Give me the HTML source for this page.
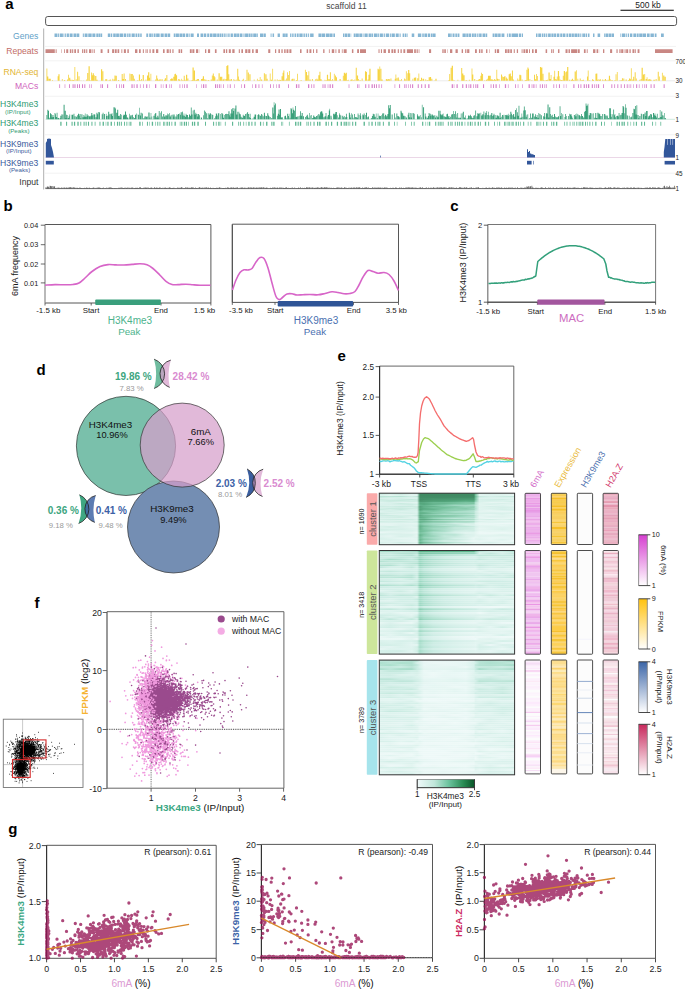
<!DOCTYPE html>
<html><head><meta charset="utf-8"><style>
html,body{margin:0;padding:0;background:#fff;}
svg{display:block;}
text{font-family:"Liberation Sans", sans-serif;}
</style></head><body>
<svg width="685" height="990" viewBox="0 0 685 990">
<rect width="685" height="990" fill="#fff"/>
<text x="5.3" y="8.6" font-size="15" fill="#000" font-weight="bold">a</text>
<text x="346.5" y="8.8" font-size="8.5" fill="#444" text-anchor="middle">scaffold 11</text>
<text x="648" y="8.2" font-size="8.5" fill="#222" text-anchor="middle">500 kb</text>
<line x1="620.5" y1="10.3" x2="673.8" y2="10.3" stroke="#000" stroke-width="1.1"/>
<rect x="45.6" y="16.5" width="631" height="9" rx="2.2" fill="none" stroke="#555" stroke-width="1"/>
<line x1="43.7" y1="28.5" x2="43.7" y2="189.5" stroke="#9a9a9a" stroke-width="0.8"/>
<line x1="45" y1="46.4" x2="676" y2="46.4" stroke="#ececec" stroke-width="0.7"/>
<line x1="45" y1="60.8" x2="676" y2="60.8" stroke="#ececec" stroke-width="0.7"/>
<line x1="45" y1="96.3" x2="676" y2="96.3" stroke="#ececec" stroke-width="0.7"/>
<line x1="45" y1="134.7" x2="676" y2="134.7" stroke="#ececec" stroke-width="0.7"/>
<line x1="45" y1="173.2" x2="676" y2="173.2" stroke="#ececec" stroke-width="0.7"/>
<text x="38.3" y="38.8" font-size="8.6" fill="#5f9fc8" text-anchor="end">Genes</text>
<text x="38.3" y="54" font-size="8.6" fill="#c26c66" text-anchor="end">Repeats</text>
<text x="38.3" y="74.6" font-size="8.6" fill="#e2b532" text-anchor="end">RNA-seq</text>
<text x="38.3" y="89.4" font-size="8.6" fill="#d063bd" text-anchor="end">MACs</text>
<text x="38.3" y="106.9" font-size="8.6" fill="#2f9a72" text-anchor="end">H3K4me3</text>
<text x="17.8" y="113.9" font-size="6.2" fill="#2f9a72" text-anchor="middle">(IP/Input)</text>
<text x="38.3" y="125.9" font-size="8.6" fill="#2f9a72" text-anchor="end">H3K4me3</text>
<text x="18.8" y="132.6" font-size="6.2" fill="#2f9a72" text-anchor="middle">(Peaks)</text>
<text x="38.3" y="146.6" font-size="8.6" fill="#3b5c9c" text-anchor="end">H3K9me3</text>
<text x="18.8" y="153.2" font-size="6.2" fill="#3b5c9c" text-anchor="middle">(IP/Input)</text>
<text x="38.3" y="165.7" font-size="8.6" fill="#3b5c9c" text-anchor="end">H3K9me3</text>
<text x="19.6" y="172.4" font-size="6.2" fill="#3b5c9c" text-anchor="middle">(Peaks)</text>
<text x="38.4" y="185.2" font-size="8.6" fill="#333" text-anchor="end">Input</text>
<text x="675.5" y="63.8" font-size="6.3" fill="#222">700</text>
<text x="675.5" y="83.2" font-size="6.3" fill="#222">30</text>
<text x="675.5" y="97.8" font-size="6.3" fill="#222">3</text>
<text x="675.5" y="121.8" font-size="6.3" fill="#222">1</text>
<text x="675.5" y="137.6" font-size="6.3" fill="#222">9</text>
<text x="675.5" y="160.2" font-size="6.3" fill="#222">1</text>
<text x="675.5" y="175.8" font-size="6.3" fill="#222">45</text>
<text x="675.5" y="190.8" font-size="6.3" fill="#222">1</text>
<path d="M54.5 33.5h2.53v3.5h-2.53zM57.52 33.5h1.4v3.5h-1.4zM59.7 33.5h3.21v3.5h-3.21zM63.5 33.5h0.88v3.5h-0.88zM65.03 33.5h0.87v3.5h-0.87zM66.66 33.5h2.27v3.5h-2.27zM69.64 33.5h2.99v3.5h-2.99zM73.49 33.5h2.68v3.5h-2.68zM76.59 33.5h2.71v3.5h-2.71zM82.8 33.5h1.06v3.5h-1.06zM84.58 33.5h2.98v3.5h-2.98zM88.24 33.5h3.43v3.5h-3.43zM92.35 33.5h3.04v3.5h-3.04zM96.29 33.5h2.36v3.5h-2.36zM98.99 33.5h1.42v3.5h-1.42zM100.76 33.5h1.43v3.5h-1.43zM107.8 33.5h2.52v3.5h-2.52zM110.88 33.5h1.37v3.5h-1.37zM113.2 33.5h2.55v3.5h-2.55zM116.17 33.5h2.77v3.5h-2.77zM119.5 33.5h3.47v3.5h-3.47zM123.66 33.5h2.65v3.5h-2.65zM127.15 33.5h1.42v3.5h-1.42zM129.09 33.5h1.52v3.5h-1.52zM131.58 33.5h3.17v3.5h-3.17zM135.5 33.5h1.87v3.5h-1.87zM137.99 33.5h1.52v3.5h-1.52zM140.2 33.5h1.51v3.5h-1.51zM146.3 33.5h1.88v3.5h-1.88zM149.18 33.5h2.18v3.5h-2.18zM151.69 33.5h1.1v3.5h-1.1zM153.64 33.5h1.94v3.5h-1.94zM156.14 33.5h3.49v3.5h-3.49zM160.61 33.5h3.12v3.5h-3.12zM164.54 33.5h2.64v3.5h-2.64zM167.67 33.5h2.53v3.5h-2.53zM173.74 33.5h1.51v3.5h-1.51zM175.68 33.5h3.26v3.5h-3.26zM179.45 33.5h2.53v3.5h-2.53zM182.38 33.5h2.86v3.5h-2.86zM186.09 33.5h2.23v3.5h-2.23zM188.85 33.5h0.85v3.5h-0.85zM190.61 33.5h3.05v3.5h-3.05zM197 33.5h2v3.5h-2zM200.5 33.5h2.87v3.5h-2.87zM204 33.5h2.28v3.5h-2.28zM207.2 33.5h1.94v3.5h-1.94zM209.82 33.5h2.77v3.5h-2.77zM213.1 33.5h3.49v3.5h-3.49zM217.2 33.5h2.2v3.5h-2.2zM219.85 33.5h1.71v3.5h-1.71zM222.03 33.5h1.39v3.5h-1.39zM224.16 33.5h1.42v3.5h-1.42zM226.48 33.5h0.99v3.5h-0.99zM228.24 33.5h1.38v3.5h-1.38zM230.58 33.5h2.34v3.5h-2.34zM233.77 33.5h2.98v3.5h-2.98zM237.12 33.5h1.96v3.5h-1.96zM239.71 33.5h2.77v3.5h-2.77zM243.46 33.5h1.07v3.5h-1.07zM245.07 33.5h3.13v3.5h-3.13zM248.63 33.5h2.01v3.5h-2.01zM251.13 33.5h1.47v3.5h-1.47zM253.22 33.5h3.13v3.5h-3.13zM256.68 33.5h1.12v3.5h-1.12zM260 33.5h3.3v3.5h-3.3zM263.72 33.5h2.11v3.5h-2.11zM270.6 33.5h0.96v3.5h-0.96zM272.55 33.5h1.52v3.5h-1.52zM277.62 33.5h2.3v3.5h-2.3zM282.64 33.5h2.26v3.5h-2.26zM285.24 33.5h2.38v3.5h-2.38zM290.1 33.5h1.3v3.5h-1.3zM292.17 33.5h1.44v3.5h-1.44zM294.53 33.5h1.46v3.5h-1.46zM296.73 33.5h1.93v3.5h-1.93zM299.33 33.5h3.32v3.5h-3.32zM303.45 33.5h1.44v3.5h-1.44zM305.66 33.5h1.61v3.5h-1.61zM308.1 33.5h1v3.5h-1zM310.1 33.5h3.49v3.5h-3.49zM318.43 33.5h3.17v3.5h-3.17zM322.02 33.5h3.05v3.5h-3.05zM325.8 33.5h3.47v3.5h-3.47zM329.57 33.5h3.01v3.5h-3.01zM333.34 33.5h1.66v3.5h-1.66zM343 33.5h1.09v3.5h-1.09zM344.58 33.5h2.43v3.5h-2.43zM347.46 33.5h2.51v3.5h-2.51zM350.61 33.5h0.59v3.5h-0.59zM353.7 33.5h1.94v3.5h-1.94zM355.95 33.5h2.88v3.5h-2.88zM359.31 33.5h2.8v3.5h-2.8zM362.71 33.5h0.83v3.5h-0.83zM364.46 33.5h3.24v3.5h-3.24zM368.58 33.5h2.37v3.5h-2.37zM371.34 33.5h1.63v3.5h-1.63zM373.83 33.5h3.12v3.5h-3.12zM377.4 33.5h1.47v3.5h-1.47zM379.72 33.5h3.19v3.5h-3.19zM383.65 33.5h1.22v3.5h-1.22zM385.77 33.5h3.44v3.5h-3.44zM390.12 33.5h0.87v3.5h-0.87zM391.52 33.5h3.31v3.5h-3.31zM395.74 33.5h2.99v3.5h-2.99zM399.58 33.5h1.09v3.5h-1.09zM402.6 33.5h1.4v3.5h-1.4zM404.62 33.5h1.62v3.5h-1.62zM406.71 33.5h0.86v3.5h-0.86zM411.73 33.5h2.53v3.5h-2.53zM417.88 33.5h3.42v3.5h-3.42zM422.27 33.5h1.52v3.5h-1.52zM424.39 33.5h2.77v3.5h-2.77zM427.88 33.5h2.18v3.5h-2.18zM430.77 33.5h1.49v3.5h-1.49zM432.56 33.5h3.04v3.5h-3.04zM448 33.5h2.8v3.5h-2.8zM451.36 33.5h0.99v3.5h-0.99zM452.88 33.5h1.65v3.5h-1.65zM455.33 33.5h1.61v3.5h-1.61zM457.53 33.5h1.89v3.5h-1.89zM462.51 33.5h3.24v3.5h-3.24zM466.26 33.5h2.28v3.5h-2.28zM469.04 33.5h1.96v3.5h-1.96zM471.76 33.5h2.06v3.5h-2.06zM474.26 33.5h2.08v3.5h-2.08zM477.2 33.5h1.26v3.5h-1.26zM479.12 33.5h2.51v3.5h-2.51zM482.5 33.5h2.83v3.5h-2.83zM485.78 33.5h1.34v3.5h-1.34zM487.59 33.5h0.11v3.5h-0.11zM492.6 33.5h1.92v3.5h-1.92zM494.96 33.5h2.68v3.5h-2.68zM498.11 33.5h2.57v3.5h-2.57zM501.5 33.5h2.88v3.5h-2.88zM506.92 33.5h0.94v3.5h-0.94zM508.75 33.5h2.03v3.5h-2.03zM511.55 33.5h3.45v3.5h-3.45zM515 33.5h3.21v3.5h-3.21zM519.01 33.5h2.16v3.5h-2.16zM521.86 33.5h1.14v3.5h-1.14zM536 33.5h1.5v3.5h-1.5zM538.25 33.5h2.87v3.5h-2.87zM541.85 33.5h1.54v3.5h-1.54zM543.89 33.5h1.53v3.5h-1.53zM546.11 33.5h1.17v3.5h-1.17zM548.07 33.5h2.71v3.5h-2.71zM551.36 33.5h2.27v3.5h-2.27zM554.07 33.5h1.93v3.5h-1.93zM556.71 33.5h2.68v3.5h-2.68zM560.22 33.5h1.83v3.5h-1.83zM562.6 33.5h2.83v3.5h-2.83zM566.4 33.5h1.93v3.5h-1.93zM569.01 33.5h2.43v3.5h-2.43zM571.9 33.5h1.98v3.5h-1.98zM574.41 33.5h2.63v3.5h-2.63zM577.46 33.5h2.06v3.5h-2.06zM580.25 33.5h0.87v3.5h-0.87zM581.82 33.5h0.87v3.5h-0.87zM583.09 33.5h2.05v3.5h-2.05zM585.7 33.5h1.37v3.5h-1.37zM587.91 33.5h1.59v3.5h-1.59zM593 33.5h1.48v3.5h-1.48zM597.6 33.5h2.56v3.5h-2.56zM604.18 33.5h0.86v3.5h-0.86zM605.43 33.5h2.61v3.5h-2.61zM608.49 33.5h2.69v3.5h-2.69zM611.59 33.5h2.41v3.5h-2.41zM620.39 33.5h0.87v3.5h-0.87zM622.03 33.5h3.39v3.5h-3.39zM626.22 33.5h1.01v3.5h-1.01zM627.96 33.5h1.08v3.5h-1.08zM629.93 33.5h2.42v3.5h-2.42zM633.34 33.5h2.91v3.5h-2.91zM636.86 33.5h1.8v3.5h-1.8zM639.2 33.5h3.09v3.5h-3.09zM642.66 33.5h3.39v3.5h-3.39zM646.94 33.5h2.71v3.5h-2.71zM650.46 33.5h3.41v3.5h-3.41zM654.73 33.5h1.77v3.5h-1.77zM661 33.5h2.77v3.5h-2.77z" stroke="none" fill="#86b6d4" stroke-width="1"/>
<path d="M45.5 49.3h2.11v3.6h-2.11zM49.62 49.3h1.11v3.6h-1.11zM52.31 49.3h1.34v3.6h-1.34zM55.62 49.3h1.01v3.6h-1.01zM61.51 49.3h0.49v3.6h-0.49zM64 49.3h0.85v3.6h-0.85zM66.23 49.3h1.99v3.6h-1.99zM69.85 49.3h1.53v3.6h-1.53zM72.13 49.3h1.08v3.6h-1.08zM74.3 49.3h1.69v3.6h-1.69zM77.44 49.3h1.42v3.6h-1.42zM79.99 49.3h0.01v3.6h-0.01zM82 49.3h0.91v3.6h-0.91zM83.7 49.3h1.61v3.6h-1.61zM86.2 49.3h1.07v3.6h-1.07zM89.03 49.3h2.36v3.6h-2.36zM92.44 49.3h0.87v3.6h-0.87zM94.28 49.3h0.72v3.6h-0.72zM100.65 49.3h1.89v3.6h-1.89zM107.58 49.3h1.5v3.6h-1.5zM112.12 49.3h2.1v3.6h-2.1zM114.94 49.3h1.77v3.6h-1.77zM117.55 49.3h1.66v3.6h-1.66zM121.4 49.3h0.9v3.6h-0.9zM123.87 49.3h2.04v3.6h-2.04zM127.35 49.3h1.47v3.6h-1.47zM135 49.3h2.38v3.6h-2.38zM138.98 49.3h1.74v3.6h-1.74zM142.83 49.3h1.05v3.6h-1.05zM145.54 49.3h0.97v3.6h-0.97zM147.23 49.3h0.7v3.6h-0.7zM149.48 49.3h1.2v3.6h-1.2zM152.41 49.3h1.9v3.6h-1.9zM156 49.3h2.27v3.6h-2.27zM162.98 49.3h1.63v3.6h-1.63zM166.66 49.3h2.11v3.6h-2.11zM169.63 49.3h1.22v3.6h-1.22zM172.36 49.3h1.19v3.6h-1.19zM178.54 49.3h1.54v3.6h-1.54zM180.75 49.3h1.43v3.6h-1.43zM189.85 49.3h1.84v3.6h-1.84zM192.36 49.3h1.99v3.6h-1.99zM195.99 49.3h2.26v3.6h-2.26zM199.78 49.3h0.22v3.6h-0.22zM205 49.3h1.29v3.6h-1.29zM207.96 49.3h2.16v3.6h-2.16zM214.92 49.3h1.64v3.6h-1.64zM223.39 49.3h1.62v3.6h-1.62zM225.91 49.3h1.32v3.6h-1.32zM228.82 49.3h1.99v3.6h-1.99zM232.29 49.3h2.28v3.6h-2.28zM238.77 49.3h1.11v3.6h-1.11zM241.36 49.3h1.64v3.6h-1.64zM245.18 49.3h2.25v3.6h-2.25zM248.22 49.3h2.11v3.6h-2.11zM252.08 49.3h1.57v3.6h-1.57zM255.59 49.3h2.37v3.6h-2.37zM268.24 49.3h2.04v3.6h-2.04zM274.99 49.3h1.21v3.6h-1.21zM278.4 49.3h1.53v3.6h-1.53zM281.39 49.3h1.29v3.6h-1.29zM284.15 49.3h1.47v3.6h-1.47zM286.52 49.3h1.89v3.6h-1.89zM289.38 49.3h2.02v3.6h-2.02zM300 49.3h1.54v3.6h-1.54zM306.65 49.3h1.45v3.6h-1.45zM309.43 49.3h1.93v3.6h-1.93zM313 49.3h0.96v3.6h-0.96zM316.12 49.3h1.28v3.6h-1.28zM323.15 49.3h1.35v3.6h-1.35zM328.9 49.3h0.82v3.6h-0.82zM331.79 49.3h2.4v3.6h-2.4zM335.48 49.3h0.87v3.6h-0.87zM338.34 49.3h1.45v3.6h-1.45zM341.84 49.3h0.78v3.6h-0.78zM343.69 49.3h1.31v3.6h-1.31zM345 49.3h1.66v3.6h-1.66zM351.9 49.3h1.48v3.6h-1.48zM357.15 49.3h1.85v3.6h-1.85zM360.31 49.3h1.29v3.6h-1.29zM363.22 49.3h1.42v3.6h-1.42zM378.5 49.3h1.04v3.6h-1.04zM380.91 49.3h1.1v3.6h-1.1zM383.53 49.3h2.39v3.6h-2.39zM388.09 49.3h1.82v3.6h-1.82zM391.41 49.3h1.87v3.6h-1.87zM393.96 49.3h1.73v3.6h-1.73zM397.73 49.3h1.19v3.6h-1.19zM400.49 49.3h1.3v3.6h-1.3zM403.38 49.3h1.85v3.6h-1.85zM406.89 49.3h2.13v3.6h-2.13zM411.06 49.3h1.8v3.6h-1.8zM414.17 49.3h1.69v3.6h-1.69zM416.59 49.3h1.2v3.6h-1.2zM418.68 49.3h0.72v3.6h-0.72zM429.04 49.3h2.07v3.6h-2.07zM442.33 49.3h1.32v3.6h-1.32zM444.27 49.3h1.61v3.6h-1.61zM447.56 49.3h0.44v3.6h-0.44zM450 49.3h2.3v3.6h-2.3zM455.51 49.3h2.26v3.6h-2.26zM461.65 49.3h1.39v3.6h-1.39zM465.16 49.3h1.22v3.6h-1.22zM467.14 49.3h2.21v3.6h-2.21zM475 49.3h1.84v3.6h-1.84zM478.95 49.3h1.41v3.6h-1.41zM481.21 49.3h1.41v3.6h-1.41zM486.05 49.3h1.33v3.6h-1.33zM489.5 49.3h0.5v3.6h-0.5zM494.8 49.3h1.38v3.6h-1.38zM496.97 49.3h2.14v3.6h-2.14zM505 49.3h1.79v3.6h-1.79zM507.43 49.3h2.04v3.6h-2.04zM510.26 49.3h1.66v3.6h-1.66zM513.75 49.3h1.05v3.6h-1.05zM516.79 49.3h1.26v3.6h-1.26zM521.63 49.3h0.92v3.6h-0.92zM523.43 49.3h1.82v3.6h-1.82zM525.88 49.3h2.04v3.6h-2.04zM529.04 49.3h0.96v3.6h-0.96zM532 49.3h1.59v3.6h-1.59zM534.96 49.3h2.02v3.6h-2.02zM545.62 49.3h1.51v3.6h-1.51zM551.08 49.3h0.84v3.6h-0.84zM552.63 49.3h1.17v3.6h-1.17zM557.97 49.3h1.47v3.6h-1.47zM565.53 49.3h2.01v3.6h-2.01zM568.49 49.3h1.47v3.6h-1.47zM571.1 49.3h1.47v3.6h-1.47zM573.32 49.3h1.43v3.6h-1.43zM577.61 49.3h2.11v3.6h-2.11zM583.92 49.3h1.7v3.6h-1.7zM586.75 49.3h0.91v3.6h-0.91zM593.05 49.3h2.35v3.6h-2.35zM596.56 49.3h1.68v3.6h-1.68zM599.89 49.3h0.11v3.6h-0.11zM603 49.3h1.32v3.6h-1.32zM610.07 49.3h2.09v3.6h-2.09zM616.47 49.3h1.15v3.6h-1.15zM619.35 49.3h1.23v3.6h-1.23zM621.18 49.3h2.18v3.6h-2.18zM624.6 49.3h0.94v3.6h-0.94zM626.19 49.3h1.97v3.6h-1.97zM629.43 49.3h1.28v3.6h-1.28zM632.46 49.3h2.02v3.6h-2.02zM635.22 49.3h0.79v3.6h-0.79zM637.6 49.3h1.85v3.6h-1.85zM655 49.3h1.53v3.6h-1.53zM657.56 49.3h1.98v3.6h-1.98zM660.83 49.3h1.18v3.6h-1.18zM663.39 49.3h1.83v3.6h-1.83zM666.46 49.3h1.72v3.6h-1.72zM669.26 49.3h1.06v3.6h-1.06zM671.33 49.3h1.26v3.6h-1.26zM45.8 49.3h9v3.6h-9zM360 49.3h6v3.6h-6zM408 49.3h5v3.6h-5zM572 49.3h5v3.6h-5zM655 49.3h17v3.6h-17z" stroke="none" fill="#c98783" stroke-width="1"/>
<line x1="45.5" y1="80.8" x2="675" y2="80.8" stroke="#dddddd" stroke-width="0.6"/>
<path d="M46.5 68.44h0.8v12.36h-0.8zM47.3 76.44h1v4.36h-1zM48.54 78.83h1.2v1.97h-1.2zM49.76 78.66h1v2.14h-1zM52.22 79.92h0.8v0.88h-0.8zM57.62 76.36h1.2v4.44h-1.2zM58.39 74.34h1.2v6.46h-1.2zM61.86 78.93h0.8v1.87h-0.8zM63.95 80.1h1.2v0.7h-1.2zM67.01 79.58h1.2v1.22h-1.2zM68.03 74.77h0.8v6.03h-0.8zM69.09 77.63h1.2v3.17h-1.2zM69.9 79.82h1v0.98h-1zM71.38 79.8h1.2v1h-1.2zM72.17 80.27h1v0.53h-1zM73.06 79.95h1v0.85h-1zM74.46 67.12h0.8v13.68h-0.8zM75.81 79.22h0.8v1.58h-0.8zM77.12 71.85h1v8.95h-1zM78.52 76.33h1v4.47h-1zM80.5 80.4h1v0.4h-1zM82.91 80.48h0.8v0.32h-0.8zM86.23 79.42h0.8v1.38h-0.8zM87.22 72.89h1v7.91h-1zM88.53 66.27h1.2v14.53h-1.2zM89.72 80.32h1v0.48h-1zM91.06 72.47h0.8v8.33h-0.8zM91.92 75.34h0.8v5.46h-0.8zM92.65 73.35h1.2v7.45h-1.2zM93.71 75.24h1v5.56h-1zM95.16 76.05h1.2v4.75h-1.2zM96.45 79.86h1.2v0.94h-1.2zM101 69.3h1.2v11.5h-1.2zM102.39 71.33h1v9.47h-1zM105.19 79.13h1.2v1.67h-1.2zM106.27 79.13h1v1.67h-1zM108.6 79.9h0.8v0.9h-0.8zM109.63 79.55h1.2v1.25h-1.2zM112.36 78.77h0.8v2.03h-0.8zM113.51 79.58h1v1.22h-1zM114.46 75.44h1v5.36h-1zM115.6 75.63h1.2v5.17h-1.2zM118 80.03h1.2v0.77h-1.2zM121.69 73.98h1v6.82h-1zM122.67 79.11h1v1.69h-1zM123.6 73.53h1v7.27h-1zM124.95 79.09h1v1.71h-1zM129.46 73.55h0.8v7.25h-0.8zM130.65 73.9h1.2v6.9h-1.2zM132.08 74.02h0.8v6.78h-0.8zM133.11 75.6h0.8v5.2h-0.8zM133.81 78.73h1v2.07h-1zM137.42 79.96h0.8v0.84h-0.8zM138.85 74.46h1.2v6.34h-1.2zM140.14 80.24h0.8v0.56h-0.8zM141.17 78.9h0.8v1.9h-0.8zM142.67 75.01h1.2v5.79h-1.2zM145.54 79.42h0.8v1.38h-0.8zM146.98 75.49h1.2v5.31h-1.2zM148.12 72.23h1.2v8.57h-1.2zM149.19 77.8h0.8v3h-0.8zM150.48 73.71h0.8v7.09h-0.8zM155.18 79.53h0.8v1.27h-0.8zM156.2 75.59h1v5.21h-1zM157.16 78.45h0.8v2.35h-0.8zM158.22 79.87h1.2v0.93h-1.2zM159.49 79.26h1.2v1.54h-1.2zM161.46 79.2h1.2v1.6h-1.2zM163.98 79.75h0.8v1.05h-0.8zM164.86 78.13h1.2v2.67h-1.2zM166.35 75.12h1v5.68h-1zM170.26 79h1.2v1.8h-1.2zM171.32 78.25h1.2v2.55h-1.2zM172.11 78.95h0.8v1.85h-0.8zM173.26 76.7h1.2v4.1h-1.2zM174.32 74.29h1v6.51h-1zM175.09 73.73h1v7.07h-1zM175.9 75.24h1.2v5.56h-1.2zM178.24 78.95h1.2v1.85h-1.2zM179.12 79.69h1.2v1.11h-1.2zM181.32 78.73h0.8v2.07h-0.8zM182.25 80.24h1.2v0.56h-1.2zM183.73 75.68h1v5.12h-1zM184.79 79.73h0.8v1.07h-0.8zM186.03 74.87h1.2v5.93h-1.2zM187.42 78.61h1v2.19h-1zM189.42 80.46h1v0.34h-1zM191.53 80.06h1v0.74h-1zM192.51 67.48h1.2v13.32h-1.2zM193.82 70.38h1.2v10.42h-1.2zM195.14 80.28h0.8v0.52h-0.8zM195.89 79.65h1.2v1.15h-1.2zM197.15 79.09h1v1.71h-1zM198.2 79.07h0.8v1.73h-0.8zM201.06 79.03h1v1.77h-1zM201.95 78.82h1.2v1.98h-1.2zM202.83 76.22h1.2v4.58h-1.2zM204.23 79.36h1v1.44h-1zM205.38 79.85h1.2v0.95h-1.2zM207.57 80.22h1v0.58h-1zM208.42 80.04h0.8v0.76h-0.8zM210.7 79.46h1v1.34h-1zM211.85 75.43h0.8v5.37h-0.8zM212.81 73.5h1v7.3h-1zM213.59 75.92h1v4.88h-1zM214.59 77.33h0.8v3.47h-0.8zM216.72 79.59h1v1.21h-1zM218.53 73.34h1.2v7.46h-1.2zM220.03 76.8h1.2v4h-1.2zM221.29 76.82h1v3.98h-1zM222.61 79.49h1v1.31h-1zM223.56 78.82h1v1.98h-1zM225.42 78.93h1v1.87h-1zM226.37 66.11h1.2v14.69h-1.2zM227.18 65.25h1.2v15.55h-1.2zM228.46 74.3h0.8v6.5h-0.8zM229.46 79.55h1.2v1.25h-1.2zM230.92 79.05h1v1.75h-1zM233.48 78.99h0.8v1.81h-0.8zM234.29 80.15h1.2v0.65h-1.2zM235.79 79.51h0.8v1.29h-0.8zM237.24 68.85h1v11.95h-1zM238.05 76.43h0.8v4.37h-0.8zM238.76 79.79h1.2v1.01h-1.2zM242.11 79.72h0.8v1.08h-0.8zM243.24 78.64h0.8v2.16h-0.8zM245.38 80.03h0.8v0.77h-0.8zM246.5 69.85h1v10.95h-1zM247.85 72.41h1v8.39h-1zM249.32 74.17h1.2v6.63h-1.2zM253.74 79.45h0.8v1.35h-0.8zM256.93 78.64h0.8v2.16h-0.8zM258.35 79.96h1.2v0.84h-1.2zM259.76 77.08h0.8v3.72h-0.8zM261.01 79.47h1.2v1.33h-1.2zM263.86 73.16h1v7.64h-1zM265.3 74.25h1.2v6.55h-1.2zM266.67 78.8h1v2h-1zM269.77 73.45h0.8v7.35h-0.8zM270.82 79.79h1.2v1.01h-1.2zM272.28 68.82h0.8v11.98h-0.8zM274.55 79.45h1v1.35h-1zM276.82 79.32h0.8v1.48h-0.8zM278.09 80.21h1.2v0.59h-1.2zM279.42 79.76h1v1.04h-1zM280.21 79.91h1v0.89h-1zM281.52 76.19h1v4.61h-1zM282.57 72.68h0.8v8.12h-0.8zM283.35 70.62h1v10.18h-1zM284.74 79.71h0.8v1.09h-0.8zM286.02 78.61h0.8v2.19h-0.8zM287.17 72.2h0.8v8.6h-0.8zM288.09 75.03h0.8v5.77h-0.8zM289.14 70.95h0.8v9.85h-0.8zM291.4 79.33h1v1.47h-1zM292.19 78.7h1v2.1h-1zM293.56 78.86h1v1.94h-1zM295.92 80.1h1v0.7h-1zM297.1 73.84h0.8v6.96h-0.8zM300.6 80.04h1v0.76h-1zM304.94 69.85h0.8v10.95h-0.8zM305.99 72h1v8.8h-1zM307.23 75.34h1v5.46h-1zM308.46 71.17h0.8v9.63h-0.8zM309.51 79.39h1.2v1.41h-1.2zM311.87 79h1v1.8h-1zM315.1 79.24h0.8v1.56h-0.8zM316.31 78.63h1.2v2.17h-1.2zM317.53 79.8h1v1h-1zM318.32 75.21h1.2v5.59h-1.2zM319.43 71.65h1v9.15h-1zM320.43 79.21h1.2v1.59h-1.2zM321.53 80.45h0.8v0.35h-0.8zM324.52 79.85h0.8v0.95h-0.8zM325.64 80.31h1.2v0.49h-1.2zM326.89 74.67h1.2v6.13h-1.2zM327.69 79.33h1.2v1.47h-1.2zM329.03 79.19h1.2v1.61h-1.2zM329.87 72.16h1v8.64h-1zM330.75 80.15h1.2v0.65h-1.2zM331.98 79.1h0.8v1.7h-0.8zM333.04 80.49h0.8v0.31h-0.8zM333.9 73.77h0.8v7.03h-0.8zM335.06 75.44h1v5.36h-1zM336.02 77.13h1v3.67h-1zM339.49 78.89h1.2v1.91h-1.2zM342.84 75.71h0.8v5.09h-0.8zM343.79 72.71h1.2v8.09h-1.2zM344.8 73.65h1v7.15h-1zM345.65 72.71h1.2v8.09h-1.2zM347.09 80.18h1v0.62h-1zM347.91 79.64h0.8v1.16h-0.8zM350.39 79.77h1.2v1.03h-1.2zM351.49 79.2h1v1.6h-1zM352.76 80.18h1.2v0.62h-1.2zM354.42 79.48h0.8v1.32h-0.8zM355.74 67.8h1v13h-1zM356.88 75.54h1.2v5.26h-1.2zM358.24 78.94h0.8v1.86h-0.8zM359.55 80.08h1v0.72h-1zM361.63 78.6h1v2.2h-1zM364.97 71.31h1.2v9.49h-1.2zM366.16 71.98h0.8v8.82h-0.8zM367.51 79.44h1.2v1.36h-1.2zM368.44 74.7h1.2v6.1h-1.2zM369.37 68.86h1.2v11.94h-1.2zM377.52 68.85h1v11.95h-1zM378.33 69.43h1v11.37h-1zM379.4 66.44h0.8v14.36h-0.8zM380.42 68.64h1v12.16h-1zM381.48 79.39h1.2v1.41h-1.2zM385.86 79.06h1v1.74h-1zM386.78 79.79h1.2v1.01h-1.2zM387.58 79.12h1.2v1.68h-1.2zM388.89 79.31h1v1.49h-1zM390.43 78.62h1v2.18h-1zM394.75 78.78h0.8v2.02h-0.8zM395.49 74.38h0.8v6.42h-0.8zM396.53 78.2h0.8v2.6h-0.8zM397.61 77.41h1.2v3.39h-1.2zM398.67 79.85h0.8v0.95h-0.8zM400.16 80.25h0.8v0.55h-0.8zM401.04 78.97h0.8v1.83h-0.8zM404.1 78.61h0.8v2.19h-0.8zM404.86 79.34h0.8v1.46h-0.8zM405.91 71.31h0.8v9.49h-0.8zM407.35 73.14h0.8v7.66h-0.8zM408.12 70.08h1.2v10.72h-1.2zM409.4 73.27h0.8v7.53h-0.8zM412.47 78.71h0.8v2.09h-0.8zM413.85 77.85h1.2v2.95h-1.2zM415.04 77.43h1.2v3.37h-1.2zM417.25 78.13h1v2.67h-1zM418.46 73.48h0.8v7.32h-0.8zM419.95 80.1h1.2v0.7h-1.2zM420.98 77.77h1v3.03h-1zM422.45 78.7h0.8v2.1h-0.8zM423.16 78.75h1v2.05h-1zM425.36 79.17h0.8v1.63h-0.8zM426.58 80.21h0.8v0.59h-0.8zM427.52 80.11h0.8v0.69h-0.8zM428.65 77.17h1.2v3.63h-1.2zM429.9 76.92h1.2v3.88h-1.2zM431.36 78.63h1v2.17h-1zM434.12 80.48h0.8v0.32h-0.8zM435.38 78.69h1.2v2.11h-1.2zM448.5 79.91h1v0.89h-1zM449.3 73.92h0.8v6.88h-0.8zM450.62 67.76h1v13.04h-1zM451.74 65.85h1.2v14.95h-1.2zM452.5 79.82h1v0.98h-1zM453.89 80.2h0.8v0.6h-0.8zM457.5 79.81h0.8v0.99h-0.8zM461.23 68.1h1v12.7h-1zM462.14 73.62h1.2v7.18h-1.2zM463.38 75.14h1.2v5.66h-1.2zM465.62 79.96h1v0.84h-1zM466.58 80.48h0.8v0.32h-0.8zM468.81 79.8h1v1h-1zM471.59 68.48h0.8v12.32h-0.8zM472.3 74.62h1v6.18h-1zM474.22 79.06h1v1.74h-1zM476.38 80.05h1v0.75h-1zM477.85 80.09h1v0.71h-1zM478.62 78.95h1.2v1.85h-1.2zM479.65 79.61h1.2v1.19h-1.2zM480.42 75.87h1v4.93h-1zM481.18 72.68h0.8v8.12h-0.8zM482.07 73.95h1v6.85h-1zM484.28 80.36h0.8v0.44h-0.8zM485.88 79.65h1v1.15h-1zM486.91 78.67h0.8v2.13h-0.8zM487.97 75.75h0.8v5.05h-0.8zM488.79 75.86h1.2v4.94h-1.2zM489.98 75.74h0.8v5.06h-0.8zM490.75 79.82h1.2v0.98h-1.2zM491.49 78.94h0.8v1.86h-0.8zM492.21 79.64h1.2v1.16h-1.2zM493.35 80.31h0.8v0.49h-0.8zM494.15 79.02h0.8v1.78h-0.8zM494.95 79.74h1.2v1.06h-1.2zM496.4 69.63h0.8v11.17h-0.8zM497.12 78.79h1v2.01h-1zM498.47 78.89h1v1.91h-1zM501.05 74.44h1v6.36h-1zM502.3 76.6h0.8v4.2h-0.8zM503.22 77.11h1.2v3.69h-1.2zM504.42 75.98h1v4.82h-1zM505.82 77.57h1v3.23h-1zM506.63 78.82h1.2v1.98h-1.2zM508.67 74.36h1.2v6.44h-1.2zM509.65 73.44h1.2v7.36h-1.2zM510.76 76.18h1v4.62h-1zM511.93 70.51h1v10.29h-1zM512.68 79.51h1.2v1.29h-1.2zM517.31 78.61h0.8v2.19h-0.8zM518.47 79.72h0.8v1.08h-0.8zM519.31 74.65h1.2v6.15h-1.2zM520.3 75.2h1v5.6h-1zM521.75 79.43h0.8v1.37h-0.8zM524.6 80.17h0.8v0.63h-0.8zM525.37 80.08h1.2v0.72h-1.2zM526.45 69.71h0.8v11.09h-0.8zM527.43 67.51h1v13.29h-1zM528.17 68.65h0.8v12.15h-0.8zM529.49 79.01h0.8v1.79h-0.8zM531.51 79.93h0.8v0.87h-0.8zM534.04 74.66h1v6.14h-1zM534.88 79.26h1.2v1.54h-1.2zM536.21 73.9h0.8v6.9h-0.8zM537.21 76.1h0.8v4.7h-0.8zM539.95 66.94h1.2v13.86h-1.2zM540.68 67.71h1.2v13.09h-1.2zM541.56 67.54h0.8v13.26h-0.8zM542.52 73.7h1v7.1h-1zM543.35 80.17h1.2v0.63h-1.2zM545.56 80.1h1.2v0.7h-1.2zM546.31 80.29h0.8v0.51h-0.8zM547.05 79.7h0.8v1.1h-0.8zM548.46 72.54h1.2v8.26h-1.2zM549.46 79.12h1.2v1.68h-1.2zM550.68 75.05h0.8v5.75h-0.8zM552.02 80.46h1v0.34h-1zM553.48 76.85h1v3.95h-1zM554.31 70.81h0.8v9.99h-0.8zM555.28 78.96h1.2v1.84h-1.2zM556.01 80.05h1v0.75h-1zM556.83 76.58h0.8v4.22h-0.8zM557.86 70.93h1.2v9.87h-1.2zM558.77 76.33h0.8v4.47h-0.8zM559.78 79.57h0.8v1.23h-0.8zM560.77 79.94h1.2v0.86h-1.2zM561.97 80.32h0.8v0.48h-0.8zM562.81 75.87h0.8v4.93h-0.8zM563.76 71.04h1.2v9.76h-1.2zM564.67 72.25h1v8.55h-1zM566.08 71.56h1v9.24h-1zM567.13 66.91h1.2v13.89h-1.2zM569.11 79.85h1.2v0.95h-1.2zM571.03 79.76h1.2v1.04h-1.2zM572.06 78.85h1v1.95h-1zM573.22 79.93h1v0.87h-1zM574.64 71.61h1.2v9.19h-1.2zM575.98 70.31h0.8v10.49h-0.8zM577.44 78.7h0.8v2.1h-0.8zM579.72 78.62h1v2.18h-1zM581.4 79.89h1.2v0.91h-1.2zM582.83 79.76h1v1.04h-1zM586.97 76.55h0.8v4.25h-0.8zM587.79 70.4h0.8v10.4h-0.8zM589.23 80.31h1v0.49h-1zM592.02 79.26h1.2v1.54h-1.2zM593.21 79.98h0.8v0.82h-0.8zM595.43 73.85h1.2v6.95h-1.2zM596.32 73.61h1v7.19h-1zM597.03 79.85h1v0.95h-1zM598.41 79.27h0.8v1.53h-0.8zM599.21 79.64h1v1.16h-1zM600.13 79.27h0.8v1.53h-0.8zM602.21 79.52h1v1.28h-1zM603.57 80.2h1v0.6h-1zM604.83 79.02h1.2v1.78h-1.2zM606.24 80.13h0.8v0.67h-0.8zM607.61 79.63h1v1.17h-1zM608.87 75.65h1.2v5.15h-1.2zM609.89 79.28h0.8v1.52h-0.8zM610.89 80.16h1v0.64h-1zM612.05 80.19h1v0.61h-1zM614.28 80.19h1.2v0.61h-1.2zM615.61 74.15h0.8v6.65h-0.8zM616.85 71.9h0.8v8.9h-0.8zM619.49 80.25h0.8v0.55h-0.8zM620.67 80.02h1v0.78h-1zM621.94 78.35h1v2.45h-1zM623.32 78.58h1v2.22h-1zM625.58 79.53h1.2v1.27h-1.2zM628.2 79.96h1.2v0.84h-1.2zM628.99 78.62h1.2v2.18h-1.2zM629.95 79.25h1.2v1.55h-1.2zM630.89 68.28h0.8v12.52h-0.8zM632.23 79.4h1.2v1.4h-1.2zM633.19 76.71h1v4.09h-1zM634.68 72.23h1v8.57h-1zM635.97 78.61h0.8v2.19h-0.8zM639.28 79.76h1v1.04h-1zM640.65 78.99h0.8v1.81h-0.8zM641.59 67.77h1.2v13.03h-1.2zM642.93 74.54h1.2v6.26h-1.2zM644.35 74.06h0.8v6.74h-0.8zM645.65 79h1v1.8h-1zM646.65 77.14h0.8v3.66h-0.8zM647.72 79.42h1.2v1.38h-1.2zM648.48 79.55h1.2v1.25h-1.2zM649.49 79.02h0.8v1.78h-0.8zM650.3 79.72h1.2v1.08h-1.2zM653.37 79.87h0.8v0.93h-0.8zM654.32 79.64h0.8v1.16h-0.8zM655.63 79.05h1v1.75h-1zM657.76 71.87h1v8.93h-1zM659.23 76.45h0.8v4.35h-0.8zM661.93 72.77h0.8v8.03h-0.8zM663.17 75.39h1.2v5.41h-1.2zM664.57 76.75h1.2v4.05h-1.2z" stroke="none" fill="#f6d443" stroke-width="1"/>
<path d="M59.26 84.2h0.82v3.8h-0.82zM64.66 84.2h0.64v3.8h-0.64zM69.06 84.2h0.93v3.8h-0.93zM72.58 84.2h1.03v3.8h-1.03zM74.44 84.2h1.05v3.8h-1.05zM76.98 84.2h0.94v3.8h-0.94zM78.99 84.2h1.01v3.8h-1.01zM82 84.2h1.03v3.8h-1.03zM84.32 84.2h0.98v3.8h-0.98zM89.19 84.2h0.59v3.8h-0.59zM90.94 84.2h0.66v3.8h-0.66zM100 84.2h0.53v3.8h-0.53zM101.71 84.2h1.25v3.8h-1.25zM107.1 84.2h1.04v3.8h-1.04zM116 84.2h0.7v3.8h-0.7zM119.28 84.2h0.74v3.8h-0.74zM121 84.2h0.64v3.8h-0.64zM122.96 84.2h1.14v3.8h-1.14zM131.46 84.2h1.18v3.8h-1.18zM133.75 84.2h0.79v3.8h-0.79zM136.45 84.2h1.2v3.8h-1.2zM139.92 84.2h0.65v3.8h-0.65zM143.1 84.2h0.72v3.8h-0.72zM146.15 84.2h1.14v3.8h-1.14zM149.52 84.2h0.48v3.8h-0.48zM155 84.2h1.25v3.8h-1.25zM160.8 84.2h0.65v3.8h-0.65zM162.89 84.2h0.52v3.8h-0.52zM165.72 84.2h1.28v3.8h-1.28zM169.45 84.2h0.59v3.8h-0.59zM170.93 84.2h0.71v3.8h-0.71zM179.54 84.2h0.77v3.8h-0.77zM182.38 84.2h0.58v3.8h-0.58zM184.2 84.2h0.78v3.8h-0.78zM186.47 84.2h1.17v3.8h-1.17zM196 84.2h0.54v3.8h-0.54zM201.17 84.2h0.56v3.8h-0.56zM202.96 84.2h1.28v3.8h-1.28zM205.44 84.2h1.01v3.8h-1.01zM215 84.2h1.19v3.8h-1.19zM217.2 84.2h0.9v3.8h-0.9zM219.08 84.2h0.83v3.8h-0.83zM220.71 84.2h0.57v3.8h-0.57zM223.2 84.2h0.74v3.8h-0.74zM227.61 84.2h0.54v3.8h-0.54zM229.77 84.2h0.95v3.8h-0.95zM234.4 84.2h0.6v3.8h-0.6zM241.29 84.2h0.63v3.8h-0.63zM244.01 84.2h1.08v3.8h-1.08zM252.1 84.2h0.59v3.8h-0.59zM255.16 84.2h1.17v3.8h-1.17zM258.51 84.2h0.86v3.8h-0.86zM261.9 84.2h0.61v3.8h-0.61zM270 84.2h0.89v3.8h-0.89zM273.34 84.2h0.64v3.8h-0.64zM276.1 84.2h0.6v3.8h-0.6zM278.58 84.2h1.21v3.8h-1.21zM288 84.2h0.86v3.8h-0.86zM295.95 84.2h1.25v3.8h-1.25zM298.36 84.2h1v3.8h-1zM308.01 84.2h1.27v3.8h-1.27zM311.32 84.2h0.76v3.8h-0.76zM313.52 84.2h0.88v3.8h-0.88zM322.53 84.2h0.92v3.8h-0.92zM324.51 84.2h1.04v3.8h-1.04zM327.7 84.2h0.63v3.8h-0.63zM329.58 84.2h1.17v3.8h-1.17zM332.08 84.2h1.1v3.8h-1.1zM348.64 84.2h0.73v3.8h-0.73zM357.07 84.2h0.75v3.8h-0.75zM358.64 84.2h0.7v3.8h-0.7zM365.18 84.2h1.06v3.8h-1.06zM368.41 84.2h0.94v3.8h-0.94zM371.54 84.2h1.27v3.8h-1.27zM373.93 84.2h1.05v3.8h-1.05zM376.09 84.2h0.91v3.8h-0.91zM378.57 84.2h0.95v3.8h-0.95zM381.37 84.2h0.7v3.8h-0.7zM394.6 84.2h0.62v3.8h-0.62zM399.05 84.2h1.03v3.8h-1.03zM404.07 84.2h0.68v3.8h-0.68zM405.67 84.2h0.9v3.8h-0.9zM408.34 84.2h0.57v3.8h-0.57zM410.1 84.2h0.77v3.8h-0.77zM412.06 84.2h1.1v3.8h-1.1zM417.73 84.2h1.04v3.8h-1.04zM421.19 84.2h0.99v3.8h-0.99zM424.71 84.2h1.05v3.8h-1.05zM428.2 84.2h1.26v3.8h-1.26zM451.69 84.2h1.27v3.8h-1.27zM453.77 84.2h0.55v3.8h-0.55zM456.52 84.2h1.19v3.8h-1.19zM462.18 84.2h1.12v3.8h-1.12zM465.8 84.2h1.1v3.8h-1.1zM468.52 84.2h0.77v3.8h-0.77zM470.18 84.2h1.14v3.8h-1.14zM473.15 84.2h0.68v3.8h-0.68zM475.33 84.2h1v3.8h-1zM477.17 84.2h1.04v3.8h-1.04zM483.01 84.2h1.06v3.8h-1.06zM490.63 84.2h0.82v3.8h-0.82zM493.09 84.2h0.93v3.8h-0.93zM495.53 84.2h1.14v3.8h-1.14zM499.19 84.2h0.62v3.8h-0.62zM504.86 84.2h1.26v3.8h-1.26zM507.92 84.2h0.6v3.8h-0.6zM515.19 84.2h0.83v3.8h-0.83zM517.74 84.2h0.63v3.8h-0.63zM522 84.2h0.66v3.8h-0.66zM528.55 84.2h1.3v3.8h-1.3zM531.64 84.2h0.73v3.8h-0.73zM533.35 84.2h1.08v3.8h-1.08zM535.83 84.2h0.6v3.8h-0.6zM539.78 84.2h0.86v3.8h-0.86zM541.99 84.2h0.97v3.8h-0.97zM544.41 84.2h0.75v3.8h-0.75zM545.97 84.2h0.7v3.8h-0.7zM553.41 84.2h0.79v3.8h-0.79zM555.99 84.2h0.64v3.8h-0.64zM558.95 84.2h1.05v3.8h-1.05zM563.65 84.2h0.56v3.8h-0.56zM565.92 84.2h0.52v3.8h-0.52zM573.33 84.2h1.12v3.8h-1.12zM578.09 84.2h0.87v3.8h-0.87zM580.47 84.2h0.9v3.8h-0.9zM583.7 84.2h1.15v3.8h-1.15zM585.95 84.2h0.91v3.8h-0.91zM587.98 84.2h1.26v3.8h-1.26zM591.78 84.2h1.09v3.8h-1.09zM594.32 84.2h0.68v3.8h-0.68zM595.9 84.2h0.8v3.8h-0.8zM597.87 84.2h1.23v3.8h-1.23zM603 84.2h0.86v3.8h-0.86zM611.36 84.2h0.94v3.8h-0.94zM614.28 84.2h0.79v3.8h-0.79zM617.37 84.2h0.91v3.8h-0.91zM620.72 84.2h0.91v3.8h-0.91zM623.99 84.2h0.89v3.8h-0.89zM626.77 84.2h0.9v3.8h-0.9zM628.77 84.2h0.56v3.8h-0.56zM630.51 84.2h0.65v3.8h-0.65zM633.25 84.2h0.59v3.8h-0.59zM636.11 84.2h1.08v3.8h-1.08zM638.85 84.2h0.67v3.8h-0.67zM642 84.2h0.52v3.8h-0.52zM644.35 84.2h0.63v3.8h-0.63zM645.85 84.2h0.96v3.8h-0.96zM650.6 84.2h0.95v3.8h-0.95zM653.64 84.2h1.03v3.8h-1.03zM663.63 84.2h1.03v3.8h-1.03z" stroke="none" fill="#d77fc9" stroke-width="1"/>
<line x1="45.5" y1="119.3" x2="675" y2="119.3" stroke="#9fd3bd" stroke-width="0.5"/>
<path d="M46.5 115.02h0.6v4.28h-0.6zM47.41 109.63h0.8v9.67h-0.8zM48.21 110.7h0.8v8.6h-0.8zM49.3 117.86h1v1.44h-1zM50.01 113.3h1v6h-1zM51 114.21h0.8v5.09h-0.8zM51.82 117.3h0.8v2h-0.8zM52.44 114.93h1v4.37h-1zM53.4 117.08h0.6v2.22h-0.6zM54.58 112.95h0.8v6.35h-0.8zM55.3 114.3h0.6v5h-0.6zM55.91 117.11h0.8v2.19h-0.8zM56.66 112.81h0.8v6.49h-0.8zM57.67 117.86h0.6v1.44h-0.6zM58.25 117.91h0.8v1.39h-0.8zM59.63 118.23h1v1.07h-1zM60.35 115.86h1v3.44h-1zM61.54 114.26h0.6v5.04h-0.6zM62.43 114.55h0.8v4.75h-0.8zM63.59 104.71h1v14.59h-1zM64.75 110.7h1v8.6h-1zM65.49 118.01h1v1.29h-1zM66.18 114.82h0.8v4.48h-0.8zM66.74 115.08h0.8v4.22h-0.8zM67.81 118.07h1v1.23h-1zM68.67 116.26h0.6v3.04h-0.6zM69.38 114.53h0.8v4.77h-0.8zM71.49 114.75h1v4.55h-1zM72.39 114.86h0.8v4.44h-0.8zM73.58 113.87h0.8v5.43h-0.8zM74.6 116.22h1v3.08h-1zM76.11 116.68h1v2.62h-1zM76.97 115.31h0.8v3.99h-0.8zM78 113.73h1v5.57h-1zM78.65 115.83h0.8v3.47h-0.8zM79.56 114.03h1v5.27h-1zM80.35 118.2h0.8v1.1h-0.8zM81.41 114.33h1v4.97h-1zM82.59 117.26h1v2.04h-1zM83.46 114.93h0.8v4.37h-0.8zM84.28 116.51h1v2.79h-1zM84.87 113.5h0.6v5.8h-0.6zM85.49 116.85h1v2.45h-1zM86.58 114.22h1v5.08h-1zM87.52 115.85h1v3.45h-1zM88.11 115.6h0.6v3.7h-0.6zM88.97 116.31h1v2.99h-1zM90.13 116.27h1v3.03h-1zM90.71 115.39h1v3.91h-1zM91.31 113.1h1v6.2h-1zM91.92 115.38h0.6v3.92h-0.6zM92.6 115.16h0.6v4.14h-0.6zM93.51 114.2h1v5.1h-1zM94.44 114.44h0.8v4.86h-0.8zM95.56 117.31h0.8v1.99h-0.8zM96.44 112.63h1v6.67h-1zM97.28 114.15h0.8v5.15h-0.8zM98.37 111.95h1v7.35h-1zM99.14 112.55h0.8v6.75h-0.8zM101.74 114.31h0.8v4.99h-0.8zM102.68 112.84h0.8v6.46h-0.8zM103.92 114.06h1v5.24h-1zM105.89 113.67h0.6v5.63h-0.6zM106.46 116.11h0.8v3.19h-0.8zM107.59 115.44h0.8v3.86h-0.8zM108.2 111.72h1v7.58h-1zM108.8 114.17h0.8v5.13h-0.8zM109.89 113.64h0.6v5.66h-0.6zM110.82 114.28h1v5.02h-1zM111.62 113.23h0.8v6.07h-0.8zM112.4 116.01h0.6v3.29h-0.6zM113.51 107.35h1v11.95h-1zM114.67 107.58h0.6v11.72h-0.6zM115.41 108.6h0.6v10.7h-0.6zM116.18 112.87h1v6.43h-1zM117.2 109.64h1v9.66h-1zM118.13 115.92h0.8v3.38h-0.8zM118.77 115.68h1v3.62h-1zM119.35 117.83h1v1.47h-1zM120.19 114.11h0.8v5.19h-0.8zM121.1 114.71h0.6v4.59h-0.6zM122.91 115.49h0.8v3.81h-0.8zM123.67 114.61h0.8v4.69h-0.8zM124.45 115.06h1v4.24h-1zM125.02 111.53h1v7.77h-1zM126.1 114.87h0.8v4.43h-0.8zM126.68 117.2h0.8v2.1h-0.8zM127.33 117.83h1v1.47h-1zM129.07 113.79h0.6v5.51h-0.6zM129.84 116.62h0.8v2.68h-0.8zM130.41 115.34h0.6v3.96h-0.6zM131.31 115.28h1v4.02h-1zM132.34 114.71h0.6v4.59h-0.6zM133.13 116.89h0.6v2.41h-0.6zM133.87 118.01h1v1.29h-1zM135.03 114.86h1v4.44h-1zM136.14 113.55h0.6v5.75h-0.6zM137.68 114.4h0.8v4.9h-0.8zM138.54 114.91h0.6v4.39h-0.6zM139.42 107.8h0.6v11.5h-0.6zM139.99 115.61h1v3.69h-1zM140.65 112.67h1v6.63h-1zM142.12 113.47h0.8v5.83h-0.8zM143.25 118.14h1v1.16h-1zM144.42 116.42h0.8v2.88h-0.8zM145.4 116.2h1v3.1h-1zM146.34 117.05h0.6v2.25h-0.6zM147.27 116.58h1v2.72h-1zM148.03 112.44h0.6v6.86h-0.6zM148.96 112.49h0.6v6.81h-0.6zM149.71 117.56h0.6v1.74h-0.6zM150.68 112.97h0.6v6.33h-0.6zM151.6 116.55h0.6v2.75h-0.6zM153.44 115.86h1v3.44h-1zM154.6 114.01h0.6v5.29h-0.6zM155.23 112.88h1v6.42h-1zM155.95 117.03h0.6v2.27h-0.6zM156.65 117.86h0.8v1.44h-0.8zM157.29 115.72h1v3.58h-1zM158.08 117.54h0.6v1.76h-0.6zM158.78 110.96h0.8v8.34h-0.8zM159.95 112.74h0.6v6.56h-0.6zM160.99 111.21h0.8v8.09h-0.8zM162.11 116.51h0.8v2.79h-0.8zM163.23 114.03h1v5.27h-1zM164.26 116.58h1v2.72h-1zM165.42 115.35h1v3.95h-1zM166.54 115.44h0.8v3.86h-0.8zM167.39 113.47h0.6v5.83h-0.6zM168.27 114.26h1v5.04h-1zM169.08 113.01h0.6v6.29h-0.6zM169.82 116.62h0.8v2.68h-0.8zM170.67 115.25h0.6v4.05h-0.6zM171.66 114.75h0.6v4.55h-0.6zM172.68 114.61h1v4.69h-1zM173.59 116.52h0.6v2.78h-0.6zM174.25 114.38h0.6v4.92h-0.6zM175.38 116.52h1v2.78h-1zM176.52 114.35h0.6v4.95h-0.6zM177.13 114.81h0.6v4.49h-0.6zM178.02 113.95h1v5.35h-1zM178.97 113.62h0.6v5.68h-0.6zM180.02 114.67h0.6v4.63h-0.6zM180.67 112.35h0.6v6.95h-0.6zM181.49 112.36h0.8v6.94h-0.8zM182.23 111.6h0.6v7.7h-0.6zM182.78 115.56h0.8v3.74h-0.8zM183.69 113.45h0.6v5.85h-0.6zM184.38 115.8h0.8v3.5h-0.8zM184.98 116.95h1v2.35h-1zM185.71 113.79h0.6v5.51h-0.6zM186.29 114.71h0.6v4.59h-0.6zM186.94 115.12h1v4.18h-1zM188.26 117.32h1v1.98h-1zM189 114.45h1v4.85h-1zM190.06 115.8h1v3.5h-1zM190.84 107.47h0.8v11.83h-0.8zM191.63 114.4h0.8v4.9h-0.8zM192.73 110.41h0.6v8.89h-0.6zM193.73 109.86h1v9.44h-1zM194.42 114.49h1v4.81h-1zM195.44 112.87h0.8v6.43h-0.8zM196.46 113.96h1v5.34h-1zM197.2 116.39h1v2.91h-1zM198.12 114h1v5.3h-1zM199.04 115.16h0.8v4.14h-0.8zM200.82 117.24h0.6v2.06h-0.6zM201.38 117.65h0.6v1.65h-0.6zM203.27 115.22h1v4.08h-1zM203.96 110.42h0.8v8.88h-0.8zM205.02 111.87h0.8v7.43h-0.8zM206.07 113.25h0.8v6.05h-0.8zM207.09 118.14h0.6v1.16h-0.6zM207.77 113.23h0.8v6.07h-0.8zM208.91 114.75h0.8v4.55h-0.8zM209.56 113.54h0.8v5.76h-0.8zM210.41 113.2h0.6v6.1h-0.6zM211.51 114.31h0.8v4.99h-0.8zM212.42 115.12h0.8v4.18h-0.8zM214.27 118.13h0.8v1.17h-0.8zM215.23 116.16h1v3.14h-1zM215.85 113.58h1v5.72h-1zM216.42 114.22h0.6v5.08h-0.6zM217.21 115.41h0.6v3.89h-0.6zM217.84 113.28h0.8v6.02h-0.8zM218.72 113.32h0.6v5.98h-0.6zM220.41 114.03h0.6v5.27h-0.6zM221.46 112.9h1v6.4h-1zM222.45 114.31h0.8v4.99h-0.8zM223.26 117.66h0.8v1.64h-0.8zM224.41 115.03h0.6v4.27h-0.6zM225.18 114.09h1v5.21h-1zM225.93 113.63h0.6v5.67h-0.6zM226.69 113.9h0.8v5.4h-0.8zM227.74 113.93h0.6v5.37h-0.6zM228.47 111.25h1v8.05h-1zM229.09 115.28h0.8v4.02h-0.8zM229.73 116.74h0.6v2.56h-0.6zM230.39 113.39h1v5.91h-1zM231.23 109.28h1v10.02h-1zM231.81 113.56h0.8v5.74h-0.8zM232.48 107.92h1v11.38h-1zM233.48 111.04h0.6v8.26h-0.6zM234.5 108.58h0.8v10.72h-0.8zM235.42 105.58h1v13.72h-1zM236.27 114.54h1v4.76h-1zM237.32 111.65h0.6v7.65h-0.6zM238.43 111.84h0.8v7.46h-0.8zM239.1 113.57h0.8v5.73h-0.8zM239.94 114.27h0.8v5.03h-0.8zM240.8 116.75h0.8v2.55h-0.8zM241.75 117.73h1v1.57h-1zM242.81 114.73h0.8v4.57h-0.8zM243.71 116.03h1v3.27h-1zM244.42 115.65h0.6v3.65h-0.6zM245.19 113.99h0.8v5.31h-0.8zM246.11 113.53h0.6v5.77h-0.6zM247.09 112.31h1v6.99h-1zM248.18 114.03h0.8v5.27h-0.8zM249.09 117.33h0.8v1.97h-0.8zM249.69 113.82h0.8v5.48h-0.8zM250.45 117.96h0.6v1.34h-0.6zM252.67 118.3h0.6v1h-0.6zM253.65 116.7h1v2.6h-1zM254.58 114.55h0.8v4.75h-0.8zM255.32 114.56h0.8v4.74h-0.8zM257.53 114.94h1v4.36h-1zM258.34 114.06h0.8v5.24h-0.8zM259.48 115.22h0.8v4.08h-0.8zM260.1 115.97h0.8v3.33h-0.8zM261.11 113.89h0.8v5.41h-0.8zM261.92 114.66h0.6v4.64h-0.6zM262.78 116.18h0.8v3.12h-0.8zM263.88 112.81h1v6.49h-1zM264.51 114.73h0.6v4.57h-0.6zM265.53 115.9h0.6v3.4h-0.6zM266.13 116.01h0.8v3.29h-0.8zM267.26 113.18h1v6.12h-1zM267.93 115.26h0.8v4.04h-0.8zM268.73 115.96h0.6v3.34h-0.6zM269.65 117h1v2.3h-1zM271.3 118.09h0.8v1.21h-0.8zM272.31 107.55h1v11.75h-1zM272.91 113.57h0.8v5.73h-0.8zM273.77 102.28h0.6v17.02h-0.6zM274.48 105.2h1v14.1h-1zM275.08 103.47h0.8v15.83h-0.8zM276.92 115.8h0.8v3.5h-0.8zM277.85 113.64h0.8v5.66h-0.8zM278.58 109.51h1v9.79h-1zM279.33 114.84h1v4.46h-1zM279.99 109.02h1v10.28h-1zM280.95 117.85h1v1.45h-1zM281.55 116.91h1v2.39h-1zM282.28 118.22h0.6v1.08h-0.6zM284.25 116.27h0.6v3.03h-0.6zM284.97 115.63h1v3.67h-1zM286.08 117.84h0.6v1.46h-0.6zM287.02 113.69h0.8v5.61h-0.8zM288.07 115.88h1v3.42h-1zM288.73 113.67h0.6v5.63h-0.6zM289.7 117.66h0.6v1.64h-0.6zM290.55 108.21h1v11.09h-1zM291.25 109.27h0.8v10.03h-0.8zM291.89 113.2h0.8v6.1h-0.8zM292.69 107.55h0.6v11.75h-0.6zM293.31 109.71h0.8v9.59h-0.8zM294.25 110.71h0.8v8.59h-0.8zM294.98 106.03h0.8v13.27h-0.8zM295.83 116.97h1v2.33h-1zM296.76 116.44h1v2.86h-1zM297.95 116.26h0.6v3.04h-0.6zM299.05 115.65h0.6v3.65h-0.6zM300.04 111.3h0.8v8h-0.8zM300.72 115.69h1v3.61h-1zM301.69 113.07h1v6.23h-1zM302.93 116.23h1v3.07h-1zM304.98 116.91h0.8v2.39h-0.8zM305.96 115.81h0.8v3.49h-0.8zM307.01 114.63h0.8v4.67h-0.8zM307.73 116.77h0.6v2.53h-0.6zM308.52 117.97h0.8v1.33h-0.8zM309.19 112.91h0.6v6.39h-0.6zM310.14 115.59h0.6v3.71h-0.6zM311.04 114.92h0.6v4.38h-0.6zM312.18 117.9h1v1.4h-1zM313.2 115.56h1v3.74h-1zM314.17 116.83h1v2.47h-1zM314.93 117.23h1v2.07h-1zM316.1 115.9h1v3.4h-1zM317.15 115.33h0.6v3.97h-0.6zM317.95 114.01h0.6v5.29h-0.6zM318.87 114.55h0.8v4.75h-0.8zM319.46 116.29h0.8v3.01h-0.8zM320.06 112.34h1v6.96h-1zM320.74 111.17h1v8.13h-1zM321.42 111.58h1v7.72h-1zM322.41 113.43h0.8v5.87h-0.8zM323.44 117.24h1v2.06h-1zM324.64 116.16h1v3.14h-1zM325.61 112.99h0.8v6.31h-0.8zM326.79 116.43h0.8v2.87h-0.8zM327.85 115.01h1v4.29h-1zM328.83 110.62h1v8.68h-1zM329.48 108.68h0.6v10.62h-0.6zM330.51 115.79h1v3.51h-1zM331.09 117.58h0.6v1.72h-0.6zM333.13 113.87h1v5.43h-1zM333.72 115.03h1v4.27h-1zM334.42 113.84h1v5.46h-1zM335.41 111.97h1v7.33h-1zM336.31 112.03h0.6v7.27h-0.6zM337.36 115.31h0.6v3.99h-0.6zM338.09 117.38h0.8v1.92h-0.8zM339 113.21h0.6v6.09h-0.6zM339.63 114.82h0.8v4.48h-0.8zM340.69 115.62h0.6v3.68h-0.6zM342.25 115.66h1v3.64h-1zM343.33 117.17h1v2.13h-1zM344.05 115.89h0.6v3.41h-0.6zM345 117.31h0.8v1.99h-0.8zM345.95 113.75h0.8v5.55h-0.8zM346.72 117h0.6v2.3h-0.6zM348.87 112.87h1v6.43h-1zM349.56 114.67h0.8v4.63h-0.8zM350.14 117.48h0.8v1.82h-0.8zM351.02 113.23h0.6v6.07h-0.6zM351.99 114.5h0.8v4.8h-0.8zM352.94 117.73h0.6v1.57h-0.6zM354.09 113.98h0.8v5.32h-0.8zM354.97 117.01h0.8v2.29h-0.8zM355.91 117.21h1v2.09h-1zM357.04 117.69h0.6v1.61h-0.6zM357.66 113.52h0.8v5.78h-0.8zM358.79 115.08h0.6v4.22h-0.6zM359.92 113.2h0.8v6.1h-0.8zM360.58 115.78h0.6v3.52h-0.6zM362.22 114.49h0.6v4.81h-0.6zM362.96 115.28h0.8v4.02h-0.8zM363.62 113.39h1v5.91h-1zM365.41 114.89h0.6v4.41h-0.6zM366.01 112.82h1v6.48h-1zM366.87 117.31h0.8v1.99h-0.8zM367.9 116.5h1v2.8h-1zM370.89 118.06h0.8v1.24h-0.8zM371.92 115.96h0.8v3.34h-0.8zM372.78 113.78h0.8v5.52h-0.8zM373.65 114.16h1v5.14h-1zM374.68 116.67h1v2.63h-1zM375.88 113.57h0.6v5.73h-0.6zM376.89 118.17h0.8v1.13h-0.8zM377.74 113.39h0.6v5.91h-0.6zM378.8 115.75h1v3.55h-1zM379.35 116.18h1v3.12h-1zM380.12 115.96h0.8v3.34h-0.8zM381.12 115.14h0.6v4.16h-0.6zM382.18 113.46h1v5.84h-1zM383.34 113.29h0.8v6.01h-0.8zM384.47 116.29h1v3.01h-1zM385.04 114.74h1v4.56h-1zM385.64 117.17h0.8v2.13h-0.8zM386.34 115.67h1v3.63h-1zM387.46 114.12h0.8v5.18h-0.8zM388.24 105.29h0.8v14.01h-0.8zM388.82 108.17h1v11.13h-1zM389.72 104.92h1v14.38h-1zM391.65 114.6h1v4.7h-1zM394.16 113.36h0.8v5.94h-0.8zM395.33 117.39h0.6v1.91h-0.6zM396.34 113.49h1v5.81h-1zM397.51 116.01h1v3.29h-1zM398.41 116.39h0.8v2.91h-0.8zM399.44 117.26h0.6v2.04h-0.6zM400.55 110.69h1v8.61h-1zM401.32 112.52h0.8v6.78h-0.8zM402.19 113.3h1v6h-1zM403.03 115.79h0.8v3.51h-0.8zM403.69 115.64h0.8v3.66h-0.8zM404.74 116.36h0.8v2.94h-0.8zM405.91 117.42h1v1.88h-1zM407.74 114.64h0.6v4.66h-0.6zM408.4 112.83h1v6.47h-1zM409.03 117.29h1v2.01h-1zM410.04 112.92h0.6v6.38h-0.6zM410.83 117.41h0.8v1.89h-0.8zM411.46 113.18h0.6v6.12h-0.6zM412.63 112.96h1v6.34h-1zM413.81 113.66h0.8v5.64h-0.8zM416.97 114.29h0.8v5.01h-0.8zM417.74 115.67h0.6v3.63h-0.6zM418.38 116.61h0.8v2.69h-0.8zM419.33 116.33h0.8v2.97h-0.8zM419.91 115.09h0.6v4.21h-0.6zM420.97 117.22h0.6v2.08h-0.6zM421.87 104.81h0.6v14.49h-0.6zM423.06 107.2h1v12.1h-1zM424.79 113.6h0.8v5.7h-0.8zM425.59 116.4h0.8v2.9h-0.8zM426.77 117.82h1v1.48h-1zM427.9 116.01h0.8v3.29h-0.8zM428.64 112.96h0.8v6.34h-0.8zM429.66 113.7h1v5.6h-1zM430.27 115.69h1v3.61h-1zM431.46 114.41h0.8v4.89h-0.8zM432.06 114.57h0.8v4.73h-0.8zM432.73 115.79h0.6v3.51h-0.6zM433.41 115.6h0.8v3.7h-0.8zM434.5 115.22h0.8v4.08h-0.8zM435.2 117.45h0.8v1.85h-0.8zM436.37 115.7h1v3.6h-1zM437.35 117.31h1v1.99h-1zM438.32 110.7h0.8v8.6h-0.8zM439.52 110.84h1v8.46h-1zM440.38 114.35h1v4.95h-1zM441.24 115.35h1v3.95h-1zM442.26 114.34h1v4.96h-1zM442.85 113.47h0.6v5.83h-0.6zM443.63 116.31h1v2.99h-1zM444.78 116.71h1v2.59h-1zM445.74 117.23h1v2.07h-1zM446.41 114.16h1v5.14h-1zM447.17 113.65h0.8v5.65h-0.8zM447.9 116.31h1v2.99h-1zM448.82 118.23h1v1.07h-1zM449.56 116.03h0.6v3.27h-0.6zM450.17 117.08h0.6v2.22h-0.6zM451.24 114.51h1v4.79h-1zM452.34 113.89h0.8v5.41h-0.8zM453.19 110.97h0.6v8.33h-0.6zM454.05 114.01h0.8v5.29h-0.8zM455.18 111.34h0.8v7.96h-0.8zM455.84 114.21h0.6v5.09h-0.6zM456.54 117.52h0.6v1.78h-0.6zM457.29 112.9h0.8v6.4h-0.8zM458.29 117.87h0.8v1.43h-0.8zM459.33 117.71h1v1.59h-1zM460.21 117.65h0.8v1.65h-0.8zM460.79 113.51h0.6v5.79h-0.6zM461.85 113.34h0.6v5.96h-0.6zM462.83 111.73h1v7.57h-1zM464 117.42h1v1.88h-1zM465.05 115.52h0.6v3.78h-0.6zM465.67 118.22h0.6v1.08h-0.6zM467.35 118.28h1v1.02h-1zM467.96 115.53h1v3.77h-1zM468.82 115.69h1v3.61h-1zM469.99 114.69h0.8v4.61h-0.8zM470.82 116.06h0.8v3.24h-0.8zM471.45 117.55h0.8v1.75h-0.8zM472.45 118.08h0.8v1.22h-0.8zM473.33 115.79h1v3.51h-1zM474.08 115.25h0.8v4.05h-0.8zM475.27 110.45h0.8v8.85h-0.8zM476.43 116.26h1v3.04h-1zM477.3 113.33h1v5.97h-1zM478.29 113.63h1v5.67h-1zM479.22 113.21h0.6v6.09h-0.6zM480.58 112.85h0.6v6.45h-0.6zM481.29 115.55h1v3.75h-1zM482.33 114.14h1v5.16h-1zM483.5 111.56h0.8v7.74h-0.8zM484.69 115.23h0.8v4.07h-0.8zM485.31 112.75h1v6.55h-1zM486.47 111.05h0.6v8.25h-0.6zM487.35 115h1v4.3h-1zM488.34 111.87h0.6v7.43h-0.6zM489.38 115.44h0.8v3.86h-0.8zM490.45 114.66h0.8v4.64h-0.8zM491.32 113h1v6.3h-1zM492.23 115.93h0.6v3.37h-0.6zM493.03 115.2h0.8v4.1h-0.8zM493.6 113.76h0.8v5.54h-0.8zM494.73 114.93h0.8v4.37h-0.8zM495.74 117.7h1v1.6h-1zM496.61 115.33h0.8v3.97h-0.8zM497.47 115.51h0.8v3.79h-0.8zM498.19 116.22h1v3.08h-1zM498.97 118.15h0.6v1.15h-0.6zM499.6 112.73h1v6.57h-1zM500.17 117.76h0.8v1.54h-0.8zM501.37 116.73h0.6v2.57h-0.6zM502.08 115.04h1v4.26h-1zM502.67 116.44h0.6v2.86h-0.6zM503.57 114.68h0.8v4.62h-0.8zM505.21 115.07h0.8v4.23h-0.8zM506.01 115.15h0.8v4.15h-0.8zM506.62 114.63h1v4.67h-1zM507.7 115.66h0.8v3.64h-0.8zM508.49 113.65h0.6v5.65h-0.6zM509.58 114.93h0.6v4.37h-0.6zM510.33 111.77h1v7.53h-1zM511.36 113.66h0.6v5.64h-0.6zM512.29 115.18h1v4.12h-1zM513.15 113.92h1v5.38h-1zM514.24 116.65h1v2.65h-1zM515.14 109.88h1v9.42h-1zM516.02 108.23h0.6v11.07h-0.6zM516.98 112.33h0.8v6.97h-0.8zM517.67 115.73h1v3.57h-1zM518.57 105.72h0.8v13.58h-0.8zM519.72 117.97h0.6v1.33h-0.6zM520.51 117.47h1v1.83h-1zM521.56 113.57h0.6v5.73h-0.6zM522.52 116.72h0.6v2.58h-0.6zM523.24 110.6h0.6v8.7h-0.6zM523.89 106.52h0.8v12.78h-0.8zM524.74 110.28h1v9.02h-1zM525.88 116.8h0.6v2.5h-0.6zM526.59 114.68h0.6v4.62h-0.6zM527.56 114.33h0.6v4.97h-0.6zM528.9 117.95h0.8v1.35h-0.8zM530.04 113.43h0.8v5.87h-0.8zM531.2 117.68h1v1.62h-1zM532.07 113.6h1v5.7h-1zM533.24 113.43h0.6v5.87h-0.6zM534.18 116.58h1v2.72h-1zM535.21 114.21h0.8v5.09h-0.8zM535.9 117.12h0.8v2.18h-0.8zM536.74 115.06h0.8v4.24h-0.8zM537.63 117.68h1v1.62h-1zM538.46 113h0.6v6.3h-0.6zM539.25 113.78h0.6v5.52h-0.6zM540.21 114.23h0.6v5.07h-0.6zM541.21 115.26h0.8v4.04h-0.8zM543.17 116.19h0.8v3.11h-0.8zM543.98 112.92h0.8v6.38h-0.8zM544.72 116.66h0.6v2.64h-0.6zM545.87 113.18h1v6.12h-1zM546.68 113.53h0.8v5.77h-0.8zM547.54 104.47h1v14.83h-1zM548.36 117.42h0.8v1.88h-0.8zM549.24 107.26h1v12.04h-1zM550.27 113.98h0.6v5.32h-0.6zM551.24 115.86h1v3.44h-1zM551.88 114.84h0.8v4.46h-0.8zM552.8 116.93h1v2.37h-1zM553.98 114.1h1v5.2h-1zM554.98 116.54h0.8v2.76h-0.8zM556.09 117.35h1v1.95h-1zM557.18 117.21h0.8v2.09h-0.8zM557.97 116.22h1v3.08h-1zM559.64 106.3h0.8v13h-0.8zM560.32 116.09h0.8v3.21h-0.8zM561.26 113.03h0.6v6.27h-0.6zM562.42 114.35h0.8v4.95h-0.8zM564.56 117.07h0.6v2.23h-0.6zM565.24 114h0.8v5.3h-0.8zM566.27 115.93h0.6v3.37h-0.6zM567.95 115.94h0.8v3.36h-0.8zM569.01 113.73h0.6v5.57h-0.6zM569.96 114.54h0.8v4.76h-0.8zM570.57 114.14h1v5.16h-1zM571.38 116.19h0.8v3.11h-0.8zM572.41 117.78h0.6v1.52h-0.6zM573.85 114.96h1v4.34h-1zM575.02 114.18h0.6v5.12h-0.6zM575.58 116.2h0.8v3.1h-0.8zM576.56 113.39h0.6v5.91h-0.6zM577.49 114.21h0.8v5.09h-0.8zM578.61 115.23h1v4.07h-1zM579.44 115.25h0.6v4.05h-0.6zM580.32 116.32h0.8v2.98h-0.8zM581.05 114.11h0.8v5.19h-0.8zM581.94 116.06h1v3.24h-1zM583.13 117.47h1v1.83h-1zM584.1 111.88h0.6v7.42h-0.6zM584.8 111.02h1v8.28h-1zM585.65 103.39h0.8v15.91h-0.8zM586.23 105.63h0.8v13.67h-0.8zM587.07 105.5h0.6v13.8h-0.6zM587.71 103.72h0.6v15.58h-0.6zM588.8 115.2h1v4.1h-1zM589.73 112.96h1v6.34h-1zM590.78 113.24h0.6v6.06h-0.6zM591.83 113.42h0.6v5.88h-0.6zM593.19 113.19h0.6v6.11h-0.6zM594.28 117.85h1v1.45h-1zM595.26 113.05h1v6.25h-1zM596.24 118.06h1v1.24h-1zM597.41 112.86h1v6.44h-1zM598.55 113.55h1v5.75h-1zM599.28 114.21h1v5.09h-1zM600.45 116.11h0.6v3.19h-0.6zM601.16 116.11h0.6v3.19h-0.6zM602.26 114.01h0.8v5.29h-0.8zM603.88 113.89h1v5.41h-1zM604.96 114.52h0.6v4.78h-0.6zM605.74 115.88h0.6v3.42h-0.6zM606.61 115.2h0.8v4.1h-0.8zM607.22 116.27h0.6v3.03h-0.6zM608.05 118.08h0.8v1.22h-0.8zM609.23 108.14h1v11.16h-1zM609.88 108.33h1v10.97h-1zM610.49 114.04h0.8v5.26h-0.8zM611.23 116.65h0.6v2.65h-0.6zM612.12 114.36h0.6v4.94h-0.6zM613.27 109.56h0.8v9.74h-0.8zM613.88 115.17h0.8v4.13h-0.8zM614.66 114.07h0.6v5.23h-0.6zM615.28 117.31h0.6v1.99h-0.6zM616.38 116.01h1v3.29h-1zM617.13 115.8h1v3.5h-1zM617.97 116.42h0.6v2.88h-0.6zM618.66 112.9h0.8v6.4h-0.8zM619.77 115.36h0.6v3.94h-0.6zM620.58 114.69h0.8v4.61h-0.8zM621.58 112.99h1v6.31h-1zM622.6 105.99h1v13.31h-1zM623.39 107.31h0.8v11.99h-0.8zM624.46 113.26h0.6v6.04h-0.6zM625.08 104.3h0.6v15h-0.6zM625.77 107.74h0.8v11.56h-0.8zM626.86 115.34h0.6v3.96h-0.6zM627.61 115.69h0.6v3.61h-0.6zM629.27 115.63h0.6v3.67h-0.6zM630.37 117.19h1v2.11h-1zM631.46 116.46h0.6v2.84h-0.6zM632.42 112.91h0.8v6.39h-0.8zM633.45 108.85h0.8v10.45h-0.8zM634.03 109.29h1v10.01h-1zM634.97 106.06h0.8v13.24h-0.8zM635.67 114.54h1v4.76h-1zM636.43 105.25h0.8v14.05h-0.8zM637.56 114.88h1v4.42h-1zM638.33 118.19h0.8v1.11h-0.8zM639.36 115.89h1v3.41h-1zM640.82 113.67h1v5.63h-1zM642.69 114.35h1v4.95h-1zM643.67 114.03h0.6v5.27h-0.6zM644.62 112.41h1v6.89h-1zM645.49 115.88h0.8v3.42h-0.8zM646.1 110.97h0.8v8.33h-0.8zM646.8 110.94h0.8v8.36h-0.8zM647.93 117.43h1v1.87h-1zM648.5 115.93h1v3.37h-1zM649.19 115.62h0.8v3.68h-0.8zM650.25 114.06h1v5.24h-1zM650.98 114.5h1v4.8h-1zM651.92 117.22h0.8v2.08h-0.8zM652.99 112.94h1v6.36h-1zM653.94 115.21h1v4.09h-1zM654.56 113.51h0.8v5.79h-0.8zM655.21 115.87h1v3.43h-1zM656.08 117.45h0.8v1.85h-0.8zM656.85 113.63h0.8v5.67h-0.8zM658.03 118.26h0.8v1.04h-0.8zM658.8 117.83h0.8v1.47h-0.8zM659.82 110.02h0.6v9.28h-0.6zM660.46 117.04h0.8v2.26h-0.8zM661.28 111.52h1v7.78h-1zM662.35 115.28h0.6v4.02h-0.6zM663.4 115.45h0.6v3.85h-0.6zM664.01 112.9h0.6v6.4h-0.6zM664.84 118.1h1v1.2h-1z" stroke="none" fill="#3aa07a" stroke-width="1"/>
<path d="M60.26 121.8h1.29v4h-1.29zM66.06 121.8h1.05v4h-1.05zM71.54 121.8h1.06v4h-1.06zM73.95 121.8h1.23v4h-1.23zM77.36 121.8h1.29v4h-1.29zM80.37 121.8h0.85v4h-0.85zM83.59 121.8h0.97v4h-0.97zM85.67 121.8h0.96v4h-0.96zM87.98 121.8h1.07v4h-1.07zM91.44 121.8h0.99v4h-0.99zM94.71 121.8h0.77v4h-0.77zM99.49 121.8h0.96v4h-0.96zM102.59 121.8h1.35v4h-1.35zM105.72 121.8h0.5v4h-0.5zM107.37 121.8h1.17v4h-1.17zM110.6 121.8h1.34v4h-1.34zM114.25 121.8h0.71v4h-0.71zM116.93 121.8h1.23v4h-1.23zM119.13 121.8h0.84v4h-0.84zM120.87 121.8h0.96v4h-0.96zM124.01 121.8h0.91v4h-0.91zM126.43 121.8h0.87v4h-0.87zM128.81 121.8h0.62v4h-0.62zM130.27 121.8h1.11v4h-1.11zM139.24 121.8h1.35v4h-1.35zM142.08 121.8h0.65v4h-0.65zM146.94 121.8h0.98v4h-0.98zM149.48 121.8h0.53v4h-0.53zM151.77 121.8h1.33v4h-1.33zM155.42 121.8h0.6v4h-0.6zM157.27 121.8h0.97v4h-0.97zM159.52 121.8h0.84v4h-0.84zM163.24 121.8h1.34v4h-1.34zM165.82 121.8h0.66v4h-0.66zM167.19 121.8h0.99v4h-0.99zM168.97 121.8h0.93v4h-0.93zM171.46 121.8h0.8v4h-0.8zM174.55 121.8h1.25v4h-1.25zM179.8 121.8h0.63v4h-0.63zM181.31 121.8h1.06v4h-1.06zM183.81 121.8h1.31v4h-1.31zM185.9 121.8h1.1v4h-1.1zM188.23 121.8h0.58v4h-0.58zM191.91 121.8h1.08v4h-1.08zM193.86 121.8h1.36v4h-1.36zM197.36 121.8h1.36v4h-1.36zM205 121.8h0.95v4h-0.95zM213.08 121.8h1.02v4h-1.02zM215.82 121.8h0.79v4h-0.79zM218.24 121.8h1.34v4h-1.34zM220.62 121.8h0.52v4h-0.52zM224.88 121.8h0.76v4h-0.76zM232.03 121.8h1.14v4h-1.14zM238.02 121.8h0.72v4h-0.72zM239.88 121.8h0.96v4h-0.96zM243.35 121.8h0.74v4h-0.74zM245.84 121.8h0.56v4h-0.56zM248.3 121.8h1.32v4h-1.32zM251.38 121.8h1.03v4h-1.03zM254.55 121.8h1.09v4h-1.09zM259.97 121.8h1.2v4h-1.2zM262.9 121.8h0.65v4h-0.65zM266.07 121.8h1.37v4h-1.37zM271.32 121.8h1.09v4h-1.09zM273.22 121.8h1.33v4h-1.33zM281.07 121.8h0.65v4h-0.65zM282.55 121.8h0.58v4h-0.58zM288.93 121.8h0.69v4h-0.69zM295.04 121.8h1.38v4h-1.38zM297.64 121.8h1.1v4h-1.1zM299.84 121.8h1.36v4h-1.36zM306.12 121.8h0.5v4h-0.5zM307.65 121.8h1v4h-1zM310.28 121.8h0.85v4h-0.85zM313.5 121.8h1.09v4h-1.09zM316.98 121.8h1.23v4h-1.23zM319.15 121.8h1.37v4h-1.37zM325.46 121.8h1.39v4h-1.39zM328.25 121.8h0.67v4h-0.67zM331.03 121.8h1.18v4h-1.18zM336.82 121.8h1.23v4h-1.23zM340.61 121.8h1.37v4h-1.37zM343.62 121.8h1.13v4h-1.13zM345.47 121.8h1.39v4h-1.39zM347.76 121.8h0.75v4h-0.75zM349.54 121.8h0.67v4h-0.67zM352.19 121.8h1.04v4h-1.04zM355.05 121.8h1.17v4h-1.17zM363.54 121.8h1.37v4h-1.37zM368.59 121.8h0.88v4h-0.88zM371.41 121.8h1.27v4h-1.27zM374.99 121.8h0.87v4h-0.87zM377.54 121.8h0.95v4h-0.95zM379.27 121.8h1.15v4h-1.15zM382.86 121.8h0.98v4h-0.98zM388.32 121.8h1.39v4h-1.39zM394.16 121.8h0.8v4h-0.8zM396.84 121.8h0.53v4h-0.53zM405 121.8h0.72v4h-0.72zM411.18 121.8h0.71v4h-0.71zM413.73 121.8h0.89v4h-0.89zM422.09 121.8h1.2v4h-1.2zM425.52 121.8h0.55v4h-0.55zM427.59 121.8h0.59v4h-0.59zM428.98 121.8h1.26v4h-1.26zM435.18 121.8h1.06v4h-1.06zM437.83 121.8h0.89v4h-0.89zM439.6 121.8h1.09v4h-1.09zM441.44 121.8h0.97v4h-0.97zM443.31 121.8h0.51v4h-0.51zM447.84 121.8h0.96v4h-0.96zM450.41 121.8h1.06v4h-1.06zM452.44 121.8h0.54v4h-0.54zM454.79 121.8h0.96v4h-0.96zM457.13 121.8h1.03v4h-1.03zM459.13 121.8h0.92v4h-0.92zM461.3 121.8h1.37v4h-1.37zM464.63 121.8h0.63v4h-0.63zM467.51 121.8h1v4h-1zM469.87 121.8h1.38v4h-1.38zM472.33 121.8h0.56v4h-0.56zM474.5 121.8h1.12v4h-1.12zM477.64 121.8h1.27v4h-1.27zM480.24 121.8h0.77v4h-0.77zM484.84 121.8h1.33v4h-1.33zM488.19 121.8h0.92v4h-0.92zM494.14 121.8h0.84v4h-0.84zM497.25 121.8h0.51v4h-0.51zM499.14 121.8h1v4h-1zM504.13 121.8h1.38v4h-1.38zM506.74 121.8h0.7v4h-0.7zM508.47 121.8h1.26v4h-1.26zM510.81 121.8h0.66v4h-0.66zM512.36 121.8h1.25v4h-1.25zM515.55 121.8h1.3v4h-1.3zM517.95 121.8h0.91v4h-0.91zM520.26 121.8h0.65v4h-0.65zM523.14 121.8h1.06v4h-1.06zM527.8 121.8h0.67v4h-0.67zM530.49 121.8h0.79v4h-0.79zM536.33 121.8h1.27v4h-1.27zM538.58 121.8h0.72v4h-0.72zM540.54 121.8h0.61v4h-0.61zM542.96 121.8h0.94v4h-0.94zM546.09 121.8h1.21v4h-1.21zM551.3 121.8h0.84v4h-0.84zM553.18 121.8h1.14v4h-1.14zM555.94 121.8h1.36v4h-1.36zM564.35 121.8h0.71v4h-0.71zM566.57 121.8h0.84v4h-0.84zM569.71 121.8h0.73v4h-0.73zM572.57 121.8h0.77v4h-0.77zM574.47 121.8h0.54v4h-0.54zM576.35 121.8h0.91v4h-0.91zM578.65 121.8h0.95v4h-0.95zM580.35 121.8h0.9v4h-0.9zM582.09 121.8h1.31v4h-1.31zM585.05 121.8h0.99v4h-0.99zM587.27 121.8h0.7v4h-0.7zM589.36 121.8h0.99v4h-0.99zM592.34 121.8h0.73v4h-0.73zM595.22 121.8h1.26v4h-1.26zM601.01 121.8h0.99v4h-0.99zM604.17 121.8h0.75v4h-0.75zM611 121.8h0.51v4h-0.51zM616.58 121.8h1.15v4h-1.15zM618.88 121.8h1.03v4h-1.03zM621.5 121.8h1.23v4h-1.23zM623.59 121.8h1.26v4h-1.26zM627.34 121.8h0.88v4h-0.88zM630.54 121.8h0.53v4h-0.53zM633.43 121.8h0.78v4h-0.78zM635.85 121.8h1.09v4h-1.09zM641.11 121.8h1.12v4h-1.12zM644.04 121.8h1.01v4h-1.01zM652.19 121.8h0.85v4h-0.85zM655.54 121.8h0.56v4h-0.56zM660.41 121.8h0.77v4h-0.77z" stroke="none" fill="#5db692" stroke-width="1"/>
<line x1="45.5" y1="157.5" x2="675" y2="157.5" stroke="#e2c6dc" stroke-width="0.7"/>
<path d="M45.8 157.5V143L47 141V139L49 138.6L51 139V145L52 148L53 152L54 157.5Z" stroke="none" fill="#32569a" stroke-width="1"/>
<path d="M527 157.5V149.3H528V152H529V151H530V153.5H531.3V154.2H533.5V155H535V157.5Z" stroke="none" fill="#32569a" stroke-width="1"/>
<rect x="380.1" y="155.6" width="0.7" height="1.9" fill="#32569a"/>
<path d="M663.8 157.5V152L664.5 147L665.3 138.9H675V157.5Z" stroke="none" fill="#32569a" stroke-width="1"/>
<rect x="667.4" y="138.9" width="0.45" height="6" fill="#fff"/>
<rect x="670.2" y="138.9" width="0.45" height="6" fill="#fff"/>
<rect x="672.6" y="138.9" width="0.45" height="6" fill="#fff"/>
<rect x="45.8" y="160.8" width="8" height="3.7" fill="#32569a"/>
<rect x="527" y="160.8" width="4.6" height="3.7" fill="#32569a"/>
<rect x="533.3" y="160.8" width="0.6" height="3.7" fill="#32569a"/>
<rect x="664.6" y="160.9" width="10.4" height="3.6" fill="#32569a"/>
<path d="M45.5 187.13h0.8v1.67h-0.8zM46.74 186.77h0.8v2.03h-0.8zM47.54 186.33h0.8v2.47h-0.8zM48.4 187h0.8v1.8h-0.8zM49.64 185.82h0.8v2.98h-0.8zM50.33 186.09h0.8v2.71h-0.8zM51.2 186.25h0.8v2.55h-0.8zM52.41 186.11h0.8v2.69h-0.8zM53.47 186.55h0.8v2.25h-0.8zM54.29 186.34h0.8v2.46h-0.8zM55.21 188h0.8v0.8h-0.8zM56.51 187.75h0.8v1.05h-0.8zM57.68 187.6h0.8v1.2h-0.8zM58.46 187.87h0.8v0.93h-0.8zM59.45 187.71h0.8v1.09h-0.8zM60.38 188.16h0.8v0.64h-0.8zM61.04 187.55h0.8v1.25h-0.8zM62.29 187.85h0.8v0.95h-0.8zM63.48 187.41h0.8v1.39h-0.8zM64.35 187.38h0.8v1.42h-0.8zM65.54 187.78h0.8v1.02h-0.8zM66.27 187.58h0.8v1.22h-0.8zM67.17 187.82h0.8v0.98h-0.8zM68.23 187.5h0.8v1.3h-0.8zM68.9 187.5h0.8v1.3h-0.8zM69.53 187.31h0.8v1.49h-0.8zM70.24 187.32h0.8v1.48h-0.8zM71.22 187.53h0.8v1.27h-0.8zM71.86 187.47h0.8v1.33h-0.8zM73.1 187.29h0.8v1.51h-0.8zM73.98 187.44h0.8v1.36h-0.8zM74.67 187.83h0.8v0.97h-0.8zM75.8 187.7h0.8v1.1h-0.8zM76.94 187.79h0.8v1.01h-0.8zM77.66 187.99h0.8v0.81h-0.8zM78.29 188.17h0.8v0.63h-0.8zM79.34 187.52h0.8v1.28h-0.8zM80.26 187.86h0.8v0.94h-0.8zM81.14 188.01h0.8v0.79h-0.8zM81.77 187.95h0.8v0.85h-0.8zM82.86 188.06h0.8v0.74h-0.8zM83.93 187.74h0.8v1.06h-0.8zM84.86 188.12h0.8v0.68h-0.8zM85.92 187.49h0.8v1.31h-0.8zM86.82 187.73h0.8v1.07h-0.8zM87.62 188.04h0.8v0.76h-0.8zM88.8 187.59h0.8v1.21h-0.8zM89.53 188.08h0.8v0.72h-0.8zM90.65 188.03h0.8v0.77h-0.8zM91.72 188.19h0.8v0.61h-0.8zM92.51 187.76h0.8v1.04h-0.8zM93.23 187.49h0.8v1.31h-0.8zM94.46 187.67h0.8v1.13h-0.8zM95.37 188.15h0.8v0.65h-0.8zM96.41 187.68h0.8v1.12h-0.8zM97.48 187.54h0.8v1.26h-0.8zM98.15 187.51h0.8v1.29h-0.8zM99.06 187.6h0.8v1.2h-0.8zM99.69 187.82h0.8v0.98h-0.8zM100.43 187.95h0.8v0.85h-0.8zM101.67 188h0.8v0.8h-0.8zM102.28 188.17h0.8v0.63h-0.8zM102.89 187.38h0.8v1.42h-0.8zM103.97 188.14h0.8v0.66h-0.8zM105.24 188.1h0.8v0.7h-0.8zM106.42 187.54h0.8v1.26h-0.8zM107.53 188.16h0.8v0.64h-0.8zM108.49 187.38h0.8v1.42h-0.8zM109.31 187.57h0.8v1.23h-0.8zM110.35 187.27h0.8v1.53h-0.8zM111.23 187.77h0.8v1.03h-0.8zM111.99 188.09h0.8v0.71h-0.8zM112.82 188.19h0.8v0.61h-0.8zM113.87 188.19h0.8v0.61h-0.8zM114.62 187.98h0.8v0.82h-0.8zM115.68 187.92h0.8v0.88h-0.8zM116.72 188.16h0.8v0.64h-0.8zM117.94 187.79h0.8v1.01h-0.8zM119.08 187.7h0.8v1.1h-0.8zM120.37 187.49h0.8v1.31h-0.8zM121.53 187.28h0.8v1.52h-0.8zM122.52 187.95h0.8v0.85h-0.8zM123.19 187.88h0.8v0.92h-0.8zM124.23 187.81h0.8v0.99h-0.8zM125.48 187.43h0.8v1.37h-0.8zM126.17 188.02h0.8v0.78h-0.8zM127.31 187.51h0.8v1.29h-0.8zM128.59 187.53h0.8v1.27h-0.8zM129.24 188.18h0.8v0.62h-0.8zM130.48 187.75h0.8v1.05h-0.8zM131.43 187.46h0.8v1.34h-0.8zM132.39 187.5h0.8v1.3h-0.8zM132.99 188.18h0.8v0.62h-0.8zM134.13 188.08h0.8v0.72h-0.8zM134.89 187.77h0.8v1.03h-0.8zM135.66 188.12h0.8v0.68h-0.8zM136.36 187.7h0.8v1.1h-0.8zM137.1 187.82h0.8v0.98h-0.8zM138.15 187.96h0.8v0.84h-0.8zM139.26 187.21h0.8v1.59h-0.8zM140.17 187.32h0.8v1.48h-0.8zM140.86 187.88h0.8v0.92h-0.8zM142.01 188.16h0.8v0.64h-0.8zM143.17 187.79h0.8v1.01h-0.8zM144.34 187.45h0.8v1.35h-0.8zM145.1 187.47h0.8v1.33h-0.8zM145.94 187.99h0.8v0.81h-0.8zM146.57 187.28h0.8v1.52h-0.8zM147.87 187.4h0.8v1.4h-0.8zM148.95 187.98h0.8v0.82h-0.8zM150.16 187.68h0.8v1.12h-0.8zM150.89 187.57h0.8v1.23h-0.8zM151.54 187.71h0.8v1.09h-0.8zM152.81 188.15h0.8v0.65h-0.8zM154.1 187.26h0.8v1.54h-0.8zM154.79 188.03h0.8v0.77h-0.8zM155.77 187.4h0.8v1.4h-0.8zM156.51 187.69h0.8v1.11h-0.8zM157.41 187.73h0.8v1.07h-0.8zM158.13 188h0.8v0.8h-0.8zM159.02 187.59h0.8v1.21h-0.8zM159.84 187.62h0.8v1.18h-0.8zM161.11 188h0.8v0.8h-0.8zM162.32 187.72h0.8v1.08h-0.8zM163.58 187.84h0.8v0.96h-0.8zM164.45 187.73h0.8v1.07h-0.8zM165.34 187.59h0.8v1.21h-0.8zM166.25 188.04h0.8v0.76h-0.8zM167.51 187.72h0.8v1.08h-0.8zM168.65 187.77h0.8v1.03h-0.8zM169.31 187.29h0.8v1.51h-0.8zM170.12 187.66h0.8v1.14h-0.8zM171.1 188.02h0.8v0.78h-0.8zM171.97 187.89h0.8v0.91h-0.8zM172.77 187.64h0.8v1.16h-0.8zM173.7 187.87h0.8v0.93h-0.8zM174.81 188h0.8v0.8h-0.8zM176.05 188.2h0.8v0.6h-0.8zM177.25 187.47h0.8v1.33h-0.8zM178.11 187.8h0.8v1h-0.8zM179 187.81h0.8v0.99h-0.8zM180.12 187.82h0.8v0.98h-0.8zM180.94 187.21h0.8v1.59h-0.8zM181.59 187.32h0.8v1.48h-0.8zM182.88 188.08h0.8v0.72h-0.8zM184.13 188.04h0.8v0.76h-0.8zM185.27 187.24h0.8v1.56h-0.8zM186.41 187.45h0.8v1.35h-0.8zM187.25 187.49h0.8v1.31h-0.8zM188.3 187.83h0.8v0.97h-0.8zM188.94 187.81h0.8v0.99h-0.8zM189.83 187.95h0.8v0.85h-0.8zM190.77 187.28h0.8v1.52h-0.8zM191.62 187.49h0.8v1.31h-0.8zM192.24 187.53h0.8v1.27h-0.8zM192.95 187.59h0.8v1.21h-0.8zM194.21 188.05h0.8v0.75h-0.8zM194.98 187.62h0.8v1.18h-0.8zM196.04 188.04h0.8v0.76h-0.8zM196.72 188.11h0.8v0.69h-0.8zM197.82 187.82h0.8v0.98h-0.8zM198.92 187.23h0.8v1.57h-0.8zM199.57 187.29h0.8v1.51h-0.8zM200.79 188.03h0.8v0.77h-0.8zM201.69 187.51h0.8v1.29h-0.8zM202.64 187.67h0.8v1.13h-0.8zM203.86 187.61h0.8v1.19h-0.8zM204.97 187.45h0.8v1.35h-0.8zM206.22 187.33h0.8v1.47h-0.8zM206.89 187.63h0.8v1.17h-0.8zM208.05 187.39h0.8v1.41h-0.8zM208.84 187.99h0.8v0.81h-0.8zM209.96 187.5h0.8v1.3h-0.8zM210.57 188.03h0.8v0.77h-0.8zM211.51 188.1h0.8v0.7h-0.8zM212.65 187.78h0.8v1.02h-0.8zM213.55 187.91h0.8v0.89h-0.8zM214.45 188.02h0.8v0.78h-0.8zM215.18 188.07h0.8v0.73h-0.8zM216.12 187.7h0.8v1.1h-0.8zM216.8 187.63h0.8v1.17h-0.8zM217.55 188h0.8v0.8h-0.8zM218.67 187.39h0.8v1.41h-0.8zM219.4 187.22h0.8v1.58h-0.8zM220.61 187.76h0.8v1.04h-0.8zM221.85 188.09h0.8v0.71h-0.8zM222.9 188.12h0.8v0.68h-0.8zM223.56 188.08h0.8v0.72h-0.8zM224.2 188.17h0.8v0.63h-0.8zM224.97 187.71h0.8v1.09h-0.8zM226.1 188.19h0.8v0.61h-0.8zM226.89 187.24h0.8v1.56h-0.8zM227.95 187.41h0.8v1.39h-0.8zM228.58 187.99h0.8v0.81h-0.8zM229.74 187.82h0.8v0.98h-0.8zM230.7 187.24h0.8v1.56h-0.8zM231.49 187.71h0.8v1.09h-0.8zM232.62 187.6h0.8v1.2h-0.8zM233.45 187.52h0.8v1.28h-0.8zM234.29 187.88h0.8v0.92h-0.8zM235.06 187.84h0.8v0.96h-0.8zM235.94 187.59h0.8v1.21h-0.8zM237.22 187.33h0.8v1.47h-0.8zM238.39 188.2h0.8v0.6h-0.8zM239.6 187.8h0.8v1h-0.8zM240.78 187.27h0.8v1.53h-0.8zM241.4 188.08h0.8v0.72h-0.8zM242.37 187.25h0.8v1.55h-0.8zM243.5 187.95h0.8v0.85h-0.8zM244.41 187.51h0.8v1.29h-0.8zM245.62 187.69h0.8v1.11h-0.8zM246.68 188.2h0.8v0.6h-0.8zM247.73 187.26h0.8v1.54h-0.8zM248.55 187.57h0.8v1.23h-0.8zM249.77 187.23h0.8v1.57h-0.8zM250.88 187.52h0.8v1.28h-0.8zM251.64 187.72h0.8v1.08h-0.8zM252.76 187.41h0.8v1.39h-0.8zM253.61 187.26h0.8v1.54h-0.8zM254.87 187.72h0.8v1.08h-0.8zM255.93 187.5h0.8v1.3h-0.8zM256.6 187.82h0.8v0.98h-0.8zM257.62 187.49h0.8v1.31h-0.8zM258.83 187.32h0.8v1.48h-0.8zM259.98 187.48h0.8v1.32h-0.8zM260.6 187.7h0.8v1.1h-0.8zM261.26 187.37h0.8v1.43h-0.8zM262.56 187.21h0.8v1.59h-0.8zM263.49 187.3h0.8v1.5h-0.8zM264.76 187.72h0.8v1.08h-0.8zM265.73 187.96h0.8v0.84h-0.8zM266.45 187.26h0.8v1.54h-0.8zM267.54 188.09h0.8v0.71h-0.8zM268.84 188.17h0.8v0.63h-0.8zM270.09 187.87h0.8v0.93h-0.8zM270.96 187.92h0.8v0.88h-0.8zM272.06 187.53h0.8v1.27h-0.8zM273.33 187.53h0.8v1.27h-0.8zM274.39 187.28h0.8v1.52h-0.8zM275.44 187.71h0.8v1.09h-0.8zM276.59 187.87h0.8v0.93h-0.8zM277.35 187.62h0.8v1.18h-0.8zM278.6 188.14h0.8v0.66h-0.8zM279.44 187.29h0.8v1.51h-0.8zM280.56 187.47h0.8v1.33h-0.8zM281.61 187.41h0.8v1.39h-0.8zM282.89 187.76h0.8v1.04h-0.8zM283.65 187.94h0.8v0.86h-0.8zM284.46 188.09h0.8v0.71h-0.8zM285.3 187.61h0.8v1.19h-0.8zM286.03 187.26h0.8v1.54h-0.8zM287.03 188.07h0.8v0.73h-0.8zM287.85 187.82h0.8v0.98h-0.8zM288.96 187.89h0.8v0.91h-0.8zM289.98 188.01h0.8v0.79h-0.8zM290.85 187.78h0.8v1.02h-0.8zM291.99 187.4h0.8v1.4h-0.8zM293.24 188.07h0.8v0.73h-0.8zM294.31 187.61h0.8v1.19h-0.8zM294.98 188.19h0.8v0.61h-0.8zM296.18 187.88h0.8v0.92h-0.8zM297.35 187.9h0.8v0.9h-0.8zM298.1 187.52h0.8v1.28h-0.8zM298.81 187.92h0.8v0.88h-0.8zM299.93 187.35h0.8v1.45h-0.8zM301.11 188.17h0.8v0.63h-0.8zM301.93 187.7h0.8v1.1h-0.8zM303.01 187.93h0.8v0.87h-0.8zM304.21 187.63h0.8v1.17h-0.8zM305.25 187.98h0.8v0.82h-0.8zM306.05 187.23h0.8v1.57h-0.8zM306.69 187.39h0.8v1.41h-0.8zM307.4 187.48h0.8v1.32h-0.8zM308.6 187.27h0.8v1.53h-0.8zM309.35 187.46h0.8v1.34h-0.8zM310.6 187.42h0.8v1.38h-0.8zM311.8 187.47h0.8v1.33h-0.8zM312.61 187.38h0.8v1.42h-0.8zM313.85 188.04h0.8v0.76h-0.8zM314.46 187.81h0.8v0.99h-0.8zM315.36 187.73h0.8v1.07h-0.8zM316.2 187.81h0.8v0.99h-0.8zM316.85 187.47h0.8v1.33h-0.8zM317.65 187.28h0.8v1.52h-0.8zM318.74 187.65h0.8v1.15h-0.8zM319.41 187.88h0.8v0.92h-0.8zM320.56 187.33h0.8v1.47h-0.8zM321.2 187.27h0.8v1.53h-0.8zM322.01 187.55h0.8v1.25h-0.8zM323.02 187.76h0.8v1.04h-0.8zM323.95 187.3h0.8v1.5h-0.8zM324.7 187.4h0.8v1.4h-0.8zM325.44 187.55h0.8v1.25h-0.8zM326.29 187.34h0.8v1.46h-0.8zM326.96 187.41h0.8v1.39h-0.8zM328.16 187.82h0.8v0.98h-0.8zM329.45 187.52h0.8v1.28h-0.8zM330.17 188.14h0.8v0.66h-0.8zM331.02 187.73h0.8v1.07h-0.8zM332.28 188.08h0.8v0.72h-0.8zM333.24 187.86h0.8v0.94h-0.8zM334.14 188.05h0.8v0.75h-0.8zM335.25 187.95h0.8v0.85h-0.8zM335.93 187.8h0.8v1h-0.8zM336.75 187.6h0.8v1.2h-0.8zM337.47 187.45h0.8v1.35h-0.8zM338.61 187.21h0.8v1.59h-0.8zM339.68 188.11h0.8v0.69h-0.8zM340.6 187.38h0.8v1.42h-0.8zM341.47 187.57h0.8v1.23h-0.8zM342.38 188.19h0.8v0.61h-0.8zM343.06 188.08h0.8v0.72h-0.8zM344.11 187.29h0.8v1.51h-0.8zM344.87 187.61h0.8v1.19h-0.8zM346.16 187.72h0.8v1.08h-0.8zM347.25 188.11h0.8v0.69h-0.8zM348.26 187.82h0.8v0.98h-0.8zM349.56 187.5h0.8v1.3h-0.8zM350.37 188.07h0.8v0.73h-0.8zM351.2 187.49h0.8v1.31h-0.8zM352.4 187.66h0.8v1.14h-0.8zM353.29 187.5h0.8v1.3h-0.8zM354.16 187.38h0.8v1.42h-0.8zM355.31 187.67h0.8v1.13h-0.8zM355.96 187.36h0.8v1.44h-0.8zM356.93 187.38h0.8v1.42h-0.8zM357.99 187.45h0.8v1.35h-0.8zM358.73 187.54h0.8v1.26h-0.8zM359.42 187.34h0.8v1.46h-0.8zM360.5 188.19h0.8v0.61h-0.8zM361.42 187.89h0.8v0.91h-0.8zM362.04 187.62h0.8v1.18h-0.8zM363.1 188.11h0.8v0.69h-0.8zM363.88 187.45h0.8v1.35h-0.8zM364.54 188.08h0.8v0.72h-0.8zM365.35 187.23h0.8v1.57h-0.8zM366.07 187.22h0.8v1.58h-0.8zM367.13 187.95h0.8v0.85h-0.8zM367.76 187.25h0.8v1.55h-0.8zM368.99 187.91h0.8v0.89h-0.8zM369.97 188.06h0.8v0.74h-0.8zM370.91 187.89h0.8v0.91h-0.8zM372.15 187.2h0.8v1.6h-0.8zM373.17 187.69h0.8v1.11h-0.8zM374.25 187.54h0.8v1.26h-0.8zM374.89 188.16h0.8v0.64h-0.8zM375.59 187.34h0.8v1.46h-0.8zM376.34 188.07h0.8v0.73h-0.8zM377.32 187.61h0.8v1.19h-0.8zM378.12 187.47h0.8v1.33h-0.8zM379.01 187.65h0.8v1.15h-0.8zM379.79 187.55h0.8v1.25h-0.8zM380.51 187.74h0.8v1.06h-0.8zM381.77 187.52h0.8v1.28h-0.8zM383.03 188.06h0.8v0.74h-0.8zM383.77 187.57h0.8v1.23h-0.8zM384.56 187.57h0.8v1.23h-0.8zM385.61 187.49h0.8v1.31h-0.8zM386.61 187.55h0.8v1.25h-0.8zM387.56 188.04h0.8v0.76h-0.8zM388.74 187.88h0.8v0.92h-0.8zM389.89 187.82h0.8v0.98h-0.8zM391.17 187.95h0.8v0.85h-0.8zM391.95 187.67h0.8v1.13h-0.8zM393.03 187.79h0.8v1.01h-0.8zM393.86 188.11h0.8v0.69h-0.8zM395.1 187.42h0.8v1.38h-0.8zM395.8 187.4h0.8v1.4h-0.8zM396.59 188.1h0.8v0.7h-0.8zM397.88 187.98h0.8v0.82h-0.8zM399.15 187.42h0.8v1.38h-0.8zM399.83 187.67h0.8v1.13h-0.8zM401.05 187.61h0.8v1.19h-0.8zM402.21 188.1h0.8v0.7h-0.8zM403.05 187.63h0.8v1.17h-0.8zM403.85 187.93h0.8v0.87h-0.8zM404.52 188.15h0.8v0.65h-0.8zM405.34 187.45h0.8v1.35h-0.8zM406.07 187.39h0.8v1.41h-0.8zM407.14 187.41h0.8v1.39h-0.8zM408.13 187.32h0.8v1.48h-0.8zM409.01 187.61h0.8v1.19h-0.8zM409.79 187.51h0.8v1.29h-0.8zM410.89 187.54h0.8v1.26h-0.8zM411.59 187.63h0.8v1.17h-0.8zM412.38 187.28h0.8v1.52h-0.8zM413.43 187.83h0.8v0.97h-0.8zM414.57 187.52h0.8v1.28h-0.8zM415.46 187.74h0.8v1.06h-0.8zM416.37 187.85h0.8v0.95h-0.8zM417.3 187.91h0.8v0.89h-0.8zM418.57 187.68h0.8v1.12h-0.8zM419.67 187.28h0.8v1.52h-0.8zM420.43 187.56h0.8v1.24h-0.8zM421.09 187.89h0.8v0.91h-0.8zM422.23 187.35h0.8v1.45h-0.8zM423.27 188.12h0.8v0.68h-0.8zM424.04 188.11h0.8v0.69h-0.8zM425.05 188.12h0.8v0.68h-0.8zM425.85 187.27h0.8v1.53h-0.8zM427.01 188.19h0.8v0.61h-0.8zM428.28 187.52h0.8v1.28h-0.8zM429.53 188.06h0.8v0.74h-0.8zM430.48 187.51h0.8v1.29h-0.8zM431.55 187.67h0.8v1.13h-0.8zM432.24 188.19h0.8v0.61h-0.8zM432.97 187.37h0.8v1.43h-0.8zM433.58 187.78h0.8v1.02h-0.8zM434.55 187.85h0.8v0.95h-0.8zM435.85 187.54h0.8v1.26h-0.8zM437.09 187.2h0.8v1.6h-0.8zM438.35 187.52h0.8v1.28h-0.8zM438.98 187.75h0.8v1.05h-0.8zM439.7 187.27h0.8v1.53h-0.8zM440.83 187.3h0.8v1.5h-0.8zM441.56 187.83h0.8v0.97h-0.8zM442.25 187.85h0.8v0.95h-0.8zM442.88 187.7h0.8v1.1h-0.8zM443.6 187.23h0.8v1.57h-0.8zM444.44 187.52h0.8v1.28h-0.8zM445.62 187.35h0.8v1.45h-0.8zM446.82 187.91h0.8v0.89h-0.8zM447.76 187.94h0.8v0.86h-0.8zM448.36 187.57h0.8v1.23h-0.8zM449.24 187.28h0.8v1.52h-0.8zM450.49 187.24h0.8v1.56h-0.8zM451.45 187.31h0.8v1.49h-0.8zM452.7 187.31h0.8v1.49h-0.8zM453.9 188.14h0.8v0.66h-0.8zM454.5 187.74h0.8v1.06h-0.8zM455.31 188.09h0.8v0.71h-0.8zM456.16 187.48h0.8v1.32h-0.8zM457.04 188.19h0.8v0.61h-0.8zM457.94 188h0.8v0.8h-0.8zM458.91 187.3h0.8v1.5h-0.8zM459.8 187.29h0.8v1.51h-0.8zM460.4 187.43h0.8v1.37h-0.8zM461.18 187.73h0.8v1.07h-0.8zM462.04 187.84h0.8v0.96h-0.8zM463.26 187.66h0.8v1.14h-0.8zM464.05 187.21h0.8v1.59h-0.8zM465.11 187.76h0.8v1.04h-0.8zM465.81 187.45h0.8v1.35h-0.8zM466.41 187.32h0.8v1.48h-0.8zM467.51 188.09h0.8v0.71h-0.8zM468.31 188.07h0.8v0.73h-0.8zM469.2 187.87h0.8v0.93h-0.8zM469.83 187.53h0.8v1.27h-0.8zM471.09 187.24h0.8v1.56h-0.8zM472.38 188.08h0.8v0.72h-0.8zM473.32 187.7h0.8v1.1h-0.8zM474.4 188.07h0.8v0.73h-0.8zM475.52 187.42h0.8v1.38h-0.8zM476.4 187.47h0.8v1.33h-0.8zM477.52 187.37h0.8v1.43h-0.8zM478.22 187.24h0.8v1.56h-0.8zM479.37 188.07h0.8v0.73h-0.8zM480.21 188.19h0.8v0.61h-0.8zM481.29 188.15h0.8v0.65h-0.8zM482.47 187.77h0.8v1.03h-0.8zM483.49 188.19h0.8v0.61h-0.8zM484.42 187.92h0.8v0.88h-0.8zM485.08 187.77h0.8v1.03h-0.8zM486.12 187.47h0.8v1.33h-0.8zM486.85 187.92h0.8v0.88h-0.8zM487.53 187.94h0.8v0.86h-0.8zM488.62 187.53h0.8v1.27h-0.8zM489.52 187.73h0.8v1.07h-0.8zM490.67 188.1h0.8v0.7h-0.8zM491.78 187.59h0.8v1.21h-0.8zM492.51 187.35h0.8v1.45h-0.8zM493.55 188.05h0.8v0.75h-0.8zM494.23 187.8h0.8v1h-0.8zM495.03 188.01h0.8v0.79h-0.8zM495.73 188.18h0.8v0.62h-0.8zM496.47 187.34h0.8v1.46h-0.8zM497.33 187.68h0.8v1.12h-0.8zM498.42 187.22h0.8v1.58h-0.8zM499.18 187.77h0.8v1.03h-0.8zM499.82 187.77h0.8v1.03h-0.8zM500.46 188.09h0.8v0.71h-0.8zM501.31 187.26h0.8v1.54h-0.8zM502.41 187.95h0.8v0.85h-0.8zM503.64 188.02h0.8v0.78h-0.8zM504.24 187.54h0.8v1.26h-0.8zM505.06 187.91h0.8v0.89h-0.8zM505.86 187.59h0.8v1.21h-0.8zM506.76 187.95h0.8v0.85h-0.8zM507.7 187.87h0.8v0.93h-0.8zM508.38 187.53h0.8v1.27h-0.8zM509.46 187.43h0.8v1.37h-0.8zM510.15 187.84h0.8v0.96h-0.8zM511.32 187.46h0.8v1.34h-0.8zM512.33 187.6h0.8v1.2h-0.8zM513.1 187.92h0.8v0.88h-0.8zM514.11 188.11h0.8v0.69h-0.8zM514.78 187.57h0.8v1.23h-0.8zM515.8 188.16h0.8v0.64h-0.8zM517.08 187.32h0.8v1.48h-0.8zM518.25 188.01h0.8v0.79h-0.8zM519.16 188.1h0.8v0.7h-0.8zM520.42 187.58h0.8v1.22h-0.8zM521.23 187.73h0.8v1.07h-0.8zM522.37 187.67h0.8v1.13h-0.8zM523.07 188.07h0.8v0.73h-0.8zM523.97 187.49h0.8v1.31h-0.8zM525.19 187.44h0.8v1.36h-0.8zM526.38 186.44h0.8v2.36h-0.8zM527.24 186.84h0.8v1.96h-0.8zM528.15 186.17h0.8v2.63h-0.8zM529.41 186.58h0.8v2.22h-0.8zM530.2 186.15h0.8v2.65h-0.8zM531.47 185.69h0.8v3.11h-0.8zM532.21 187.39h0.8v1.41h-0.8zM533.15 187.67h0.8v1.13h-0.8zM534.11 188.13h0.8v0.67h-0.8zM535.02 187.69h0.8v1.11h-0.8zM536.01 187.81h0.8v0.99h-0.8zM537.04 187.99h0.8v0.81h-0.8zM537.64 187.63h0.8v1.17h-0.8zM538.65 188.19h0.8v0.61h-0.8zM539.9 187.69h0.8v1.11h-0.8zM540.86 187.48h0.8v1.32h-0.8zM541.64 187.35h0.8v1.45h-0.8zM542.45 187.93h0.8v0.87h-0.8zM543.13 187.98h0.8v0.82h-0.8zM544.1 187.91h0.8v0.89h-0.8zM545.15 187.26h0.8v1.54h-0.8zM545.94 188.07h0.8v0.73h-0.8zM547.16 188.15h0.8v0.65h-0.8zM548.44 187.21h0.8v1.59h-0.8zM549.19 188.08h0.8v0.72h-0.8zM550.24 187.57h0.8v1.23h-0.8zM551.52 187.88h0.8v0.92h-0.8zM552.79 187.32h0.8v1.48h-0.8zM553.57 188.07h0.8v0.73h-0.8zM554.8 187.91h0.8v0.89h-0.8zM556.09 187.57h0.8v1.23h-0.8zM556.7 187.84h0.8v0.96h-0.8zM557.81 187.92h0.8v0.88h-0.8zM558.59 188.18h0.8v0.62h-0.8zM559.65 187.33h0.8v1.47h-0.8zM560.91 187.62h0.8v1.18h-0.8zM562.01 187.51h0.8v1.29h-0.8zM563.27 187.94h0.8v0.86h-0.8zM564.31 187.6h0.8v1.2h-0.8zM565.06 187.76h0.8v1.04h-0.8zM565.88 188h0.8v0.8h-0.8zM566.92 187.34h0.8v1.46h-0.8zM567.8 187.75h0.8v1.05h-0.8zM568.91 187.77h0.8v1.03h-0.8zM569.61 187.72h0.8v1.08h-0.8zM570.56 187.74h0.8v1.06h-0.8zM571.73 188.02h0.8v0.78h-0.8zM572.73 187.26h0.8v1.54h-0.8zM573.46 187.92h0.8v0.88h-0.8zM574.28 187.31h0.8v1.49h-0.8zM575.45 187.51h0.8v1.29h-0.8zM576.18 188.06h0.8v0.74h-0.8zM577.08 187.74h0.8v1.06h-0.8zM578.13 187.8h0.8v1h-0.8zM579.24 188.06h0.8v0.74h-0.8zM580.36 188.19h0.8v0.61h-0.8zM581.03 187.82h0.8v0.98h-0.8zM581.71 188.19h0.8v0.61h-0.8zM582.89 187.27h0.8v1.53h-0.8zM583.58 187.43h0.8v1.37h-0.8zM584.37 187.26h0.8v1.54h-0.8zM585.39 187.41h0.8v1.39h-0.8zM586 187.41h0.8v1.39h-0.8zM586.98 187.38h0.8v1.42h-0.8zM588.17 188.12h0.8v0.68h-0.8zM588.87 187.44h0.8v1.36h-0.8zM590.09 187.38h0.8v1.42h-0.8zM590.91 187.72h0.8v1.08h-0.8zM591.68 187.66h0.8v1.14h-0.8zM592.47 187.66h0.8v1.14h-0.8zM593.08 188.16h0.8v0.64h-0.8zM594.06 188.1h0.8v0.7h-0.8zM595.28 187.78h0.8v1.02h-0.8zM595.88 187.98h0.8v0.82h-0.8zM596.64 187.81h0.8v0.99h-0.8zM597.49 187.91h0.8v0.89h-0.8zM598.74 187.52h0.8v1.28h-0.8zM599.82 187.49h0.8v1.31h-0.8zM601.05 187.71h0.8v1.09h-0.8zM602.34 187.98h0.8v0.82h-0.8zM603.61 187.92h0.8v0.88h-0.8zM604.26 187.87h0.8v0.93h-0.8zM605.12 187.28h0.8v1.52h-0.8zM605.78 188.16h0.8v0.64h-0.8zM606.48 187.77h0.8v1.03h-0.8zM607.32 188.02h0.8v0.78h-0.8zM608.21 187.31h0.8v1.49h-0.8zM609.29 187.58h0.8v1.22h-0.8zM610.1 187.32h0.8v1.48h-0.8zM610.89 187.7h0.8v1.1h-0.8zM611.74 187.93h0.8v0.87h-0.8zM612.98 187.4h0.8v1.4h-0.8zM614.13 187.34h0.8v1.46h-0.8zM615.42 187.42h0.8v1.38h-0.8zM616.12 188.05h0.8v0.75h-0.8zM617.03 187.4h0.8v1.4h-0.8zM618.31 187.39h0.8v1.41h-0.8zM618.99 187.77h0.8v1.03h-0.8zM620.1 188.06h0.8v0.74h-0.8zM620.93 188.07h0.8v0.73h-0.8zM622.07 187.85h0.8v0.95h-0.8zM623.01 187.72h0.8v1.08h-0.8zM624.29 187.6h0.8v1.2h-0.8zM625.34 188.06h0.8v0.74h-0.8zM626.6 187.28h0.8v1.52h-0.8zM627.47 187.65h0.8v1.15h-0.8zM628.44 187.71h0.8v1.09h-0.8zM629.42 187.97h0.8v0.83h-0.8zM630.08 187.49h0.8v1.31h-0.8zM631.05 187.42h0.8v1.38h-0.8zM632.22 187.98h0.8v0.82h-0.8zM632.88 187.84h0.8v0.96h-0.8zM633.62 187.35h0.8v1.45h-0.8zM634.47 187.73h0.8v1.07h-0.8zM635.17 188.09h0.8v0.71h-0.8zM636.4 187.84h0.8v0.96h-0.8zM637.6 187.42h0.8v1.38h-0.8zM638.3 187.74h0.8v1.06h-0.8zM639.48 187.65h0.8v1.15h-0.8zM640.73 187.78h0.8v1.02h-0.8zM641.48 187.98h0.8v0.82h-0.8zM642.6 188.08h0.8v0.72h-0.8zM643.69 188.06h0.8v0.74h-0.8zM644.8 187.5h0.8v1.3h-0.8zM645.7 188.15h0.8v0.65h-0.8zM646.37 187.62h0.8v1.18h-0.8zM647.31 187.61h0.8v1.19h-0.8zM648.02 188.05h0.8v0.75h-0.8zM648.72 187.95h0.8v0.85h-0.8zM649.33 187.37h0.8v1.43h-0.8zM650.22 187.43h0.8v1.37h-0.8zM651.15 188.06h0.8v0.74h-0.8zM652.12 187.25h0.8v1.55h-0.8zM653.05 187.48h0.8v1.32h-0.8zM653.96 187.56h0.8v1.24h-0.8zM654.57 188.09h0.8v0.71h-0.8zM655.21 187.56h0.8v1.24h-0.8zM656.23 188.03h0.8v0.77h-0.8zM656.94 187.8h0.8v1h-0.8zM657.84 187.25h0.8v1.55h-0.8zM658.76 187.49h0.8v1.31h-0.8zM659.54 187.63h0.8v1.17h-0.8zM660.35 187.97h0.8v0.83h-0.8zM661.6 187.93h0.8v0.87h-0.8zM662.27 187.82h0.8v0.98h-0.8zM663.53 186.28h0.8v2.52h-0.8zM664.17 185.7h0.8v3.1h-0.8zM665.46 187.13h0.8v1.67h-0.8zM666.54 185.99h0.8v2.81h-0.8zM667.42 187.4h0.8v1.4h-0.8zM668.28 186.88h0.8v1.92h-0.8zM668.96 185.82h0.8v2.98h-0.8zM669.79 187.3h0.8v1.5h-0.8zM670.47 187.66h0.8v1.14h-0.8zM671.7 187.27h0.8v1.53h-0.8zM672.95 187.47h0.8v1.33h-0.8zM673.95 185.68h0.8v3.12h-0.8zM674.89 187.65h0.8v1.15h-0.8z" stroke="none" fill="#6a6a6a" stroke-width="1"/>
<line x1="45.5" y1="188.6" x2="675" y2="188.6" stroke="#555" stroke-width="0.8"/>
<text x="3.4" y="210.9" font-size="15" fill="#000" font-weight="bold">b</text>
<line x1="45" y1="224.5" x2="210.9" y2="224.5" stroke="#444" stroke-width="0.9"/>
<line x1="210.9" y1="224.5" x2="210.9" y2="303" stroke="#444" stroke-width="0.9"/>
<line x1="45" y1="303" x2="210.9" y2="303" stroke="#444" stroke-width="0.9"/>
<line x1="45" y1="224.5" x2="45" y2="303" stroke="#8a8a8a" stroke-width="1.2"/>
<line x1="40.8" y1="225.2" x2="45" y2="225.2" stroke="#444" stroke-width="0.8"/>
<text x="38.2" y="227.8" font-size="7.3" fill="#1a1a1a" text-anchor="end">0.04</text>
<line x1="40.8" y1="244.7" x2="45" y2="244.7" stroke="#444" stroke-width="0.8"/>
<text x="38.2" y="247.3" font-size="7.3" fill="#1a1a1a" text-anchor="end">0.03</text>
<line x1="40.8" y1="264" x2="45" y2="264" stroke="#444" stroke-width="0.8"/>
<text x="38.2" y="266.6" font-size="7.3" fill="#1a1a1a" text-anchor="end">0.02</text>
<line x1="40.8" y1="282.9" x2="45" y2="282.9" stroke="#444" stroke-width="0.8"/>
<text x="38.2" y="285.5" font-size="7.3" fill="#1a1a1a" text-anchor="end">0.01</text>
<text x="17.7" y="265.9" font-size="9" fill="#1a1a1a" text-anchor="middle" transform="rotate(-90 17.7 265.9)">6mA frequency</text>
<line x1="45" y1="303" x2="45" y2="305.5" stroke="#444" stroke-width="0.8"/>
<text x="48.3" y="312.8" font-size="7.9" fill="#1a1a1a" text-anchor="middle">-1.5 kb</text>
<line x1="91.2" y1="303" x2="91.2" y2="305.5" stroke="#444" stroke-width="0.8"/>
<text x="91" y="312.8" font-size="7.9" fill="#1a1a1a" text-anchor="middle">Start</text>
<line x1="161" y1="303" x2="161" y2="305.5" stroke="#444" stroke-width="0.8"/>
<text x="160.9" y="312.8" font-size="7.9" fill="#1a1a1a" text-anchor="middle">End</text>
<line x1="210.9" y1="303" x2="210.9" y2="305.5" stroke="#444" stroke-width="0.8"/>
<text x="204.5" y="312.8" font-size="7.9" fill="#1a1a1a" text-anchor="middle">1.5 kb</text>
<rect x="95.2" y="299.4" width="65.7" height="5.5" rx="1" fill="#3a9f7c"/>
<text x="129.9" y="323.7" font-size="10" fill="#4db38d" text-anchor="middle">H3K4me3</text>
<text x="129.3" y="334.8" font-size="9.8" fill="#4db38d" text-anchor="middle">Peak</text>
<path d="M45 285.2C46.67 285.1 51.67 284.67 55 284.6C58.33 284.53 62 284.82 65 284.8C68 284.78 70.67 284.8 73 284.5C75.33 284.2 77 284.08 79 283C81 281.92 82.83 279.92 85 278C87.17 276.08 89.5 273.42 92 271.5C94.5 269.58 97.33 267.65 100 266.5C102.67 265.35 105.33 264.87 108 264.6C110.67 264.33 113.33 264.83 116 264.9C118.67 264.97 121.33 265.08 124 265C126.67 264.92 129.33 264.62 132 264.4C134.67 264.18 137.5 263.63 140 263.7C142.5 263.77 144.83 264 147 264.8C149.17 265.6 150.83 266.77 153 268.5C155.17 270.23 157.83 273.07 160 275.2C162.17 277.33 164 279.75 166 281.3C168 282.85 170 283.95 172 284.5C174 285.05 175.67 284.65 178 284.6C180.33 284.55 183.5 284.17 186 284.2C188.5 284.23 190.67 284.63 193 284.8C195.33 284.97 197.08 285.13 200 285.2C202.92 285.27 208.75 285.2 210.5 285.2" stroke="#d765c8" fill="none" stroke-width="1.6"/>
<line x1="232.3" y1="224.2" x2="398.5" y2="224.2" stroke="#444" stroke-width="0.9"/>
<line x1="398.5" y1="224.2" x2="398.5" y2="302.4" stroke="#444" stroke-width="0.9"/>
<line x1="232.3" y1="302.4" x2="398.5" y2="302.4" stroke="#444" stroke-width="0.9"/>
<line x1="232.3" y1="224.2" x2="232.3" y2="302.4" stroke="#444" stroke-width="1.2"/>
<line x1="232.3" y1="302.4" x2="232.3" y2="304.9" stroke="#444" stroke-width="0.8"/>
<text x="241" y="312.8" font-size="7.8" fill="#1a1a1a" text-anchor="middle">-3.5 kb</text>
<line x1="275" y1="302.4" x2="275" y2="304.9" stroke="#444" stroke-width="0.8"/>
<text x="275.3" y="312.8" font-size="7.8" fill="#1a1a1a" text-anchor="middle">Start</text>
<line x1="353.5" y1="302.4" x2="353.5" y2="304.9" stroke="#444" stroke-width="0.8"/>
<text x="353.7" y="313.2" font-size="7.8" fill="#1a1a1a" text-anchor="middle">End</text>
<line x1="398.5" y1="302.4" x2="398.5" y2="304.9" stroke="#444" stroke-width="0.8"/>
<text x="396.3" y="312.8" font-size="7.8" fill="#1a1a1a" text-anchor="middle">3.5 kb</text>
<rect x="277.7" y="300.9" width="75.5" height="5.5" rx="1" fill="#2f5597"/>
<text x="316" y="323.7" font-size="10" fill="#4a6fb0" text-anchor="middle">H3K9me3</text>
<text x="314.9" y="334.8" font-size="9.8" fill="#4a6fb0" text-anchor="middle">Peak</text>
<path d="M232.5 290C233.08 288.33 234.75 282.92 236 280C237.25 277.08 238.67 274.2 240 272.5C241.33 270.8 242.67 270.22 244 269.8C245.33 269.38 246.67 270.22 248 270C249.33 269.78 250.67 269.83 252 268.5C253.33 267.17 254.67 263.82 256 262C257.33 260.18 258.67 258.18 260 257.6C261.33 257.02 262.67 256.77 264 258.5C265.33 260.23 266.67 263.92 268 268C269.33 272.08 270.67 278.25 272 283C273.33 287.75 274.75 293.73 276 296.5C277.25 299.27 278.33 299.52 279.5 299.6C280.67 299.68 281.75 297.93 283 297C284.25 296.07 285.5 294.53 287 294C288.5 293.47 290.33 293.63 292 293.8C293.67 293.97 295.17 294.85 297 295C298.83 295.15 300.83 294.78 303 294.7C305.17 294.62 307.5 294.48 310 294.5C312.5 294.52 315.5 294.97 318 294.8C320.5 294.63 322.67 294 325 293.5C327.33 293 329.83 291.97 332 291.8C334.17 291.63 336 292.17 338 292.5C340 292.83 342 293.63 344 293.8C346 293.97 348.17 293.88 350 293.5C351.83 293.12 353.5 292.92 355 291.5C356.5 290.08 357.67 287.42 359 285C360.33 282.58 361.5 279.42 363 277C364.5 274.58 366.33 271.42 368 270.5C369.67 269.58 371.33 271.05 373 271.5C374.67 271.95 376.17 273.03 378 273.2C379.83 273.37 382.17 272.28 384 272.5C385.83 272.72 387.33 273.08 389 274.5C390.67 275.92 392.42 278.33 394 281C395.58 283.67 397.75 288.92 398.5 290.5" stroke="#d765c8" fill="none" stroke-width="1.6"/>
<text x="450.2" y="210.9" font-size="15" fill="#000" font-weight="bold">c</text>
<line x1="487.8" y1="224.5" x2="655.6" y2="224.5" stroke="#666" stroke-width="0.9"/>
<line x1="655.6" y1="224.5" x2="655.6" y2="302.2" stroke="#666" stroke-width="0.9"/>
<line x1="487.8" y1="302.2" x2="655.6" y2="302.2" stroke="#666" stroke-width="0.9"/>
<line x1="487.8" y1="224.5" x2="487.8" y2="302.2" stroke="#777" stroke-width="1.2"/>
<line x1="487.8" y1="302.2" x2="655.6" y2="302.2" stroke="#333" stroke-width="0.9"/>
<line x1="483.8" y1="225.2" x2="487.8" y2="225.2" stroke="#333" stroke-width="0.8"/>
<text x="482.3" y="227.9" font-size="7.6" fill="#1a1a1a" text-anchor="end">2</text>
<line x1="483.8" y1="302.2" x2="487.8" y2="302.2" stroke="#333" stroke-width="0.8"/>
<text x="482.3" y="304.9" font-size="7.6" fill="#1a1a1a" text-anchor="end">1</text>
<text x="466.3" y="262.6" font-size="9" fill="#1a1a1a" text-anchor="middle" transform="rotate(-90 466.3 262.6)">H3K4me3 (IP/Input)</text>
<line x1="487.8" y1="302.2" x2="487.8" y2="304.7" stroke="#333" stroke-width="0.8"/>
<text x="488.2" y="313.5" font-size="7.8" fill="#1a1a1a" text-anchor="middle">-1.5 kb</text>
<line x1="537.4" y1="302.2" x2="537.4" y2="304.7" stroke="#333" stroke-width="0.8"/>
<text x="535.8" y="313.5" font-size="7.8" fill="#1a1a1a" text-anchor="middle">Start</text>
<line x1="604.8" y1="302.2" x2="604.8" y2="304.7" stroke="#333" stroke-width="0.8"/>
<text x="605.2" y="313.5" font-size="7.8" fill="#1a1a1a" text-anchor="middle">End</text>
<line x1="655.6" y1="302.2" x2="655.6" y2="304.7" stroke="#333" stroke-width="0.8"/>
<text x="655.6" y="313.5" font-size="7.8" fill="#1a1a1a" text-anchor="middle">1.5 kb</text>
<rect x="537.4" y="299.4" width="67.1" height="5.4" rx="0.8" fill="#a3569e"/>
<text x="571.6" y="321.5" font-size="11.3" fill="#cd6cc0" text-anchor="middle">MAC</text>
<path d="M488.5 283.59 L489.42 283.45 L490.34 283.57 L491.26 283.29 L492.17 283.17 L493.09 283.2 L494.01 283.16 L494.93 283 L495.85 283.3 L496.77 283.06 L497.68 283.36 L498.6 283.09 L499.52 283.04 L500.44 283.15 L501.36 282.65 L502.28 283.05 L503.19 282.79 L504.11 282.96 L505.03 282.38 L505.95 282.38 L506.87 282.6 L507.79 282.15 L508.7 282.38 L509.62 282.47 L510.54 281.93 L511.46 281.81 L512.38 281.97 L513.3 281.52 L514.21 281.74 L515.13 281.77 L516.05 281.33 L516.97 281.48 L517.89 281.09 L518.81 280.88 L519.72 280.87 L520.64 280.5 L521.56 280.14 L522.48 280.05 L523.4 280.06 L524.32 280.05 L525.23 279.31 L526.15 279.51 L527.07 279.28 L527.99 278.79 L528.91 279.02 L529.83 278.56 L530.74 278.53 L531.66 278.05 L532.58 278.05 L533.5 277.26 L535.8 276 L536.6 270 L537.8 261.5 L538.92 260.49 L540.04 259.51 L541.16 258.57 L542.28 257.66 L543.4 256.79 L544.52 255.94 L545.64 255.13 L546.76 254.36 L547.88 253.62 L549 252.91 L550.12 252.23 L551.24 251.59 L552.36 250.98 L553.48 250.4 L554.6 249.86 L555.72 249.35 L556.84 248.87 L557.96 248.43 L559.08 248.02 L560.2 247.64 L561.32 247.3 L562.44 246.99 L563.56 246.71 L564.68 246.47 L565.8 246.26 L566.92 246.08 L568.04 245.94 L569.16 245.83 L570.28 245.75 L571.4 245.71 L572.52 245.7 L573.64 245.72 L574.76 245.78 L575.88 245.87 L577 245.99 L578.12 246.15 L579.24 246.34 L580.36 246.56 L581.48 246.82 L582.6 247.11 L583.72 247.43 L584.84 247.79 L585.96 248.18 L587.08 248.6 L588.2 249.06 L589.32 249.55 L590.44 250.07 L591.56 250.62 L592.68 251.21 L593.8 251.84 L594.92 252.49 L596.04 253.18 L597.16 253.9 L598.28 254.66 L599.4 255.45 L600.52 256.27 L601.64 257.13 L602.76 258.02 L603.88 258.94 L605.8 264 L607 271 L608.6 277.2 L609.55 277.17 L610.51 277.88 L611.46 277.86 L612.41 278.44 L613.37 278.64 L614.32 278.93 L615.27 278.92 L616.22 279.12 L617.18 279.17 L618.13 279.46 L619.08 279.53 L620.04 280.04 L620.99 280.1 L621.94 280.13 L622.9 280.7 L623.85 280.73 L624.8 281.22 L625.76 281.39 L626.71 281.42 L627.66 281.39 L628.61 281.83 L629.57 281.99 L630.52 282.15 L631.47 282 L632.43 282.06 L633.38 282.14 L634.33 282.34 L635.29 282.58 L636.24 282.73 L637.19 282.69 L638.14 282.83 L639.1 282.99 L640.05 282.9 L641 282.84 L641.96 283.05 L642.91 283.04 L643.86 283.26 L644.82 283.29 L645.77 282.68 L646.72 283.19 L647.68 282.58 L648.63 282.96 L649.58 282.83 L650.53 282.68 L651.49 282.36 L652.44 282.24 L653.39 282.32 L654.35 282.34 L655.3 282.41" stroke="#33a07b" fill="none" stroke-width="1.5" stroke-linejoin="round"/>
<text x="36.5" y="374.7" font-size="15" fill="#000" font-weight="bold">d</text>
<circle cx="126" cy="445.9" r="49.6" fill="#7ac0ab" stroke="#333" stroke-width="0.7"/>
<circle cx="173.5" cy="527" r="46" fill="#748eb3" stroke="#333" stroke-width="0.7"/>
<circle cx="182.2" cy="445.1" r="42" fill="#d59ecb" fill-opacity="0.72" stroke="#333" stroke-width="0.7"/>
<text x="110.5" y="427.9" font-size="9.8" fill="#111" text-anchor="middle">H3K4me3</text>
<text x="112" y="438.4" font-size="9.3" fill="#111" text-anchor="middle">10.96%</text>
<text x="200.8" y="434.9" font-size="9.8" fill="#111" text-anchor="middle">6mA</text>
<text x="200.8" y="445.2" font-size="9.3" fill="#111" text-anchor="middle">7.66%</text>
<text x="172" y="512.4" font-size="9.8" fill="#111" text-anchor="middle">H3K9me3</text>
<text x="173.4" y="523.4" font-size="9.3" fill="#111" text-anchor="middle">9.49%</text>
<path d="M154.1 359.2A15.47 15.47 0 0 1 154.1 388.5A54.66 54.66 0 0 0 154.1 359.2Z" fill="#6fbc9f"/>
<path d="M170.8 360.1A14.23 14.23 0 0 0 169.7 387.4A57.38 57.38 0 0 1 170.8 360.1Z" fill="#d59ecb" fill-opacity="0.72"/>
<path d="M154.1 359.2A15.47 15.47 0 0 1 154.1 388.5M170.8 360.1A14.23 14.23 0 0 0 169.7 387.4" fill="none" stroke="#222" stroke-width="0.8"/>
<text x="151.7" y="380" font-size="10" fill="#3da67f" text-anchor="end" font-weight="bold">19.86 %</text>
<text x="143.8" y="391" font-size="7.8" fill="#9a9a9a" text-anchor="end">7.83 %</text>
<text x="172.6" y="380" font-size="10" fill="#d98bd0" font-weight="bold">28.42 %</text>
<path d="M247 468.9A15.99 15.99 0 0 1 246.1 497.4A39.68 39.68 0 0 0 247 468.9Z" fill="#3a5e9f"/>
<path d="M263.2 469.2A14.26 14.26 0 0 0 262.5 496.5A42.56 42.56 0 0 1 263.2 469.2Z" fill="#d59ecb" fill-opacity="0.72"/>
<path d="M247 468.9A15.99 15.99 0 0 1 246.1 497.4M263.2 469.2A14.26 14.26 0 0 0 262.5 496.5" fill="none" stroke="#222" stroke-width="0.8"/>
<text x="246.8" y="486.7" font-size="10" fill="#3d62a6" text-anchor="end" font-weight="bold">2.03 %</text>
<text x="242.2" y="497.2" font-size="7.8" fill="#9a9a9a" text-anchor="end">8.01 %</text>
<text x="263.6" y="486.7" font-size="10" fill="#d98bd0" font-weight="bold">2.52 %</text>
<path d="M79.4 494.8A15.36 15.36 0 0 1 78.6 523.5A47.94 47.94 0 0 0 79.4 494.8Z" fill="#3fa782"/>
<path d="M95.7 495.5A13.92 13.92 0 0 0 94.8 522.4A52.62 52.62 0 0 1 95.7 495.5Z" fill="#3f64a5" fill-opacity="0.85"/>
<path d="M79.4 494.8A15.36 15.36 0 0 1 78.6 523.5M95.7 495.5A13.92 13.92 0 0 0 94.8 522.4" fill="none" stroke="#222" stroke-width="0.8"/>
<text x="78.9" y="513.9" font-size="10" fill="#3da67f" text-anchor="end" font-weight="bold">0.36 %</text>
<text x="73" y="527.7" font-size="7.8" fill="#9a9a9a" text-anchor="end">9.18 %</text>
<text x="95.8" y="513.9" font-size="10" fill="#3d62a6" font-weight="bold">0.41 %</text>
<text x="122.7" y="527.7" font-size="7.8" fill="#9a9a9a" text-anchor="end">9.48 %</text>
<text x="337.4" y="361" font-size="15" fill="#000" font-weight="bold">e</text>
<line x1="379.6" y1="366.1" x2="513.8" y2="366.1" stroke="#555" stroke-width="0.9"/>
<line x1="513.8" y1="366.1" x2="513.8" y2="474.2" stroke="#555" stroke-width="0.9"/>
<line x1="379.6" y1="474.2" x2="513.8" y2="474.2" stroke="#555" stroke-width="0.9"/>
<line x1="379.6" y1="366.1" x2="379.6" y2="474.2" stroke="#333" stroke-width="1.2"/>
<line x1="379.6" y1="474.2" x2="513.8" y2="474.2" stroke="#222" stroke-width="1"/>
<line x1="375.6" y1="366.6" x2="379.6" y2="366.6" stroke="#333" stroke-width="0.8"/>
<text x="374" y="369.5" font-size="8.2" fill="#1a1a1a" text-anchor="end">2.5</text>
<line x1="375.6" y1="397.1" x2="379.6" y2="397.1" stroke="#333" stroke-width="0.8"/>
<text x="374" y="400" font-size="8.2" fill="#1a1a1a" text-anchor="end">2.0</text>
<line x1="375.6" y1="435.4" x2="379.6" y2="435.4" stroke="#333" stroke-width="0.8"/>
<text x="374" y="438.3" font-size="8.2" fill="#1a1a1a" text-anchor="end">1.5</text>
<line x1="375.6" y1="474.4" x2="379.6" y2="474.4" stroke="#333" stroke-width="0.8"/>
<text x="374" y="477.3" font-size="8.2" fill="#1a1a1a" text-anchor="end">1</text>
<text x="343.1" y="418.5" font-size="8.45" fill="#1a1a1a" text-anchor="middle" transform="rotate(-90 343.1 418.5)">H3K4me3 (IP/Input)</text>
<line x1="379.6" y1="474.2" x2="379.6" y2="477.5" stroke="#333" stroke-width="0.9"/>
<text x="381.4" y="486.8" font-size="8.6" fill="#1a1a1a" text-anchor="middle">-3 kb</text>
<line x1="419.8" y1="474.2" x2="419.8" y2="477.5" stroke="#333" stroke-width="0.9"/>
<text x="419" y="486.8" font-size="8.4" fill="#1a1a1a" text-anchor="middle">TSS</text>
<line x1="473.3" y1="474.2" x2="473.3" y2="477.5" stroke="#333" stroke-width="0.9"/>
<text x="473.3" y="486.8" font-size="8.4" fill="#1a1a1a" text-anchor="middle">TTS</text>
<line x1="513.8" y1="474.2" x2="513.8" y2="477.5" stroke="#333" stroke-width="0.9"/>
<text x="511" y="486.8" font-size="8.6" fill="#1a1a1a" text-anchor="middle">3 kb</text>
<path d="M379.6 461.05 L380.68 461.54 L381.76 461.25 L382.84 460.86 L383.92 460.87 L385 460.83 L386 461.23 L387 460.73 L388 460.93 L389 461.01 L390 461.91 L391 461.23 L392 461.08 L393 460.87 L394 460.39 L395 460.46 L396.06 460.81 L397.12 460.58 L398.18 461.18 L399.24 460.73 L400.3 461.16 L401.53 461.51 L402.77 462.14 L404 461.68 L405.07 462.09 L406.15 462.76 L407.23 463.49 L408.3 463.65 L409.43 463.78 L410.55 465.23 L411.68 465.99 L412.8 466.93 L414 467.74 L415.2 469.24 L416.4 471 L417.5 471.85 L418.6 472.7 L419.63 472.7 L420.67 472.7 L421.7 472.7 L422.75 472.82 L423.8 472.93 L424.85 473.05 L425.9 473.17 L426.95 473.28 L428 473.4 L429 473.49 L430 473.57 L431 473.66 L432 473.74 L433 473.83 L434 473.91 L435 474 L436.01 474 L437.03 474 L438.04 474 L439.05 474 L440.06 474 L441.08 474 L442.09 474 L443.1 474 L444.12 474 L445.13 474 L446.14 474 L447.15 474 L448.17 474 L449.18 474 L450.19 474 L451.21 474 L452.22 474 L453.23 474 L454.25 474 L455.26 474 L456.27 474 L457.28 474 L458.3 474 L459.31 474 L460.32 474 L461.34 474 L462.35 474 L463.36 474 L464.37 474 L465.39 474 L466.4 474 L467.45 472.75 L468.5 471.5 L469.5 470.25 L470.5 469 L471.65 467.8 L472.8 466.6 L474 466.8 L475 467.1 L476 467.4 L477 466.92 L478 466.45 L479 465.98 L480 465.07 L481.04 465.2 L482.09 464.37 L483.13 463.69 L484.17 463.09 L485.21 462.53 L486.26 462.13 L487.3 461.42 L488.4 462.06 L489.5 461.61 L490.6 461.51 L491.7 461.26 L492.8 461.8 L493.9 461.09 L495 460.9 L496 461.68 L497 461.28 L498 461.78 L499 461.2 L500 461.13 L501 461.82 L502 461.42 L503 461.49 L504 461.74 L505 461.92 L506.1 461.38 L507.2 461.75 L508.3 461.38 L509.4 461.54 L510.5 461.24 L511.6 461.48 L512.7 460.79 L513.8 461" stroke="#53d2e2" fill="none" stroke-width="1.35" stroke-linejoin="round"/>
<path d="M379.6 459.2 L380.68 459.15 L381.76 458.84 L382.84 459.39 L383.92 459.61 L385 459.61 L386 459.65 L387 459.53 L388 458.84 L389 459.6 L390 459.59 L391.1 459.17 L392.2 458.98 L393.3 459.38 L394.4 459.24 L395.5 458.84 L396.6 459.23 L397.7 459.44 L398.76 459.36 L399.82 459.24 L400.88 459 L401.94 458.97 L403 458.87 L404.03 458.33 L405.07 458.92 L406.1 458.37 L407.13 458.78 L408.17 458.8 L409.2 458.59 L410.4 458.84 L411.6 459.44 L412.8 460.02 L414 461.36 L415.2 462.51 L416.4 463 L418.3 461.6 L419.5 450.5 L420.6 446.5 L421.7 442.5 L423.5 439 L425.2 437.6 L426.4 438.03 L427.6 438.47 L428.8 438.9 L429.83 439.8 L430.87 440.7 L431.9 441.6 L432.93 442.5 L433.97 443.4 L435 444.3 L436.05 445.25 L437.1 446.2 L438.15 447.15 L439.2 448.1 L440.25 449.05 L441.3 450 L442.46 450.92 L443.62 451.84 L444.78 452.76 L445.94 453.68 L447.1 454.6 L448.23 455.16 L449.36 455.71 L450.49 456.27 L451.61 456.83 L452.74 457.39 L453.87 457.94 L455 458.5 L456.02 458.77 L457.05 459.05 L458.07 459.32 L459.1 459.6 L460.12 459.88 L461.15 460.15 L462.18 460.43 L463.2 460.7 L464.6 460.5 L466 460.3 L467.2 459.67 L468.4 459.03 L469.6 458.4 L471.5 456 L473.1 453.8 L474.5 457 L476 461.5 L477 461.5 L478 461.5 L479 461.25 L480 461 L481 460.75 L482 460.38 L483.06 460.04 L484.12 459.65 L485.19 459.31 L486.25 459.44 L487.31 458.47 L488.38 458.47 L489.44 458.59 L490.5 457.72 L491.62 457.84 L492.75 458.45 L493.88 458.26 L495 458.93 L496 458.41 L497 459 L498 458.64 L499 458.63 L500 458.85 L501 458.64 L502 459.02 L503 459.03 L504 459.5 L505 459.66 L506 459.68 L507 459.8 L508 460.07 L509 460.11 L510 459.44 L511.27 459.56 L512.53 460.37 L513.8 460.2" stroke="#9ccf4f" fill="none" stroke-width="1.35" stroke-linejoin="round"/>
<path d="M379.6 458.23 L380.68 458.1 L381.76 458.87 L382.84 458.06 L383.92 458.58 L385 458.41 L386 458.38 L387 458.5 L388 458.42 L389 458.74 L390 458.65 L391.1 458.76 L392.2 458.13 L393.3 458.58 L394.4 458.32 L395.5 457.87 L396.6 458.48 L397.7 458.51 L398.76 457.83 L399.82 458.08 L400.88 457.65 L401.94 457.91 L403 457.53 L404.06 457.44 L405.12 456.87 L406.18 457.14 L407.24 456.77 L408.3 456.31 L409.53 456.19 L410.77 456.64 L412 456.43 L413.1 457.11 L414.2 457.27 L415.3 457.21 L416.4 457.2 L417.5 455.5 L418.1 452.3 L418.8 440 L419.5 423.8 L420.5 413 L421.7 406 L423 401.5 L424.4 398.5 L425.5 397.6 L426.6 396.7 L427.95 397.8 L429.3 398.9 L430.65 401.45 L432 404 L433 406.17 L434 408.33 L435 410.5 L436.25 412.75 L437.5 415 L438.95 417.2 L440.4 419.4 L441.57 421.5 L442.73 423.6 L443.9 425.7 L444.92 426.9 L445.95 428.1 L446.98 429.3 L448 430.5 L449.1 431.46 L450.2 432.42 L451.3 433.38 L452.4 434.34 L453.5 435.3 L454.58 435.92 L455.67 436.53 L456.75 437.15 L457.83 437.77 L458.92 438.38 L460 439 L461.07 439.4 L462.13 439.8 L463.2 440.2 L464.27 440.6 L465.33 441 L466.4 441.4 L467.7 440.95 L469 440.5 L470 439.75 L471 439 L472.6 437.7 L473.6 439.5 L474.5 445 L476 452 L477.6 455.5 L478.8 456.15 L480 456.35 L481 457.34 L482 456.73 L483 456.9 L484 457.76 L485 457.82 L486 457.55 L487 457.77 L488 457.4 L489 457.29 L490 457.66 L491 457.68 L492 457.93 L493 457.92 L494 458.26 L495 458.2 L496 457.8 L497 458.49 L498 457.94 L499 458.3 L500 457.7 L501 458.11 L502 457.91 L503 457.94 L504 457.89 L505 458.06 L506 458.53 L507 458.04 L508 458.08 L509 458.53 L510 458.4 L511.27 458.77 L512.53 458.94 L513.8 458.6" stroke="#f46d6d" fill="none" stroke-width="1.35" stroke-linejoin="round"/>
<linearGradient id="h1"><stop offset="0" stop-color="#c9ebe1"/><stop offset="0.08" stop-color="#cfeee6"/><stop offset="0.16" stop-color="#d1eee7"/><stop offset="0.24" stop-color="#d4efe9"/><stop offset="0.28" stop-color="#bfe7db"/><stop offset="0.3" stop-color="#126e3d"/><stop offset="0.33" stop-color="#126e3d"/><stop offset="0.4" stop-color="#126e3d"/><stop offset="0.48" stop-color="#126e3d"/><stop offset="0.56" stop-color="#126e3d"/><stop offset="0.64" stop-color="#126e3d"/><stop offset="0.7" stop-color="#126e3d"/><stop offset="0.71" stop-color="#46a878"/><stop offset="0.74" stop-color="#ccece4"/><stop offset="0.82" stop-color="#d7f1eb"/><stop offset="0.91" stop-color="#dbf2ed"/><stop offset="1" stop-color="#dcf2ed"/></linearGradient><rect x="379.3" y="493.3" width="135.3" height="1.06" fill="url(#h1)"/>
<linearGradient id="h2"><stop offset="0" stop-color="#bfe7da"/><stop offset="0.08" stop-color="#d4efe8"/><stop offset="0.16" stop-color="#bde6d9"/><stop offset="0.24" stop-color="#d7f0ea"/><stop offset="0.28" stop-color="#d6f0ea"/><stop offset="0.3" stop-color="#126e3d"/><stop offset="0.33" stop-color="#126e3d"/><stop offset="0.4" stop-color="#126e3d"/><stop offset="0.48" stop-color="#126e3d"/><stop offset="0.56" stop-color="#126e3d"/><stop offset="0.64" stop-color="#126e3d"/><stop offset="0.7" stop-color="#126e3d"/><stop offset="0.71" stop-color="#4bab7d"/><stop offset="0.74" stop-color="#def3ef"/><stop offset="0.82" stop-color="#d0eee6"/><stop offset="0.91" stop-color="#d5f0e9"/><stop offset="1" stop-color="#dff3ef"/></linearGradient><rect x="379.3" y="494.31" width="135.3" height="1.06" fill="url(#h2)"/>
<linearGradient id="h3"><stop offset="0" stop-color="#d2efe8"/><stop offset="0.08" stop-color="#def3ee"/><stop offset="0.16" stop-color="#d4efe8"/><stop offset="0.24" stop-color="#dcf2ed"/><stop offset="0.28" stop-color="#dff3ef"/><stop offset="0.3" stop-color="#126e3d"/><stop offset="0.33" stop-color="#126e3d"/><stop offset="0.4" stop-color="#126e3d"/><stop offset="0.48" stop-color="#126e3d"/><stop offset="0.56" stop-color="#126e3d"/><stop offset="0.64" stop-color="#126e3d"/><stop offset="0.7" stop-color="#126e3d"/><stop offset="0.71" stop-color="#55b387"/><stop offset="0.74" stop-color="#dcf2ee"/><stop offset="0.82" stop-color="#d9f1ec"/><stop offset="0.91" stop-color="#d7f0ea"/><stop offset="1" stop-color="#e4f5f2"/></linearGradient><rect x="379.3" y="495.31" width="135.3" height="1.06" fill="url(#h3)"/>
<linearGradient id="h4"><stop offset="0" stop-color="#a1dbc6"/><stop offset="0.08" stop-color="#a6dcc9"/><stop offset="0.16" stop-color="#9dd9c3"/><stop offset="0.24" stop-color="#c0e7db"/><stop offset="0.28" stop-color="#a9decb"/><stop offset="0.3" stop-color="#126e3d"/><stop offset="0.33" stop-color="#126e3d"/><stop offset="0.4" stop-color="#126e3e"/><stop offset="0.48" stop-color="#126e3e"/><stop offset="0.56" stop-color="#126e3e"/><stop offset="0.64" stop-color="#126e3e"/><stop offset="0.7" stop-color="#126e3e"/><stop offset="0.71" stop-color="#3fa272"/><stop offset="0.74" stop-color="#b3e2d2"/><stop offset="0.82" stop-color="#c9ebe1"/><stop offset="0.91" stop-color="#bde6d9"/><stop offset="1" stop-color="#b1e1d1"/></linearGradient><rect x="379.3" y="496.32" width="135.3" height="1.06" fill="url(#h4)"/>
<linearGradient id="h5"><stop offset="0" stop-color="#c1e8dc"/><stop offset="0.08" stop-color="#ceede5"/><stop offset="0.16" stop-color="#d3efe8"/><stop offset="0.24" stop-color="#d5efe9"/><stop offset="0.28" stop-color="#d5f0e9"/><stop offset="0.3" stop-color="#147140"/><stop offset="0.33" stop-color="#147241"/><stop offset="0.4" stop-color="#147240"/><stop offset="0.48" stop-color="#157241"/><stop offset="0.56" stop-color="#157342"/><stop offset="0.64" stop-color="#157442"/><stop offset="0.7" stop-color="#167443"/><stop offset="0.71" stop-color="#4faf81"/><stop offset="0.74" stop-color="#cfede6"/><stop offset="0.82" stop-color="#d4efe9"/><stop offset="0.91" stop-color="#d5efe9"/><stop offset="1" stop-color="#d9f1eb"/></linearGradient><rect x="379.3" y="497.32" width="135.3" height="1.06" fill="url(#h5)"/>
<linearGradient id="h6"><stop offset="0" stop-color="#cfede5"/><stop offset="0.08" stop-color="#d2eee7"/><stop offset="0.16" stop-color="#c5e9df"/><stop offset="0.24" stop-color="#d5f0e9"/><stop offset="0.28" stop-color="#d0eee6"/><stop offset="0.3" stop-color="#157342"/><stop offset="0.33" stop-color="#167443"/><stop offset="0.4" stop-color="#197947"/><stop offset="0.48" stop-color="#187846"/><stop offset="0.56" stop-color="#1b7c49"/><stop offset="0.64" stop-color="#1b7d4a"/><stop offset="0.7" stop-color="#1c7e4b"/><stop offset="0.71" stop-color="#53b285"/><stop offset="0.74" stop-color="#d7f0ea"/><stop offset="0.82" stop-color="#d4efe9"/><stop offset="0.91" stop-color="#d5f0e9"/><stop offset="1" stop-color="#d7f0eb"/></linearGradient><rect x="379.3" y="498.33" width="135.3" height="1.06" fill="url(#h6)"/>
<linearGradient id="h7"><stop offset="0" stop-color="#bae5d7"/><stop offset="0.08" stop-color="#c9ebe1"/><stop offset="0.16" stop-color="#c0e7dc"/><stop offset="0.24" stop-color="#afe0cf"/><stop offset="0.28" stop-color="#bfe7db"/><stop offset="0.3" stop-color="#13703f"/><stop offset="0.33" stop-color="#157342"/><stop offset="0.4" stop-color="#1b7c4a"/><stop offset="0.48" stop-color="#1d804d"/><stop offset="0.56" stop-color="#1c7d4b"/><stop offset="0.64" stop-color="#208451"/><stop offset="0.7" stop-color="#1e824f"/><stop offset="0.71" stop-color="#50af82"/><stop offset="0.74" stop-color="#cbece3"/><stop offset="0.82" stop-color="#c6eae0"/><stop offset="0.91" stop-color="#c0e7db"/><stop offset="1" stop-color="#d6f0ea"/></linearGradient><rect x="379.3" y="499.34" width="135.3" height="1.06" fill="url(#h7)"/>
<linearGradient id="h8"><stop offset="0" stop-color="#c9ebe1"/><stop offset="0.08" stop-color="#bae5d7"/><stop offset="0.16" stop-color="#b7e4d5"/><stop offset="0.24" stop-color="#caece3"/><stop offset="0.28" stop-color="#c0e7db"/><stop offset="0.3" stop-color="#187846"/><stop offset="0.33" stop-color="#1e804e"/><stop offset="0.4" stop-color="#208450"/><stop offset="0.48" stop-color="#218552"/><stop offset="0.56" stop-color="#258c57"/><stop offset="0.64" stop-color="#2b935f"/><stop offset="0.7" stop-color="#2a935e"/><stop offset="0.71" stop-color="#67bd96"/><stop offset="0.74" stop-color="#d1eee7"/><stop offset="0.82" stop-color="#cbece3"/><stop offset="0.91" stop-color="#d4efe9"/><stop offset="1" stop-color="#d6f0ea"/></linearGradient><rect x="379.3" y="500.34" width="135.3" height="1.06" fill="url(#h8)"/>
<linearGradient id="h9"><stop offset="0" stop-color="#ceede5"/><stop offset="0.08" stop-color="#c0e7db"/><stop offset="0.16" stop-color="#caebe2"/><stop offset="0.24" stop-color="#c0e7db"/><stop offset="0.28" stop-color="#c7eae0"/><stop offset="0.3" stop-color="#1b7d4a"/><stop offset="0.33" stop-color="#1d7f4d"/><stop offset="0.4" stop-color="#258c58"/><stop offset="0.48" stop-color="#258d58"/><stop offset="0.56" stop-color="#2e9662"/><stop offset="0.64" stop-color="#3ca06f"/><stop offset="0.7" stop-color="#329966"/><stop offset="0.71" stop-color="#75c5a2"/><stop offset="0.74" stop-color="#ceede5"/><stop offset="0.82" stop-color="#d3efe8"/><stop offset="0.91" stop-color="#d2efe7"/><stop offset="1" stop-color="#c4e9de"/></linearGradient><rect x="379.3" y="501.35" width="135.3" height="1.06" fill="url(#h9)"/>
<linearGradient id="h10"><stop offset="0" stop-color="#daf2ec"/><stop offset="0.08" stop-color="#d3efe8"/><stop offset="0.16" stop-color="#daf1ec"/><stop offset="0.24" stop-color="#ddf3ee"/><stop offset="0.28" stop-color="#dff3ef"/><stop offset="0.3" stop-color="#319764"/><stop offset="0.33" stop-color="#369b69"/><stop offset="0.4" stop-color="#4aab7d"/><stop offset="0.48" stop-color="#4faf81"/><stop offset="0.56" stop-color="#56b488"/><stop offset="0.64" stop-color="#61ba91"/><stop offset="0.7" stop-color="#66bc95"/><stop offset="0.71" stop-color="#a3dcc7"/><stop offset="0.74" stop-color="#d5f0e9"/><stop offset="0.82" stop-color="#e3f5f1"/><stop offset="0.91" stop-color="#e1f4f0"/><stop offset="1" stop-color="#ddf2ee"/></linearGradient><rect x="379.3" y="502.35" width="135.3" height="1.06" fill="url(#h10)"/>
<linearGradient id="h11"><stop offset="0" stop-color="#cfede6"/><stop offset="0.08" stop-color="#cfede6"/><stop offset="0.16" stop-color="#b6e3d4"/><stop offset="0.24" stop-color="#c6eae0"/><stop offset="0.28" stop-color="#d0eee6"/><stop offset="0.3" stop-color="#258c57"/><stop offset="0.33" stop-color="#268e59"/><stop offset="0.4" stop-color="#3b9f6e"/><stop offset="0.48" stop-color="#3ca06f"/><stop offset="0.56" stop-color="#4dad7f"/><stop offset="0.64" stop-color="#5eb88e"/><stop offset="0.7" stop-color="#55b387"/><stop offset="0.71" stop-color="#9cd9c2"/><stop offset="0.74" stop-color="#d8f1eb"/><stop offset="0.82" stop-color="#d0eee6"/><stop offset="0.91" stop-color="#caebe2"/><stop offset="1" stop-color="#d9f1eb"/></linearGradient><rect x="379.3" y="503.36" width="135.3" height="1.06" fill="url(#h11)"/>
<linearGradient id="h12"><stop offset="0" stop-color="#d1eee7"/><stop offset="0.08" stop-color="#ceede5"/><stop offset="0.16" stop-color="#caebe2"/><stop offset="0.24" stop-color="#bee7da"/><stop offset="0.28" stop-color="#c8ebe1"/><stop offset="0.3" stop-color="#339a67"/><stop offset="0.33" stop-color="#2b935f"/><stop offset="0.4" stop-color="#3fa272"/><stop offset="0.48" stop-color="#57b489"/><stop offset="0.56" stop-color="#72c3a0"/><stop offset="0.64" stop-color="#6dc09b"/><stop offset="0.7" stop-color="#86cdb0"/><stop offset="0.71" stop-color="#a2dbc6"/><stop offset="0.74" stop-color="#daf2ec"/><stop offset="0.82" stop-color="#d0eee6"/><stop offset="0.91" stop-color="#ddf3ee"/><stop offset="1" stop-color="#d8f1eb"/></linearGradient><rect x="379.3" y="504.36" width="135.3" height="1.06" fill="url(#h12)"/>
<linearGradient id="h13"><stop offset="0" stop-color="#cdede4"/><stop offset="0.08" stop-color="#d5f0e9"/><stop offset="0.16" stop-color="#d1eee7"/><stop offset="0.24" stop-color="#cdede4"/><stop offset="0.28" stop-color="#d8f1eb"/><stop offset="0.3" stop-color="#369c6a"/><stop offset="0.33" stop-color="#3ca06f"/><stop offset="0.4" stop-color="#59b68a"/><stop offset="0.48" stop-color="#6bbf9a"/><stop offset="0.56" stop-color="#88cfb3"/><stop offset="0.64" stop-color="#93d4bb"/><stop offset="0.7" stop-color="#96d6be"/><stop offset="0.71" stop-color="#b8e4d6"/><stop offset="0.74" stop-color="#d7f0ea"/><stop offset="0.82" stop-color="#e1f4f0"/><stop offset="0.91" stop-color="#d3efe8"/><stop offset="1" stop-color="#e2f5f1"/></linearGradient><rect x="379.3" y="505.37" width="135.3" height="1.06" fill="url(#h13)"/>
<linearGradient id="h14"><stop offset="0" stop-color="#bde6d9"/><stop offset="0.08" stop-color="#c0e7db"/><stop offset="0.16" stop-color="#b4e2d3"/><stop offset="0.24" stop-color="#b7e3d5"/><stop offset="0.28" stop-color="#bbe5d7"/><stop offset="0.3" stop-color="#1d7f4c"/><stop offset="0.33" stop-color="#339a67"/><stop offset="0.4" stop-color="#359b68"/><stop offset="0.48" stop-color="#58b58a"/><stop offset="0.56" stop-color="#55b387"/><stop offset="0.64" stop-color="#78c6a5"/><stop offset="0.7" stop-color="#70c29e"/><stop offset="0.71" stop-color="#9cd8c2"/><stop offset="0.74" stop-color="#d9f1eb"/><stop offset="0.82" stop-color="#c5e9df"/><stop offset="0.91" stop-color="#ceede5"/><stop offset="1" stop-color="#d5f0e9"/></linearGradient><rect x="379.3" y="506.38" width="135.3" height="1.06" fill="url(#h14)"/>
<linearGradient id="h15"><stop offset="0" stop-color="#d2eee7"/><stop offset="0.08" stop-color="#cdede4"/><stop offset="0.16" stop-color="#c8eae1"/><stop offset="0.24" stop-color="#d2efe7"/><stop offset="0.28" stop-color="#c1e8dc"/><stop offset="0.3" stop-color="#278f5a"/><stop offset="0.33" stop-color="#3a9e6d"/><stop offset="0.4" stop-color="#55b387"/><stop offset="0.48" stop-color="#4cad7f"/><stop offset="0.56" stop-color="#67bd96"/><stop offset="0.64" stop-color="#72c3a0"/><stop offset="0.7" stop-color="#76c5a3"/><stop offset="0.71" stop-color="#a4dcc8"/><stop offset="0.74" stop-color="#d5f0e9"/><stop offset="0.82" stop-color="#d8f1eb"/><stop offset="0.91" stop-color="#caebe2"/><stop offset="1" stop-color="#d0eee6"/></linearGradient><rect x="379.3" y="507.38" width="135.3" height="1.06" fill="url(#h15)"/>
<linearGradient id="h16"><stop offset="0" stop-color="#c6eae0"/><stop offset="0.08" stop-color="#b5e3d4"/><stop offset="0.16" stop-color="#b6e3d4"/><stop offset="0.24" stop-color="#bae5d7"/><stop offset="0.28" stop-color="#c5e9df"/><stop offset="0.3" stop-color="#258c58"/><stop offset="0.33" stop-color="#29925d"/><stop offset="0.4" stop-color="#3da170"/><stop offset="0.48" stop-color="#55b487"/><stop offset="0.56" stop-color="#6abf99"/><stop offset="0.64" stop-color="#60b990"/><stop offset="0.7" stop-color="#86cdb0"/><stop offset="0.71" stop-color="#96d6be"/><stop offset="0.74" stop-color="#daf1ec"/><stop offset="0.82" stop-color="#ceede5"/><stop offset="0.91" stop-color="#ceede5"/><stop offset="1" stop-color="#d5efe9"/></linearGradient><rect x="379.3" y="508.39" width="135.3" height="1.06" fill="url(#h16)"/>
<linearGradient id="h17"><stop offset="0" stop-color="#b4e2d3"/><stop offset="0.08" stop-color="#d0eee6"/><stop offset="0.16" stop-color="#b9e4d7"/><stop offset="0.24" stop-color="#d2efe8"/><stop offset="0.28" stop-color="#d1eee7"/><stop offset="0.3" stop-color="#1f8350"/><stop offset="0.33" stop-color="#359b68"/><stop offset="0.4" stop-color="#399e6d"/><stop offset="0.48" stop-color="#64bb94"/><stop offset="0.56" stop-color="#72c39f"/><stop offset="0.64" stop-color="#73c3a0"/><stop offset="0.7" stop-color="#7bc7a7"/><stop offset="0.71" stop-color="#a5dcc9"/><stop offset="0.74" stop-color="#d6f0ea"/><stop offset="0.82" stop-color="#d9f1ec"/><stop offset="0.91" stop-color="#c9ebe2"/><stop offset="1" stop-color="#ceede5"/></linearGradient><rect x="379.3" y="509.39" width="135.3" height="1.06" fill="url(#h17)"/>
<linearGradient id="h18"><stop offset="0" stop-color="#d6f0ea"/><stop offset="0.08" stop-color="#cdede4"/><stop offset="0.16" stop-color="#cfede6"/><stop offset="0.24" stop-color="#ceede5"/><stop offset="0.28" stop-color="#ceede5"/><stop offset="0.3" stop-color="#329966"/><stop offset="0.33" stop-color="#4fae81"/><stop offset="0.4" stop-color="#55b387"/><stop offset="0.48" stop-color="#6abf99"/><stop offset="0.56" stop-color="#6fc19d"/><stop offset="0.64" stop-color="#8acfb4"/><stop offset="0.7" stop-color="#a7ddca"/><stop offset="0.71" stop-color="#b3e2d2"/><stop offset="0.74" stop-color="#d9f1eb"/><stop offset="0.82" stop-color="#e1f4f0"/><stop offset="0.91" stop-color="#d9f1ec"/><stop offset="1" stop-color="#d1eee7"/></linearGradient><rect x="379.3" y="510.4" width="135.3" height="1.06" fill="url(#h18)"/>
<linearGradient id="h19"><stop offset="0" stop-color="#d6f0ea"/><stop offset="0.08" stop-color="#c8ebe1"/><stop offset="0.16" stop-color="#d6f0ea"/><stop offset="0.24" stop-color="#d2efe8"/><stop offset="0.28" stop-color="#d6f0ea"/><stop offset="0.3" stop-color="#44a677"/><stop offset="0.33" stop-color="#59b68a"/><stop offset="0.4" stop-color="#59b68b"/><stop offset="0.48" stop-color="#78c6a5"/><stop offset="0.56" stop-color="#95d6bd"/><stop offset="0.64" stop-color="#9fdac4"/><stop offset="0.7" stop-color="#9ed9c4"/><stop offset="0.71" stop-color="#c4e9de"/><stop offset="0.74" stop-color="#def3ee"/><stop offset="0.82" stop-color="#dcf2ed"/><stop offset="0.91" stop-color="#e2f5f1"/><stop offset="1" stop-color="#e3f5f1"/></linearGradient><rect x="379.3" y="511.41" width="135.3" height="1.06" fill="url(#h19)"/>
<linearGradient id="h20"><stop offset="0" stop-color="#cbece3"/><stop offset="0.08" stop-color="#d7f0ea"/><stop offset="0.16" stop-color="#c8ebe1"/><stop offset="0.24" stop-color="#ceede5"/><stop offset="0.28" stop-color="#d2eee7"/><stop offset="0.3" stop-color="#359b68"/><stop offset="0.33" stop-color="#389d6b"/><stop offset="0.4" stop-color="#6abf99"/><stop offset="0.48" stop-color="#6dc09c"/><stop offset="0.56" stop-color="#8ad0b4"/><stop offset="0.64" stop-color="#8dd1b7"/><stop offset="0.7" stop-color="#a3dbc7"/><stop offset="0.71" stop-color="#b7e3d5"/><stop offset="0.74" stop-color="#d6f0ea"/><stop offset="0.82" stop-color="#d1eee7"/><stop offset="0.91" stop-color="#d2efe8"/><stop offset="1" stop-color="#d0eee6"/></linearGradient><rect x="379.3" y="512.41" width="135.3" height="1.06" fill="url(#h20)"/>
<linearGradient id="h21"><stop offset="0" stop-color="#b9e4d6"/><stop offset="0.08" stop-color="#c5e9df"/><stop offset="0.16" stop-color="#d1eee7"/><stop offset="0.24" stop-color="#c7eae0"/><stop offset="0.28" stop-color="#ceede5"/><stop offset="0.3" stop-color="#319864"/><stop offset="0.33" stop-color="#399e6d"/><stop offset="0.4" stop-color="#4eae81"/><stop offset="0.48" stop-color="#76c5a3"/><stop offset="0.56" stop-color="#6ec19c"/><stop offset="0.64" stop-color="#80caac"/><stop offset="0.7" stop-color="#8ad0b4"/><stop offset="0.71" stop-color="#b7e4d5"/><stop offset="0.74" stop-color="#d0eee6"/><stop offset="0.82" stop-color="#cfede6"/><stop offset="0.91" stop-color="#cdede4"/><stop offset="1" stop-color="#d7f0ea"/></linearGradient><rect x="379.3" y="513.42" width="135.3" height="1.06" fill="url(#h21)"/>
<linearGradient id="h22"><stop offset="0" stop-color="#caece2"/><stop offset="0.08" stop-color="#dcf2ee"/><stop offset="0.16" stop-color="#d9f1eb"/><stop offset="0.24" stop-color="#e0f4f0"/><stop offset="0.28" stop-color="#d2efe8"/><stop offset="0.3" stop-color="#44a677"/><stop offset="0.33" stop-color="#63bb93"/><stop offset="0.4" stop-color="#7ec9aa"/><stop offset="0.48" stop-color="#94d5bc"/><stop offset="0.56" stop-color="#96d6be"/><stop offset="0.64" stop-color="#a6ddc9"/><stop offset="0.7" stop-color="#b8e4d6"/><stop offset="0.71" stop-color="#c6eadf"/><stop offset="0.74" stop-color="#ddf3ee"/><stop offset="0.82" stop-color="#e6f6f3"/><stop offset="0.91" stop-color="#d5f0e9"/><stop offset="1" stop-color="#e7f6f4"/></linearGradient><rect x="379.3" y="514.42" width="135.3" height="1.06" fill="url(#h22)"/>
<linearGradient id="h23"><stop offset="0" stop-color="#bce6d9"/><stop offset="0.08" stop-color="#b2e2d2"/><stop offset="0.16" stop-color="#c4e9de"/><stop offset="0.24" stop-color="#bee6da"/><stop offset="0.28" stop-color="#b5e3d3"/><stop offset="0.3" stop-color="#218652"/><stop offset="0.33" stop-color="#379c6a"/><stop offset="0.4" stop-color="#44a677"/><stop offset="0.48" stop-color="#4aab7d"/><stop offset="0.56" stop-color="#5cb78d"/><stop offset="0.64" stop-color="#72c3a0"/><stop offset="0.7" stop-color="#7fcaab"/><stop offset="0.71" stop-color="#a8ddcb"/><stop offset="0.74" stop-color="#d7f0ea"/><stop offset="0.82" stop-color="#d8f1eb"/><stop offset="0.91" stop-color="#d8f1eb"/><stop offset="1" stop-color="#d3efe8"/></linearGradient><rect x="379.3" y="515.43" width="135.3" height="1.06" fill="url(#h23)"/>
<linearGradient id="h24"><stop offset="0" stop-color="#d1eee7"/><stop offset="0.08" stop-color="#d2eee7"/><stop offset="0.16" stop-color="#c3e8dd"/><stop offset="0.24" stop-color="#d9f1eb"/><stop offset="0.28" stop-color="#d6f0ea"/><stop offset="0.3" stop-color="#3b9f6e"/><stop offset="0.33" stop-color="#44a676"/><stop offset="0.4" stop-color="#5bb78c"/><stop offset="0.48" stop-color="#68be97"/><stop offset="0.56" stop-color="#79c7a6"/><stop offset="0.64" stop-color="#94d5bd"/><stop offset="0.7" stop-color="#a6ddc9"/><stop offset="0.71" stop-color="#b9e4d6"/><stop offset="0.74" stop-color="#e1f4f0"/><stop offset="0.82" stop-color="#d2efe8"/><stop offset="0.91" stop-color="#d4efe8"/><stop offset="1" stop-color="#e1f4f0"/></linearGradient><rect x="379.3" y="516.44" width="135.3" height="1.06" fill="url(#h24)"/>
<linearGradient id="h25"><stop offset="0" stop-color="#c8ebe1"/><stop offset="0.08" stop-color="#c1e8dc"/><stop offset="0.16" stop-color="#c2e8dc"/><stop offset="0.24" stop-color="#d3efe8"/><stop offset="0.28" stop-color="#d8f1eb"/><stop offset="0.3" stop-color="#29925d"/><stop offset="0.33" stop-color="#389d6b"/><stop offset="0.4" stop-color="#68be97"/><stop offset="0.48" stop-color="#81cbad"/><stop offset="0.56" stop-color="#90d3b9"/><stop offset="0.64" stop-color="#97d6bf"/><stop offset="0.7" stop-color="#93d4bb"/><stop offset="0.71" stop-color="#b4e2d3"/><stop offset="0.74" stop-color="#e0f4ef"/><stop offset="0.82" stop-color="#dcf2ee"/><stop offset="0.91" stop-color="#d9f1eb"/><stop offset="1" stop-color="#e0f4f0"/></linearGradient><rect x="379.3" y="517.44" width="135.3" height="1.06" fill="url(#h25)"/>
<linearGradient id="h26"><stop offset="0" stop-color="#d9f1eb"/><stop offset="0.08" stop-color="#d9f1eb"/><stop offset="0.16" stop-color="#def3ee"/><stop offset="0.24" stop-color="#d6f0ea"/><stop offset="0.28" stop-color="#d9f1eb"/><stop offset="0.3" stop-color="#51b084"/><stop offset="0.33" stop-color="#4faf81"/><stop offset="0.4" stop-color="#82cbad"/><stop offset="0.48" stop-color="#9dd9c3"/><stop offset="0.56" stop-color="#b6e3d4"/><stop offset="0.64" stop-color="#acdfcd"/><stop offset="0.7" stop-color="#bde6d9"/><stop offset="0.71" stop-color="#d0eee6"/><stop offset="0.74" stop-color="#d9f1eb"/><stop offset="0.82" stop-color="#e8f7f5"/><stop offset="0.91" stop-color="#e1f4f0"/><stop offset="1" stop-color="#e4f5f2"/></linearGradient><rect x="379.3" y="518.45" width="135.3" height="1.06" fill="url(#h26)"/>
<linearGradient id="h27"><stop offset="0" stop-color="#c3e8dd"/><stop offset="0.08" stop-color="#bae5d7"/><stop offset="0.16" stop-color="#b1e1d1"/><stop offset="0.24" stop-color="#b7e3d5"/><stop offset="0.28" stop-color="#caebe2"/><stop offset="0.3" stop-color="#208450"/><stop offset="0.33" stop-color="#218653"/><stop offset="0.4" stop-color="#329966"/><stop offset="0.48" stop-color="#54b286"/><stop offset="0.56" stop-color="#5db88e"/><stop offset="0.64" stop-color="#7ac7a6"/><stop offset="0.7" stop-color="#83ccae"/><stop offset="0.71" stop-color="#a4dcc8"/><stop offset="0.74" stop-color="#ccece4"/><stop offset="0.82" stop-color="#b8e4d6"/><stop offset="0.91" stop-color="#d2efe7"/><stop offset="1" stop-color="#bce5d8"/></linearGradient><rect x="379.3" y="519.45" width="135.3" height="1.06" fill="url(#h27)"/>
<linearGradient id="h28"><stop offset="0" stop-color="#e0f4f0"/><stop offset="0.08" stop-color="#dcf2ed"/><stop offset="0.16" stop-color="#e4f5f2"/><stop offset="0.24" stop-color="#dcf2ed"/><stop offset="0.28" stop-color="#daf2ec"/><stop offset="0.3" stop-color="#61ba91"/><stop offset="0.33" stop-color="#69be98"/><stop offset="0.4" stop-color="#a4dcc8"/><stop offset="0.48" stop-color="#b2e1d1"/><stop offset="0.56" stop-color="#c3e8dd"/><stop offset="0.64" stop-color="#d5f0e9"/><stop offset="0.7" stop-color="#d4efe9"/><stop offset="0.71" stop-color="#e0f4f0"/><stop offset="0.74" stop-color="#e7f6f4"/><stop offset="0.82" stop-color="#e8f7f5"/><stop offset="0.91" stop-color="#e6f6f3"/><stop offset="1" stop-color="#eef9f8"/></linearGradient><rect x="379.3" y="520.46" width="135.3" height="1.06" fill="url(#h28)"/>
<linearGradient id="h29"><stop offset="0" stop-color="#b6e3d4"/><stop offset="0.08" stop-color="#c4e9de"/><stop offset="0.16" stop-color="#b3e2d2"/><stop offset="0.24" stop-color="#ccece3"/><stop offset="0.28" stop-color="#bbe5d8"/><stop offset="0.3" stop-color="#29925d"/><stop offset="0.33" stop-color="#2d9561"/><stop offset="0.4" stop-color="#41a474"/><stop offset="0.48" stop-color="#54b386"/><stop offset="0.56" stop-color="#70c29e"/><stop offset="0.64" stop-color="#73c3a1"/><stop offset="0.7" stop-color="#7dc9a9"/><stop offset="0.71" stop-color="#acdfcd"/><stop offset="0.74" stop-color="#c7eae0"/><stop offset="0.82" stop-color="#d3efe8"/><stop offset="0.91" stop-color="#cfede6"/><stop offset="1" stop-color="#d3efe8"/></linearGradient><rect x="379.3" y="521.46" width="135.3" height="1.06" fill="url(#h29)"/>
<linearGradient id="h30"><stop offset="0" stop-color="#daf1ec"/><stop offset="0.08" stop-color="#d2eee7"/><stop offset="0.16" stop-color="#daf1ec"/><stop offset="0.24" stop-color="#cfede6"/><stop offset="0.28" stop-color="#d3efe8"/><stop offset="0.3" stop-color="#43a576"/><stop offset="0.33" stop-color="#63bb93"/><stop offset="0.4" stop-color="#86ceb1"/><stop offset="0.48" stop-color="#8cd1b6"/><stop offset="0.56" stop-color="#b0e1d0"/><stop offset="0.64" stop-color="#aee0ce"/><stop offset="0.7" stop-color="#c5e9df"/><stop offset="0.71" stop-color="#dbf2ed"/><stop offset="0.74" stop-color="#e8f7f4"/><stop offset="0.82" stop-color="#dcf2ed"/><stop offset="0.91" stop-color="#e0f4f0"/><stop offset="1" stop-color="#e7f6f4"/></linearGradient><rect x="379.3" y="522.47" width="135.3" height="1.06" fill="url(#h30)"/>
<linearGradient id="h31"><stop offset="0" stop-color="#dff3ef"/><stop offset="0.08" stop-color="#e3f5f1"/><stop offset="0.16" stop-color="#d8f1eb"/><stop offset="0.24" stop-color="#e6f6f3"/><stop offset="0.28" stop-color="#e1f4f0"/><stop offset="0.3" stop-color="#68be97"/><stop offset="0.33" stop-color="#73c3a1"/><stop offset="0.4" stop-color="#96d6be"/><stop offset="0.48" stop-color="#b2e1d1"/><stop offset="0.56" stop-color="#cbece3"/><stop offset="0.64" stop-color="#d7f0ea"/><stop offset="0.7" stop-color="#cfede5"/><stop offset="0.71" stop-color="#e1f4f0"/><stop offset="0.74" stop-color="#e1f4f0"/><stop offset="0.82" stop-color="#e7f6f4"/><stop offset="0.91" stop-color="#ecf8f7"/><stop offset="1" stop-color="#e7f6f4"/></linearGradient><rect x="379.3" y="523.48" width="135.3" height="1.06" fill="url(#h31)"/>
<linearGradient id="h32"><stop offset="0" stop-color="#def3ee"/><stop offset="0.08" stop-color="#dbf2ed"/><stop offset="0.16" stop-color="#d4efe9"/><stop offset="0.24" stop-color="#d2efe8"/><stop offset="0.28" stop-color="#d5f0e9"/><stop offset="0.3" stop-color="#47a97a"/><stop offset="0.33" stop-color="#6fc19d"/><stop offset="0.4" stop-color="#85cdb0"/><stop offset="0.48" stop-color="#8bd0b5"/><stop offset="0.56" stop-color="#9ed9c4"/><stop offset="0.64" stop-color="#cdede4"/><stop offset="0.7" stop-color="#cfede5"/><stop offset="0.71" stop-color="#d5f0e9"/><stop offset="0.74" stop-color="#e6f6f3"/><stop offset="0.82" stop-color="#e2f5f1"/><stop offset="0.91" stop-color="#daf2ec"/><stop offset="1" stop-color="#dbf2ed"/></linearGradient><rect x="379.3" y="524.48" width="135.3" height="1.06" fill="url(#h32)"/>
<linearGradient id="h33"><stop offset="0" stop-color="#d4efe8"/><stop offset="0.08" stop-color="#ddf3ee"/><stop offset="0.16" stop-color="#d2eee7"/><stop offset="0.24" stop-color="#d7f0ea"/><stop offset="0.28" stop-color="#d1eee7"/><stop offset="0.3" stop-color="#3b9f6e"/><stop offset="0.33" stop-color="#50b083"/><stop offset="0.4" stop-color="#7cc8a8"/><stop offset="0.48" stop-color="#acdfcd"/><stop offset="0.56" stop-color="#a8ddcb"/><stop offset="0.64" stop-color="#bde6d9"/><stop offset="0.7" stop-color="#d1eee7"/><stop offset="0.71" stop-color="#d7f0eb"/><stop offset="0.74" stop-color="#d8f1eb"/><stop offset="0.82" stop-color="#daf2ec"/><stop offset="0.91" stop-color="#e5f6f3"/><stop offset="1" stop-color="#d7f0ea"/></linearGradient><rect x="379.3" y="525.49" width="135.3" height="1.06" fill="url(#h33)"/>
<linearGradient id="h34"><stop offset="0" stop-color="#cdede4"/><stop offset="0.08" stop-color="#bce6d8"/><stop offset="0.16" stop-color="#ceede5"/><stop offset="0.24" stop-color="#d8f1eb"/><stop offset="0.28" stop-color="#cfede5"/><stop offset="0.3" stop-color="#339a67"/><stop offset="0.33" stop-color="#4dad7f"/><stop offset="0.4" stop-color="#6dc09c"/><stop offset="0.48" stop-color="#6cc09b"/><stop offset="0.56" stop-color="#9ed9c3"/><stop offset="0.64" stop-color="#a0dac5"/><stop offset="0.7" stop-color="#aee0ce"/><stop offset="0.71" stop-color="#c3e8dd"/><stop offset="0.74" stop-color="#ddf3ee"/><stop offset="0.82" stop-color="#d6f0e9"/><stop offset="0.91" stop-color="#d6f0ea"/><stop offset="1" stop-color="#dbf2ed"/></linearGradient><rect x="379.3" y="526.49" width="135.3" height="1.06" fill="url(#h34)"/>
<linearGradient id="h35"><stop offset="0" stop-color="#d7f0ea"/><stop offset="0.08" stop-color="#d0eee6"/><stop offset="0.16" stop-color="#d1eee7"/><stop offset="0.24" stop-color="#d9f1eb"/><stop offset="0.28" stop-color="#e0f4f0"/><stop offset="0.3" stop-color="#3ca06f"/><stop offset="0.33" stop-color="#6abf99"/><stop offset="0.4" stop-color="#81cbac"/><stop offset="0.48" stop-color="#a1dac5"/><stop offset="0.56" stop-color="#bde6d9"/><stop offset="0.64" stop-color="#caebe2"/><stop offset="0.7" stop-color="#d1eee7"/><stop offset="0.71" stop-color="#d4efe9"/><stop offset="0.74" stop-color="#dcf2ed"/><stop offset="0.82" stop-color="#daf1ec"/><stop offset="0.91" stop-color="#d6f0ea"/><stop offset="1" stop-color="#d6f0ea"/></linearGradient><rect x="379.3" y="527.5" width="135.3" height="1.06" fill="url(#h35)"/>
<linearGradient id="h36"><stop offset="0" stop-color="#cbece3"/><stop offset="0.08" stop-color="#d2efe8"/><stop offset="0.16" stop-color="#cbece3"/><stop offset="0.24" stop-color="#d1eee6"/><stop offset="0.28" stop-color="#d0eee6"/><stop offset="0.3" stop-color="#399e6c"/><stop offset="0.33" stop-color="#51b184"/><stop offset="0.4" stop-color="#88cfb2"/><stop offset="0.48" stop-color="#8bd0b5"/><stop offset="0.56" stop-color="#addfce"/><stop offset="0.64" stop-color="#b0e1d0"/><stop offset="0.7" stop-color="#bae5d7"/><stop offset="0.71" stop-color="#d2efe7"/><stop offset="0.74" stop-color="#e3f5f1"/><stop offset="0.82" stop-color="#daf1ec"/><stop offset="0.91" stop-color="#d2eee7"/><stop offset="1" stop-color="#dcf2ee"/></linearGradient><rect x="379.3" y="528.51" width="135.3" height="1.06" fill="url(#h36)"/>
<linearGradient id="h37"><stop offset="0" stop-color="#c4e9de"/><stop offset="0.08" stop-color="#c6eadf"/><stop offset="0.16" stop-color="#cbece3"/><stop offset="0.24" stop-color="#d5f0e9"/><stop offset="0.28" stop-color="#d8f1eb"/><stop offset="0.3" stop-color="#3fa372"/><stop offset="0.33" stop-color="#5cb78d"/><stop offset="0.4" stop-color="#76c5a3"/><stop offset="0.48" stop-color="#9ed9c3"/><stop offset="0.56" stop-color="#afe0d0"/><stop offset="0.64" stop-color="#c6eadf"/><stop offset="0.7" stop-color="#ccece3"/><stop offset="0.71" stop-color="#d3efe8"/><stop offset="0.74" stop-color="#daf1ec"/><stop offset="0.82" stop-color="#d8f1eb"/><stop offset="0.91" stop-color="#d2efe7"/><stop offset="1" stop-color="#e0f4ef"/></linearGradient><rect x="379.3" y="529.51" width="135.3" height="1.06" fill="url(#h37)"/>
<linearGradient id="h38"><stop offset="0" stop-color="#ccece4"/><stop offset="0.08" stop-color="#d6f0ea"/><stop offset="0.16" stop-color="#d7f0eb"/><stop offset="0.24" stop-color="#cdede5"/><stop offset="0.28" stop-color="#d8f1eb"/><stop offset="0.3" stop-color="#4aab7d"/><stop offset="0.33" stop-color="#4cac7e"/><stop offset="0.4" stop-color="#6ec19c"/><stop offset="0.48" stop-color="#8dd1b6"/><stop offset="0.56" stop-color="#bde6d9"/><stop offset="0.64" stop-color="#c9ebe1"/><stop offset="0.7" stop-color="#bde6da"/><stop offset="0.71" stop-color="#cfede6"/><stop offset="0.74" stop-color="#e1f4f0"/><stop offset="0.82" stop-color="#e3f5f1"/><stop offset="0.91" stop-color="#ddf3ee"/><stop offset="1" stop-color="#d9f1eb"/></linearGradient><rect x="379.3" y="530.52" width="135.3" height="1.06" fill="url(#h38)"/>
<linearGradient id="h39"><stop offset="0" stop-color="#e0f4f0"/><stop offset="0.08" stop-color="#dff3ef"/><stop offset="0.16" stop-color="#d3efe8"/><stop offset="0.24" stop-color="#daf2ec"/><stop offset="0.28" stop-color="#e1f4f0"/><stop offset="0.3" stop-color="#41a474"/><stop offset="0.33" stop-color="#56b488"/><stop offset="0.4" stop-color="#97d7bf"/><stop offset="0.48" stop-color="#9dd9c3"/><stop offset="0.56" stop-color="#c8ebe1"/><stop offset="0.64" stop-color="#cfeee6"/><stop offset="0.7" stop-color="#d6f0ea"/><stop offset="0.71" stop-color="#dcf2ed"/><stop offset="0.74" stop-color="#e8f7f4"/><stop offset="0.82" stop-color="#dcf2ed"/><stop offset="0.91" stop-color="#e1f4f1"/><stop offset="1" stop-color="#def3ef"/></linearGradient><rect x="379.3" y="531.52" width="135.3" height="1.06" fill="url(#h39)"/>
<linearGradient id="h40"><stop offset="0" stop-color="#e7f6f4"/><stop offset="0.08" stop-color="#daf2ec"/><stop offset="0.16" stop-color="#dcf2ed"/><stop offset="0.24" stop-color="#dff3ef"/><stop offset="0.28" stop-color="#e6f6f3"/><stop offset="0.3" stop-color="#5cb78d"/><stop offset="0.33" stop-color="#70c29e"/><stop offset="0.4" stop-color="#97d7bf"/><stop offset="0.48" stop-color="#bfe7da"/><stop offset="0.56" stop-color="#cfeee6"/><stop offset="0.64" stop-color="#e0f4ef"/><stop offset="0.7" stop-color="#daf1ec"/><stop offset="0.71" stop-color="#dff3ef"/><stop offset="0.74" stop-color="#e8f7f5"/><stop offset="0.82" stop-color="#ecf8f7"/><stop offset="0.91" stop-color="#edf9f7"/><stop offset="1" stop-color="#e4f5f2"/></linearGradient><rect x="379.3" y="532.53" width="135.3" height="1.06" fill="url(#h40)"/>
<linearGradient id="h41"><stop offset="0" stop-color="#ceede5"/><stop offset="0.08" stop-color="#cfede6"/><stop offset="0.16" stop-color="#cfede5"/><stop offset="0.24" stop-color="#d7f0ea"/><stop offset="0.28" stop-color="#d5f0e9"/><stop offset="0.3" stop-color="#4dad80"/><stop offset="0.33" stop-color="#56b488"/><stop offset="0.4" stop-color="#88cfb2"/><stop offset="0.48" stop-color="#a1dbc6"/><stop offset="0.56" stop-color="#b2e2d2"/><stop offset="0.64" stop-color="#d3efe8"/><stop offset="0.7" stop-color="#d6f0ea"/><stop offset="0.71" stop-color="#dbf2ec"/><stop offset="0.74" stop-color="#e7f6f4"/><stop offset="0.82" stop-color="#e4f5f2"/><stop offset="0.91" stop-color="#def3ee"/><stop offset="1" stop-color="#e6f6f3"/></linearGradient><rect x="379.3" y="533.54" width="135.3" height="1.06" fill="url(#h41)"/>
<linearGradient id="h42"><stop offset="0" stop-color="#d0eee6"/><stop offset="0.08" stop-color="#d9f1ec"/><stop offset="0.16" stop-color="#d1eee7"/><stop offset="0.24" stop-color="#cbece3"/><stop offset="0.28" stop-color="#def3ef"/><stop offset="0.3" stop-color="#369c69"/><stop offset="0.33" stop-color="#5cb78d"/><stop offset="0.4" stop-color="#8fd2b8"/><stop offset="0.48" stop-color="#a6ddc9"/><stop offset="0.56" stop-color="#a2dbc7"/><stop offset="0.64" stop-color="#c9ebe1"/><stop offset="0.7" stop-color="#d4efe9"/><stop offset="0.71" stop-color="#d9f1ec"/><stop offset="0.74" stop-color="#dcf2ed"/><stop offset="0.82" stop-color="#dff3ef"/><stop offset="0.91" stop-color="#d4efe8"/><stop offset="1" stop-color="#daf1ec"/></linearGradient><rect x="379.3" y="534.54" width="135.3" height="1.06" fill="url(#h42)"/>
<linearGradient id="h43"><stop offset="0" stop-color="#d8f1eb"/><stop offset="0.08" stop-color="#ddf2ee"/><stop offset="0.16" stop-color="#d1eee7"/><stop offset="0.24" stop-color="#d3efe8"/><stop offset="0.28" stop-color="#e0f4ef"/><stop offset="0.3" stop-color="#399e6c"/><stop offset="0.33" stop-color="#60b991"/><stop offset="0.4" stop-color="#77c5a4"/><stop offset="0.48" stop-color="#b1e1d1"/><stop offset="0.56" stop-color="#b2e2d2"/><stop offset="0.64" stop-color="#d6f0ea"/><stop offset="0.7" stop-color="#d3efe8"/><stop offset="0.71" stop-color="#daf1ec"/><stop offset="0.74" stop-color="#daf2ec"/><stop offset="0.82" stop-color="#d6f0ea"/><stop offset="0.91" stop-color="#d7f0ea"/><stop offset="1" stop-color="#d7f0eb"/></linearGradient><rect x="379.3" y="535.55" width="135.3" height="1.06" fill="url(#h43)"/>
<linearGradient id="h44"><stop offset="0" stop-color="#d6f0ea"/><stop offset="0.08" stop-color="#ddf3ee"/><stop offset="0.16" stop-color="#ccece3"/><stop offset="0.24" stop-color="#d7f1eb"/><stop offset="0.28" stop-color="#dbf2ed"/><stop offset="0.3" stop-color="#4faf81"/><stop offset="0.33" stop-color="#6dc09c"/><stop offset="0.4" stop-color="#86ceb1"/><stop offset="0.48" stop-color="#afe0cf"/><stop offset="0.56" stop-color="#bae5d7"/><stop offset="0.64" stop-color="#ccece3"/><stop offset="0.7" stop-color="#daf2ec"/><stop offset="0.71" stop-color="#e1f4f0"/><stop offset="0.74" stop-color="#d9f1ec"/><stop offset="0.82" stop-color="#dff3ef"/><stop offset="0.91" stop-color="#e2f4f1"/><stop offset="1" stop-color="#dcf2ed"/></linearGradient><rect x="379.3" y="536.55" width="135.3" height="1.06" fill="url(#h44)"/>
<linearGradient id="h45"><stop offset="0" stop-color="#cfeee6"/><stop offset="0.08" stop-color="#d6f0ea"/><stop offset="0.16" stop-color="#e0f4f0"/><stop offset="0.24" stop-color="#ddf3ee"/><stop offset="0.28" stop-color="#d5efe9"/><stop offset="0.3" stop-color="#43a676"/><stop offset="0.33" stop-color="#7ec9aa"/><stop offset="0.4" stop-color="#9ad7c0"/><stop offset="0.48" stop-color="#a8ddca"/><stop offset="0.56" stop-color="#c3e9de"/><stop offset="0.64" stop-color="#cfeee6"/><stop offset="0.7" stop-color="#e4f5f2"/><stop offset="0.71" stop-color="#e0f4f0"/><stop offset="0.74" stop-color="#e0f4f0"/><stop offset="0.82" stop-color="#e5f6f3"/><stop offset="0.91" stop-color="#e1f4f0"/><stop offset="1" stop-color="#dcf2ed"/></linearGradient><rect x="379.3" y="537.56" width="135.3" height="1.06" fill="url(#h45)"/>
<linearGradient id="h46"><stop offset="0" stop-color="#ceede5"/><stop offset="0.08" stop-color="#d7f1eb"/><stop offset="0.16" stop-color="#def3ef"/><stop offset="0.24" stop-color="#e0f4f0"/><stop offset="0.28" stop-color="#e3f5f1"/><stop offset="0.3" stop-color="#53b285"/><stop offset="0.33" stop-color="#59b68a"/><stop offset="0.4" stop-color="#83ccae"/><stop offset="0.48" stop-color="#abdecc"/><stop offset="0.56" stop-color="#d0eee6"/><stop offset="0.64" stop-color="#d6f0ea"/><stop offset="0.7" stop-color="#e3f5f2"/><stop offset="0.71" stop-color="#d8f1eb"/><stop offset="0.74" stop-color="#d7f0ea"/><stop offset="0.82" stop-color="#e2f4f1"/><stop offset="0.91" stop-color="#ddf3ee"/><stop offset="1" stop-color="#e2f5f1"/></linearGradient><rect x="379.3" y="538.56" width="135.3" height="1.06" fill="url(#h46)"/>
<linearGradient id="h47"><stop offset="0" stop-color="#d3efe8"/><stop offset="0.08" stop-color="#ceede5"/><stop offset="0.16" stop-color="#d1eee7"/><stop offset="0.24" stop-color="#d9f1ec"/><stop offset="0.28" stop-color="#d7f0ea"/><stop offset="0.3" stop-color="#2d9561"/><stop offset="0.33" stop-color="#61ba91"/><stop offset="0.4" stop-color="#80caac"/><stop offset="0.48" stop-color="#aadecc"/><stop offset="0.56" stop-color="#a6dcc9"/><stop offset="0.64" stop-color="#c3e9de"/><stop offset="0.7" stop-color="#dbf2ed"/><stop offset="0.71" stop-color="#dcf2ed"/><stop offset="0.74" stop-color="#d6f0ea"/><stop offset="0.82" stop-color="#e1f4f0"/><stop offset="0.91" stop-color="#d1eee7"/><stop offset="1" stop-color="#e2f4f1"/></linearGradient><rect x="379.3" y="539.57" width="135.3" height="1.06" fill="url(#h47)"/>
<linearGradient id="h48"><stop offset="0" stop-color="#e6f6f3"/><stop offset="0.08" stop-color="#daf2ec"/><stop offset="0.16" stop-color="#e4f5f2"/><stop offset="0.24" stop-color="#e1f4f0"/><stop offset="0.28" stop-color="#e8f7f4"/><stop offset="0.3" stop-color="#5cb78d"/><stop offset="0.33" stop-color="#8cd1b6"/><stop offset="0.4" stop-color="#b5e3d4"/><stop offset="0.48" stop-color="#d8f1eb"/><stop offset="0.56" stop-color="#dff3ef"/><stop offset="0.64" stop-color="#ebf8f6"/><stop offset="0.7" stop-color="#eef9f8"/><stop offset="0.71" stop-color="#ecf8f7"/><stop offset="0.74" stop-color="#e8f7f5"/><stop offset="0.82" stop-color="#e6f6f3"/><stop offset="0.91" stop-color="#e3f5f1"/><stop offset="1" stop-color="#eef9f8"/></linearGradient><rect x="379.3" y="540.58" width="135.3" height="1.06" fill="url(#h48)"/>
<linearGradient id="h49"><stop offset="0" stop-color="#d0eee6"/><stop offset="0.08" stop-color="#daf1ec"/><stop offset="0.16" stop-color="#d3efe8"/><stop offset="0.24" stop-color="#dff4ef"/><stop offset="0.28" stop-color="#def3ee"/><stop offset="0.3" stop-color="#4aab7d"/><stop offset="0.33" stop-color="#60b991"/><stop offset="0.4" stop-color="#91d3ba"/><stop offset="0.48" stop-color="#b1e1d1"/><stop offset="0.56" stop-color="#b7e4d5"/><stop offset="0.64" stop-color="#d5f0e9"/><stop offset="0.7" stop-color="#ddf3ee"/><stop offset="0.71" stop-color="#ddf3ee"/><stop offset="0.74" stop-color="#e0f4f0"/><stop offset="0.82" stop-color="#d8f1eb"/><stop offset="0.91" stop-color="#e2f4f1"/><stop offset="1" stop-color="#dcf2ed"/></linearGradient><rect x="379.3" y="541.58" width="135.3" height="1.06" fill="url(#h49)"/>
<linearGradient id="h50"><stop offset="0" stop-color="#ceede5"/><stop offset="0.08" stop-color="#d0eee6"/><stop offset="0.16" stop-color="#b8e4d6"/><stop offset="0.24" stop-color="#c6eadf"/><stop offset="0.28" stop-color="#d2efe8"/><stop offset="0.3" stop-color="#238955"/><stop offset="0.33" stop-color="#48a97b"/><stop offset="0.4" stop-color="#65bc95"/><stop offset="0.48" stop-color="#7cc8a8"/><stop offset="0.56" stop-color="#a9decc"/><stop offset="0.64" stop-color="#a9decb"/><stop offset="0.7" stop-color="#ccece4"/><stop offset="0.71" stop-color="#d0eee6"/><stop offset="0.74" stop-color="#d4efe9"/><stop offset="0.82" stop-color="#c5e9df"/><stop offset="0.91" stop-color="#daf2ec"/><stop offset="1" stop-color="#ceede5"/></linearGradient><rect x="379.3" y="542.59" width="135.3" height="1.06" fill="url(#h50)"/>
<linearGradient id="h51"><stop offset="0" stop-color="#e1f4f0"/><stop offset="0.08" stop-color="#e9f7f5"/><stop offset="0.16" stop-color="#edf9f8"/><stop offset="0.24" stop-color="#e7f6f4"/><stop offset="0.28" stop-color="#eef9f8"/><stop offset="0.3" stop-color="#77c6a4"/><stop offset="0.33" stop-color="#9dd9c3"/><stop offset="0.4" stop-color="#bbe5d8"/><stop offset="0.48" stop-color="#d8f1eb"/><stop offset="0.56" stop-color="#eaf7f5"/><stop offset="0.64" stop-color="#eef9f8"/><stop offset="0.7" stop-color="#eef9f8"/><stop offset="0.71" stop-color="#eef9f8"/><stop offset="0.74" stop-color="#e6f6f3"/><stop offset="0.82" stop-color="#eef9f8"/><stop offset="0.91" stop-color="#eef9f8"/><stop offset="1" stop-color="#eef9f8"/></linearGradient><rect x="379.3" y="543.59" width="135.3" height="1.06" fill="url(#h51)"/>
<linearGradient id="h52"><stop offset="0" stop-color="#a3dbc7"/><stop offset="0.08" stop-color="#a0dac5"/><stop offset="0.16" stop-color="#aee0ce"/><stop offset="0.24" stop-color="#a2dbc6"/><stop offset="0.28" stop-color="#9ad8c1"/><stop offset="0.3" stop-color="#59b58a"/><stop offset="0.33" stop-color="#5ab68b"/><stop offset="0.4" stop-color="#5bb78c"/><stop offset="0.48" stop-color="#5cb78d"/><stop offset="0.56" stop-color="#5db88e"/><stop offset="0.64" stop-color="#5db88e"/><stop offset="0.7" stop-color="#5eb88e"/><stop offset="0.71" stop-color="#7fcaab"/><stop offset="0.74" stop-color="#b8e4d6"/><stop offset="0.82" stop-color="#cdece4"/><stop offset="0.91" stop-color="#c8ebe1"/><stop offset="1" stop-color="#b5e3d4"/></linearGradient><rect x="379.3" y="550.5" width="135.3" height="2.04" fill="url(#h52)"/>
<linearGradient id="h53"><stop offset="0" stop-color="#c3e9dd"/><stop offset="0.08" stop-color="#c7eae0"/><stop offset="0.16" stop-color="#b5e3d3"/><stop offset="0.24" stop-color="#b2e1d1"/><stop offset="0.28" stop-color="#bbe5d8"/><stop offset="0.3" stop-color="#75c4a2"/><stop offset="0.33" stop-color="#7dc9a9"/><stop offset="0.4" stop-color="#85cdb0"/><stop offset="0.48" stop-color="#8bd0b5"/><stop offset="0.56" stop-color="#90d3b9"/><stop offset="0.64" stop-color="#94d5bc"/><stop offset="0.7" stop-color="#96d6be"/><stop offset="0.71" stop-color="#a4dcc8"/><stop offset="0.74" stop-color="#d6f0ea"/><stop offset="0.82" stop-color="#bfe7db"/><stop offset="0.91" stop-color="#d6f0ea"/><stop offset="1" stop-color="#c0e7db"/></linearGradient><rect x="379.3" y="552.49" width="135.3" height="2.04" fill="url(#h53)"/>
<linearGradient id="h54"><stop offset="0" stop-color="#c3e8dd"/><stop offset="0.08" stop-color="#c6eadf"/><stop offset="0.16" stop-color="#bee7da"/><stop offset="0.24" stop-color="#b4e2d3"/><stop offset="0.28" stop-color="#c8ebe1"/><stop offset="0.3" stop-color="#8fd2b8"/><stop offset="0.33" stop-color="#9dd9c3"/><stop offset="0.4" stop-color="#abdfcd"/><stop offset="0.48" stop-color="#b5e3d4"/><stop offset="0.56" stop-color="#bde6d9"/><stop offset="0.64" stop-color="#c3e8dd"/><stop offset="0.7" stop-color="#c7eae0"/><stop offset="0.71" stop-color="#c8eae1"/><stop offset="0.74" stop-color="#bee7da"/><stop offset="0.82" stop-color="#c1e8dc"/><stop offset="0.91" stop-color="#c5e9df"/><stop offset="1" stop-color="#c5e9df"/></linearGradient><rect x="379.3" y="554.48" width="135.3" height="2.04" fill="url(#h54)"/>
<linearGradient id="h55"><stop offset="0" stop-color="#cbece3"/><stop offset="0.08" stop-color="#cbece3"/><stop offset="0.16" stop-color="#c1e8dc"/><stop offset="0.24" stop-color="#c6eae0"/><stop offset="0.28" stop-color="#b8e4d6"/><stop offset="0.3" stop-color="#a3dbc7"/><stop offset="0.33" stop-color="#b3e2d2"/><stop offset="0.4" stop-color="#c2e8dd"/><stop offset="0.48" stop-color="#cdede5"/><stop offset="0.56" stop-color="#d2efe8"/><stop offset="0.64" stop-color="#d6f0ea"/><stop offset="0.7" stop-color="#d9f1ec"/><stop offset="0.71" stop-color="#d9f1eb"/><stop offset="0.74" stop-color="#ceede5"/><stop offset="0.82" stop-color="#d3efe8"/><stop offset="0.91" stop-color="#cdede4"/><stop offset="1" stop-color="#d0eee6"/></linearGradient><rect x="379.3" y="556.47" width="135.3" height="2.04" fill="url(#h55)"/>
<linearGradient id="h56"><stop offset="0" stop-color="#c4e9de"/><stop offset="0.08" stop-color="#a9decb"/><stop offset="0.16" stop-color="#b6e3d4"/><stop offset="0.24" stop-color="#c4e9de"/><stop offset="0.28" stop-color="#b6e3d4"/><stop offset="0.3" stop-color="#91d4ba"/><stop offset="0.33" stop-color="#a1dbc6"/><stop offset="0.4" stop-color="#b1e1d1"/><stop offset="0.48" stop-color="#bce6d8"/><stop offset="0.56" stop-color="#c4e9de"/><stop offset="0.64" stop-color="#cbece3"/><stop offset="0.7" stop-color="#cfede6"/><stop offset="0.71" stop-color="#cfede5"/><stop offset="0.74" stop-color="#c4e9de"/><stop offset="0.82" stop-color="#d2eee7"/><stop offset="0.91" stop-color="#ccece4"/><stop offset="1" stop-color="#d3efe8"/></linearGradient><rect x="379.3" y="558.46" width="135.3" height="2.04" fill="url(#h56)"/>
<linearGradient id="h57"><stop offset="0" stop-color="#b3e2d2"/><stop offset="0.08" stop-color="#c1e8dc"/><stop offset="0.16" stop-color="#bde6d9"/><stop offset="0.24" stop-color="#c2e8dd"/><stop offset="0.28" stop-color="#c2e8dd"/><stop offset="0.3" stop-color="#9dd9c3"/><stop offset="0.33" stop-color="#acdfcd"/><stop offset="0.4" stop-color="#bce5d8"/><stop offset="0.48" stop-color="#c7eae0"/><stop offset="0.56" stop-color="#cfede5"/><stop offset="0.64" stop-color="#d3efe8"/><stop offset="0.7" stop-color="#d5f0e9"/><stop offset="0.71" stop-color="#d2efe8"/><stop offset="0.74" stop-color="#d8f1eb"/><stop offset="0.82" stop-color="#d2efe8"/><stop offset="0.91" stop-color="#d5f0e9"/><stop offset="1" stop-color="#c7eae0"/></linearGradient><rect x="379.3" y="560.45" width="135.3" height="2.04" fill="url(#h57)"/>
<linearGradient id="h58"><stop offset="0" stop-color="#c7eae0"/><stop offset="0.08" stop-color="#c2e8dc"/><stop offset="0.16" stop-color="#c8ebe1"/><stop offset="0.24" stop-color="#bbe5d8"/><stop offset="0.28" stop-color="#b4e2d3"/><stop offset="0.3" stop-color="#94d5bd"/><stop offset="0.33" stop-color="#a4dcc8"/><stop offset="0.4" stop-color="#b4e2d3"/><stop offset="0.48" stop-color="#bfe7da"/><stop offset="0.56" stop-color="#c7eae0"/><stop offset="0.64" stop-color="#ceede5"/><stop offset="0.7" stop-color="#d1eee7"/><stop offset="0.71" stop-color="#cfeee6"/><stop offset="0.74" stop-color="#cdece4"/><stop offset="0.82" stop-color="#cfeee6"/><stop offset="0.91" stop-color="#d1eee7"/><stop offset="1" stop-color="#d8f1eb"/></linearGradient><rect x="379.3" y="562.44" width="135.3" height="2.04" fill="url(#h58)"/>
<linearGradient id="h59"><stop offset="0" stop-color="#b1e1d1"/><stop offset="0.08" stop-color="#b1e1d1"/><stop offset="0.16" stop-color="#ccece4"/><stop offset="0.24" stop-color="#c2e8dc"/><stop offset="0.28" stop-color="#c7eae0"/><stop offset="0.3" stop-color="#96d6be"/><stop offset="0.33" stop-color="#a6dcc9"/><stop offset="0.4" stop-color="#b5e3d4"/><stop offset="0.48" stop-color="#c1e7dc"/><stop offset="0.56" stop-color="#c9ebe2"/><stop offset="0.64" stop-color="#cfede6"/><stop offset="0.7" stop-color="#d2eee7"/><stop offset="0.71" stop-color="#d2eee7"/><stop offset="0.74" stop-color="#c3e8dd"/><stop offset="0.82" stop-color="#cfede6"/><stop offset="0.91" stop-color="#d7f0ea"/><stop offset="1" stop-color="#ccece4"/></linearGradient><rect x="379.3" y="564.43" width="135.3" height="2.04" fill="url(#h59)"/>
<linearGradient id="h60"><stop offset="0" stop-color="#c0e7dc"/><stop offset="0.08" stop-color="#d4efe9"/><stop offset="0.16" stop-color="#d4efe8"/><stop offset="0.24" stop-color="#c0e7db"/><stop offset="0.28" stop-color="#d3efe8"/><stop offset="0.3" stop-color="#a4dcc8"/><stop offset="0.33" stop-color="#b4e2d3"/><stop offset="0.4" stop-color="#c3e9de"/><stop offset="0.48" stop-color="#ceede5"/><stop offset="0.56" stop-color="#d3efe8"/><stop offset="0.64" stop-color="#d7f0eb"/><stop offset="0.7" stop-color="#daf1ec"/><stop offset="0.71" stop-color="#dbf2ed"/><stop offset="0.74" stop-color="#cfede6"/><stop offset="0.82" stop-color="#d7f1eb"/><stop offset="0.91" stop-color="#d2eee7"/><stop offset="1" stop-color="#ddf3ee"/></linearGradient><rect x="379.3" y="566.42" width="135.3" height="2.04" fill="url(#h60)"/>
<linearGradient id="h61"><stop offset="0" stop-color="#ddf3ee"/><stop offset="0.08" stop-color="#daf2ec"/><stop offset="0.16" stop-color="#dcf2ed"/><stop offset="0.24" stop-color="#d3efe8"/><stop offset="0.28" stop-color="#d6f0ea"/><stop offset="0.3" stop-color="#b7e3d5"/><stop offset="0.33" stop-color="#c6eae0"/><stop offset="0.4" stop-color="#d3efe8"/><stop offset="0.48" stop-color="#d9f1ec"/><stop offset="0.56" stop-color="#def3ee"/><stop offset="0.64" stop-color="#e2f5f1"/><stop offset="0.7" stop-color="#e5f6f2"/><stop offset="0.71" stop-color="#e4f5f2"/><stop offset="0.74" stop-color="#d6f0ea"/><stop offset="0.82" stop-color="#e0f4f0"/><stop offset="0.91" stop-color="#e1f4f0"/><stop offset="1" stop-color="#e2f5f1"/></linearGradient><rect x="379.3" y="568.41" width="135.3" height="2.04" fill="url(#h61)"/>
<linearGradient id="h62"><stop offset="0" stop-color="#caebe2"/><stop offset="0.08" stop-color="#c3e8dd"/><stop offset="0.16" stop-color="#ccece4"/><stop offset="0.24" stop-color="#ceede5"/><stop offset="0.28" stop-color="#d2eee7"/><stop offset="0.3" stop-color="#a9decb"/><stop offset="0.33" stop-color="#b8e4d6"/><stop offset="0.4" stop-color="#c8eae1"/><stop offset="0.48" stop-color="#d1eee7"/><stop offset="0.56" stop-color="#d6f0ea"/><stop offset="0.64" stop-color="#daf1ec"/><stop offset="0.7" stop-color="#ddf2ee"/><stop offset="0.71" stop-color="#dcf2ed"/><stop offset="0.74" stop-color="#e2f5f1"/><stop offset="0.82" stop-color="#d7f0ea"/><stop offset="0.91" stop-color="#dbf2ed"/><stop offset="1" stop-color="#e1f4f0"/></linearGradient><rect x="379.3" y="570.4" width="135.3" height="2.04" fill="url(#h62)"/>
<linearGradient id="h63"><stop offset="0" stop-color="#d4efe9"/><stop offset="0.08" stop-color="#cfede6"/><stop offset="0.16" stop-color="#d3efe8"/><stop offset="0.24" stop-color="#cdede5"/><stop offset="0.28" stop-color="#d2eee7"/><stop offset="0.3" stop-color="#9fdac4"/><stop offset="0.33" stop-color="#aee0cf"/><stop offset="0.4" stop-color="#bee6da"/><stop offset="0.48" stop-color="#c9ebe2"/><stop offset="0.56" stop-color="#d0eee6"/><stop offset="0.64" stop-color="#d4efe9"/><stop offset="0.7" stop-color="#d7f0ea"/><stop offset="0.71" stop-color="#d7f1eb"/><stop offset="0.74" stop-color="#d5f0e9"/><stop offset="0.82" stop-color="#ddf2ee"/><stop offset="0.91" stop-color="#cfede6"/><stop offset="1" stop-color="#d8f1eb"/></linearGradient><rect x="379.3" y="572.39" width="135.3" height="2.04" fill="url(#h63)"/>
<linearGradient id="h64"><stop offset="0" stop-color="#b9e4d6"/><stop offset="0.08" stop-color="#bbe5d8"/><stop offset="0.16" stop-color="#c4e9de"/><stop offset="0.24" stop-color="#b6e3d5"/><stop offset="0.28" stop-color="#ccece4"/><stop offset="0.3" stop-color="#90d3b9"/><stop offset="0.33" stop-color="#a0dac5"/><stop offset="0.4" stop-color="#b0e1d0"/><stop offset="0.48" stop-color="#bbe5d8"/><stop offset="0.56" stop-color="#c4e9de"/><stop offset="0.64" stop-color="#cbece3"/><stop offset="0.7" stop-color="#cfede6"/><stop offset="0.71" stop-color="#d2efe8"/><stop offset="0.74" stop-color="#d1eee7"/><stop offset="0.82" stop-color="#c9ebe2"/><stop offset="0.91" stop-color="#d7f0ea"/><stop offset="1" stop-color="#c7eae0"/></linearGradient><rect x="379.3" y="574.38" width="135.3" height="2.04" fill="url(#h64)"/>
<linearGradient id="h65"><stop offset="0" stop-color="#bae5d7"/><stop offset="0.08" stop-color="#bde6d9"/><stop offset="0.16" stop-color="#b8e4d6"/><stop offset="0.24" stop-color="#b4e2d3"/><stop offset="0.28" stop-color="#d0eee6"/><stop offset="0.3" stop-color="#93d4bb"/><stop offset="0.33" stop-color="#a3dbc7"/><stop offset="0.4" stop-color="#b3e2d2"/><stop offset="0.48" stop-color="#bee7da"/><stop offset="0.56" stop-color="#c7eae0"/><stop offset="0.64" stop-color="#ceede5"/><stop offset="0.7" stop-color="#d1eee7"/><stop offset="0.71" stop-color="#d0eee6"/><stop offset="0.74" stop-color="#d6f0ea"/><stop offset="0.82" stop-color="#d1eee7"/><stop offset="0.91" stop-color="#cfede6"/><stop offset="1" stop-color="#c7eae0"/></linearGradient><rect x="379.3" y="576.38" width="135.3" height="2.04" fill="url(#h65)"/>
<linearGradient id="h66"><stop offset="0" stop-color="#d3efe8"/><stop offset="0.08" stop-color="#d3efe8"/><stop offset="0.16" stop-color="#dbf2ed"/><stop offset="0.24" stop-color="#c9ebe1"/><stop offset="0.28" stop-color="#d3efe8"/><stop offset="0.3" stop-color="#abdecc"/><stop offset="0.33" stop-color="#bae5d7"/><stop offset="0.4" stop-color="#caebe2"/><stop offset="0.48" stop-color="#d2efe8"/><stop offset="0.56" stop-color="#d7f0ea"/><stop offset="0.64" stop-color="#dbf2ed"/><stop offset="0.7" stop-color="#def3ef"/><stop offset="0.71" stop-color="#dff3ef"/><stop offset="0.74" stop-color="#dff3ef"/><stop offset="0.82" stop-color="#dcf2ee"/><stop offset="0.91" stop-color="#dcf2ed"/><stop offset="1" stop-color="#dff3ef"/></linearGradient><rect x="379.3" y="578.37" width="135.3" height="2.04" fill="url(#h66)"/>
<linearGradient id="h67"><stop offset="0" stop-color="#c3e9de"/><stop offset="0.08" stop-color="#caebe2"/><stop offset="0.16" stop-color="#ceede5"/><stop offset="0.24" stop-color="#d3efe8"/><stop offset="0.28" stop-color="#caebe2"/><stop offset="0.3" stop-color="#9bd8c2"/><stop offset="0.33" stop-color="#abdfcd"/><stop offset="0.4" stop-color="#bbe5d8"/><stop offset="0.48" stop-color="#c6eae0"/><stop offset="0.56" stop-color="#cfede5"/><stop offset="0.64" stop-color="#d3efe8"/><stop offset="0.7" stop-color="#d5f0e9"/><stop offset="0.71" stop-color="#d3efe8"/><stop offset="0.74" stop-color="#cdede4"/><stop offset="0.82" stop-color="#ccece3"/><stop offset="0.91" stop-color="#cfede6"/><stop offset="1" stop-color="#d4efe8"/></linearGradient><rect x="379.3" y="580.36" width="135.3" height="2.04" fill="url(#h67)"/>
<linearGradient id="h68"><stop offset="0" stop-color="#d8f1eb"/><stop offset="0.08" stop-color="#d2efe8"/><stop offset="0.16" stop-color="#d8f1eb"/><stop offset="0.24" stop-color="#ccece4"/><stop offset="0.28" stop-color="#c8ebe1"/><stop offset="0.3" stop-color="#a1dac5"/><stop offset="0.33" stop-color="#b0e1d0"/><stop offset="0.4" stop-color="#c0e7db"/><stop offset="0.48" stop-color="#ccece3"/><stop offset="0.56" stop-color="#d2eee7"/><stop offset="0.64" stop-color="#d6f0ea"/><stop offset="0.7" stop-color="#d9f1eb"/><stop offset="0.71" stop-color="#d9f1ec"/><stop offset="0.74" stop-color="#def3ee"/><stop offset="0.82" stop-color="#d3efe8"/><stop offset="0.91" stop-color="#d3efe8"/><stop offset="1" stop-color="#d3efe8"/></linearGradient><rect x="379.3" y="582.35" width="135.3" height="2.04" fill="url(#h68)"/>
<linearGradient id="h69"><stop offset="0" stop-color="#afe0d0"/><stop offset="0.08" stop-color="#b5e3d4"/><stop offset="0.16" stop-color="#bde6d9"/><stop offset="0.24" stop-color="#aee0cf"/><stop offset="0.28" stop-color="#bbe5d8"/><stop offset="0.3" stop-color="#85cdb0"/><stop offset="0.33" stop-color="#97d6bf"/><stop offset="0.4" stop-color="#a7ddca"/><stop offset="0.48" stop-color="#b2e2d2"/><stop offset="0.56" stop-color="#bbe5d8"/><stop offset="0.64" stop-color="#c2e8dd"/><stop offset="0.7" stop-color="#c7eae0"/><stop offset="0.71" stop-color="#ccece4"/><stop offset="0.74" stop-color="#c7eae0"/><stop offset="0.82" stop-color="#d4efe8"/><stop offset="0.91" stop-color="#cdede5"/><stop offset="1" stop-color="#d6f0ea"/></linearGradient><rect x="379.3" y="584.34" width="135.3" height="2.04" fill="url(#h69)"/>
<linearGradient id="h70"><stop offset="0" stop-color="#ccece4"/><stop offset="0.08" stop-color="#d1eee7"/><stop offset="0.16" stop-color="#cfede6"/><stop offset="0.24" stop-color="#d4efe9"/><stop offset="0.28" stop-color="#d1eee7"/><stop offset="0.3" stop-color="#94d5bc"/><stop offset="0.33" stop-color="#a4dcc8"/><stop offset="0.4" stop-color="#b4e2d3"/><stop offset="0.48" stop-color="#bfe7db"/><stop offset="0.56" stop-color="#c8ebe1"/><stop offset="0.64" stop-color="#cfede5"/><stop offset="0.7" stop-color="#d1eee7"/><stop offset="0.71" stop-color="#d4efe9"/><stop offset="0.74" stop-color="#cfede6"/><stop offset="0.82" stop-color="#d8f1eb"/><stop offset="0.91" stop-color="#d1eee7"/><stop offset="1" stop-color="#cfede5"/></linearGradient><rect x="379.3" y="586.33" width="135.3" height="2.04" fill="url(#h70)"/>
<linearGradient id="h71"><stop offset="0" stop-color="#d8f1eb"/><stop offset="0.08" stop-color="#d4efe9"/><stop offset="0.16" stop-color="#d5f0e9"/><stop offset="0.24" stop-color="#d7f0ea"/><stop offset="0.28" stop-color="#d5f0e9"/><stop offset="0.3" stop-color="#afe0cf"/><stop offset="0.33" stop-color="#bfe7da"/><stop offset="0.4" stop-color="#cfede5"/><stop offset="0.48" stop-color="#d5f0e9"/><stop offset="0.56" stop-color="#daf2ec"/><stop offset="0.64" stop-color="#def3ef"/><stop offset="0.7" stop-color="#e1f4f0"/><stop offset="0.71" stop-color="#e3f5f1"/><stop offset="0.74" stop-color="#e0f4f0"/><stop offset="0.82" stop-color="#e0f4f0"/><stop offset="0.91" stop-color="#dbf2ed"/><stop offset="1" stop-color="#ddf3ee"/></linearGradient><rect x="379.3" y="588.32" width="135.3" height="2.04" fill="url(#h71)"/>
<linearGradient id="h72"><stop offset="0" stop-color="#def3ef"/><stop offset="0.08" stop-color="#d6f0ea"/><stop offset="0.16" stop-color="#ccece3"/><stop offset="0.24" stop-color="#def3ee"/><stop offset="0.28" stop-color="#d1eee7"/><stop offset="0.3" stop-color="#ade0ce"/><stop offset="0.33" stop-color="#bde6d9"/><stop offset="0.4" stop-color="#cdede4"/><stop offset="0.48" stop-color="#d4efe9"/><stop offset="0.56" stop-color="#d9f1ec"/><stop offset="0.64" stop-color="#ddf3ee"/><stop offset="0.7" stop-color="#e0f4f0"/><stop offset="0.71" stop-color="#dff3ef"/><stop offset="0.74" stop-color="#dcf2ee"/><stop offset="0.82" stop-color="#dff3ef"/><stop offset="0.91" stop-color="#d9f1eb"/><stop offset="1" stop-color="#d9f1eb"/></linearGradient><rect x="379.3" y="590.31" width="135.3" height="2.04" fill="url(#h72)"/>
<linearGradient id="h73"><stop offset="0" stop-color="#c9ebe1"/><stop offset="0.08" stop-color="#d7f0ea"/><stop offset="0.16" stop-color="#d4efe8"/><stop offset="0.24" stop-color="#d7f0ea"/><stop offset="0.28" stop-color="#caebe2"/><stop offset="0.3" stop-color="#a9decb"/><stop offset="0.33" stop-color="#b8e4d6"/><stop offset="0.4" stop-color="#c8ebe1"/><stop offset="0.48" stop-color="#d1eee7"/><stop offset="0.56" stop-color="#d6f0ea"/><stop offset="0.64" stop-color="#dbf2ed"/><stop offset="0.7" stop-color="#ddf3ee"/><stop offset="0.71" stop-color="#daf2ec"/><stop offset="0.74" stop-color="#d3efe8"/><stop offset="0.82" stop-color="#dbf2ed"/><stop offset="0.91" stop-color="#dff3ef"/><stop offset="1" stop-color="#e1f4f1"/></linearGradient><rect x="379.3" y="592.3" width="135.3" height="2.04" fill="url(#h73)"/>
<linearGradient id="h74"><stop offset="0" stop-color="#bae5d7"/><stop offset="0.08" stop-color="#ceede5"/><stop offset="0.16" stop-color="#bee6da"/><stop offset="0.24" stop-color="#c3e8dd"/><stop offset="0.28" stop-color="#c2e8dc"/><stop offset="0.3" stop-color="#8cd1b6"/><stop offset="0.33" stop-color="#9dd9c3"/><stop offset="0.4" stop-color="#ade0ce"/><stop offset="0.48" stop-color="#b9e4d6"/><stop offset="0.56" stop-color="#c2e8dc"/><stop offset="0.64" stop-color="#c9ebe2"/><stop offset="0.7" stop-color="#ceede5"/><stop offset="0.71" stop-color="#ceede5"/><stop offset="0.74" stop-color="#d6f0e9"/><stop offset="0.82" stop-color="#c6eadf"/><stop offset="0.91" stop-color="#d8f1eb"/><stop offset="1" stop-color="#c7eae0"/></linearGradient><rect x="379.3" y="594.29" width="135.3" height="2.04" fill="url(#h74)"/>
<linearGradient id="h75"><stop offset="0" stop-color="#cdede5"/><stop offset="0.08" stop-color="#cfede6"/><stop offset="0.16" stop-color="#d1eee7"/><stop offset="0.24" stop-color="#d0eee6"/><stop offset="0.28" stop-color="#dcf2ed"/><stop offset="0.3" stop-color="#a5dcc9"/><stop offset="0.33" stop-color="#b5e3d4"/><stop offset="0.4" stop-color="#c5e9df"/><stop offset="0.48" stop-color="#d0eee6"/><stop offset="0.56" stop-color="#d5f0e9"/><stop offset="0.64" stop-color="#d9f1eb"/><stop offset="0.7" stop-color="#dcf2ed"/><stop offset="0.71" stop-color="#dcf2ed"/><stop offset="0.74" stop-color="#e3f5f2"/><stop offset="0.82" stop-color="#daf1ec"/><stop offset="0.91" stop-color="#ddf3ee"/><stop offset="1" stop-color="#e4f5f2"/></linearGradient><rect x="379.3" y="596.28" width="135.3" height="2.04" fill="url(#h75)"/>
<linearGradient id="h76"><stop offset="0" stop-color="#d2eee7"/><stop offset="0.08" stop-color="#daf2ec"/><stop offset="0.16" stop-color="#d1eee7"/><stop offset="0.24" stop-color="#d0eee6"/><stop offset="0.28" stop-color="#c9ebe2"/><stop offset="0.3" stop-color="#a4dcc8"/><stop offset="0.33" stop-color="#b4e2d3"/><stop offset="0.4" stop-color="#c4e9de"/><stop offset="0.48" stop-color="#cfede6"/><stop offset="0.56" stop-color="#d4efe9"/><stop offset="0.64" stop-color="#d8f1eb"/><stop offset="0.7" stop-color="#dbf2ed"/><stop offset="0.71" stop-color="#dcf2ed"/><stop offset="0.74" stop-color="#d7f0ea"/><stop offset="0.82" stop-color="#e0f4f0"/><stop offset="0.91" stop-color="#dbf2ed"/><stop offset="1" stop-color="#d7f0ea"/></linearGradient><rect x="379.3" y="598.27" width="135.3" height="2.04" fill="url(#h76)"/>
<linearGradient id="h77"><stop offset="0" stop-color="#dcf2ed"/><stop offset="0.08" stop-color="#ddf2ee"/><stop offset="0.16" stop-color="#d2efe7"/><stop offset="0.24" stop-color="#d4efe9"/><stop offset="0.28" stop-color="#d0eee6"/><stop offset="0.3" stop-color="#a2dbc7"/><stop offset="0.33" stop-color="#b2e2d2"/><stop offset="0.4" stop-color="#c3e8dd"/><stop offset="0.48" stop-color="#ceede5"/><stop offset="0.56" stop-color="#d3efe8"/><stop offset="0.64" stop-color="#d8f1eb"/><stop offset="0.7" stop-color="#daf2ec"/><stop offset="0.71" stop-color="#d9f1eb"/><stop offset="0.74" stop-color="#d3efe8"/><stop offset="0.82" stop-color="#dff4ef"/><stop offset="0.91" stop-color="#d6f0ea"/><stop offset="1" stop-color="#e3f5f1"/></linearGradient><rect x="379.3" y="600.26" width="135.3" height="2.04" fill="url(#h77)"/>
<linearGradient id="h78"><stop offset="0" stop-color="#cdede4"/><stop offset="0.08" stop-color="#cfede5"/><stop offset="0.16" stop-color="#d4efe9"/><stop offset="0.24" stop-color="#d2eee7"/><stop offset="0.28" stop-color="#d3efe8"/><stop offset="0.3" stop-color="#9ed9c4"/><stop offset="0.33" stop-color="#aee0cf"/><stop offset="0.4" stop-color="#bee7da"/><stop offset="0.48" stop-color="#caebe2"/><stop offset="0.56" stop-color="#d1eee7"/><stop offset="0.64" stop-color="#d5f0e9"/><stop offset="0.7" stop-color="#d8f1eb"/><stop offset="0.71" stop-color="#d6f0ea"/><stop offset="0.74" stop-color="#d5f0e9"/><stop offset="0.82" stop-color="#daf2ec"/><stop offset="0.91" stop-color="#d3efe8"/><stop offset="1" stop-color="#e1f4f0"/></linearGradient><rect x="379.3" y="602.25" width="135.3" height="2.04" fill="url(#h78)"/>
<linearGradient id="h79"><stop offset="0" stop-color="#cdece4"/><stop offset="0.08" stop-color="#daf2ec"/><stop offset="0.16" stop-color="#d3efe8"/><stop offset="0.24" stop-color="#c6eadf"/><stop offset="0.28" stop-color="#cfede6"/><stop offset="0.3" stop-color="#9bd8c2"/><stop offset="0.33" stop-color="#abdfcd"/><stop offset="0.4" stop-color="#bce6d8"/><stop offset="0.48" stop-color="#c8eae0"/><stop offset="0.56" stop-color="#cfeee6"/><stop offset="0.64" stop-color="#d4efe8"/><stop offset="0.7" stop-color="#d6f0ea"/><stop offset="0.71" stop-color="#d6f0ea"/><stop offset="0.74" stop-color="#dbf2ed"/><stop offset="0.82" stop-color="#d5f0e9"/><stop offset="0.91" stop-color="#dff3ef"/><stop offset="1" stop-color="#ddf3ee"/></linearGradient><rect x="379.3" y="604.24" width="135.3" height="2.04" fill="url(#h79)"/>
<linearGradient id="h80"><stop offset="0" stop-color="#e0f4f0"/><stop offset="0.08" stop-color="#e4f5f2"/><stop offset="0.16" stop-color="#e3f5f1"/><stop offset="0.24" stop-color="#dcf2ed"/><stop offset="0.28" stop-color="#e0f4f0"/><stop offset="0.3" stop-color="#bee6da"/><stop offset="0.33" stop-color="#ceede5"/><stop offset="0.4" stop-color="#d7f1eb"/><stop offset="0.48" stop-color="#def3ef"/><stop offset="0.56" stop-color="#e3f5f2"/><stop offset="0.64" stop-color="#e7f7f4"/><stop offset="0.7" stop-color="#eaf8f6"/><stop offset="0.71" stop-color="#ebf8f6"/><stop offset="0.74" stop-color="#eaf8f6"/><stop offset="0.82" stop-color="#eef9f8"/><stop offset="0.91" stop-color="#edf9f7"/><stop offset="1" stop-color="#e6f6f3"/></linearGradient><rect x="379.3" y="606.23" width="135.3" height="2.04" fill="url(#h80)"/>
<linearGradient id="h81"><stop offset="0" stop-color="#c6eae0"/><stop offset="0.08" stop-color="#c1e8dc"/><stop offset="0.16" stop-color="#cfede5"/><stop offset="0.24" stop-color="#c1e8dc"/><stop offset="0.28" stop-color="#c6eae0"/><stop offset="0.3" stop-color="#88ceb2"/><stop offset="0.33" stop-color="#9ad7c1"/><stop offset="0.4" stop-color="#aadecc"/><stop offset="0.48" stop-color="#b6e3d4"/><stop offset="0.56" stop-color="#bfe7da"/><stop offset="0.64" stop-color="#c6eae0"/><stop offset="0.7" stop-color="#cbece3"/><stop offset="0.71" stop-color="#cbece3"/><stop offset="0.74" stop-color="#d6f0ea"/><stop offset="0.82" stop-color="#d6f0ea"/><stop offset="0.91" stop-color="#c8eae1"/><stop offset="1" stop-color="#d0eee6"/></linearGradient><rect x="379.3" y="608.22" width="135.3" height="2.04" fill="url(#h81)"/>
<linearGradient id="h82"><stop offset="0" stop-color="#dcf2ed"/><stop offset="0.08" stop-color="#def3ef"/><stop offset="0.16" stop-color="#d7f1eb"/><stop offset="0.24" stop-color="#d5efe9"/><stop offset="0.28" stop-color="#ceede5"/><stop offset="0.3" stop-color="#a2dbc6"/><stop offset="0.33" stop-color="#b2e1d1"/><stop offset="0.4" stop-color="#c2e8dd"/><stop offset="0.48" stop-color="#ceede5"/><stop offset="0.56" stop-color="#d3efe8"/><stop offset="0.64" stop-color="#d7f1eb"/><stop offset="0.7" stop-color="#daf2ec"/><stop offset="0.71" stop-color="#dbf2ed"/><stop offset="0.74" stop-color="#ddf3ee"/><stop offset="0.82" stop-color="#d3efe8"/><stop offset="0.91" stop-color="#d8f1eb"/><stop offset="1" stop-color="#d4efe8"/></linearGradient><rect x="379.3" y="610.21" width="135.3" height="2.04" fill="url(#h82)"/>
<linearGradient id="h83"><stop offset="0" stop-color="#e0f4f0"/><stop offset="0.08" stop-color="#daf2ec"/><stop offset="0.16" stop-color="#e6f6f3"/><stop offset="0.24" stop-color="#e3f5f1"/><stop offset="0.28" stop-color="#e3f5f2"/><stop offset="0.3" stop-color="#b7e3d5"/><stop offset="0.33" stop-color="#c7eae0"/><stop offset="0.4" stop-color="#d3efe8"/><stop offset="0.48" stop-color="#daf2ec"/><stop offset="0.56" stop-color="#dff3ef"/><stop offset="0.64" stop-color="#e3f5f2"/><stop offset="0.7" stop-color="#e6f6f3"/><stop offset="0.71" stop-color="#e5f6f3"/><stop offset="0.74" stop-color="#edf9f7"/><stop offset="0.82" stop-color="#dff3ef"/><stop offset="0.91" stop-color="#ddf3ee"/><stop offset="1" stop-color="#def3ee"/></linearGradient><rect x="379.3" y="612.2" width="135.3" height="2.04" fill="url(#h83)"/>
<linearGradient id="h84"><stop offset="0" stop-color="#cfede6"/><stop offset="0.08" stop-color="#d2efe7"/><stop offset="0.16" stop-color="#d9f1ec"/><stop offset="0.24" stop-color="#e0f4ef"/><stop offset="0.28" stop-color="#d4efe9"/><stop offset="0.3" stop-color="#a5dcc9"/><stop offset="0.33" stop-color="#b5e3d4"/><stop offset="0.4" stop-color="#c6eadf"/><stop offset="0.48" stop-color="#d0eee6"/><stop offset="0.56" stop-color="#d5f0e9"/><stop offset="0.64" stop-color="#d9f1ec"/><stop offset="0.7" stop-color="#dcf2ed"/><stop offset="0.71" stop-color="#dbf2ed"/><stop offset="0.74" stop-color="#def3ee"/><stop offset="0.82" stop-color="#dcf2ed"/><stop offset="0.91" stop-color="#e2f4f1"/><stop offset="1" stop-color="#d7f0ea"/></linearGradient><rect x="379.3" y="614.19" width="135.3" height="2.04" fill="url(#h84)"/>
<linearGradient id="h85"><stop offset="0" stop-color="#caebe2"/><stop offset="0.08" stop-color="#d8f1eb"/><stop offset="0.16" stop-color="#ceede5"/><stop offset="0.24" stop-color="#d9f1eb"/><stop offset="0.28" stop-color="#c6eadf"/><stop offset="0.3" stop-color="#9ad8c1"/><stop offset="0.33" stop-color="#aadecc"/><stop offset="0.4" stop-color="#bae5d7"/><stop offset="0.48" stop-color="#c6eae0"/><stop offset="0.56" stop-color="#cfede5"/><stop offset="0.64" stop-color="#d3efe8"/><stop offset="0.7" stop-color="#d6f0ea"/><stop offset="0.71" stop-color="#d8f1eb"/><stop offset="0.74" stop-color="#def3ee"/><stop offset="0.82" stop-color="#ddf3ee"/><stop offset="0.91" stop-color="#d3efe8"/><stop offset="1" stop-color="#d9f1eb"/></linearGradient><rect x="379.3" y="616.18" width="135.3" height="2.04" fill="url(#h85)"/>
<linearGradient id="h86"><stop offset="0" stop-color="#d4efe8"/><stop offset="0.08" stop-color="#bee6da"/><stop offset="0.16" stop-color="#d5f0e9"/><stop offset="0.24" stop-color="#c1e8dc"/><stop offset="0.28" stop-color="#d4efe9"/><stop offset="0.3" stop-color="#88ceb2"/><stop offset="0.33" stop-color="#9ad8c1"/><stop offset="0.4" stop-color="#aadecc"/><stop offset="0.48" stop-color="#b6e3d4"/><stop offset="0.56" stop-color="#bfe7db"/><stop offset="0.64" stop-color="#c7eae0"/><stop offset="0.7" stop-color="#ccece3"/><stop offset="0.71" stop-color="#d2eee7"/><stop offset="0.74" stop-color="#d3efe8"/><stop offset="0.82" stop-color="#c7eae0"/><stop offset="0.91" stop-color="#cdede4"/><stop offset="1" stop-color="#d3efe8"/></linearGradient><rect x="379.3" y="618.17" width="135.3" height="2.04" fill="url(#h86)"/>
<linearGradient id="h87"><stop offset="0" stop-color="#daf2ec"/><stop offset="0.08" stop-color="#d8f1eb"/><stop offset="0.16" stop-color="#d4efe8"/><stop offset="0.24" stop-color="#e2f4f1"/><stop offset="0.28" stop-color="#dff3ef"/><stop offset="0.3" stop-color="#b3e2d3"/><stop offset="0.33" stop-color="#c4e9de"/><stop offset="0.4" stop-color="#d2eee7"/><stop offset="0.48" stop-color="#d8f1eb"/><stop offset="0.56" stop-color="#def3ee"/><stop offset="0.64" stop-color="#e2f4f1"/><stop offset="0.7" stop-color="#e5f6f2"/><stop offset="0.71" stop-color="#e4f5f2"/><stop offset="0.74" stop-color="#e6f6f3"/><stop offset="0.82" stop-color="#dff3ef"/><stop offset="0.91" stop-color="#e3f5f1"/><stop offset="1" stop-color="#e0f4f0"/></linearGradient><rect x="379.3" y="620.16" width="135.3" height="2.04" fill="url(#h87)"/>
<linearGradient id="h88"><stop offset="0" stop-color="#e6f6f3"/><stop offset="0.08" stop-color="#daf1ec"/><stop offset="0.16" stop-color="#e5f5f2"/><stop offset="0.24" stop-color="#e8f7f4"/><stop offset="0.28" stop-color="#d7f0ea"/><stop offset="0.3" stop-color="#b7e3d5"/><stop offset="0.33" stop-color="#c7eae0"/><stop offset="0.4" stop-color="#d3efe8"/><stop offset="0.48" stop-color="#daf2ec"/><stop offset="0.56" stop-color="#dff4ef"/><stop offset="0.64" stop-color="#e4f5f2"/><stop offset="0.7" stop-color="#e7f6f4"/><stop offset="0.71" stop-color="#e7f6f4"/><stop offset="0.74" stop-color="#e0f4f0"/><stop offset="0.82" stop-color="#def3ee"/><stop offset="0.91" stop-color="#eaf7f6"/><stop offset="1" stop-color="#ecf8f7"/></linearGradient><rect x="379.3" y="622.15" width="135.3" height="2.04" fill="url(#h88)"/>
<linearGradient id="h89"><stop offset="0" stop-color="#dcf2ed"/><stop offset="0.08" stop-color="#d3efe8"/><stop offset="0.16" stop-color="#d9f1eb"/><stop offset="0.24" stop-color="#d5f0e9"/><stop offset="0.28" stop-color="#d0eee6"/><stop offset="0.3" stop-color="#a7ddca"/><stop offset="0.33" stop-color="#b7e4d5"/><stop offset="0.4" stop-color="#c8ebe1"/><stop offset="0.48" stop-color="#d1eee7"/><stop offset="0.56" stop-color="#d7f0ea"/><stop offset="0.64" stop-color="#dbf2ed"/><stop offset="0.7" stop-color="#def3ee"/><stop offset="0.71" stop-color="#ddf3ee"/><stop offset="0.74" stop-color="#e1f4f0"/><stop offset="0.82" stop-color="#ddf3ee"/><stop offset="0.91" stop-color="#def3ef"/><stop offset="1" stop-color="#dcf2ed"/></linearGradient><rect x="379.3" y="624.14" width="135.3" height="2.04" fill="url(#h89)"/>
<linearGradient id="h90"><stop offset="0" stop-color="#d6f0ea"/><stop offset="0.08" stop-color="#d0eee6"/><stop offset="0.16" stop-color="#daf1ec"/><stop offset="0.24" stop-color="#d9f1ec"/><stop offset="0.28" stop-color="#cbece3"/><stop offset="0.3" stop-color="#9dd9c3"/><stop offset="0.33" stop-color="#ade0ce"/><stop offset="0.4" stop-color="#bee6da"/><stop offset="0.48" stop-color="#caebe2"/><stop offset="0.56" stop-color="#d1eee7"/><stop offset="0.64" stop-color="#d5f0e9"/><stop offset="0.7" stop-color="#d8f1eb"/><stop offset="0.71" stop-color="#d9f1eb"/><stop offset="0.74" stop-color="#d5f0e9"/><stop offset="0.82" stop-color="#e3f5f2"/><stop offset="0.91" stop-color="#d1eee7"/><stop offset="1" stop-color="#e2f5f1"/></linearGradient><rect x="379.3" y="626.13" width="135.3" height="2.04" fill="url(#h90)"/>
<linearGradient id="h91"><stop offset="0" stop-color="#e7f6f4"/><stop offset="0.08" stop-color="#e1f4f0"/><stop offset="0.16" stop-color="#e5f5f2"/><stop offset="0.24" stop-color="#daf2ec"/><stop offset="0.28" stop-color="#e6f6f3"/><stop offset="0.3" stop-color="#bae5d7"/><stop offset="0.33" stop-color="#caebe2"/><stop offset="0.4" stop-color="#d5f0e9"/><stop offset="0.48" stop-color="#dcf2ed"/><stop offset="0.56" stop-color="#e2f4f1"/><stop offset="0.64" stop-color="#e6f6f3"/><stop offset="0.7" stop-color="#e9f7f5"/><stop offset="0.71" stop-color="#e7f6f4"/><stop offset="0.74" stop-color="#e0f4f0"/><stop offset="0.82" stop-color="#e3f5f2"/><stop offset="0.91" stop-color="#e7f6f4"/><stop offset="1" stop-color="#eaf7f6"/></linearGradient><rect x="379.3" y="628.12" width="135.3" height="2.04" fill="url(#h91)"/>
<linearGradient id="h92"><stop offset="0" stop-color="#ddf3ee"/><stop offset="0.08" stop-color="#dcf2ed"/><stop offset="0.16" stop-color="#d1eee7"/><stop offset="0.24" stop-color="#ccece4"/><stop offset="0.28" stop-color="#d3efe8"/><stop offset="0.3" stop-color="#9ed9c4"/><stop offset="0.33" stop-color="#afe0cf"/><stop offset="0.4" stop-color="#c0e7db"/><stop offset="0.48" stop-color="#ccece3"/><stop offset="0.56" stop-color="#d2eee7"/><stop offset="0.64" stop-color="#d6f0ea"/><stop offset="0.7" stop-color="#d9f1ec"/><stop offset="0.71" stop-color="#d7f0ea"/><stop offset="0.74" stop-color="#d9f1eb"/><stop offset="0.82" stop-color="#e3f5f1"/><stop offset="0.91" stop-color="#e3f5f1"/><stop offset="1" stop-color="#ddf3ee"/></linearGradient><rect x="379.3" y="630.12" width="135.3" height="2.04" fill="url(#h92)"/>
<linearGradient id="h93"><stop offset="0" stop-color="#e4f5f2"/><stop offset="0.08" stop-color="#e0f4f0"/><stop offset="0.16" stop-color="#d8f1eb"/><stop offset="0.24" stop-color="#e8f7f4"/><stop offset="0.28" stop-color="#d7f0ea"/><stop offset="0.3" stop-color="#b8e4d6"/><stop offset="0.33" stop-color="#c9ebe1"/><stop offset="0.4" stop-color="#d5efe9"/><stop offset="0.48" stop-color="#dbf2ed"/><stop offset="0.56" stop-color="#e1f4f0"/><stop offset="0.64" stop-color="#e5f6f3"/><stop offset="0.7" stop-color="#e8f7f4"/><stop offset="0.71" stop-color="#e8f7f5"/><stop offset="0.74" stop-color="#e4f5f2"/><stop offset="0.82" stop-color="#e2f4f1"/><stop offset="0.91" stop-color="#e4f5f2"/><stop offset="1" stop-color="#dff3ef"/></linearGradient><rect x="379.3" y="632.11" width="135.3" height="2.04" fill="url(#h93)"/>
<linearGradient id="h94"><stop offset="0" stop-color="#d8f1eb"/><stop offset="0.08" stop-color="#e2f5f1"/><stop offset="0.16" stop-color="#d6f0ea"/><stop offset="0.24" stop-color="#d4efe9"/><stop offset="0.28" stop-color="#d8f1eb"/><stop offset="0.3" stop-color="#ade0ce"/><stop offset="0.33" stop-color="#bee6da"/><stop offset="0.4" stop-color="#ceede5"/><stop offset="0.48" stop-color="#d5f0e9"/><stop offset="0.56" stop-color="#dbf2ec"/><stop offset="0.64" stop-color="#dff3ef"/><stop offset="0.7" stop-color="#e2f4f1"/><stop offset="0.71" stop-color="#e4f5f2"/><stop offset="0.74" stop-color="#e3f5f2"/><stop offset="0.82" stop-color="#e6f6f3"/><stop offset="0.91" stop-color="#d7f1eb"/><stop offset="1" stop-color="#e5f6f3"/></linearGradient><rect x="379.3" y="634.1" width="135.3" height="2.04" fill="url(#h94)"/>
<linearGradient id="h95"><stop offset="0" stop-color="#ebf8f6"/><stop offset="0.08" stop-color="#e2f4f1"/><stop offset="0.16" stop-color="#e6f6f3"/><stop offset="0.24" stop-color="#dff3ef"/><stop offset="0.28" stop-color="#dff3ef"/><stop offset="0.3" stop-color="#c4e9de"/><stop offset="0.33" stop-color="#d2eee7"/><stop offset="0.4" stop-color="#dbf2ed"/><stop offset="0.48" stop-color="#e2f5f1"/><stop offset="0.56" stop-color="#e8f7f4"/><stop offset="0.64" stop-color="#ecf8f7"/><stop offset="0.7" stop-color="#eef9f8"/><stop offset="0.71" stop-color="#ebf8f6"/><stop offset="0.74" stop-color="#edf9f7"/><stop offset="0.82" stop-color="#e9f7f5"/><stop offset="0.91" stop-color="#eef9f8"/><stop offset="1" stop-color="#edf9f7"/></linearGradient><rect x="379.3" y="636.09" width="135.3" height="2.04" fill="url(#h95)"/>
<linearGradient id="h96"><stop offset="0" stop-color="#eaf8f6"/><stop offset="0.08" stop-color="#eaf8f6"/><stop offset="0.16" stop-color="#eaf8f6"/><stop offset="0.24" stop-color="#e1f4f0"/><stop offset="0.28" stop-color="#eaf7f5"/><stop offset="0.3" stop-color="#bee6da"/><stop offset="0.33" stop-color="#ceede5"/><stop offset="0.4" stop-color="#d8f1eb"/><stop offset="0.48" stop-color="#dff3ef"/><stop offset="0.56" stop-color="#e4f5f2"/><stop offset="0.64" stop-color="#e9f7f5"/><stop offset="0.7" stop-color="#ecf8f7"/><stop offset="0.71" stop-color="#edf9f8"/><stop offset="0.74" stop-color="#e4f5f2"/><stop offset="0.82" stop-color="#e1f4f0"/><stop offset="0.91" stop-color="#e8f7f4"/><stop offset="1" stop-color="#e0f4ef"/></linearGradient><rect x="379.3" y="638.08" width="135.3" height="2.04" fill="url(#h96)"/>
<linearGradient id="h97"><stop offset="0" stop-color="#daf2ec"/><stop offset="0.08" stop-color="#ddf3ee"/><stop offset="0.16" stop-color="#d6f0ea"/><stop offset="0.24" stop-color="#d8f1eb"/><stop offset="0.28" stop-color="#d2eee7"/><stop offset="0.3" stop-color="#a3dbc7"/><stop offset="0.33" stop-color="#b3e2d2"/><stop offset="0.4" stop-color="#c4e9de"/><stop offset="0.48" stop-color="#cfeee6"/><stop offset="0.56" stop-color="#d5efe9"/><stop offset="0.64" stop-color="#d9f1ec"/><stop offset="0.7" stop-color="#dcf2ed"/><stop offset="0.71" stop-color="#dff4ef"/><stop offset="0.74" stop-color="#e0f4ef"/><stop offset="0.82" stop-color="#e3f5f1"/><stop offset="0.91" stop-color="#d5f0e9"/><stop offset="1" stop-color="#dbf2ec"/></linearGradient><rect x="379.3" y="640.07" width="135.3" height="2.04" fill="url(#h97)"/>
<linearGradient id="h98"><stop offset="0" stop-color="#d6f0e9"/><stop offset="0.08" stop-color="#daf2ec"/><stop offset="0.16" stop-color="#d8f1eb"/><stop offset="0.24" stop-color="#e0f4f0"/><stop offset="0.28" stop-color="#d4efe9"/><stop offset="0.3" stop-color="#abdfcd"/><stop offset="0.33" stop-color="#bce6d8"/><stop offset="0.4" stop-color="#cdede4"/><stop offset="0.48" stop-color="#d4efe9"/><stop offset="0.56" stop-color="#daf1ec"/><stop offset="0.64" stop-color="#def3ef"/><stop offset="0.7" stop-color="#e1f4f0"/><stop offset="0.71" stop-color="#e3f5f2"/><stop offset="0.74" stop-color="#dff3ef"/><stop offset="0.82" stop-color="#d7f0ea"/><stop offset="0.91" stop-color="#e8f7f5"/><stop offset="1" stop-color="#e7f6f4"/></linearGradient><rect x="379.3" y="642.06" width="135.3" height="2.04" fill="url(#h98)"/>
<linearGradient id="h99"><stop offset="0" stop-color="#d5f0e9"/><stop offset="0.08" stop-color="#d4efe8"/><stop offset="0.16" stop-color="#d9f1eb"/><stop offset="0.24" stop-color="#e2f4f1"/><stop offset="0.28" stop-color="#e2f5f1"/><stop offset="0.3" stop-color="#aee0cf"/><stop offset="0.33" stop-color="#bfe7db"/><stop offset="0.4" stop-color="#cfede6"/><stop offset="0.48" stop-color="#d6f0ea"/><stop offset="0.56" stop-color="#dbf2ed"/><stop offset="0.64" stop-color="#e0f4f0"/><stop offset="0.7" stop-color="#e3f5f1"/><stop offset="0.71" stop-color="#e5f6f3"/><stop offset="0.74" stop-color="#d8f1eb"/><stop offset="0.82" stop-color="#eaf7f6"/><stop offset="0.91" stop-color="#daf1ec"/><stop offset="1" stop-color="#daf1ec"/></linearGradient><rect x="379.3" y="644.05" width="135.3" height="2.04" fill="url(#h99)"/>
<linearGradient id="h100"><stop offset="0" stop-color="#dff3ef"/><stop offset="0.08" stop-color="#e2f4f1"/><stop offset="0.16" stop-color="#daf2ec"/><stop offset="0.24" stop-color="#dff3ef"/><stop offset="0.28" stop-color="#d4efe8"/><stop offset="0.3" stop-color="#a7ddca"/><stop offset="0.33" stop-color="#b8e4d6"/><stop offset="0.4" stop-color="#c9ebe2"/><stop offset="0.48" stop-color="#d2efe7"/><stop offset="0.56" stop-color="#d7f1eb"/><stop offset="0.64" stop-color="#dcf2ed"/><stop offset="0.7" stop-color="#dff3ef"/><stop offset="0.71" stop-color="#e1f4f0"/><stop offset="0.74" stop-color="#d5f0e9"/><stop offset="0.82" stop-color="#d9f1ec"/><stop offset="0.91" stop-color="#e1f4f0"/><stop offset="1" stop-color="#d4efe9"/></linearGradient><rect x="379.3" y="646.04" width="135.3" height="2.04" fill="url(#h100)"/>
<linearGradient id="h101"><stop offset="0" stop-color="#e6f6f3"/><stop offset="0.08" stop-color="#def3ee"/><stop offset="0.16" stop-color="#def3ef"/><stop offset="0.24" stop-color="#def3ee"/><stop offset="0.28" stop-color="#d6f0e9"/><stop offset="0.3" stop-color="#b4e2d3"/><stop offset="0.33" stop-color="#c5e9df"/><stop offset="0.4" stop-color="#d3efe8"/><stop offset="0.48" stop-color="#daf1ec"/><stop offset="0.56" stop-color="#dff3ef"/><stop offset="0.64" stop-color="#e3f5f2"/><stop offset="0.7" stop-color="#e6f6f3"/><stop offset="0.71" stop-color="#e8f7f5"/><stop offset="0.74" stop-color="#daf2ec"/><stop offset="0.82" stop-color="#e0f4f0"/><stop offset="0.91" stop-color="#e8f7f4"/><stop offset="1" stop-color="#dff3ef"/></linearGradient><rect x="379.3" y="648.03" width="135.3" height="2.04" fill="url(#h101)"/>
<linearGradient id="h102"><stop offset="0" stop-color="#d6f0ea"/><stop offset="0.08" stop-color="#d3efe8"/><stop offset="0.16" stop-color="#d2eee7"/><stop offset="0.24" stop-color="#e2f5f1"/><stop offset="0.28" stop-color="#d0eee6"/><stop offset="0.3" stop-color="#a7ddca"/><stop offset="0.33" stop-color="#b8e4d6"/><stop offset="0.4" stop-color="#c9ebe2"/><stop offset="0.48" stop-color="#d2efe8"/><stop offset="0.56" stop-color="#d8f1eb"/><stop offset="0.64" stop-color="#dcf2ed"/><stop offset="0.7" stop-color="#dff3ef"/><stop offset="0.71" stop-color="#e1f4f0"/><stop offset="0.74" stop-color="#def3ef"/><stop offset="0.82" stop-color="#e6f6f4"/><stop offset="0.91" stop-color="#dcf2ed"/><stop offset="1" stop-color="#e3f5f2"/></linearGradient><rect x="379.3" y="650.02" width="135.3" height="2.04" fill="url(#h102)"/>
<linearGradient id="h103"><stop offset="0" stop-color="#d9f1eb"/><stop offset="0.08" stop-color="#d5f0e9"/><stop offset="0.16" stop-color="#ddf2ee"/><stop offset="0.24" stop-color="#e1f4f0"/><stop offset="0.28" stop-color="#dbf2ed"/><stop offset="0.3" stop-color="#ade0ce"/><stop offset="0.33" stop-color="#bee6da"/><stop offset="0.4" stop-color="#cfede5"/><stop offset="0.48" stop-color="#d6f0ea"/><stop offset="0.56" stop-color="#dbf2ed"/><stop offset="0.64" stop-color="#dff4ef"/><stop offset="0.7" stop-color="#e2f5f1"/><stop offset="0.71" stop-color="#e4f5f2"/><stop offset="0.74" stop-color="#e2f4f1"/><stop offset="0.82" stop-color="#e2f5f1"/><stop offset="0.91" stop-color="#d9f1ec"/><stop offset="1" stop-color="#def3ee"/></linearGradient><rect x="379.3" y="652.01" width="135.3" height="2.04" fill="url(#h103)"/>
<linearGradient id="h104"><stop offset="0" stop-color="#bce6d9"/><stop offset="0.08" stop-color="#bce6d9"/><stop offset="0.16" stop-color="#bce6d9"/><stop offset="0.24" stop-color="#b1e1d1"/><stop offset="0.28" stop-color="#c2e8dc"/><stop offset="0.3" stop-color="#dbf2ed"/><stop offset="0.33" stop-color="#eaf7f6"/><stop offset="0.4" stop-color="#e9f7f5"/><stop offset="0.48" stop-color="#e7f6f4"/><stop offset="0.56" stop-color="#e8f7f4"/><stop offset="0.64" stop-color="#ecf8f7"/><stop offset="0.7" stop-color="#dcf2ed"/><stop offset="0.71" stop-color="#caebe2"/><stop offset="0.74" stop-color="#b7e4d5"/><stop offset="0.82" stop-color="#b2e2d2"/><stop offset="0.91" stop-color="#bbe5d8"/><stop offset="1" stop-color="#a4dcc8"/></linearGradient><rect x="379.3" y="660" width="135.3" height="2.06" fill="url(#h104)"/>
<linearGradient id="h105"><stop offset="0" stop-color="#acdfce"/><stop offset="0.08" stop-color="#b8e4d6"/><stop offset="0.16" stop-color="#ade0ce"/><stop offset="0.24" stop-color="#afe0cf"/><stop offset="0.28" stop-color="#d3efe8"/><stop offset="0.3" stop-color="#daf1ec"/><stop offset="0.33" stop-color="#e7f6f4"/><stop offset="0.4" stop-color="#ebf8f6"/><stop offset="0.48" stop-color="#ebf8f6"/><stop offset="0.56" stop-color="#e9f7f5"/><stop offset="0.64" stop-color="#e6f6f3"/><stop offset="0.7" stop-color="#d8f1eb"/><stop offset="0.71" stop-color="#d1eee7"/><stop offset="0.74" stop-color="#b7e3d5"/><stop offset="0.82" stop-color="#aee0cf"/><stop offset="0.91" stop-color="#b5e3d3"/><stop offset="1" stop-color="#c0e7db"/></linearGradient><rect x="379.3" y="662.01" width="135.3" height="2.06" fill="url(#h105)"/>
<linearGradient id="h106"><stop offset="0" stop-color="#b3e2d2"/><stop offset="0.08" stop-color="#abdfcd"/><stop offset="0.16" stop-color="#bce6d8"/><stop offset="0.24" stop-color="#afe0cf"/><stop offset="0.28" stop-color="#c2e8dd"/><stop offset="0.3" stop-color="#d5f0e9"/><stop offset="0.33" stop-color="#e8f7f5"/><stop offset="0.4" stop-color="#e6f6f3"/><stop offset="0.48" stop-color="#e9f7f5"/><stop offset="0.56" stop-color="#e9f7f5"/><stop offset="0.64" stop-color="#e5f6f3"/><stop offset="0.7" stop-color="#d9f1ec"/><stop offset="0.71" stop-color="#c3e8dd"/><stop offset="0.74" stop-color="#b4e2d3"/><stop offset="0.82" stop-color="#b1e1d1"/><stop offset="0.91" stop-color="#b3e2d2"/><stop offset="1" stop-color="#a7ddca"/></linearGradient><rect x="379.3" y="664.03" width="135.3" height="2.06" fill="url(#h106)"/>
<linearGradient id="h107"><stop offset="0" stop-color="#c3e9de"/><stop offset="0.08" stop-color="#c2e8dd"/><stop offset="0.16" stop-color="#c8ebe1"/><stop offset="0.24" stop-color="#b9e4d6"/><stop offset="0.28" stop-color="#c9ebe2"/><stop offset="0.3" stop-color="#d8f1eb"/><stop offset="0.33" stop-color="#e6f6f3"/><stop offset="0.4" stop-color="#e7f6f4"/><stop offset="0.48" stop-color="#e6f6f3"/><stop offset="0.56" stop-color="#e4f5f2"/><stop offset="0.64" stop-color="#ebf8f6"/><stop offset="0.7" stop-color="#d9f1ec"/><stop offset="0.71" stop-color="#c9ebe2"/><stop offset="0.74" stop-color="#c6eadf"/><stop offset="0.82" stop-color="#c2e8dc"/><stop offset="0.91" stop-color="#cbece3"/><stop offset="1" stop-color="#c0e7db"/></linearGradient><rect x="379.3" y="666.04" width="135.3" height="2.06" fill="url(#h107)"/>
<linearGradient id="h108"><stop offset="0" stop-color="#aadecc"/><stop offset="0.08" stop-color="#bbe5d8"/><stop offset="0.16" stop-color="#aadecc"/><stop offset="0.24" stop-color="#a7ddca"/><stop offset="0.28" stop-color="#c8eae0"/><stop offset="0.3" stop-color="#cfeee6"/><stop offset="0.33" stop-color="#e3f5f1"/><stop offset="0.4" stop-color="#e4f5f2"/><stop offset="0.48" stop-color="#e3f5f1"/><stop offset="0.56" stop-color="#e1f4f0"/><stop offset="0.64" stop-color="#e1f4f0"/><stop offset="0.7" stop-color="#d4efe9"/><stop offset="0.71" stop-color="#c9ebe2"/><stop offset="0.74" stop-color="#a7ddca"/><stop offset="0.82" stop-color="#bbe5d8"/><stop offset="0.91" stop-color="#b7e4d5"/><stop offset="1" stop-color="#aadecc"/></linearGradient><rect x="379.3" y="668.06" width="135.3" height="2.06" fill="url(#h108)"/>
<linearGradient id="h109"><stop offset="0" stop-color="#d2eee7"/><stop offset="0.08" stop-color="#c2e8dc"/><stop offset="0.16" stop-color="#c4e9de"/><stop offset="0.24" stop-color="#d0eee6"/><stop offset="0.28" stop-color="#d1eee6"/><stop offset="0.3" stop-color="#ddf3ee"/><stop offset="0.33" stop-color="#ebf8f6"/><stop offset="0.4" stop-color="#e7f6f4"/><stop offset="0.48" stop-color="#eaf8f6"/><stop offset="0.56" stop-color="#e4f5f2"/><stop offset="0.64" stop-color="#e5f6f3"/><stop offset="0.7" stop-color="#e0f4f0"/><stop offset="0.71" stop-color="#d1eee7"/><stop offset="0.74" stop-color="#d1eee7"/><stop offset="0.82" stop-color="#ceede5"/><stop offset="0.91" stop-color="#ccece4"/><stop offset="1" stop-color="#c9ebe2"/></linearGradient><rect x="379.3" y="670.07" width="135.3" height="2.06" fill="url(#h109)"/>
<linearGradient id="h110"><stop offset="0" stop-color="#ceede5"/><stop offset="0.08" stop-color="#ceede5"/><stop offset="0.16" stop-color="#cdede5"/><stop offset="0.24" stop-color="#d9f1ec"/><stop offset="0.28" stop-color="#d7f0ea"/><stop offset="0.3" stop-color="#def3ee"/><stop offset="0.33" stop-color="#eaf8f6"/><stop offset="0.4" stop-color="#edf9f7"/><stop offset="0.48" stop-color="#e9f7f5"/><stop offset="0.56" stop-color="#e8f7f5"/><stop offset="0.64" stop-color="#ecf8f7"/><stop offset="0.7" stop-color="#dff3ef"/><stop offset="0.71" stop-color="#daf2ec"/><stop offset="0.74" stop-color="#d0eee6"/><stop offset="0.82" stop-color="#d4efe8"/><stop offset="0.91" stop-color="#d4efe9"/><stop offset="1" stop-color="#dbf2ed"/></linearGradient><rect x="379.3" y="672.08" width="135.3" height="2.06" fill="url(#h110)"/>
<linearGradient id="h111"><stop offset="0" stop-color="#d3efe8"/><stop offset="0.08" stop-color="#cfede5"/><stop offset="0.16" stop-color="#dbf2ec"/><stop offset="0.24" stop-color="#dbf2ed"/><stop offset="0.28" stop-color="#daf1ec"/><stop offset="0.3" stop-color="#e1f4f0"/><stop offset="0.33" stop-color="#e8f7f4"/><stop offset="0.4" stop-color="#edf8f7"/><stop offset="0.48" stop-color="#e7f7f4"/><stop offset="0.56" stop-color="#e9f7f5"/><stop offset="0.64" stop-color="#eaf8f6"/><stop offset="0.7" stop-color="#def3ee"/><stop offset="0.71" stop-color="#ddf3ee"/><stop offset="0.74" stop-color="#daf2ec"/><stop offset="0.82" stop-color="#dcf2ed"/><stop offset="0.91" stop-color="#cfede6"/><stop offset="1" stop-color="#d7f0ea"/></linearGradient><rect x="379.3" y="674.1" width="135.3" height="2.06" fill="url(#h111)"/>
<linearGradient id="h112"><stop offset="0" stop-color="#d3efe8"/><stop offset="0.08" stop-color="#d1eee7"/><stop offset="0.16" stop-color="#d3efe8"/><stop offset="0.24" stop-color="#d2eee7"/><stop offset="0.28" stop-color="#daf2ec"/><stop offset="0.3" stop-color="#ddf3ee"/><stop offset="0.33" stop-color="#eaf7f5"/><stop offset="0.4" stop-color="#ebf8f6"/><stop offset="0.48" stop-color="#e7f6f4"/><stop offset="0.56" stop-color="#e7f6f4"/><stop offset="0.64" stop-color="#eaf8f6"/><stop offset="0.7" stop-color="#ddf3ee"/><stop offset="0.71" stop-color="#d7f0ea"/><stop offset="0.74" stop-color="#d8f1eb"/><stop offset="0.82" stop-color="#ceede5"/><stop offset="0.91" stop-color="#d7f0ea"/><stop offset="1" stop-color="#d2eee7"/></linearGradient><rect x="379.3" y="676.11" width="135.3" height="2.06" fill="url(#h112)"/>
<linearGradient id="h113"><stop offset="0" stop-color="#bbe5d8"/><stop offset="0.08" stop-color="#bbe5d8"/><stop offset="0.16" stop-color="#caebe2"/><stop offset="0.24" stop-color="#cfede6"/><stop offset="0.28" stop-color="#d3efe8"/><stop offset="0.3" stop-color="#d9f1ec"/><stop offset="0.33" stop-color="#e6f6f3"/><stop offset="0.4" stop-color="#e5f6f3"/><stop offset="0.48" stop-color="#e6f6f3"/><stop offset="0.56" stop-color="#e1f4f0"/><stop offset="0.64" stop-color="#e7f6f4"/><stop offset="0.7" stop-color="#dbf2ed"/><stop offset="0.71" stop-color="#cfede6"/><stop offset="0.74" stop-color="#c5e9df"/><stop offset="0.82" stop-color="#c3e8dd"/><stop offset="0.91" stop-color="#ceede5"/><stop offset="1" stop-color="#cfede6"/></linearGradient><rect x="379.3" y="678.13" width="135.3" height="2.06" fill="url(#h113)"/>
<linearGradient id="h114"><stop offset="0" stop-color="#c7eae0"/><stop offset="0.08" stop-color="#c5e9df"/><stop offset="0.16" stop-color="#bee6da"/><stop offset="0.24" stop-color="#c1e7dc"/><stop offset="0.28" stop-color="#ceede5"/><stop offset="0.3" stop-color="#d5f0e9"/><stop offset="0.33" stop-color="#e2f4f1"/><stop offset="0.4" stop-color="#e4f5f2"/><stop offset="0.48" stop-color="#e3f5f1"/><stop offset="0.56" stop-color="#e0f4f0"/><stop offset="0.64" stop-color="#e2f5f1"/><stop offset="0.7" stop-color="#d6f0ea"/><stop offset="0.71" stop-color="#d3efe8"/><stop offset="0.74" stop-color="#b8e4d5"/><stop offset="0.82" stop-color="#bbe5d8"/><stop offset="0.91" stop-color="#bce5d8"/><stop offset="1" stop-color="#b8e4d5"/></linearGradient><rect x="379.3" y="680.14" width="135.3" height="2.06" fill="url(#h114)"/>
<linearGradient id="h115"><stop offset="0" stop-color="#caebe2"/><stop offset="0.08" stop-color="#d4efe9"/><stop offset="0.16" stop-color="#cfede6"/><stop offset="0.24" stop-color="#d2eee7"/><stop offset="0.28" stop-color="#dbf2ed"/><stop offset="0.3" stop-color="#dcf2ed"/><stop offset="0.33" stop-color="#e5f5f2"/><stop offset="0.4" stop-color="#e7f6f4"/><stop offset="0.48" stop-color="#e9f7f5"/><stop offset="0.56" stop-color="#e7f6f4"/><stop offset="0.64" stop-color="#eaf8f6"/><stop offset="0.7" stop-color="#dcf2ed"/><stop offset="0.71" stop-color="#d2eee7"/><stop offset="0.74" stop-color="#caebe2"/><stop offset="0.82" stop-color="#d4efe9"/><stop offset="0.91" stop-color="#caebe2"/><stop offset="1" stop-color="#d1eee7"/></linearGradient><rect x="379.3" y="682.15" width="135.3" height="2.06" fill="url(#h115)"/>
<linearGradient id="h116"><stop offset="0" stop-color="#d0eee6"/><stop offset="0.08" stop-color="#d4efe9"/><stop offset="0.16" stop-color="#d9f1ec"/><stop offset="0.24" stop-color="#d9f1eb"/><stop offset="0.28" stop-color="#d6f0ea"/><stop offset="0.3" stop-color="#dcf2ee"/><stop offset="0.33" stop-color="#e6f6f4"/><stop offset="0.4" stop-color="#e5f6f3"/><stop offset="0.48" stop-color="#e7f6f4"/><stop offset="0.56" stop-color="#e9f7f5"/><stop offset="0.64" stop-color="#e7f6f4"/><stop offset="0.7" stop-color="#e2f5f1"/><stop offset="0.71" stop-color="#dbf2ed"/><stop offset="0.74" stop-color="#daf1ec"/><stop offset="0.82" stop-color="#d0eee6"/><stop offset="0.91" stop-color="#d3efe8"/><stop offset="1" stop-color="#d2eee7"/></linearGradient><rect x="379.3" y="684.17" width="135.3" height="2.06" fill="url(#h116)"/>
<linearGradient id="h117"><stop offset="0" stop-color="#d6f0e9"/><stop offset="0.08" stop-color="#c9ebe1"/><stop offset="0.16" stop-color="#cdede4"/><stop offset="0.24" stop-color="#d2efe8"/><stop offset="0.28" stop-color="#d7f0ea"/><stop offset="0.3" stop-color="#def3ef"/><stop offset="0.33" stop-color="#e7f6f4"/><stop offset="0.4" stop-color="#e5f6f3"/><stop offset="0.48" stop-color="#e6f6f3"/><stop offset="0.56" stop-color="#ebf8f6"/><stop offset="0.64" stop-color="#eaf8f6"/><stop offset="0.7" stop-color="#dcf2ed"/><stop offset="0.71" stop-color="#d7f0ea"/><stop offset="0.74" stop-color="#d8f1eb"/><stop offset="0.82" stop-color="#d8f1eb"/><stop offset="0.91" stop-color="#caebe2"/><stop offset="1" stop-color="#d6f0ea"/></linearGradient><rect x="379.3" y="686.18" width="135.3" height="2.06" fill="url(#h117)"/>
<linearGradient id="h118"><stop offset="0" stop-color="#cdede4"/><stop offset="0.08" stop-color="#caebe2"/><stop offset="0.16" stop-color="#ccece4"/><stop offset="0.24" stop-color="#c7eae0"/><stop offset="0.28" stop-color="#d3efe8"/><stop offset="0.3" stop-color="#e1f4f0"/><stop offset="0.33" stop-color="#e4f5f2"/><stop offset="0.4" stop-color="#e6f6f3"/><stop offset="0.48" stop-color="#e6f6f3"/><stop offset="0.56" stop-color="#e3f5f1"/><stop offset="0.64" stop-color="#e9f7f5"/><stop offset="0.7" stop-color="#ddf3ee"/><stop offset="0.71" stop-color="#d1eee7"/><stop offset="0.74" stop-color="#c9ebe1"/><stop offset="0.82" stop-color="#d0eee6"/><stop offset="0.91" stop-color="#c5e9de"/><stop offset="1" stop-color="#d3efe8"/></linearGradient><rect x="379.3" y="688.2" width="135.3" height="2.06" fill="url(#h118)"/>
<linearGradient id="h119"><stop offset="0" stop-color="#d4efe8"/><stop offset="0.08" stop-color="#d4efe9"/><stop offset="0.16" stop-color="#d2efe8"/><stop offset="0.24" stop-color="#d8f1eb"/><stop offset="0.28" stop-color="#d8f1eb"/><stop offset="0.3" stop-color="#daf2ec"/><stop offset="0.33" stop-color="#e8f7f4"/><stop offset="0.4" stop-color="#e5f6f3"/><stop offset="0.48" stop-color="#e8f7f4"/><stop offset="0.56" stop-color="#e3f5f2"/><stop offset="0.64" stop-color="#e8f7f5"/><stop offset="0.7" stop-color="#dbf2ed"/><stop offset="0.71" stop-color="#daf1ec"/><stop offset="0.74" stop-color="#ceede5"/><stop offset="0.82" stop-color="#cfede6"/><stop offset="0.91" stop-color="#cdede4"/><stop offset="1" stop-color="#d6f0ea"/></linearGradient><rect x="379.3" y="690.21" width="135.3" height="2.06" fill="url(#h119)"/>
<linearGradient id="h120"><stop offset="0" stop-color="#cdede5"/><stop offset="0.08" stop-color="#c6eadf"/><stop offset="0.16" stop-color="#cbece3"/><stop offset="0.24" stop-color="#c9ebe1"/><stop offset="0.28" stop-color="#d2eee7"/><stop offset="0.3" stop-color="#d9f1ec"/><stop offset="0.33" stop-color="#e7f7f4"/><stop offset="0.4" stop-color="#e5f6f3"/><stop offset="0.48" stop-color="#e8f7f4"/><stop offset="0.56" stop-color="#e6f6f3"/><stop offset="0.64" stop-color="#e5f6f3"/><stop offset="0.7" stop-color="#d9f1ec"/><stop offset="0.71" stop-color="#cfede6"/><stop offset="0.74" stop-color="#d1eee7"/><stop offset="0.82" stop-color="#d1eee7"/><stop offset="0.91" stop-color="#c4e9de"/><stop offset="1" stop-color="#d4efe9"/></linearGradient><rect x="379.3" y="692.22" width="135.3" height="2.06" fill="url(#h120)"/>
<linearGradient id="h121"><stop offset="0" stop-color="#d9f1eb"/><stop offset="0.08" stop-color="#d7f0ea"/><stop offset="0.16" stop-color="#dff3ef"/><stop offset="0.24" stop-color="#d6f0e9"/><stop offset="0.28" stop-color="#e0f4ef"/><stop offset="0.3" stop-color="#e6f6f3"/><stop offset="0.33" stop-color="#ebf8f6"/><stop offset="0.4" stop-color="#ecf8f7"/><stop offset="0.48" stop-color="#edf9f8"/><stop offset="0.56" stop-color="#edf9f8"/><stop offset="0.64" stop-color="#eef9f8"/><stop offset="0.7" stop-color="#e8f7f4"/><stop offset="0.71" stop-color="#e2f4f1"/><stop offset="0.74" stop-color="#dbf2ec"/><stop offset="0.82" stop-color="#d9f1eb"/><stop offset="0.91" stop-color="#def3ee"/><stop offset="1" stop-color="#daf1ec"/></linearGradient><rect x="379.3" y="694.24" width="135.3" height="2.06" fill="url(#h121)"/>
<linearGradient id="h122"><stop offset="0" stop-color="#d6f0ea"/><stop offset="0.08" stop-color="#d0eee6"/><stop offset="0.16" stop-color="#d8f1eb"/><stop offset="0.24" stop-color="#d8f1eb"/><stop offset="0.28" stop-color="#d5f0e9"/><stop offset="0.3" stop-color="#daf2ec"/><stop offset="0.33" stop-color="#e5f6f3"/><stop offset="0.4" stop-color="#e4f5f2"/><stop offset="0.48" stop-color="#e9f7f5"/><stop offset="0.56" stop-color="#e8f7f4"/><stop offset="0.64" stop-color="#e7f7f4"/><stop offset="0.7" stop-color="#e2f4f1"/><stop offset="0.71" stop-color="#d9f1ec"/><stop offset="0.74" stop-color="#ccece4"/><stop offset="0.82" stop-color="#ceede5"/><stop offset="0.91" stop-color="#cbece3"/><stop offset="1" stop-color="#cdede4"/></linearGradient><rect x="379.3" y="696.25" width="135.3" height="2.06" fill="url(#h122)"/>
<linearGradient id="h123"><stop offset="0" stop-color="#e2f5f1"/><stop offset="0.08" stop-color="#e4f5f2"/><stop offset="0.16" stop-color="#dbf2ed"/><stop offset="0.24" stop-color="#e3f5f2"/><stop offset="0.28" stop-color="#e8f7f4"/><stop offset="0.3" stop-color="#e3f5f1"/><stop offset="0.33" stop-color="#eef9f8"/><stop offset="0.4" stop-color="#eef9f8"/><stop offset="0.48" stop-color="#ecf8f7"/><stop offset="0.56" stop-color="#eef9f8"/><stop offset="0.64" stop-color="#eaf8f6"/><stop offset="0.7" stop-color="#e8f7f5"/><stop offset="0.71" stop-color="#e0f4f0"/><stop offset="0.74" stop-color="#e5f6f3"/><stop offset="0.82" stop-color="#e3f5f1"/><stop offset="0.91" stop-color="#d9f1ec"/><stop offset="1" stop-color="#dbf2ec"/></linearGradient><rect x="379.3" y="698.27" width="135.3" height="2.06" fill="url(#h123)"/>
<linearGradient id="h124"><stop offset="0" stop-color="#dff3ef"/><stop offset="0.08" stop-color="#e0f4f0"/><stop offset="0.16" stop-color="#def3ef"/><stop offset="0.24" stop-color="#d8f1eb"/><stop offset="0.28" stop-color="#e7f6f4"/><stop offset="0.3" stop-color="#eaf8f6"/><stop offset="0.33" stop-color="#ecf8f7"/><stop offset="0.4" stop-color="#edf9f8"/><stop offset="0.48" stop-color="#ecf8f7"/><stop offset="0.56" stop-color="#eaf7f5"/><stop offset="0.64" stop-color="#edf9f8"/><stop offset="0.7" stop-color="#eaf7f5"/><stop offset="0.71" stop-color="#dff3ef"/><stop offset="0.74" stop-color="#e1f4f0"/><stop offset="0.82" stop-color="#dbf2ec"/><stop offset="0.91" stop-color="#e0f4f0"/><stop offset="1" stop-color="#e1f4f0"/></linearGradient><rect x="379.3" y="700.28" width="135.3" height="2.06" fill="url(#h124)"/>
<linearGradient id="h125"><stop offset="0" stop-color="#d3efe8"/><stop offset="0.08" stop-color="#daf1ec"/><stop offset="0.16" stop-color="#d1eee7"/><stop offset="0.24" stop-color="#d6f0ea"/><stop offset="0.28" stop-color="#d5f0e9"/><stop offset="0.3" stop-color="#ddf3ee"/><stop offset="0.33" stop-color="#e5f6f2"/><stop offset="0.4" stop-color="#e6f6f3"/><stop offset="0.48" stop-color="#eaf7f5"/><stop offset="0.56" stop-color="#e4f5f2"/><stop offset="0.64" stop-color="#e3f5f2"/><stop offset="0.7" stop-color="#ddf3ee"/><stop offset="0.71" stop-color="#d9f1ec"/><stop offset="0.74" stop-color="#daf1ec"/><stop offset="0.82" stop-color="#cfede6"/><stop offset="0.91" stop-color="#d8f1eb"/><stop offset="1" stop-color="#d6f0ea"/></linearGradient><rect x="379.3" y="702.29" width="135.3" height="2.06" fill="url(#h125)"/>
<linearGradient id="h126"><stop offset="0" stop-color="#d6f0ea"/><stop offset="0.08" stop-color="#d2efe7"/><stop offset="0.16" stop-color="#d4efe9"/><stop offset="0.24" stop-color="#ddf3ee"/><stop offset="0.28" stop-color="#e1f4f0"/><stop offset="0.3" stop-color="#dff4ef"/><stop offset="0.33" stop-color="#eaf7f5"/><stop offset="0.4" stop-color="#eaf7f5"/><stop offset="0.48" stop-color="#e9f7f5"/><stop offset="0.56" stop-color="#ecf8f7"/><stop offset="0.64" stop-color="#e6f6f3"/><stop offset="0.7" stop-color="#e8f7f4"/><stop offset="0.71" stop-color="#def3ef"/><stop offset="0.74" stop-color="#d7f0ea"/><stop offset="0.82" stop-color="#d3efe8"/><stop offset="0.91" stop-color="#d9f1ec"/><stop offset="1" stop-color="#d6f0ea"/></linearGradient><rect x="379.3" y="704.31" width="135.3" height="2.06" fill="url(#h126)"/>
<linearGradient id="h127"><stop offset="0" stop-color="#cdece4"/><stop offset="0.08" stop-color="#d7f0ea"/><stop offset="0.16" stop-color="#d7f1eb"/><stop offset="0.24" stop-color="#ceede5"/><stop offset="0.28" stop-color="#dff3ef"/><stop offset="0.3" stop-color="#def3ef"/><stop offset="0.33" stop-color="#e7f6f4"/><stop offset="0.4" stop-color="#e5f5f2"/><stop offset="0.48" stop-color="#e9f7f5"/><stop offset="0.56" stop-color="#e7f6f4"/><stop offset="0.64" stop-color="#e5f6f3"/><stop offset="0.7" stop-color="#e1f4f0"/><stop offset="0.71" stop-color="#d7f0ea"/><stop offset="0.74" stop-color="#d7f0ea"/><stop offset="0.82" stop-color="#d8f1eb"/><stop offset="0.91" stop-color="#cfeee6"/><stop offset="1" stop-color="#d4efe8"/></linearGradient><rect x="379.3" y="706.32" width="135.3" height="2.06" fill="url(#h127)"/>
<linearGradient id="h128"><stop offset="0" stop-color="#d8f1eb"/><stop offset="0.08" stop-color="#d3efe8"/><stop offset="0.16" stop-color="#d0eee6"/><stop offset="0.24" stop-color="#d5f0e9"/><stop offset="0.28" stop-color="#d7f0ea"/><stop offset="0.3" stop-color="#dcf2ed"/><stop offset="0.33" stop-color="#ebf8f6"/><stop offset="0.4" stop-color="#e6f6f3"/><stop offset="0.48" stop-color="#e7f6f4"/><stop offset="0.56" stop-color="#e6f6f3"/><stop offset="0.64" stop-color="#ebf8f6"/><stop offset="0.7" stop-color="#e5f6f3"/><stop offset="0.71" stop-color="#ddf2ee"/><stop offset="0.74" stop-color="#dbf2ed"/><stop offset="0.82" stop-color="#dbf2ed"/><stop offset="0.91" stop-color="#d0eee6"/><stop offset="1" stop-color="#d3efe8"/></linearGradient><rect x="379.3" y="708.34" width="135.3" height="2.06" fill="url(#h128)"/>
<linearGradient id="h129"><stop offset="0" stop-color="#d6f0ea"/><stop offset="0.08" stop-color="#c6eae0"/><stop offset="0.16" stop-color="#cbece3"/><stop offset="0.24" stop-color="#d2efe7"/><stop offset="0.28" stop-color="#dbf2ec"/><stop offset="0.3" stop-color="#ddf3ee"/><stop offset="0.33" stop-color="#e3f5f1"/><stop offset="0.4" stop-color="#e3f5f1"/><stop offset="0.48" stop-color="#e2f4f1"/><stop offset="0.56" stop-color="#e5f6f3"/><stop offset="0.64" stop-color="#e4f5f2"/><stop offset="0.7" stop-color="#d9f1eb"/><stop offset="0.71" stop-color="#daf1ec"/><stop offset="0.74" stop-color="#d2efe8"/><stop offset="0.82" stop-color="#d4efe9"/><stop offset="0.91" stop-color="#d1eee7"/><stop offset="1" stop-color="#d3efe8"/></linearGradient><rect x="379.3" y="710.35" width="135.3" height="2.06" fill="url(#h129)"/>
<linearGradient id="h130"><stop offset="0" stop-color="#e0f4f0"/><stop offset="0.08" stop-color="#ddf3ee"/><stop offset="0.16" stop-color="#def3ef"/><stop offset="0.24" stop-color="#dcf2ed"/><stop offset="0.28" stop-color="#dcf2ee"/><stop offset="0.3" stop-color="#e7f6f4"/><stop offset="0.33" stop-color="#e9f7f5"/><stop offset="0.4" stop-color="#ecf8f7"/><stop offset="0.48" stop-color="#ebf8f6"/><stop offset="0.56" stop-color="#e6f6f3"/><stop offset="0.64" stop-color="#ecf8f7"/><stop offset="0.7" stop-color="#e2f5f1"/><stop offset="0.71" stop-color="#dcf2ed"/><stop offset="0.74" stop-color="#e0f4ef"/><stop offset="0.82" stop-color="#e1f4f0"/><stop offset="0.91" stop-color="#d3efe8"/><stop offset="1" stop-color="#e1f4f0"/></linearGradient><rect x="379.3" y="712.36" width="135.3" height="2.06" fill="url(#h130)"/>
<linearGradient id="h131"><stop offset="0" stop-color="#d7f0ea"/><stop offset="0.08" stop-color="#dbf2ec"/><stop offset="0.16" stop-color="#ddf3ee"/><stop offset="0.24" stop-color="#e2f4f1"/><stop offset="0.28" stop-color="#e4f5f2"/><stop offset="0.3" stop-color="#e3f5f1"/><stop offset="0.33" stop-color="#eaf7f5"/><stop offset="0.4" stop-color="#e9f7f5"/><stop offset="0.48" stop-color="#e6f6f3"/><stop offset="0.56" stop-color="#edf8f7"/><stop offset="0.64" stop-color="#e8f7f5"/><stop offset="0.7" stop-color="#e8f7f4"/><stop offset="0.71" stop-color="#e1f4f0"/><stop offset="0.74" stop-color="#e0f4f0"/><stop offset="0.82" stop-color="#dcf2ee"/><stop offset="0.91" stop-color="#d7f0ea"/><stop offset="1" stop-color="#d8f1eb"/></linearGradient><rect x="379.3" y="714.38" width="135.3" height="2.06" fill="url(#h131)"/>
<linearGradient id="h132"><stop offset="0" stop-color="#d6f0ea"/><stop offset="0.08" stop-color="#d2eee7"/><stop offset="0.16" stop-color="#d7f0ea"/><stop offset="0.24" stop-color="#d5f0e9"/><stop offset="0.28" stop-color="#d6f0ea"/><stop offset="0.3" stop-color="#ddf2ee"/><stop offset="0.33" stop-color="#e5f6f3"/><stop offset="0.4" stop-color="#eaf7f5"/><stop offset="0.48" stop-color="#e4f5f2"/><stop offset="0.56" stop-color="#e4f5f2"/><stop offset="0.64" stop-color="#eaf7f6"/><stop offset="0.7" stop-color="#dff3ef"/><stop offset="0.71" stop-color="#daf2ec"/><stop offset="0.74" stop-color="#dbf2ed"/><stop offset="0.82" stop-color="#dcf2ed"/><stop offset="0.91" stop-color="#dbf2ed"/><stop offset="1" stop-color="#dbf2ed"/></linearGradient><rect x="379.3" y="716.39" width="135.3" height="2.06" fill="url(#h132)"/>
<linearGradient id="h133"><stop offset="0" stop-color="#def3ef"/><stop offset="0.08" stop-color="#dcf2ed"/><stop offset="0.16" stop-color="#d9f1ec"/><stop offset="0.24" stop-color="#daf1ec"/><stop offset="0.28" stop-color="#dcf2ed"/><stop offset="0.3" stop-color="#e4f5f2"/><stop offset="0.33" stop-color="#eef9f8"/><stop offset="0.4" stop-color="#ecf8f7"/><stop offset="0.48" stop-color="#edf9f7"/><stop offset="0.56" stop-color="#e7f6f4"/><stop offset="0.64" stop-color="#ebf8f6"/><stop offset="0.7" stop-color="#e3f5f1"/><stop offset="0.71" stop-color="#e7f6f4"/><stop offset="0.74" stop-color="#e4f5f2"/><stop offset="0.82" stop-color="#d7f0ea"/><stop offset="0.91" stop-color="#def3ef"/><stop offset="1" stop-color="#d9f1eb"/></linearGradient><rect x="379.3" y="718.41" width="135.3" height="2.06" fill="url(#h133)"/>
<linearGradient id="h134"><stop offset="0" stop-color="#dbf2ed"/><stop offset="0.08" stop-color="#daf2ec"/><stop offset="0.16" stop-color="#dcf2ee"/><stop offset="0.24" stop-color="#d9f1eb"/><stop offset="0.28" stop-color="#e6f6f4"/><stop offset="0.3" stop-color="#e4f5f2"/><stop offset="0.33" stop-color="#e7f7f4"/><stop offset="0.4" stop-color="#eaf7f6"/><stop offset="0.48" stop-color="#e9f7f5"/><stop offset="0.56" stop-color="#eaf8f6"/><stop offset="0.64" stop-color="#e8f7f5"/><stop offset="0.7" stop-color="#e4f5f2"/><stop offset="0.71" stop-color="#e4f5f2"/><stop offset="0.74" stop-color="#e3f5f1"/><stop offset="0.82" stop-color="#daf1ec"/><stop offset="0.91" stop-color="#e1f4f0"/><stop offset="1" stop-color="#dcf2ed"/></linearGradient><rect x="379.3" y="720.42" width="135.3" height="2.06" fill="url(#h134)"/>
<linearGradient id="h135"><stop offset="0" stop-color="#dff3ef"/><stop offset="0.08" stop-color="#dff3ef"/><stop offset="0.16" stop-color="#e2f4f1"/><stop offset="0.24" stop-color="#dff4ef"/><stop offset="0.28" stop-color="#e4f5f2"/><stop offset="0.3" stop-color="#e6f6f3"/><stop offset="0.33" stop-color="#e9f7f5"/><stop offset="0.4" stop-color="#ecf8f7"/><stop offset="0.48" stop-color="#eaf7f5"/><stop offset="0.56" stop-color="#eef9f8"/><stop offset="0.64" stop-color="#e9f7f5"/><stop offset="0.7" stop-color="#e9f7f5"/><stop offset="0.71" stop-color="#e8f7f4"/><stop offset="0.74" stop-color="#daf1ec"/><stop offset="0.82" stop-color="#dcf2ed"/><stop offset="0.91" stop-color="#def3ef"/><stop offset="1" stop-color="#e4f5f2"/></linearGradient><rect x="379.3" y="722.44" width="135.3" height="2.06" fill="url(#h135)"/>
<linearGradient id="h136"><stop offset="0" stop-color="#dcf2ed"/><stop offset="0.08" stop-color="#e0f4ef"/><stop offset="0.16" stop-color="#e0f4f0"/><stop offset="0.24" stop-color="#d2efe8"/><stop offset="0.28" stop-color="#dff3ef"/><stop offset="0.3" stop-color="#e3f5f2"/><stop offset="0.33" stop-color="#e7f7f4"/><stop offset="0.4" stop-color="#e5f6f3"/><stop offset="0.48" stop-color="#e6f6f3"/><stop offset="0.56" stop-color="#e8f7f5"/><stop offset="0.64" stop-color="#e8f7f4"/><stop offset="0.7" stop-color="#def3ef"/><stop offset="0.71" stop-color="#ddf3ee"/><stop offset="0.74" stop-color="#d6f0ea"/><stop offset="0.82" stop-color="#e0f4ef"/><stop offset="0.91" stop-color="#ddf3ee"/><stop offset="1" stop-color="#daf1ec"/></linearGradient><rect x="379.3" y="724.45" width="135.3" height="2.06" fill="url(#h136)"/>
<linearGradient id="h137"><stop offset="0" stop-color="#ddf3ee"/><stop offset="0.08" stop-color="#d8f1eb"/><stop offset="0.16" stop-color="#dbf2ed"/><stop offset="0.24" stop-color="#daf1ec"/><stop offset="0.28" stop-color="#ddf3ee"/><stop offset="0.3" stop-color="#e8f7f4"/><stop offset="0.33" stop-color="#e9f7f5"/><stop offset="0.4" stop-color="#e6f6f3"/><stop offset="0.48" stop-color="#ebf8f6"/><stop offset="0.56" stop-color="#eaf7f6"/><stop offset="0.64" stop-color="#e6f6f3"/><stop offset="0.7" stop-color="#e1f4f1"/><stop offset="0.71" stop-color="#daf1ec"/><stop offset="0.74" stop-color="#ddf3ee"/><stop offset="0.82" stop-color="#dff4ef"/><stop offset="0.91" stop-color="#dcf2ee"/><stop offset="1" stop-color="#dff3ef"/></linearGradient><rect x="379.3" y="726.46" width="135.3" height="2.06" fill="url(#h137)"/>
<linearGradient id="h138"><stop offset="0" stop-color="#d3efe8"/><stop offset="0.08" stop-color="#dbf2ed"/><stop offset="0.16" stop-color="#def3ef"/><stop offset="0.24" stop-color="#d8f1eb"/><stop offset="0.28" stop-color="#dcf2ed"/><stop offset="0.3" stop-color="#e4f5f2"/><stop offset="0.33" stop-color="#e5f5f2"/><stop offset="0.4" stop-color="#e6f6f3"/><stop offset="0.48" stop-color="#e6f6f3"/><stop offset="0.56" stop-color="#e5f6f2"/><stop offset="0.64" stop-color="#e9f7f5"/><stop offset="0.7" stop-color="#def3ee"/><stop offset="0.71" stop-color="#dcf2ed"/><stop offset="0.74" stop-color="#d3efe8"/><stop offset="0.82" stop-color="#dbf2ec"/><stop offset="0.91" stop-color="#e0f4f0"/><stop offset="1" stop-color="#d5efe9"/></linearGradient><rect x="379.3" y="728.48" width="135.3" height="2.06" fill="url(#h138)"/>
<linearGradient id="h139"><stop offset="0" stop-color="#e8f7f4"/><stop offset="0.08" stop-color="#dff4ef"/><stop offset="0.16" stop-color="#e7f6f4"/><stop offset="0.24" stop-color="#eaf8f6"/><stop offset="0.28" stop-color="#e4f5f2"/><stop offset="0.3" stop-color="#eef9f8"/><stop offset="0.33" stop-color="#ebf8f6"/><stop offset="0.4" stop-color="#eef9f8"/><stop offset="0.48" stop-color="#ebf8f6"/><stop offset="0.56" stop-color="#eef9f8"/><stop offset="0.64" stop-color="#eef9f8"/><stop offset="0.7" stop-color="#ecf8f7"/><stop offset="0.71" stop-color="#e2f5f1"/><stop offset="0.74" stop-color="#eaf7f5"/><stop offset="0.82" stop-color="#e3f5f1"/><stop offset="0.91" stop-color="#e8f7f5"/><stop offset="1" stop-color="#e0f4f0"/></linearGradient><rect x="379.3" y="730.49" width="135.3" height="2.06" fill="url(#h139)"/>
<linearGradient id="h140"><stop offset="0" stop-color="#d0eee6"/><stop offset="0.08" stop-color="#d4efe8"/><stop offset="0.16" stop-color="#d4efe9"/><stop offset="0.24" stop-color="#daf1ec"/><stop offset="0.28" stop-color="#def3ee"/><stop offset="0.3" stop-color="#dcf2ee"/><stop offset="0.33" stop-color="#e8f7f4"/><stop offset="0.4" stop-color="#e4f5f2"/><stop offset="0.48" stop-color="#e7f6f4"/><stop offset="0.56" stop-color="#e3f5f2"/><stop offset="0.64" stop-color="#e8f7f5"/><stop offset="0.7" stop-color="#e4f5f2"/><stop offset="0.71" stop-color="#d7f0ea"/><stop offset="0.74" stop-color="#dbf2ed"/><stop offset="0.82" stop-color="#d6f0ea"/><stop offset="0.91" stop-color="#ddf3ee"/><stop offset="1" stop-color="#d7f0ea"/></linearGradient><rect x="379.3" y="732.51" width="135.3" height="2.06" fill="url(#h140)"/>
<linearGradient id="h141"><stop offset="0" stop-color="#def3ef"/><stop offset="0.08" stop-color="#e2f5f1"/><stop offset="0.16" stop-color="#daf1ec"/><stop offset="0.24" stop-color="#e3f5f1"/><stop offset="0.28" stop-color="#e1f4f0"/><stop offset="0.3" stop-color="#e5f6f3"/><stop offset="0.33" stop-color="#e7f6f4"/><stop offset="0.4" stop-color="#e9f7f5"/><stop offset="0.48" stop-color="#e7f6f4"/><stop offset="0.56" stop-color="#e8f7f4"/><stop offset="0.64" stop-color="#e9f7f5"/><stop offset="0.7" stop-color="#dff3ef"/><stop offset="0.71" stop-color="#ddf3ee"/><stop offset="0.74" stop-color="#d9f1ec"/><stop offset="0.82" stop-color="#e3f5f2"/><stop offset="0.91" stop-color="#e3f5f2"/><stop offset="1" stop-color="#e1f4f1"/></linearGradient><rect x="379.3" y="734.52" width="135.3" height="2.06" fill="url(#h141)"/>
<linearGradient id="h142"><stop offset="0" stop-color="#d8f1eb"/><stop offset="0.08" stop-color="#e1f4f0"/><stop offset="0.16" stop-color="#e2f4f1"/><stop offset="0.24" stop-color="#def3ee"/><stop offset="0.28" stop-color="#dcf2ed"/><stop offset="0.3" stop-color="#e9f7f5"/><stop offset="0.33" stop-color="#eaf7f6"/><stop offset="0.4" stop-color="#e6f6f3"/><stop offset="0.48" stop-color="#e9f7f5"/><stop offset="0.56" stop-color="#ebf8f6"/><stop offset="0.64" stop-color="#e8f7f4"/><stop offset="0.7" stop-color="#e6f6f3"/><stop offset="0.71" stop-color="#def3ee"/><stop offset="0.74" stop-color="#e4f5f2"/><stop offset="0.82" stop-color="#def3ee"/><stop offset="0.91" stop-color="#d8f1eb"/><stop offset="1" stop-color="#dcf2ed"/></linearGradient><rect x="379.3" y="736.53" width="135.3" height="2.06" fill="url(#h142)"/>
<linearGradient id="h143"><stop offset="0" stop-color="#def3ef"/><stop offset="0.08" stop-color="#e1f4f1"/><stop offset="0.16" stop-color="#e4f5f2"/><stop offset="0.24" stop-color="#e5f6f3"/><stop offset="0.28" stop-color="#e2f4f1"/><stop offset="0.3" stop-color="#eaf8f6"/><stop offset="0.33" stop-color="#e8f7f5"/><stop offset="0.4" stop-color="#e8f7f5"/><stop offset="0.48" stop-color="#ebf8f6"/><stop offset="0.56" stop-color="#edf9f7"/><stop offset="0.64" stop-color="#e7f6f4"/><stop offset="0.7" stop-color="#e4f5f2"/><stop offset="0.71" stop-color="#e8f7f5"/><stop offset="0.74" stop-color="#e6f6f3"/><stop offset="0.82" stop-color="#e5f6f3"/><stop offset="0.91" stop-color="#e0f4f0"/><stop offset="1" stop-color="#def3ee"/></linearGradient><rect x="379.3" y="738.55" width="135.3" height="2.06" fill="url(#h143)"/>
<linearGradient id="h144"><stop offset="0" stop-color="#d7f0ea"/><stop offset="0.08" stop-color="#d8f1eb"/><stop offset="0.16" stop-color="#e2f5f1"/><stop offset="0.24" stop-color="#dbf2ed"/><stop offset="0.28" stop-color="#e5f6f3"/><stop offset="0.3" stop-color="#e0f4f0"/><stop offset="0.33" stop-color="#e8f7f5"/><stop offset="0.4" stop-color="#e8f7f4"/><stop offset="0.48" stop-color="#e9f7f5"/><stop offset="0.56" stop-color="#e7f6f4"/><stop offset="0.64" stop-color="#e9f7f5"/><stop offset="0.7" stop-color="#dff3ef"/><stop offset="0.71" stop-color="#e3f5f1"/><stop offset="0.74" stop-color="#dcf2ed"/><stop offset="0.82" stop-color="#dff4ef"/><stop offset="0.91" stop-color="#d5f0e9"/><stop offset="1" stop-color="#daf1ec"/></linearGradient><rect x="379.3" y="740.56" width="135.3" height="2.06" fill="url(#h144)"/>
<linearGradient id="h145"><stop offset="0" stop-color="#eaf7f5"/><stop offset="0.08" stop-color="#e4f5f2"/><stop offset="0.16" stop-color="#edf9f7"/><stop offset="0.24" stop-color="#ecf8f7"/><stop offset="0.28" stop-color="#e8f7f4"/><stop offset="0.3" stop-color="#e8f7f4"/><stop offset="0.33" stop-color="#eef9f8"/><stop offset="0.4" stop-color="#eef9f8"/><stop offset="0.48" stop-color="#eef9f8"/><stop offset="0.56" stop-color="#edf9f7"/><stop offset="0.64" stop-color="#eef9f8"/><stop offset="0.7" stop-color="#eef9f8"/><stop offset="0.71" stop-color="#eef9f8"/><stop offset="0.74" stop-color="#eaf8f6"/><stop offset="0.82" stop-color="#e4f5f2"/><stop offset="0.91" stop-color="#e4f5f2"/><stop offset="1" stop-color="#e2f4f1"/></linearGradient><rect x="379.3" y="742.58" width="135.3" height="2.06" fill="url(#h145)"/>
<linearGradient id="h146"><stop offset="0" stop-color="#e3f5f2"/><stop offset="0.08" stop-color="#dcf2ed"/><stop offset="0.16" stop-color="#e2f4f1"/><stop offset="0.24" stop-color="#dff3ef"/><stop offset="0.28" stop-color="#dcf2ed"/><stop offset="0.3" stop-color="#e5f6f3"/><stop offset="0.33" stop-color="#e9f7f5"/><stop offset="0.4" stop-color="#e6f6f3"/><stop offset="0.48" stop-color="#e9f7f5"/><stop offset="0.56" stop-color="#eaf8f6"/><stop offset="0.64" stop-color="#e8f7f4"/><stop offset="0.7" stop-color="#e8f7f5"/><stop offset="0.71" stop-color="#e1f4f0"/><stop offset="0.74" stop-color="#e1f4f1"/><stop offset="0.82" stop-color="#dbf2ed"/><stop offset="0.91" stop-color="#ddf3ee"/><stop offset="1" stop-color="#d7f0eb"/></linearGradient><rect x="379.3" y="744.59" width="135.3" height="2.06" fill="url(#h146)"/>
<linearGradient id="h147"><stop offset="0" stop-color="#e2f5f1"/><stop offset="0.08" stop-color="#e1f4f0"/><stop offset="0.16" stop-color="#dbf2ed"/><stop offset="0.24" stop-color="#dcf2ed"/><stop offset="0.28" stop-color="#e5f6f3"/><stop offset="0.3" stop-color="#e8f7f5"/><stop offset="0.33" stop-color="#ebf8f6"/><stop offset="0.4" stop-color="#eaf8f6"/><stop offset="0.48" stop-color="#eaf7f6"/><stop offset="0.56" stop-color="#ebf8f6"/><stop offset="0.64" stop-color="#e7f6f4"/><stop offset="0.7" stop-color="#e2f4f1"/><stop offset="0.71" stop-color="#dff3ef"/><stop offset="0.74" stop-color="#e2f4f1"/><stop offset="0.82" stop-color="#e5f6f3"/><stop offset="0.91" stop-color="#e3f5f1"/><stop offset="1" stop-color="#dbf2ed"/></linearGradient><rect x="379.3" y="746.6" width="135.3" height="2.06" fill="url(#h147)"/>
<linearGradient id="h148"><stop offset="0" stop-color="#e6f6f3"/><stop offset="0.08" stop-color="#e2f4f1"/><stop offset="0.16" stop-color="#e9f7f5"/><stop offset="0.24" stop-color="#e2f4f1"/><stop offset="0.28" stop-color="#eef9f8"/><stop offset="0.3" stop-color="#eef9f8"/><stop offset="0.33" stop-color="#edf9f8"/><stop offset="0.4" stop-color="#eef9f8"/><stop offset="0.48" stop-color="#eaf8f6"/><stop offset="0.56" stop-color="#edf8f7"/><stop offset="0.64" stop-color="#ecf8f7"/><stop offset="0.7" stop-color="#eaf8f6"/><stop offset="0.71" stop-color="#e9f7f5"/><stop offset="0.74" stop-color="#e4f5f2"/><stop offset="0.82" stop-color="#edf9f7"/><stop offset="0.91" stop-color="#ebf8f6"/><stop offset="1" stop-color="#ecf8f7"/></linearGradient><rect x="379.3" y="748.62" width="135.3" height="2.06" fill="url(#h148)"/>
<linearGradient id="h149"><stop offset="0" stop-color="#e1f4f0"/><stop offset="0.08" stop-color="#dff3ef"/><stop offset="0.16" stop-color="#ddf3ee"/><stop offset="0.24" stop-color="#e0f4f0"/><stop offset="0.28" stop-color="#e2f4f1"/><stop offset="0.3" stop-color="#ebf8f6"/><stop offset="0.33" stop-color="#edf9f7"/><stop offset="0.4" stop-color="#edf9f8"/><stop offset="0.48" stop-color="#edf9f8"/><stop offset="0.56" stop-color="#e7f6f4"/><stop offset="0.64" stop-color="#e7f7f4"/><stop offset="0.7" stop-color="#e8f7f4"/><stop offset="0.71" stop-color="#e8f7f5"/><stop offset="0.74" stop-color="#daf2ec"/><stop offset="0.82" stop-color="#e3f5f1"/><stop offset="0.91" stop-color="#ddf3ee"/><stop offset="1" stop-color="#daf1ec"/></linearGradient><rect x="379.3" y="750.63" width="135.3" height="2.06" fill="url(#h149)"/>
<linearGradient id="h150"><stop offset="0" stop-color="#ebf8f6"/><stop offset="0.08" stop-color="#eef9f8"/><stop offset="0.16" stop-color="#e7f6f4"/><stop offset="0.24" stop-color="#ebf8f6"/><stop offset="0.28" stop-color="#e5f6f3"/><stop offset="0.3" stop-color="#ecf8f7"/><stop offset="0.33" stop-color="#eef9f8"/><stop offset="0.4" stop-color="#eef9f8"/><stop offset="0.48" stop-color="#eef9f8"/><stop offset="0.56" stop-color="#ecf8f7"/><stop offset="0.64" stop-color="#eef9f8"/><stop offset="0.7" stop-color="#e8f7f4"/><stop offset="0.71" stop-color="#eef9f8"/><stop offset="0.74" stop-color="#eef9f8"/><stop offset="0.82" stop-color="#e2f5f1"/><stop offset="0.91" stop-color="#eaf7f5"/><stop offset="1" stop-color="#e7f7f4"/></linearGradient><rect x="379.3" y="752.65" width="135.3" height="2.06" fill="url(#h150)"/>
<linearGradient id="h151"><stop offset="0" stop-color="#e9f7f5"/><stop offset="0.08" stop-color="#e1f4f0"/><stop offset="0.16" stop-color="#e9f7f5"/><stop offset="0.24" stop-color="#ebf8f6"/><stop offset="0.28" stop-color="#e2f5f1"/><stop offset="0.3" stop-color="#e6f6f3"/><stop offset="0.33" stop-color="#eef9f8"/><stop offset="0.4" stop-color="#eef9f8"/><stop offset="0.48" stop-color="#eaf7f5"/><stop offset="0.56" stop-color="#edf8f7"/><stop offset="0.64" stop-color="#edf8f7"/><stop offset="0.7" stop-color="#e7f6f4"/><stop offset="0.71" stop-color="#e7f6f4"/><stop offset="0.74" stop-color="#dff3ef"/><stop offset="0.82" stop-color="#e8f7f4"/><stop offset="0.91" stop-color="#e6f6f4"/><stop offset="1" stop-color="#e5f5f2"/></linearGradient><rect x="379.3" y="754.66" width="135.3" height="2.06" fill="url(#h151)"/>
<linearGradient id="h152"><stop offset="0" stop-color="#e7f6f4"/><stop offset="0.08" stop-color="#edf9f7"/><stop offset="0.16" stop-color="#e6f6f3"/><stop offset="0.24" stop-color="#e4f5f2"/><stop offset="0.28" stop-color="#eaf7f6"/><stop offset="0.3" stop-color="#ecf8f7"/><stop offset="0.33" stop-color="#eef9f8"/><stop offset="0.4" stop-color="#eef9f8"/><stop offset="0.48" stop-color="#eef9f8"/><stop offset="0.56" stop-color="#ecf8f7"/><stop offset="0.64" stop-color="#ebf8f6"/><stop offset="0.7" stop-color="#e6f6f3"/><stop offset="0.71" stop-color="#edf9f7"/><stop offset="0.74" stop-color="#e0f4f0"/><stop offset="0.82" stop-color="#dff4ef"/><stop offset="0.91" stop-color="#eaf8f6"/><stop offset="1" stop-color="#e4f5f2"/></linearGradient><rect x="379.3" y="756.67" width="135.3" height="2.06" fill="url(#h152)"/>
<linearGradient id="h153"><stop offset="0" stop-color="#dff3ef"/><stop offset="0.08" stop-color="#e5f6f3"/><stop offset="0.16" stop-color="#dcf2ed"/><stop offset="0.24" stop-color="#e3f5f2"/><stop offset="0.28" stop-color="#e4f5f2"/><stop offset="0.3" stop-color="#e7f6f4"/><stop offset="0.33" stop-color="#e8f7f4"/><stop offset="0.4" stop-color="#ecf8f7"/><stop offset="0.48" stop-color="#edf9f7"/><stop offset="0.56" stop-color="#ebf8f6"/><stop offset="0.64" stop-color="#e8f7f4"/><stop offset="0.7" stop-color="#e4f5f2"/><stop offset="0.71" stop-color="#ebf8f6"/><stop offset="0.74" stop-color="#e6f6f3"/><stop offset="0.82" stop-color="#e8f7f4"/><stop offset="0.91" stop-color="#e1f4f0"/><stop offset="1" stop-color="#e0f4f0"/></linearGradient><rect x="379.3" y="758.69" width="135.3" height="2.06" fill="url(#h153)"/>
<linearGradient id="h154"><stop offset="0" stop-color="#dcf2ee"/><stop offset="0.08" stop-color="#d2eee7"/><stop offset="0.16" stop-color="#dbf2ed"/><stop offset="0.24" stop-color="#dcf2ed"/><stop offset="0.28" stop-color="#d7f0ea"/><stop offset="0.3" stop-color="#dff3ef"/><stop offset="0.33" stop-color="#e5f6f3"/><stop offset="0.4" stop-color="#e7f6f4"/><stop offset="0.48" stop-color="#e9f7f5"/><stop offset="0.56" stop-color="#e3f5f2"/><stop offset="0.64" stop-color="#e3f5f1"/><stop offset="0.7" stop-color="#e6f6f3"/><stop offset="0.71" stop-color="#dcf2ed"/><stop offset="0.74" stop-color="#dcf2ed"/><stop offset="0.82" stop-color="#ddf3ee"/><stop offset="0.91" stop-color="#d9f1ec"/><stop offset="1" stop-color="#dbf2ec"/></linearGradient><rect x="379.3" y="760.7" width="135.3" height="2.06" fill="url(#h154)"/>
<linearGradient id="h155"><stop offset="0" stop-color="#e4f5f2"/><stop offset="0.08" stop-color="#e5f5f2"/><stop offset="0.16" stop-color="#e2f5f1"/><stop offset="0.24" stop-color="#dcf2ed"/><stop offset="0.28" stop-color="#e6f6f3"/><stop offset="0.3" stop-color="#e5f6f3"/><stop offset="0.33" stop-color="#edf9f8"/><stop offset="0.4" stop-color="#ecf8f7"/><stop offset="0.48" stop-color="#ecf8f7"/><stop offset="0.56" stop-color="#edf9f7"/><stop offset="0.64" stop-color="#ecf8f7"/><stop offset="0.7" stop-color="#ecf8f7"/><stop offset="0.71" stop-color="#e6f6f3"/><stop offset="0.74" stop-color="#e0f4f0"/><stop offset="0.82" stop-color="#def3ef"/><stop offset="0.91" stop-color="#ddf2ee"/><stop offset="1" stop-color="#ddf3ee"/></linearGradient><rect x="379.3" y="762.72" width="135.3" height="2.06" fill="url(#h155)"/>
<linearGradient id="h156"><stop offset="0" stop-color="#dff4ef"/><stop offset="0.08" stop-color="#ecf8f7"/><stop offset="0.16" stop-color="#eaf8f6"/><stop offset="0.24" stop-color="#e1f4f0"/><stop offset="0.28" stop-color="#eaf8f6"/><stop offset="0.3" stop-color="#ecf8f7"/><stop offset="0.33" stop-color="#eef9f8"/><stop offset="0.4" stop-color="#ebf8f6"/><stop offset="0.48" stop-color="#eef9f8"/><stop offset="0.56" stop-color="#eef9f8"/><stop offset="0.64" stop-color="#eef9f8"/><stop offset="0.7" stop-color="#e7f6f4"/><stop offset="0.71" stop-color="#e4f5f2"/><stop offset="0.74" stop-color="#e7f7f4"/><stop offset="0.82" stop-color="#dff3ef"/><stop offset="0.91" stop-color="#ebf8f6"/><stop offset="1" stop-color="#e4f5f2"/></linearGradient><rect x="379.3" y="764.73" width="135.3" height="2.06" fill="url(#h156)"/>
<linearGradient id="h157"><stop offset="0" stop-color="#d3efe8"/><stop offset="0.08" stop-color="#d8f1eb"/><stop offset="0.16" stop-color="#d3efe8"/><stop offset="0.24" stop-color="#d4efe8"/><stop offset="0.28" stop-color="#dff3ef"/><stop offset="0.3" stop-color="#e2f4f1"/><stop offset="0.33" stop-color="#e1f4f0"/><stop offset="0.4" stop-color="#e1f4f0"/><stop offset="0.48" stop-color="#e6f6f3"/><stop offset="0.56" stop-color="#e2f5f1"/><stop offset="0.64" stop-color="#e7f6f4"/><stop offset="0.7" stop-color="#dff3ef"/><stop offset="0.71" stop-color="#d7f0eb"/><stop offset="0.74" stop-color="#d9f1ec"/><stop offset="0.82" stop-color="#d2efe7"/><stop offset="0.91" stop-color="#d7f0ea"/><stop offset="1" stop-color="#d3efe8"/></linearGradient><rect x="379.3" y="766.74" width="135.3" height="2.06" fill="url(#h157)"/>
<linearGradient id="h158"><stop offset="0" stop-color="#e9f7f5"/><stop offset="0.08" stop-color="#e0f4f0"/><stop offset="0.16" stop-color="#e2f4f1"/><stop offset="0.24" stop-color="#e5f5f2"/><stop offset="0.28" stop-color="#e4f5f2"/><stop offset="0.3" stop-color="#e9f7f5"/><stop offset="0.33" stop-color="#eaf7f6"/><stop offset="0.4" stop-color="#ebf8f6"/><stop offset="0.48" stop-color="#e9f7f5"/><stop offset="0.56" stop-color="#ecf8f7"/><stop offset="0.64" stop-color="#ecf8f7"/><stop offset="0.7" stop-color="#edf9f7"/><stop offset="0.71" stop-color="#e1f4f0"/><stop offset="0.74" stop-color="#e8f7f4"/><stop offset="0.82" stop-color="#dff3ef"/><stop offset="0.91" stop-color="#e3f5f2"/><stop offset="1" stop-color="#e9f7f5"/></linearGradient><rect x="379.3" y="768.76" width="135.3" height="2.06" fill="url(#h158)"/>
<linearGradient id="h159"><stop offset="0" stop-color="#e1f4f0"/><stop offset="0.08" stop-color="#d7f0ea"/><stop offset="0.16" stop-color="#d8f1eb"/><stop offset="0.24" stop-color="#e0f4f0"/><stop offset="0.28" stop-color="#e1f4f0"/><stop offset="0.3" stop-color="#e0f4ef"/><stop offset="0.33" stop-color="#e9f7f5"/><stop offset="0.4" stop-color="#e8f7f4"/><stop offset="0.48" stop-color="#e6f6f3"/><stop offset="0.56" stop-color="#e9f7f5"/><stop offset="0.64" stop-color="#e9f7f5"/><stop offset="0.7" stop-color="#e5f5f2"/><stop offset="0.71" stop-color="#e3f5f1"/><stop offset="0.74" stop-color="#e3f5f2"/><stop offset="0.82" stop-color="#d6f0ea"/><stop offset="0.91" stop-color="#d9f1ec"/><stop offset="1" stop-color="#dff3ef"/></linearGradient><rect x="379.3" y="770.77" width="135.3" height="2.06" fill="url(#h159)"/>
<linearGradient id="h160"><stop offset="0" stop-color="#e1f4f0"/><stop offset="0.08" stop-color="#e3f5f1"/><stop offset="0.16" stop-color="#dcf2ee"/><stop offset="0.24" stop-color="#d6f0ea"/><stop offset="0.28" stop-color="#e5f6f3"/><stop offset="0.3" stop-color="#e1f4f0"/><stop offset="0.33" stop-color="#e8f7f4"/><stop offset="0.4" stop-color="#e6f6f3"/><stop offset="0.48" stop-color="#e5f5f2"/><stop offset="0.56" stop-color="#e8f7f4"/><stop offset="0.64" stop-color="#e4f5f2"/><stop offset="0.7" stop-color="#e1f4f0"/><stop offset="0.71" stop-color="#e2f4f1"/><stop offset="0.74" stop-color="#d8f1eb"/><stop offset="0.82" stop-color="#d6f0ea"/><stop offset="0.91" stop-color="#d9f1ec"/><stop offset="1" stop-color="#dbf2ed"/></linearGradient><rect x="379.3" y="772.79" width="135.3" height="2.06" fill="url(#h160)"/>
<rect x="379.3" y="493.2" width="135.3" height="51.5" fill="none" stroke="#333" stroke-width="1"/>
<rect x="366.8" y="493.2" width="10.6" height="51.5" rx="0.8" fill="#faaaaa"/>
<text x="375.7" y="518.95" font-size="9.4" fill="#555" text-anchor="middle" transform="rotate(-90 375.7 518.95)">cluster 1</text>
<text x="363.6" y="521.45" font-size="7.1" fill="#111" text-anchor="middle" transform="rotate(-90 363.6 521.45)">n= 1690</text>
<rect x="379.3" y="550.5" width="135.3" height="103.6" fill="none" stroke="#333" stroke-width="1"/>
<rect x="366.8" y="550.5" width="10.6" height="103.6" rx="0.8" fill="#cde69b"/>
<text x="375.7" y="602.3" font-size="9.4" fill="#555" text-anchor="middle" transform="rotate(-90 375.7 602.3)">cluster 2</text>
<text x="363.6" y="604.8" font-size="7.1" fill="#111" text-anchor="middle" transform="rotate(-90 363.6 604.8)">n= 3418</text>
<rect x="379.3" y="660.1" width="135.3" height="114.7" fill="none" stroke="#333" stroke-width="1"/>
<rect x="366.8" y="660.1" width="10.6" height="114.7" rx="0.8" fill="#a6e4ec"/>
<text x="375.7" y="717.45" font-size="9.4" fill="#555" text-anchor="middle" transform="rotate(-90 375.7 717.45)">cluster 3</text>
<text x="363.6" y="719.95" font-size="7.1" fill="#111" text-anchor="middle" transform="rotate(-90 363.6 719.95)">n= 3789</text>
<linearGradient id="gcb"><stop offset="0" stop-color="#f0f9fa"/><stop offset="0.3" stop-color="#c0e6da"/><stop offset="0.55" stop-color="#6cc39e"/><stop offset="0.8" stop-color="#2a8c55"/><stop offset="1" stop-color="#0a5528"/></linearGradient>
<rect x="417.2" y="779.3" width="57.3" height="8.4" fill="url(#gcb)" stroke="#666" stroke-width="0.6"/>
<line x1="417.2" y1="779.3" x2="417.2" y2="790.2" stroke="#333" stroke-width="0.9"/>
<line x1="474.5" y1="779.3" x2="474.5" y2="790.2" stroke="#333" stroke-width="0.9"/>
<line x1="417.2" y1="787.7" x2="474.5" y2="787.7" stroke="#333" stroke-width="0.9"/>
<text x="417.2" y="797.4" font-size="8.2" fill="#1a1a1a" text-anchor="middle">1</text>
<text x="474.5" y="797.4" font-size="8.2" fill="#1a1a1a" text-anchor="middle">2.5</text>
<text x="445.3" y="798.9" font-size="8.4" fill="#1a1a1a" text-anchor="middle">H3K4me3</text>
<text x="445.3" y="806.6" font-size="8.1" fill="#1a1a1a" text-anchor="middle">(IP/Input)</text>
<path d="M525.1 493.3h15.4v1.05h-15.4zM525.1 506.35h15.4v1.05h-15.4zM525.1 516.39h15.4v1.05h-15.4zM525.1 519.4h15.4v1.05h-15.4zM525.1 522.41h15.4v1.05h-15.4z" stroke="none" fill="#e48ade" stroke-width="1"/>
<path d="M525.1 494.3h15.4v1.05h-15.4zM525.1 512.37h15.4v1.05h-15.4zM525.1 528.44h15.4v1.05h-15.4z" stroke="none" fill="#eaa2ea" stroke-width="1"/>
<path d="M525.1 495.31h15.4v1.05h-15.4zM525.1 502.34h15.4v1.05h-15.4zM525.1 503.34h15.4v1.05h-15.4zM525.1 532.45h15.4v1.05h-15.4zM525.1 533.46h15.4v1.05h-15.4zM525.1 536.47h15.4v1.05h-15.4zM525.1 539.48h15.4v1.05h-15.4z" stroke="none" fill="#ea9ce4" stroke-width="1"/>
<path d="M525.1 496.31h15.4v1.05h-15.4zM525.1 499.32h15.4v1.05h-15.4zM525.1 504.34h15.4v1.05h-15.4zM525.1 509.36h15.4v1.05h-15.4zM525.1 514.38h15.4v1.05h-15.4zM525.1 535.46h15.4v1.05h-15.4zM525.1 542.49h15.4v1.05h-15.4z" stroke="none" fill="#eaa8ea" stroke-width="1"/>
<path d="M525.1 497.32h15.4v1.05h-15.4zM525.1 501.33h15.4v1.05h-15.4zM525.1 520.41h15.4v1.05h-15.4z" stroke="none" fill="#f0aeea" stroke-width="1"/>
<path d="M525.1 498.32h15.4v1.05h-15.4zM525.1 510.37h15.4v1.05h-15.4zM525.1 518.4h15.4v1.05h-15.4z" stroke="none" fill="#e484de" stroke-width="1"/>
<path d="M525.1 500.33h15.4v1.05h-15.4zM525.1 523.42h15.4v1.05h-15.4zM525.1 527.43h15.4v1.05h-15.4z" stroke="none" fill="#ea96e4" stroke-width="1"/>
<path d="M525.1 505.35h15.4v1.05h-15.4zM525.1 511.37h15.4v1.05h-15.4zM525.1 513.38h15.4v1.05h-15.4zM525.1 515.39h15.4v1.05h-15.4zM525.1 524.42h15.4v1.05h-15.4zM525.1 526.43h15.4v1.05h-15.4zM525.1 529.44h15.4v1.05h-15.4zM525.1 534.46h15.4v1.05h-15.4zM525.1 537.47h15.4v1.05h-15.4zM525.1 540.48h15.4v1.05h-15.4z" stroke="none" fill="#e490e4" stroke-width="1"/>
<path d="M525.1 507.35h15.4v1.05h-15.4zM525.1 525.43h15.4v1.05h-15.4zM525.1 538.48h15.4v1.05h-15.4z" stroke="none" fill="#f0baea" stroke-width="1"/>
<path d="M525.1 508.36h15.4v1.05h-15.4zM525.1 531.45h15.4v1.05h-15.4z" stroke="none" fill="#e48ae4" stroke-width="1"/>
<path d="M525.1 517.39h15.4v1.05h-15.4zM525.1 543.5h15.4v1.05h-15.4z" stroke="none" fill="#f0baf0" stroke-width="1"/>
<path d="M525.1 521.41h15.4v1.05h-15.4z" stroke="none" fill="#f0b4ea" stroke-width="1"/>
<path d="M525.1 530.45h15.4v1.05h-15.4z" stroke="none" fill="#eaa2e4" stroke-width="1"/>
<path d="M525.1 541.49h15.4v1.05h-15.4z" stroke="none" fill="#eaaeea" stroke-width="1"/>
<rect x="525.1" y="493.3" width="15.4" height="51.2" rx="0.8" fill="none" stroke="#3a3a3a" stroke-width="0.9"/>
<path d="M525.1 550.5h15.4v1.35h-15.4zM525.1 571.24h15.4v1.35h-15.4zM525.1 579.02h15.4v1.35h-15.4zM525.1 585.5h15.4v1.35h-15.4zM525.1 595.87h15.4v1.35h-15.4zM525.1 599.76h15.4v1.35h-15.4zM525.1 616.61h15.4v1.35h-15.4zM525.1 619.2h15.4v1.35h-15.4zM525.1 623.09h15.4v1.35h-15.4zM525.1 642.53h15.4v1.35h-15.4z" stroke="none" fill="#eaa8ea" stroke-width="1"/>
<path d="M525.1 551.8h15.4v1.35h-15.4zM525.1 602.35h15.4v1.35h-15.4zM525.1 604.94h15.4v1.35h-15.4zM525.1 607.54h15.4v1.35h-15.4zM525.1 611.42h15.4v1.35h-15.4zM525.1 628.28h15.4v1.35h-15.4zM525.1 636.05h15.4v1.35h-15.4z" stroke="none" fill="#f6ccf0" stroke-width="1"/>
<path d="M525.1 553.09h15.4v1.35h-15.4zM525.1 564.76h15.4v1.35h-15.4zM525.1 586.8h15.4v1.35h-15.4zM525.1 588.09h15.4v1.35h-15.4zM525.1 606.24h15.4v1.35h-15.4zM525.1 614.02h15.4v1.35h-15.4zM525.1 629.57h15.4v1.35h-15.4zM525.1 634.76h15.4v1.35h-15.4zM525.1 641.24h15.4v1.35h-15.4zM525.1 643.83h15.4v1.35h-15.4zM525.1 651.61h15.4v1.35h-15.4z" stroke="none" fill="#f0b4ea" stroke-width="1"/>
<path d="M525.1 554.39h15.4v1.35h-15.4zM525.1 558.28h15.4v1.35h-15.4zM525.1 559.57h15.4v1.35h-15.4zM525.1 560.87h15.4v1.35h-15.4zM525.1 568.65h15.4v1.35h-15.4zM525.1 569.94h15.4v1.35h-15.4zM525.1 584.2h15.4v1.35h-15.4zM525.1 630.87h15.4v1.35h-15.4z" stroke="none" fill="#f0baf0" stroke-width="1"/>
<path d="M525.1 555.68h15.4v1.35h-15.4zM525.1 601.05h15.4v1.35h-15.4zM525.1 633.46h15.4v1.35h-15.4z" stroke="none" fill="#f0aeea" stroke-width="1"/>
<path d="M525.1 556.98h15.4v1.35h-15.4z" stroke="none" fill="#ea9ce4" stroke-width="1"/>
<path d="M525.1 562.17h15.4v1.35h-15.4zM525.1 572.54h15.4v1.35h-15.4zM525.1 573.83h15.4v1.35h-15.4zM525.1 575.13h15.4v1.35h-15.4zM525.1 582.91h15.4v1.35h-15.4zM525.1 612.72h15.4v1.35h-15.4zM525.1 624.39h15.4v1.35h-15.4zM525.1 637.35h15.4v1.35h-15.4zM525.1 645.13h15.4v1.35h-15.4zM525.1 646.42h15.4v1.35h-15.4zM525.1 650.31h15.4v1.35h-15.4z" stroke="none" fill="#f0c6f0" stroke-width="1"/>
<path d="M525.1 563.46h15.4v1.35h-15.4zM525.1 580.31h15.4v1.35h-15.4zM525.1 598.46h15.4v1.35h-15.4zM525.1 625.68h15.4v1.35h-15.4z" stroke="none" fill="#f0baea" stroke-width="1"/>
<path d="M525.1 566.06h15.4v1.35h-15.4zM525.1 593.28h15.4v1.35h-15.4z" stroke="none" fill="#eaa2ea" stroke-width="1"/>
<path d="M525.1 567.35h15.4v1.35h-15.4zM525.1 608.83h15.4v1.35h-15.4zM525.1 615.31h15.4v1.35h-15.4zM525.1 638.64h15.4v1.35h-15.4z" stroke="none" fill="#eaa2e4" stroke-width="1"/>
<path d="M525.1 576.42h15.4v1.35h-15.4zM525.1 577.72h15.4v1.35h-15.4zM525.1 581.61h15.4v1.35h-15.4zM525.1 590.68h15.4v1.35h-15.4zM525.1 594.57h15.4v1.35h-15.4zM525.1 597.16h15.4v1.35h-15.4zM525.1 610.13h15.4v1.35h-15.4zM525.1 617.9h15.4v1.35h-15.4zM525.1 620.5h15.4v1.35h-15.4zM525.1 632.16h15.4v1.35h-15.4zM525.1 639.94h15.4v1.35h-15.4z" stroke="none" fill="#f0c0f0" stroke-width="1"/>
<path d="M525.1 589.39h15.4v1.35h-15.4z" stroke="none" fill="#e490e4" stroke-width="1"/>
<path d="M525.1 591.98h15.4v1.35h-15.4z" stroke="none" fill="#f6d8f6" stroke-width="1"/>
<path d="M525.1 603.65h15.4v1.35h-15.4zM525.1 626.98h15.4v1.35h-15.4z" stroke="none" fill="#ea96e4" stroke-width="1"/>
<path d="M525.1 621.79h15.4v1.35h-15.4zM525.1 647.72h15.4v1.35h-15.4zM525.1 652.9h15.4v1.35h-15.4z" stroke="none" fill="#eaaeea" stroke-width="1"/>
<path d="M525.1 649.02h15.4v1.35h-15.4z" stroke="none" fill="#f6def6" stroke-width="1"/>
<rect x="525.1" y="550.5" width="15.4" height="103.7" rx="0.8" fill="none" stroke="#3a3a3a" stroke-width="0.9"/>
<path d="M525.1 660h15.4v1.34h-15.4zM525.1 669.06h15.4v1.34h-15.4zM525.1 671.65h15.4v1.34h-15.4zM525.1 675.53h15.4v1.34h-15.4zM525.1 682h15.4v1.34h-15.4zM525.1 684.59h15.4v1.34h-15.4zM525.1 693.65h15.4v1.34h-15.4zM525.1 694.95h15.4v1.34h-15.4zM525.1 700.12h15.4v1.34h-15.4zM525.1 718.24h15.4v1.34h-15.4zM525.1 722.13h15.4v1.34h-15.4zM525.1 723.42h15.4v1.34h-15.4zM525.1 733.78h15.4v1.34h-15.4zM525.1 742.84h15.4v1.34h-15.4zM525.1 749.31h15.4v1.34h-15.4zM525.1 750.6h15.4v1.34h-15.4zM525.1 759.66h15.4v1.34h-15.4zM525.1 766.13h15.4v1.34h-15.4zM525.1 772.61h15.4v1.34h-15.4z" stroke="none" fill="#fcf6fc" stroke-width="1"/>
<path d="M525.1 661.29h15.4v1.34h-15.4zM525.1 665.18h15.4v1.34h-15.4zM525.1 667.77h15.4v1.34h-15.4zM525.1 674.24h15.4v1.34h-15.4zM525.1 687.18h15.4v1.34h-15.4zM525.1 701.42h15.4v1.34h-15.4zM525.1 702.71h15.4v1.34h-15.4zM525.1 719.54h15.4v1.34h-15.4zM525.1 727.3h15.4v1.34h-15.4zM525.1 728.6h15.4v1.34h-15.4zM525.1 735.07h15.4v1.34h-15.4zM525.1 740.25h15.4v1.34h-15.4zM525.1 744.13h15.4v1.34h-15.4zM525.1 757.07h15.4v1.34h-15.4zM525.1 763.55h15.4v1.34h-15.4z" stroke="none" fill="#fceafc" stroke-width="1"/>
<path d="M525.1 662.59h15.4v1.34h-15.4zM525.1 770.02h15.4v1.34h-15.4z" stroke="none" fill="#f6def6" stroke-width="1"/>
<path d="M525.1 663.88h15.4v1.34h-15.4zM525.1 764.84h15.4v1.34h-15.4z" stroke="none" fill="#f6e4f6" stroke-width="1"/>
<path d="M525.1 666.47h15.4v1.34h-15.4zM525.1 678.12h15.4v1.34h-15.4zM525.1 679.41h15.4v1.34h-15.4zM525.1 683.3h15.4v1.34h-15.4zM525.1 685.89h15.4v1.34h-15.4zM525.1 688.48h15.4v1.34h-15.4zM525.1 692.36h15.4v1.34h-15.4zM525.1 697.54h15.4v1.34h-15.4zM525.1 698.83h15.4v1.34h-15.4zM525.1 704.01h15.4v1.34h-15.4zM525.1 705.3h15.4v1.34h-15.4zM525.1 707.89h15.4v1.34h-15.4zM525.1 709.18h15.4v1.34h-15.4zM525.1 710.48h15.4v1.34h-15.4zM525.1 715.66h15.4v1.34h-15.4zM525.1 726.01h15.4v1.34h-15.4zM525.1 731.19h15.4v1.34h-15.4zM525.1 732.48h15.4v1.34h-15.4zM525.1 736.36h15.4v1.34h-15.4zM525.1 745.42h15.4v1.34h-15.4zM525.1 746.72h15.4v1.34h-15.4zM525.1 753.19h15.4v1.34h-15.4zM525.1 760.96h15.4v1.34h-15.4zM525.1 762.25h15.4v1.34h-15.4z" stroke="none" fill="#fcf0fc" stroke-width="1"/>
<path d="M525.1 670.35h15.4v1.34h-15.4zM525.1 711.77h15.4v1.34h-15.4zM525.1 724.72h15.4v1.34h-15.4zM525.1 754.49h15.4v1.34h-15.4z" stroke="none" fill="#f6ccf0" stroke-width="1"/>
<path d="M525.1 672.94h15.4v1.34h-15.4zM525.1 676.83h15.4v1.34h-15.4zM525.1 689.77h15.4v1.34h-15.4zM525.1 691.06h15.4v1.34h-15.4zM525.1 696.24h15.4v1.34h-15.4zM525.1 706.6h15.4v1.34h-15.4zM525.1 713.07h15.4v1.34h-15.4zM525.1 714.36h15.4v1.34h-15.4zM525.1 716.95h15.4v1.34h-15.4zM525.1 729.89h15.4v1.34h-15.4zM525.1 737.66h15.4v1.34h-15.4zM525.1 738.95h15.4v1.34h-15.4zM525.1 751.9h15.4v1.34h-15.4zM525.1 758.37h15.4v1.34h-15.4zM525.1 768.72h15.4v1.34h-15.4zM525.1 771.31h15.4v1.34h-15.4z" stroke="none" fill="#fcfcfc" stroke-width="1"/>
<path d="M525.1 680.71h15.4v1.34h-15.4z" stroke="none" fill="#fceaf6" stroke-width="1"/>
<path d="M525.1 720.83h15.4v1.34h-15.4z" stroke="none" fill="#f6d8f6" stroke-width="1"/>
<path d="M525.1 741.54h15.4v1.34h-15.4zM525.1 748.01h15.4v1.34h-15.4zM525.1 767.43h15.4v1.34h-15.4z" stroke="none" fill="#fce4f6" stroke-width="1"/>
<path d="M525.1 755.78h15.4v1.34h-15.4z" stroke="none" fill="#f6d2f6" stroke-width="1"/>
<rect x="525.1" y="660" width="15.4" height="113.9" rx="0.8" fill="none" stroke="#3a3a3a" stroke-width="0.9"/>
<path d="M551.3 493.3h15.4v1.05h-15.4zM551.3 504.34h15.4v1.05h-15.4zM551.3 514.38h15.4v1.05h-15.4zM551.3 521.41h15.4v1.05h-15.4zM551.3 522.41h15.4v1.05h-15.4zM551.3 533.46h15.4v1.05h-15.4zM551.3 538.48h15.4v1.05h-15.4zM551.3 541.49h15.4v1.05h-15.4zM551.3 542.49h15.4v1.05h-15.4z" stroke="none" fill="#f6c63c" stroke-width="1"/>
<path d="M551.3 494.3h15.4v1.05h-15.4zM551.3 510.37h15.4v1.05h-15.4zM551.3 515.39h15.4v1.05h-15.4zM551.3 524.42h15.4v1.05h-15.4zM551.3 529.44h15.4v1.05h-15.4zM551.3 535.46h15.4v1.05h-15.4zM551.3 536.47h15.4v1.05h-15.4zM551.3 540.48h15.4v1.05h-15.4z" stroke="none" fill="#f6c636" stroke-width="1"/>
<path d="M551.3 495.31h15.4v1.05h-15.4zM551.3 497.32h15.4v1.05h-15.4zM551.3 498.32h15.4v1.05h-15.4zM551.3 500.33h15.4v1.05h-15.4zM551.3 502.34h15.4v1.05h-15.4zM551.3 505.35h15.4v1.05h-15.4zM551.3 506.35h15.4v1.05h-15.4zM551.3 508.36h15.4v1.05h-15.4zM551.3 509.36h15.4v1.05h-15.4zM551.3 512.37h15.4v1.05h-15.4zM551.3 516.39h15.4v1.05h-15.4zM551.3 518.4h15.4v1.05h-15.4zM551.3 526.43h15.4v1.05h-15.4zM551.3 527.43h15.4v1.05h-15.4zM551.3 528.44h15.4v1.05h-15.4zM551.3 532.45h15.4v1.05h-15.4zM551.3 539.48h15.4v1.05h-15.4zM551.3 543.5h15.4v1.05h-15.4z" stroke="none" fill="#f6c02a" stroke-width="1"/>
<path d="M551.3 496.31h15.4v1.05h-15.4zM551.3 511.37h15.4v1.05h-15.4z" stroke="none" fill="#fccc54" stroke-width="1"/>
<path d="M551.3 499.32h15.4v1.05h-15.4zM551.3 513.38h15.4v1.05h-15.4zM551.3 517.39h15.4v1.05h-15.4zM551.3 530.45h15.4v1.05h-15.4zM551.3 534.46h15.4v1.05h-15.4z" stroke="none" fill="#f6c030" stroke-width="1"/>
<path d="M551.3 501.33h15.4v1.05h-15.4z" stroke="none" fill="#f6c630" stroke-width="1"/>
<path d="M551.3 503.34h15.4v1.05h-15.4zM551.3 520.41h15.4v1.05h-15.4zM551.3 525.43h15.4v1.05h-15.4zM551.3 537.47h15.4v1.05h-15.4z" stroke="none" fill="#f6c642" stroke-width="1"/>
<path d="M551.3 507.35h15.4v1.05h-15.4z" stroke="none" fill="#fccc4e" stroke-width="1"/>
<path d="M551.3 519.4h15.4v1.05h-15.4zM551.3 523.42h15.4v1.05h-15.4z" stroke="none" fill="#fccc48" stroke-width="1"/>
<path d="M551.3 531.45h15.4v1.05h-15.4z" stroke="none" fill="#f6c648" stroke-width="1"/>
<rect x="551.3" y="493.3" width="15.4" height="51.2" rx="0.8" fill="none" stroke="#3a3a3a" stroke-width="0.9"/>
<path d="M551.3 550.5h15.4v1.35h-15.4zM551.3 563.46h15.4v1.35h-15.4zM551.3 615.31h15.4v1.35h-15.4z" stroke="none" fill="#f6c648" stroke-width="1"/>
<path d="M551.3 551.8h15.4v1.35h-15.4zM551.3 559.57h15.4v1.35h-15.4zM551.3 567.35h15.4v1.35h-15.4zM551.3 575.13h15.4v1.35h-15.4zM551.3 576.42h15.4v1.35h-15.4zM551.3 604.94h15.4v1.35h-15.4zM551.3 607.54h15.4v1.35h-15.4zM551.3 638.64h15.4v1.35h-15.4zM551.3 639.94h15.4v1.35h-15.4zM551.3 645.13h15.4v1.35h-15.4z" stroke="none" fill="#f6c636" stroke-width="1"/>
<path d="M551.3 553.09h15.4v1.35h-15.4zM551.3 555.68h15.4v1.35h-15.4zM551.3 577.72h15.4v1.35h-15.4zM551.3 630.87h15.4v1.35h-15.4z" stroke="none" fill="#f6c030" stroke-width="1"/>
<path d="M551.3 554.39h15.4v1.35h-15.4zM551.3 562.17h15.4v1.35h-15.4zM551.3 590.68h15.4v1.35h-15.4zM551.3 620.5h15.4v1.35h-15.4zM551.3 626.98h15.4v1.35h-15.4zM551.3 628.28h15.4v1.35h-15.4zM551.3 629.57h15.4v1.35h-15.4zM551.3 649.02h15.4v1.35h-15.4zM551.3 652.9h15.4v1.35h-15.4z" stroke="none" fill="#fccc48" stroke-width="1"/>
<path d="M551.3 556.98h15.4v1.35h-15.4zM551.3 588.09h15.4v1.35h-15.4zM551.3 589.39h15.4v1.35h-15.4zM551.3 595.87h15.4v1.35h-15.4zM551.3 642.53h15.4v1.35h-15.4zM551.3 650.31h15.4v1.35h-15.4z" stroke="none" fill="#fcd260" stroke-width="1"/>
<path d="M551.3 558.28h15.4v1.35h-15.4z" stroke="none" fill="#fcd272" stroke-width="1"/>
<path d="M551.3 560.87h15.4v1.35h-15.4zM551.3 591.98h15.4v1.35h-15.4zM551.3 611.42h15.4v1.35h-15.4zM551.3 614.02h15.4v1.35h-15.4zM551.3 616.61h15.4v1.35h-15.4zM551.3 619.2h15.4v1.35h-15.4zM551.3 632.16h15.4v1.35h-15.4z" stroke="none" fill="#fccc54" stroke-width="1"/>
<path d="M551.3 564.76h15.4v1.35h-15.4zM551.3 579.02h15.4v1.35h-15.4zM551.3 584.2h15.4v1.35h-15.4zM551.3 597.16h15.4v1.35h-15.4zM551.3 603.65h15.4v1.35h-15.4zM551.3 621.79h15.4v1.35h-15.4zM551.3 623.09h15.4v1.35h-15.4zM551.3 625.68h15.4v1.35h-15.4zM551.3 636.05h15.4v1.35h-15.4z" stroke="none" fill="#fccc4e" stroke-width="1"/>
<path d="M551.3 566.06h15.4v1.35h-15.4zM551.3 568.65h15.4v1.35h-15.4zM551.3 573.83h15.4v1.35h-15.4zM551.3 581.61h15.4v1.35h-15.4zM551.3 608.83h15.4v1.35h-15.4zM551.3 610.13h15.4v1.35h-15.4zM551.3 637.35h15.4v1.35h-15.4zM551.3 646.42h15.4v1.35h-15.4z" stroke="none" fill="#fccc5a" stroke-width="1"/>
<path d="M551.3 569.94h15.4v1.35h-15.4zM551.3 580.31h15.4v1.35h-15.4zM551.3 601.05h15.4v1.35h-15.4zM551.3 602.35h15.4v1.35h-15.4zM551.3 606.24h15.4v1.35h-15.4zM551.3 612.72h15.4v1.35h-15.4zM551.3 617.9h15.4v1.35h-15.4zM551.3 624.39h15.4v1.35h-15.4zM551.3 633.46h15.4v1.35h-15.4zM551.3 641.24h15.4v1.35h-15.4z" stroke="none" fill="#f6c642" stroke-width="1"/>
<path d="M551.3 571.24h15.4v1.35h-15.4zM551.3 582.91h15.4v1.35h-15.4zM551.3 585.5h15.4v1.35h-15.4zM551.3 586.8h15.4v1.35h-15.4zM551.3 593.28h15.4v1.35h-15.4zM551.3 598.46h15.4v1.35h-15.4zM551.3 634.76h15.4v1.35h-15.4zM551.3 647.72h15.4v1.35h-15.4zM551.3 651.61h15.4v1.35h-15.4z" stroke="none" fill="#f6c63c" stroke-width="1"/>
<path d="M551.3 572.54h15.4v1.35h-15.4z" stroke="none" fill="#f6c630" stroke-width="1"/>
<path d="M551.3 594.57h15.4v1.35h-15.4zM551.3 599.76h15.4v1.35h-15.4z" stroke="none" fill="#fcd266" stroke-width="1"/>
<path d="M551.3 643.83h15.4v1.35h-15.4z" stroke="none" fill="#fcd25a" stroke-width="1"/>
<rect x="551.3" y="550.5" width="15.4" height="103.7" rx="0.8" fill="none" stroke="#3a3a3a" stroke-width="0.9"/>
<path d="M551.3 660h15.4v1.34h-15.4zM551.3 661.29h15.4v1.34h-15.4zM551.3 662.59h15.4v1.34h-15.4zM551.3 665.18h15.4v1.34h-15.4zM551.3 669.06h15.4v1.34h-15.4zM551.3 672.94h15.4v1.34h-15.4zM551.3 689.77h15.4v1.34h-15.4zM551.3 691.06h15.4v1.34h-15.4zM551.3 694.95h15.4v1.34h-15.4zM551.3 698.83h15.4v1.34h-15.4zM551.3 701.42h15.4v1.34h-15.4zM551.3 711.77h15.4v1.34h-15.4zM551.3 731.19h15.4v1.34h-15.4zM551.3 737.66h15.4v1.34h-15.4zM551.3 738.95h15.4v1.34h-15.4zM551.3 745.42h15.4v1.34h-15.4zM551.3 748.01h15.4v1.34h-15.4zM551.3 750.6h15.4v1.34h-15.4zM551.3 751.9h15.4v1.34h-15.4zM551.3 753.19h15.4v1.34h-15.4zM551.3 758.37h15.4v1.34h-15.4zM551.3 767.43h15.4v1.34h-15.4z" stroke="none" fill="#fcde90" stroke-width="1"/>
<path d="M551.3 663.88h15.4v1.34h-15.4zM551.3 766.13h15.4v1.34h-15.4z" stroke="none" fill="#fce4a2" stroke-width="1"/>
<path d="M551.3 666.47h15.4v1.34h-15.4z" stroke="none" fill="#fce4ae" stroke-width="1"/>
<path d="M551.3 667.77h15.4v1.34h-15.4zM551.3 687.18h15.4v1.34h-15.4zM551.3 722.13h15.4v1.34h-15.4zM551.3 728.6h15.4v1.34h-15.4z" stroke="none" fill="#fcd26c" stroke-width="1"/>
<path d="M551.3 670.35h15.4v1.34h-15.4z" stroke="none" fill="#fceaae" stroke-width="1"/>
<path d="M551.3 671.65h15.4v1.34h-15.4zM551.3 675.53h15.4v1.34h-15.4zM551.3 682h15.4v1.34h-15.4zM551.3 684.59h15.4v1.34h-15.4zM551.3 688.48h15.4v1.34h-15.4zM551.3 697.54h15.4v1.34h-15.4zM551.3 710.48h15.4v1.34h-15.4zM551.3 716.95h15.4v1.34h-15.4zM551.3 729.89h15.4v1.34h-15.4zM551.3 732.48h15.4v1.34h-15.4zM551.3 735.07h15.4v1.34h-15.4zM551.3 755.78h15.4v1.34h-15.4zM551.3 757.07h15.4v1.34h-15.4zM551.3 759.66h15.4v1.34h-15.4z" stroke="none" fill="#fcde8a" stroke-width="1"/>
<path d="M551.3 674.24h15.4v1.34h-15.4zM551.3 676.83h15.4v1.34h-15.4zM551.3 705.3h15.4v1.34h-15.4zM551.3 707.89h15.4v1.34h-15.4zM551.3 740.25h15.4v1.34h-15.4zM551.3 742.84h15.4v1.34h-15.4zM551.3 744.13h15.4v1.34h-15.4zM551.3 764.84h15.4v1.34h-15.4z" stroke="none" fill="#fcde96" stroke-width="1"/>
<path d="M551.3 678.12h15.4v1.34h-15.4zM551.3 715.66h15.4v1.34h-15.4zM551.3 733.78h15.4v1.34h-15.4zM551.3 760.96h15.4v1.34h-15.4z" stroke="none" fill="#fcd884" stroke-width="1"/>
<path d="M551.3 679.41h15.4v1.34h-15.4zM551.3 693.65h15.4v1.34h-15.4zM551.3 696.24h15.4v1.34h-15.4zM551.3 702.71h15.4v1.34h-15.4zM551.3 704.01h15.4v1.34h-15.4zM551.3 709.18h15.4v1.34h-15.4z" stroke="none" fill="#fcd872" stroke-width="1"/>
<path d="M551.3 680.71h15.4v1.34h-15.4zM551.3 685.89h15.4v1.34h-15.4zM551.3 713.07h15.4v1.34h-15.4zM551.3 720.83h15.4v1.34h-15.4zM551.3 741.54h15.4v1.34h-15.4zM551.3 762.25h15.4v1.34h-15.4z" stroke="none" fill="#fcd87e" stroke-width="1"/>
<path d="M551.3 683.3h15.4v1.34h-15.4zM551.3 700.12h15.4v1.34h-15.4zM551.3 746.72h15.4v1.34h-15.4z" stroke="none" fill="#fcd878" stroke-width="1"/>
<path d="M551.3 692.36h15.4v1.34h-15.4z" stroke="none" fill="#fcde84" stroke-width="1"/>
<path d="M551.3 706.6h15.4v1.34h-15.4zM551.3 719.54h15.4v1.34h-15.4zM551.3 724.72h15.4v1.34h-15.4zM551.3 749.31h15.4v1.34h-15.4zM551.3 754.49h15.4v1.34h-15.4z" stroke="none" fill="#fce49c" stroke-width="1"/>
<path d="M551.3 714.36h15.4v1.34h-15.4zM551.3 718.24h15.4v1.34h-15.4zM551.3 723.42h15.4v1.34h-15.4zM551.3 727.3h15.4v1.34h-15.4zM551.3 763.55h15.4v1.34h-15.4z" stroke="none" fill="#fce4a8" stroke-width="1"/>
<path d="M551.3 726.01h15.4v1.34h-15.4z" stroke="none" fill="#fceaba" stroke-width="1"/>
<path d="M551.3 736.36h15.4v1.34h-15.4z" stroke="none" fill="#fcd266" stroke-width="1"/>
<path d="M551.3 768.72h15.4v1.34h-15.4zM551.3 770.02h15.4v1.34h-15.4zM551.3 771.31h15.4v1.34h-15.4zM551.3 772.61h15.4v1.34h-15.4z" stroke="none" fill="#fcf6ea" stroke-width="1"/>
<rect x="551.3" y="660" width="15.4" height="113.9" rx="0.8" fill="none" stroke="#3a3a3a" stroke-width="0.9"/>
<path d="M577.3 493.3h15.3v1.05h-15.3zM577.3 494.3h15.3v1.05h-15.3zM577.3 495.31h15.3v1.05h-15.3zM577.3 496.31h15.3v1.05h-15.3zM577.3 497.32h15.3v1.05h-15.3zM577.3 498.32h15.3v1.05h-15.3zM577.3 499.32h15.3v1.05h-15.3zM577.3 500.33h15.3v1.05h-15.3zM577.3 501.33h15.3v1.05h-15.3zM577.3 502.34h15.3v1.05h-15.3zM577.3 503.34h15.3v1.05h-15.3zM577.3 504.34h15.3v1.05h-15.3zM577.3 505.35h15.3v1.05h-15.3zM577.3 506.35h15.3v1.05h-15.3zM577.3 507.35h15.3v1.05h-15.3zM577.3 508.36h15.3v1.05h-15.3zM577.3 509.36h15.3v1.05h-15.3zM577.3 510.37h15.3v1.05h-15.3zM577.3 511.37h15.3v1.05h-15.3zM577.3 512.37h15.3v1.05h-15.3zM577.3 513.38h15.3v1.05h-15.3zM577.3 514.38h15.3v1.05h-15.3zM577.3 515.39h15.3v1.05h-15.3zM577.3 516.39h15.3v1.05h-15.3zM577.3 517.39h15.3v1.05h-15.3zM577.3 518.4h15.3v1.05h-15.3zM577.3 519.4h15.3v1.05h-15.3zM577.3 520.41h15.3v1.05h-15.3zM577.3 521.41h15.3v1.05h-15.3zM577.3 522.41h15.3v1.05h-15.3zM577.3 523.42h15.3v1.05h-15.3zM577.3 524.42h15.3v1.05h-15.3zM577.3 525.43h15.3v1.05h-15.3zM577.3 526.43h15.3v1.05h-15.3zM577.3 527.43h15.3v1.05h-15.3zM577.3 528.44h15.3v1.05h-15.3zM577.3 529.44h15.3v1.05h-15.3zM577.3 530.45h15.3v1.05h-15.3zM577.3 531.45h15.3v1.05h-15.3zM577.3 532.45h15.3v1.05h-15.3zM577.3 533.46h15.3v1.05h-15.3zM577.3 534.46h15.3v1.05h-15.3zM577.3 535.46h15.3v1.05h-15.3zM577.3 536.47h15.3v1.05h-15.3zM577.3 537.47h15.3v1.05h-15.3zM577.3 538.48h15.3v1.05h-15.3zM577.3 539.48h15.3v1.05h-15.3zM577.3 540.48h15.3v1.05h-15.3zM577.3 541.49h15.3v1.05h-15.3zM577.3 542.49h15.3v1.05h-15.3zM577.3 543.5h15.3v1.05h-15.3z" stroke="none" fill="#fcfcfc" stroke-width="1"/>
<rect x="577.3" y="493.3" width="15.3" height="51.2" rx="0.8" fill="none" stroke="#3a3a3a" stroke-width="0.9"/>
<path d="M577.3 550.5h15.3v1.35h-15.3zM577.3 551.8h15.3v1.35h-15.3zM577.3 553.09h15.3v1.35h-15.3zM577.3 554.39h15.3v1.35h-15.3zM577.3 555.68h15.3v1.35h-15.3zM577.3 556.98h15.3v1.35h-15.3zM577.3 558.28h15.3v1.35h-15.3zM577.3 559.57h15.3v1.35h-15.3zM577.3 560.87h15.3v1.35h-15.3zM577.3 562.17h15.3v1.35h-15.3zM577.3 563.46h15.3v1.35h-15.3zM577.3 564.76h15.3v1.35h-15.3zM577.3 566.06h15.3v1.35h-15.3zM577.3 567.35h15.3v1.35h-15.3zM577.3 568.65h15.3v1.35h-15.3zM577.3 569.94h15.3v1.35h-15.3zM577.3 571.24h15.3v1.35h-15.3zM577.3 572.54h15.3v1.35h-15.3zM577.3 573.83h15.3v1.35h-15.3zM577.3 575.13h15.3v1.35h-15.3zM577.3 576.42h15.3v1.35h-15.3zM577.3 577.72h15.3v1.35h-15.3zM577.3 579.02h15.3v1.35h-15.3zM577.3 580.31h15.3v1.35h-15.3zM577.3 581.61h15.3v1.35h-15.3zM577.3 582.91h15.3v1.35h-15.3zM577.3 584.2h15.3v1.35h-15.3zM577.3 585.5h15.3v1.35h-15.3zM577.3 586.8h15.3v1.35h-15.3zM577.3 588.09h15.3v1.35h-15.3zM577.3 589.39h15.3v1.35h-15.3zM577.3 590.68h15.3v1.35h-15.3zM577.3 591.98h15.3v1.35h-15.3zM577.3 593.28h15.3v1.35h-15.3zM577.3 594.57h15.3v1.35h-15.3zM577.3 595.87h15.3v1.35h-15.3zM577.3 597.16h15.3v1.35h-15.3zM577.3 598.46h15.3v1.35h-15.3zM577.3 599.76h15.3v1.35h-15.3zM577.3 601.05h15.3v1.35h-15.3zM577.3 602.35h15.3v1.35h-15.3zM577.3 603.65h15.3v1.35h-15.3zM577.3 604.94h15.3v1.35h-15.3zM577.3 606.24h15.3v1.35h-15.3zM577.3 607.54h15.3v1.35h-15.3zM577.3 608.83h15.3v1.35h-15.3zM577.3 610.13h15.3v1.35h-15.3zM577.3 611.42h15.3v1.35h-15.3zM577.3 612.72h15.3v1.35h-15.3zM577.3 614.02h15.3v1.35h-15.3zM577.3 615.31h15.3v1.35h-15.3zM577.3 616.61h15.3v1.35h-15.3zM577.3 617.9h15.3v1.35h-15.3zM577.3 619.2h15.3v1.35h-15.3zM577.3 620.5h15.3v1.35h-15.3zM577.3 621.79h15.3v1.35h-15.3zM577.3 623.09h15.3v1.35h-15.3zM577.3 624.39h15.3v1.35h-15.3zM577.3 625.68h15.3v1.35h-15.3zM577.3 626.98h15.3v1.35h-15.3zM577.3 628.28h15.3v1.35h-15.3zM577.3 629.57h15.3v1.35h-15.3zM577.3 630.87h15.3v1.35h-15.3zM577.3 632.16h15.3v1.35h-15.3zM577.3 633.46h15.3v1.35h-15.3zM577.3 634.76h15.3v1.35h-15.3zM577.3 636.05h15.3v1.35h-15.3zM577.3 637.35h15.3v1.35h-15.3zM577.3 639.94h15.3v1.35h-15.3zM577.3 641.24h15.3v1.35h-15.3zM577.3 642.53h15.3v1.35h-15.3zM577.3 643.83h15.3v1.35h-15.3zM577.3 645.13h15.3v1.35h-15.3zM577.3 646.42h15.3v1.35h-15.3zM577.3 647.72h15.3v1.35h-15.3zM577.3 649.02h15.3v1.35h-15.3zM577.3 650.31h15.3v1.35h-15.3zM577.3 651.61h15.3v1.35h-15.3zM577.3 652.9h15.3v1.35h-15.3z" stroke="none" fill="#fcfcfc" stroke-width="1"/>
<path d="M577.3 638.64h15.3v1.35h-15.3z" stroke="none" fill="#f6f6fc" stroke-width="1"/>
<rect x="577.3" y="550.5" width="15.3" height="103.7" rx="0.8" fill="none" stroke="#3a3a3a" stroke-width="0.9"/>
<path d="M577.3 660h15.3v1.34h-15.3zM577.3 661.29h15.3v1.34h-15.3zM577.3 662.59h15.3v1.34h-15.3zM577.3 663.88h15.3v1.34h-15.3zM577.3 665.18h15.3v1.34h-15.3zM577.3 666.47h15.3v1.34h-15.3zM577.3 667.77h15.3v1.34h-15.3zM577.3 669.06h15.3v1.34h-15.3zM577.3 670.35h15.3v1.34h-15.3zM577.3 671.65h15.3v1.34h-15.3zM577.3 672.94h15.3v1.34h-15.3zM577.3 674.24h15.3v1.34h-15.3zM577.3 675.53h15.3v1.34h-15.3zM577.3 676.83h15.3v1.34h-15.3zM577.3 678.12h15.3v1.34h-15.3zM577.3 679.41h15.3v1.34h-15.3zM577.3 680.71h15.3v1.34h-15.3zM577.3 682h15.3v1.34h-15.3zM577.3 683.3h15.3v1.34h-15.3zM577.3 684.59h15.3v1.34h-15.3zM577.3 685.89h15.3v1.34h-15.3zM577.3 687.18h15.3v1.34h-15.3zM577.3 688.48h15.3v1.34h-15.3zM577.3 689.77h15.3v1.34h-15.3zM577.3 691.06h15.3v1.34h-15.3zM577.3 692.36h15.3v1.34h-15.3zM577.3 693.65h15.3v1.34h-15.3zM577.3 694.95h15.3v1.34h-15.3zM577.3 696.24h15.3v1.34h-15.3zM577.3 697.54h15.3v1.34h-15.3zM577.3 698.83h15.3v1.34h-15.3zM577.3 700.12h15.3v1.34h-15.3zM577.3 701.42h15.3v1.34h-15.3zM577.3 702.71h15.3v1.34h-15.3zM577.3 704.01h15.3v1.34h-15.3zM577.3 705.3h15.3v1.34h-15.3zM577.3 706.6h15.3v1.34h-15.3zM577.3 707.89h15.3v1.34h-15.3zM577.3 709.18h15.3v1.34h-15.3zM577.3 710.48h15.3v1.34h-15.3zM577.3 711.77h15.3v1.34h-15.3zM577.3 713.07h15.3v1.34h-15.3zM577.3 714.36h15.3v1.34h-15.3zM577.3 715.66h15.3v1.34h-15.3zM577.3 716.95h15.3v1.34h-15.3zM577.3 718.24h15.3v1.34h-15.3zM577.3 719.54h15.3v1.34h-15.3zM577.3 720.83h15.3v1.34h-15.3zM577.3 722.13h15.3v1.34h-15.3zM577.3 723.42h15.3v1.34h-15.3zM577.3 724.72h15.3v1.34h-15.3zM577.3 726.01h15.3v1.34h-15.3zM577.3 727.3h15.3v1.34h-15.3zM577.3 728.6h15.3v1.34h-15.3zM577.3 729.89h15.3v1.34h-15.3zM577.3 731.19h15.3v1.34h-15.3zM577.3 732.48h15.3v1.34h-15.3zM577.3 733.78h15.3v1.34h-15.3zM577.3 735.07h15.3v1.34h-15.3zM577.3 736.36h15.3v1.34h-15.3zM577.3 737.66h15.3v1.34h-15.3zM577.3 738.95h15.3v1.34h-15.3zM577.3 740.25h15.3v1.34h-15.3zM577.3 741.54h15.3v1.34h-15.3zM577.3 742.84h15.3v1.34h-15.3zM577.3 744.13h15.3v1.34h-15.3zM577.3 745.42h15.3v1.34h-15.3zM577.3 746.72h15.3v1.34h-15.3zM577.3 748.01h15.3v1.34h-15.3zM577.3 749.31h15.3v1.34h-15.3zM577.3 750.6h15.3v1.34h-15.3zM577.3 751.9h15.3v1.34h-15.3zM577.3 753.19h15.3v1.34h-15.3zM577.3 754.49h15.3v1.34h-15.3zM577.3 755.78h15.3v1.34h-15.3zM577.3 757.07h15.3v1.34h-15.3zM577.3 758.37h15.3v1.34h-15.3zM577.3 759.66h15.3v1.34h-15.3zM577.3 760.96h15.3v1.34h-15.3zM577.3 762.25h15.3v1.34h-15.3zM577.3 763.55h15.3v1.34h-15.3zM577.3 764.84h15.3v1.34h-15.3zM577.3 766.13h15.3v1.34h-15.3zM577.3 767.43h15.3v1.34h-15.3zM577.3 768.72h15.3v1.34h-15.3zM577.3 770.02h15.3v1.34h-15.3zM577.3 771.31h15.3v1.34h-15.3zM577.3 772.61h15.3v1.34h-15.3z" stroke="none" fill="#fcfcfc" stroke-width="1"/>
<rect x="577.3" y="660" width="15.3" height="113.9" rx="0.8" fill="none" stroke="#3a3a3a" stroke-width="0.9"/>
<path d="M603.1 493.3h15.3v1.05h-15.3zM603.1 513.38h15.3v1.05h-15.3zM603.1 532.45h15.3v1.05h-15.3zM603.1 539.48h15.3v1.05h-15.3zM603.1 541.49h15.3v1.05h-15.3z" stroke="none" fill="#e49cb4" stroke-width="1"/>
<path d="M603.1 494.3h15.3v1.05h-15.3zM603.1 504.34h15.3v1.05h-15.3zM603.1 505.35h15.3v1.05h-15.3zM603.1 506.35h15.3v1.05h-15.3zM603.1 511.37h15.3v1.05h-15.3zM603.1 517.39h15.3v1.05h-15.3zM603.1 521.41h15.3v1.05h-15.3zM603.1 534.46h15.3v1.05h-15.3z" stroke="none" fill="#e496ae" stroke-width="1"/>
<path d="M603.1 495.31h15.3v1.05h-15.3zM603.1 531.45h15.3v1.05h-15.3zM603.1 535.46h15.3v1.05h-15.3z" stroke="none" fill="#eaaec0" stroke-width="1"/>
<path d="M603.1 496.31h15.3v1.05h-15.3zM603.1 498.32h15.3v1.05h-15.3zM603.1 514.38h15.3v1.05h-15.3zM603.1 515.39h15.3v1.05h-15.3zM603.1 526.43h15.3v1.05h-15.3z" stroke="none" fill="#e4a2ba" stroke-width="1"/>
<path d="M603.1 497.32h15.3v1.05h-15.3z" stroke="none" fill="#e496b4" stroke-width="1"/>
<path d="M603.1 499.32h15.3v1.05h-15.3zM603.1 512.37h15.3v1.05h-15.3z" stroke="none" fill="#eaa8c0" stroke-width="1"/>
<path d="M603.1 500.33h15.3v1.05h-15.3zM603.1 509.36h15.3v1.05h-15.3zM603.1 510.37h15.3v1.05h-15.3zM603.1 527.43h15.3v1.05h-15.3zM603.1 538.48h15.3v1.05h-15.3zM603.1 543.5h15.3v1.05h-15.3z" stroke="none" fill="#eab4c6" stroke-width="1"/>
<path d="M603.1 501.33h15.3v1.05h-15.3zM603.1 516.39h15.3v1.05h-15.3zM603.1 523.42h15.3v1.05h-15.3zM603.1 542.49h15.3v1.05h-15.3z" stroke="none" fill="#e490a8" stroke-width="1"/>
<path d="M603.1 502.34h15.3v1.05h-15.3z" stroke="none" fill="#de8aa2" stroke-width="1"/>
<path d="M603.1 503.34h15.3v1.05h-15.3z" stroke="none" fill="#f0c6d8" stroke-width="1"/>
<path d="M603.1 507.35h15.3v1.05h-15.3zM603.1 508.36h15.3v1.05h-15.3zM603.1 519.4h15.3v1.05h-15.3zM603.1 522.41h15.3v1.05h-15.3zM603.1 524.42h15.3v1.05h-15.3z" stroke="none" fill="#eaa8ba" stroke-width="1"/>
<path d="M603.1 518.4h15.3v1.05h-15.3z" stroke="none" fill="#de84a2" stroke-width="1"/>
<path d="M603.1 520.41h15.3v1.05h-15.3zM603.1 536.47h15.3v1.05h-15.3z" stroke="none" fill="#e490ae" stroke-width="1"/>
<path d="M603.1 525.43h15.3v1.05h-15.3zM603.1 528.44h15.3v1.05h-15.3zM603.1 533.46h15.3v1.05h-15.3z" stroke="none" fill="#de8aa8" stroke-width="1"/>
<path d="M603.1 529.44h15.3v1.05h-15.3zM603.1 530.45h15.3v1.05h-15.3zM603.1 537.47h15.3v1.05h-15.3z" stroke="none" fill="#eaa2ba" stroke-width="1"/>
<path d="M603.1 540.48h15.3v1.05h-15.3z" stroke="none" fill="#e4a2b4" stroke-width="1"/>
<rect x="603.1" y="493.3" width="15.3" height="51.2" rx="0.8" fill="none" stroke="#3a3a3a" stroke-width="0.9"/>
<path d="M603.1 550.5h15.3v1.35h-15.3zM603.1 573.83h15.3v1.35h-15.3z" stroke="none" fill="#fceaf0" stroke-width="1"/>
<path d="M603.1 551.8h15.3v1.35h-15.3zM603.1 563.46h15.3v1.35h-15.3zM603.1 568.65h15.3v1.35h-15.3zM603.1 602.35h15.3v1.35h-15.3zM603.1 651.61h15.3v1.35h-15.3z" stroke="none" fill="#f6d8de" stroke-width="1"/>
<path d="M603.1 553.09h15.3v1.35h-15.3zM603.1 642.53h15.3v1.35h-15.3z" stroke="none" fill="#eaaec0" stroke-width="1"/>
<path d="M603.1 554.39h15.3v1.35h-15.3z" stroke="none" fill="#f6deea" stroke-width="1"/>
<path d="M603.1 555.68h15.3v1.35h-15.3zM603.1 564.76h15.3v1.35h-15.3zM603.1 575.13h15.3v1.35h-15.3zM603.1 601.05h15.3v1.35h-15.3zM603.1 610.13h15.3v1.35h-15.3zM603.1 625.68h15.3v1.35h-15.3z" stroke="none" fill="#f6d8e4" stroke-width="1"/>
<path d="M603.1 556.98h15.3v1.35h-15.3zM603.1 562.17h15.3v1.35h-15.3zM603.1 571.24h15.3v1.35h-15.3zM603.1 585.5h15.3v1.35h-15.3zM603.1 589.39h15.3v1.35h-15.3zM603.1 590.68h15.3v1.35h-15.3zM603.1 628.28h15.3v1.35h-15.3zM603.1 637.35h15.3v1.35h-15.3zM603.1 638.64h15.3v1.35h-15.3zM603.1 643.83h15.3v1.35h-15.3z" stroke="none" fill="#f0bacc" stroke-width="1"/>
<path d="M603.1 558.28h15.3v1.35h-15.3zM603.1 572.54h15.3v1.35h-15.3zM603.1 581.61h15.3v1.35h-15.3zM603.1 593.28h15.3v1.35h-15.3zM603.1 617.9h15.3v1.35h-15.3zM603.1 632.16h15.3v1.35h-15.3zM603.1 639.94h15.3v1.35h-15.3z" stroke="none" fill="#f6d2de" stroke-width="1"/>
<path d="M603.1 559.57h15.3v1.35h-15.3zM603.1 567.35h15.3v1.35h-15.3zM603.1 604.94h15.3v1.35h-15.3z" stroke="none" fill="#f6dee4" stroke-width="1"/>
<path d="M603.1 560.87h15.3v1.35h-15.3zM603.1 588.09h15.3v1.35h-15.3zM603.1 615.31h15.3v1.35h-15.3zM603.1 619.2h15.3v1.35h-15.3zM603.1 634.76h15.3v1.35h-15.3zM603.1 645.13h15.3v1.35h-15.3z" stroke="none" fill="#f0c6d2" stroke-width="1"/>
<path d="M603.1 566.06h15.3v1.35h-15.3zM603.1 576.42h15.3v1.35h-15.3zM603.1 584.2h15.3v1.35h-15.3zM603.1 586.8h15.3v1.35h-15.3zM603.1 595.87h15.3v1.35h-15.3zM603.1 598.46h15.3v1.35h-15.3zM603.1 599.76h15.3v1.35h-15.3zM603.1 608.83h15.3v1.35h-15.3zM603.1 614.02h15.3v1.35h-15.3zM603.1 629.57h15.3v1.35h-15.3zM603.1 641.24h15.3v1.35h-15.3zM603.1 649.02h15.3v1.35h-15.3z" stroke="none" fill="#f0ccd8" stroke-width="1"/>
<path d="M603.1 569.94h15.3v1.35h-15.3zM603.1 579.02h15.3v1.35h-15.3zM603.1 603.65h15.3v1.35h-15.3zM603.1 606.24h15.3v1.35h-15.3zM603.1 650.31h15.3v1.35h-15.3z" stroke="none" fill="#f0c0cc" stroke-width="1"/>
<path d="M603.1 577.72h15.3v1.35h-15.3zM603.1 594.57h15.3v1.35h-15.3zM603.1 597.16h15.3v1.35h-15.3zM603.1 607.54h15.3v1.35h-15.3zM603.1 612.72h15.3v1.35h-15.3zM603.1 620.5h15.3v1.35h-15.3zM603.1 624.39h15.3v1.35h-15.3zM603.1 646.42h15.3v1.35h-15.3zM603.1 647.72h15.3v1.35h-15.3z" stroke="none" fill="#eab4c6" stroke-width="1"/>
<path d="M603.1 580.31h15.3v1.35h-15.3z" stroke="none" fill="#eaa8c0" stroke-width="1"/>
<path d="M603.1 582.91h15.3v1.35h-15.3zM603.1 621.79h15.3v1.35h-15.3z" stroke="none" fill="#f0d2d8" stroke-width="1"/>
<path d="M603.1 591.98h15.3v1.35h-15.3zM603.1 616.61h15.3v1.35h-15.3z" stroke="none" fill="#f0c6d8" stroke-width="1"/>
<path d="M603.1 611.42h15.3v1.35h-15.3zM603.1 633.46h15.3v1.35h-15.3zM603.1 636.05h15.3v1.35h-15.3z" stroke="none" fill="#f0c0d2" stroke-width="1"/>
<path d="M603.1 623.09h15.3v1.35h-15.3zM603.1 626.98h15.3v1.35h-15.3zM603.1 652.9h15.3v1.35h-15.3z" stroke="none" fill="#f0d2de" stroke-width="1"/>
<path d="M603.1 630.87h15.3v1.35h-15.3z" stroke="none" fill="#f6eaf0" stroke-width="1"/>
<rect x="603.1" y="550.5" width="15.3" height="103.7" rx="0.8" fill="none" stroke="#3a3a3a" stroke-width="0.9"/>
<path d="M603.1 660h15.3v1.34h-15.3zM603.1 667.77h15.3v1.34h-15.3zM603.1 669.06h15.3v1.34h-15.3zM603.1 670.35h15.3v1.34h-15.3zM603.1 674.24h15.3v1.34h-15.3zM603.1 679.41h15.3v1.34h-15.3zM603.1 680.71h15.3v1.34h-15.3zM603.1 685.89h15.3v1.34h-15.3zM603.1 687.18h15.3v1.34h-15.3zM603.1 771.31h15.3v1.34h-15.3z" stroke="none" fill="#f6d8e4" stroke-width="1"/>
<path d="M603.1 661.29h15.3v1.34h-15.3zM603.1 684.59h15.3v1.34h-15.3zM603.1 696.24h15.3v1.34h-15.3zM603.1 702.71h15.3v1.34h-15.3zM603.1 724.72h15.3v1.34h-15.3zM603.1 733.78h15.3v1.34h-15.3zM603.1 744.13h15.3v1.34h-15.3zM603.1 757.07h15.3v1.34h-15.3z" stroke="none" fill="#f0ccd8" stroke-width="1"/>
<path d="M603.1 662.59h15.3v1.34h-15.3zM603.1 663.88h15.3v1.34h-15.3zM603.1 691.06h15.3v1.34h-15.3zM603.1 692.36h15.3v1.34h-15.3zM603.1 700.12h15.3v1.34h-15.3zM603.1 709.18h15.3v1.34h-15.3zM603.1 710.48h15.3v1.34h-15.3zM603.1 719.54h15.3v1.34h-15.3zM603.1 731.19h15.3v1.34h-15.3zM603.1 748.01h15.3v1.34h-15.3zM603.1 751.9h15.3v1.34h-15.3zM603.1 767.43h15.3v1.34h-15.3zM603.1 772.61h15.3v1.34h-15.3z" stroke="none" fill="#f6e4ea" stroke-width="1"/>
<path d="M603.1 665.18h15.3v1.34h-15.3zM603.1 671.65h15.3v1.34h-15.3zM603.1 675.53h15.3v1.34h-15.3zM603.1 688.48h15.3v1.34h-15.3zM603.1 694.95h15.3v1.34h-15.3zM603.1 697.54h15.3v1.34h-15.3zM603.1 704.01h15.3v1.34h-15.3zM603.1 705.3h15.3v1.34h-15.3zM603.1 718.24h15.3v1.34h-15.3zM603.1 720.83h15.3v1.34h-15.3zM603.1 723.42h15.3v1.34h-15.3zM603.1 729.89h15.3v1.34h-15.3zM603.1 737.66h15.3v1.34h-15.3zM603.1 742.84h15.3v1.34h-15.3zM603.1 746.72h15.3v1.34h-15.3zM603.1 749.31h15.3v1.34h-15.3zM603.1 758.37h15.3v1.34h-15.3zM603.1 762.25h15.3v1.34h-15.3z" stroke="none" fill="#f6dee4" stroke-width="1"/>
<path d="M603.1 666.47h15.3v1.34h-15.3zM603.1 706.6h15.3v1.34h-15.3zM603.1 736.36h15.3v1.34h-15.3zM603.1 740.25h15.3v1.34h-15.3zM603.1 750.6h15.3v1.34h-15.3zM603.1 755.78h15.3v1.34h-15.3zM603.1 759.66h15.3v1.34h-15.3z" stroke="none" fill="#fceaf0" stroke-width="1"/>
<path d="M603.1 672.94h15.3v1.34h-15.3zM603.1 698.83h15.3v1.34h-15.3zM603.1 715.66h15.3v1.34h-15.3zM603.1 716.95h15.3v1.34h-15.3z" stroke="none" fill="#fcfcfc" stroke-width="1"/>
<path d="M603.1 676.83h15.3v1.34h-15.3zM603.1 678.12h15.3v1.34h-15.3zM603.1 693.65h15.3v1.34h-15.3zM603.1 707.89h15.3v1.34h-15.3zM603.1 766.13h15.3v1.34h-15.3z" stroke="none" fill="#f6d2de" stroke-width="1"/>
<path d="M603.1 682h15.3v1.34h-15.3zM603.1 711.77h15.3v1.34h-15.3zM603.1 728.6h15.3v1.34h-15.3z" stroke="none" fill="#f6deea" stroke-width="1"/>
<path d="M603.1 683.3h15.3v1.34h-15.3zM603.1 732.48h15.3v1.34h-15.3zM603.1 753.19h15.3v1.34h-15.3z" stroke="none" fill="#fcf0f0" stroke-width="1"/>
<path d="M603.1 689.77h15.3v1.34h-15.3z" stroke="none" fill="#f0c6d8" stroke-width="1"/>
<path d="M603.1 701.42h15.3v1.34h-15.3zM603.1 713.07h15.3v1.34h-15.3zM603.1 738.95h15.3v1.34h-15.3zM603.1 754.49h15.3v1.34h-15.3zM603.1 760.96h15.3v1.34h-15.3zM603.1 763.55h15.3v1.34h-15.3z" stroke="none" fill="#f6d8de" stroke-width="1"/>
<path d="M603.1 714.36h15.3v1.34h-15.3z" stroke="none" fill="#f0d2d8" stroke-width="1"/>
<path d="M603.1 722.13h15.3v1.34h-15.3z" stroke="none" fill="#f0d2de" stroke-width="1"/>
<path d="M603.1 726.01h15.3v1.34h-15.3zM603.1 764.84h15.3v1.34h-15.3z" stroke="none" fill="#f0c6d2" stroke-width="1"/>
<path d="M603.1 727.3h15.3v1.34h-15.3zM603.1 735.07h15.3v1.34h-15.3z" stroke="none" fill="#fcf6f6" stroke-width="1"/>
<path d="M603.1 741.54h15.3v1.34h-15.3zM603.1 768.72h15.3v1.34h-15.3zM603.1 770.02h15.3v1.34h-15.3z" stroke="none" fill="#f6eaf0" stroke-width="1"/>
<path d="M603.1 745.42h15.3v1.34h-15.3z" stroke="none" fill="#fcf0f6" stroke-width="1"/>
<rect x="603.1" y="660" width="15.3" height="113.9" rx="0.8" fill="none" stroke="#3a3a3a" stroke-width="0.9"/>
<rect x="577.3" y="680.9" width="15.3" height="1" fill="#94abcf"/>
<rect x="577.3" y="697.7" width="15.3" height="1" fill="#ced9e9"/>
<rect x="577.3" y="712.1" width="15.3" height="1" fill="#6485b9"/>
<rect x="577.3" y="722.5" width="15.3" height="1" fill="#d8e1ee"/>
<rect x="577.3" y="733.1" width="15.3" height="1" fill="#9eb3d4"/>
<rect x="577.3" y="743.1" width="15.3" height="1" fill="#d8e1ee"/>
<rect x="577.3" y="752.3" width="15.3" height="1" fill="#e8edf5"/>
<rect x="577.3" y="689.5" width="15.3" height="1" fill="#ecf0f6"/>
<rect x="577.3" y="764.5" width="15.3" height="1" fill="#ecf0f6"/>
<text x="535" y="488.2" font-size="9" fill="#d46fca" transform="rotate(-60 535 488.2)">6mA</text>
<text x="559.2" y="488.2" font-size="9" fill="#e9b93a" transform="rotate(-60 559.2 488.2)">Expression</text>
<text x="585.7" y="488.2" font-size="9" fill="#4b6fae" transform="rotate(-60 585.7 488.2)">H3K9me3</text>
<text x="610.6" y="488.2" font-size="9" fill="#d23a6e" transform="rotate(-60 610.6 488.2)">H2A.Z</text>
<linearGradient id="cb0" x1="0" y1="0" x2="0" y2="1"><stop offset="0" stop-color="#d63fd0"/><stop offset="1" stop-color="#fff"/></linearGradient>
<rect x="638.6" y="534.8" width="8.7" height="50.8" fill="url(#cb0)"/>
<line x1="638.6" y1="534.8" x2="638.6" y2="585.6" stroke="#888" stroke-width="0.9"/>
<line x1="647.3" y1="534.8" x2="647.3" y2="585.6" stroke="#888" stroke-width="0.9"/>
<line x1="638.6" y1="534.8" x2="650.3" y2="534.8" stroke="#333" stroke-width="0.9"/>
<line x1="638.6" y1="585.6" x2="650.3" y2="585.6" stroke="#333" stroke-width="0.9"/>
<text x="651.8" y="537.3" font-size="7.2" fill="#1a1a1a">10</text>
<text x="651.8" y="588.1" font-size="7.2" fill="#1a1a1a">1</text>
<text x="660.6" y="560.1" font-size="7.9" fill="#1a1a1a" text-anchor="middle" transform="rotate(90 660.6 560.1)">6mA (%)</text>
<linearGradient id="cb1" x1="0" y1="0" x2="0" y2="1"><stop offset="0" stop-color="#ffc20e"/><stop offset="1" stop-color="#fff"/></linearGradient>
<rect x="638.6" y="598.8" width="8.7" height="50.2" fill="url(#cb1)"/>
<line x1="638.6" y1="598.8" x2="638.6" y2="649" stroke="#888" stroke-width="0.9"/>
<line x1="647.3" y1="598.8" x2="647.3" y2="649" stroke="#888" stroke-width="0.9"/>
<line x1="638.6" y1="598.8" x2="650.3" y2="598.8" stroke="#333" stroke-width="0.9"/>
<line x1="638.6" y1="649" x2="650.3" y2="649" stroke="#333" stroke-width="0.9"/>
<text x="651.8" y="601.3" font-size="7.2" fill="#1a1a1a">9</text>
<text x="651.8" y="651.5" font-size="7.2" fill="#1a1a1a">0</text>
<text x="658.4" y="621.5" font-size="7.6" fill="#1a1a1a" text-anchor="middle" transform="rotate(90 658.4 621.5)">FPKM</text>
<linearGradient id="cb2" x1="0" y1="0" x2="0" y2="1"><stop offset="0" stop-color="#3c66a8"/><stop offset="1" stop-color="#fff"/></linearGradient>
<rect x="638.6" y="661.8" width="8.7" height="50.7" fill="url(#cb2)"/>
<line x1="638.6" y1="661.8" x2="638.6" y2="712.5" stroke="#888" stroke-width="0.9"/>
<line x1="647.3" y1="661.8" x2="647.3" y2="712.5" stroke="#888" stroke-width="0.9"/>
<line x1="638.6" y1="661.8" x2="650.3" y2="661.8" stroke="#333" stroke-width="0.9"/>
<line x1="638.6" y1="712.5" x2="650.3" y2="712.5" stroke="#333" stroke-width="0.9"/>
<text x="651.8" y="664.3" font-size="7.2" fill="#1a1a1a">4</text>
<text x="651.8" y="715" font-size="7.2" fill="#1a1a1a">1</text>
<text x="666.6" y="686.8" font-size="8.1" fill="#1a1a1a" text-anchor="middle" transform="rotate(90 666.6 686.8)">H3K9me3</text>
<text x="656.5" y="686.8" font-size="7.9" fill="#1a1a1a" text-anchor="middle" transform="rotate(90 656.5 686.8)">(IP/Input)</text>
<linearGradient id="cb3" x1="0" y1="0" x2="0" y2="1"><stop offset="0" stop-color="#c8285c"/><stop offset="1" stop-color="#fff"/></linearGradient>
<rect x="638.6" y="724.3" width="8.7" height="50.4" fill="url(#cb3)"/>
<line x1="638.6" y1="724.3" x2="638.6" y2="774.7" stroke="#888" stroke-width="0.9"/>
<line x1="647.3" y1="724.3" x2="647.3" y2="774.7" stroke="#888" stroke-width="0.9"/>
<line x1="638.6" y1="724.3" x2="650.3" y2="724.3" stroke="#333" stroke-width="0.9"/>
<line x1="638.6" y1="774.7" x2="650.3" y2="774.7" stroke="#333" stroke-width="0.9"/>
<text x="651.8" y="726.8" font-size="7.2" fill="#1a1a1a">4</text>
<text x="651.8" y="777.2" font-size="7.2" fill="#1a1a1a">1</text>
<text x="666.6" y="747.5" font-size="8.1" fill="#1a1a1a" text-anchor="middle" transform="rotate(90 666.6 747.5)">H2A.Z</text>
<text x="656.5" y="747.5" font-size="7.9" fill="#1a1a1a" text-anchor="middle" transform="rotate(90 656.5 747.5)">(IP/Input)</text>
<text x="34.6" y="607.9" font-size="15" fill="#000" font-weight="bold">f</text>
<line x1="151.1" y1="611.7" x2="151.1" y2="788.2" stroke="#555" stroke-width="0.9" stroke-dasharray="0.9 0.9"/>
<line x1="107.0" y1="729.3" x2="283.9" y2="729.3" stroke="#333" stroke-width="1.0" stroke-dasharray="0.9 0.9"/>
<path d="M161.7 689.5h0M137.2 675.1h0M168.7 716.7h0M152.6 677.4h0M151 716.3h0M161.6 714.1h0M157.6 694.2h0M157.4 682h0M159.8 682.7h0M160.4 689.6h0M161.8 705.2h0M152.3 701.4h0M161.3 681.5h0M150.4 686.9h0M154.9 709.4h0M158 705.6h0M157.9 693.8h0M150.9 682.7h0M148.4 696h0M167 695.7h0M161.1 705.4h0M163.5 702.2h0M151.8 688.9h0M158.9 721.9h0M163.4 682.8h0M147.9 701.9h0M138.2 711.4h0M145 692.2h0M165.9 688.5h0M158.5 731.5h0M158.5 691.5h0M153.8 697.6h0M148.9 699.6h0M145.1 699.2h0M144.8 690h0M160.1 687.2h0M154.8 698.9h0M148.2 701.3h0M162.3 702.4h0M146.2 707.1h0M150.5 703.8h0M164.8 701.9h0M150.5 685.6h0M150.6 699.2h0M146.2 674.8h0M160 694.1h0M150.8 692.8h0M154.4 703.5h0M155.5 692h0M166.7 672.6h0M157 674.6h0M151.5 708h0M149.5 685.8h0M147.3 700.2h0M144.5 703.5h0M148.2 695.7h0M177.2 709.8h0M171.4 698.7h0M157.7 736.6h0M169 699.8h0M152.3 707.3h0M151 695.1h0M157.9 672.8h0M157.2 701.2h0M171.2 696h0M146.2 676.1h0M147.8 711.9h0M168.3 689.8h0M159 720.6h0M144.6 695.7h0M165.1 692.9h0M147.6 698.1h0M160.6 706.2h0M154.3 708.2h0M166.2 706.9h0M161.2 677.9h0M171.9 717.5h0M144.1 706.3h0M159.5 703.7h0M145.7 734.2h0M162.4 699h0M153.2 690.1h0M162.8 693.9h0M155.9 714.6h0M164.8 691.4h0M154.8 676.3h0M155.2 685.5h0M163.1 686.3h0M166.7 688.9h0M162.6 679h0M167.9 671.1h0M146.4 696.8h0M146.4 675.3h0M154.8 673.8h0M151.6 645.2h0M154.8 710.9h0M169.8 685.3h0M168.5 693.7h0M143.3 710.7h0M168 702.4h0M167.8 694.4h0M162.3 698.1h0M156.4 705.8h0M162.9 704.7h0M171.1 707h0M149.6 657.2h0M144.6 706.5h0M182.8 698h0M158.1 692.5h0M140.3 702h0M175.6 706.6h0M167.6 711.7h0M164.8 700.8h0M148.4 694.1h0M147.4 661.6h0M160.4 680.4h0M150.7 714.8h0M147.4 687.6h0M150.1 707.8h0M167.3 692.5h0M145.3 692.6h0M167.9 704h0M152.1 711.9h0M157.4 688.1h0M165.5 673.5h0M156.1 667.5h0M168.5 687.3h0M173.1 702.2h0M159.2 700h0M171.5 703.8h0M151.4 722.4h0M144.5 690.6h0M145.9 683.9h0M160.7 685.2h0M152.9 696.9h0M168.6 715.6h0M151.8 701h0M135.7 709.4h0M159.2 682.8h0M159.8 708.5h0M154.9 687.8h0M161.6 647.2h0M158.7 708.6h0M152 699.3h0M165.3 697h0M162.7 700.3h0M148.3 680.7h0M149 699.9h0M152.7 715.9h0M163.3 704.7h0M163.7 722h0M143.3 701.9h0M142.6 698.6h0M158.4 692.4h0M156.4 689.1h0M172.8 682.4h0M137.9 689.6h0M143.3 703.2h0M158.8 693.6h0M159.8 701.8h0M155.9 696.3h0M156 717.8h0M148.6 716.8h0M145.9 685h0M156.4 689.1h0M172.6 713.4h0M161.4 706h0M163.7 700.9h0M151.8 698.7h0M145.3 686h0M156.1 693.1h0M164.8 691.6h0M160.6 680.9h0M157.7 707.4h0M153.7 681.4h0M142.4 667.9h0M166.2 703.4h0M139.2 691.2h0M150.6 674.8h0M159.4 700.7h0M156.7 701.6h0M152.4 703.3h0M155.9 694.1h0M148.8 689.9h0M162.9 697.1h0M166.3 668.8h0M167.1 685.7h0M144.3 694.5h0M148.4 688.4h0M137.5 688.6h0M148.9 686h0M161.2 721.6h0M161.2 700.6h0M147.6 702h0M146.7 720h0M152.7 705.9h0M148.5 705.3h0M142.4 690.6h0M143.3 718.6h0M152.1 702h0M151.8 701.7h0M152.1 696h0M160 705h0M150.3 703.4h0M157.3 679.7h0M155.2 694.4h0M162 697.7h0M158.3 709.2h0M156.5 685.3h0M166.4 692.6h0M159.6 701h0M132.5 698.4h0M160.9 684.3h0M139.9 695.6h0M148.8 682.7h0M163 669h0M144.9 703.9h0M170.6 695.5h0M153.5 714.2h0M153.3 684.1h0M185.5 685h0M158 714.6h0M157.3 700.9h0M155.3 703h0M147.8 667.7h0M160.2 667.5h0M147.1 701.1h0M150.5 693.3h0M174.9 711.4h0M142.7 687h0M145.7 695h0M156.5 697.3h0M162.3 700.5h0M150 700.4h0M156 718.4h0M163.5 666.7h0M151.8 698.4h0M155.4 711.4h0M145.3 698.6h0M140.2 698.4h0M142.8 677.6h0M156.3 678.7h0M153.6 701.1h0M138.6 708.4h0M152 694.7h0M150.4 694.7h0M154.7 684.7h0M159.4 696.4h0M166.3 722.3h0M168.2 695h0M150.6 693.2h0M162.7 703.8h0M164.1 694.3h0M147.5 697.1h0M148.6 717.5h0M155.8 692.4h0M153.3 700h0M159.8 728h0M147.4 718h0M162.2 696.6h0M148.9 706.3h0M169.8 687.4h0M165 704.8h0M146.4 680h0M155.3 677.5h0M145.6 692.2h0M159.1 707.3h0M170.6 685.8h0M154.1 726.8h0M158.3 704.3h0M140.9 700.3h0M157.7 701h0M160.2 702.9h0M145.8 664.4h0M158.7 693.7h0M154.4 711h0M143.3 672.9h0M162.7 698.3h0M147 705.7h0M166.9 677.5h0M157.2 683.6h0M132.7 695.1h0M138.9 718.3h0M149.7 681.5h0M152.5 690.1h0M163.8 699.1h0M154.6 702.9h0M166.8 716.6h0M157.4 687.1h0M161.9 696h0M154.9 689.8h0M165.2 700.2h0M159 672.3h0M154 682.8h0M150.4 679.3h0M152.2 696.5h0M151.5 705.2h0M141.3 689.2h0M150.8 681.7h0M153.8 702.4h0M157 715.2h0M151 717.6h0M155.9 717.4h0M124.6 690.8h0M173.2 733.8h0M153.1 685.2h0M164 695h0M146.8 707.3h0M157.2 698.5h0M159.6 707.1h0M164.3 690.8h0M153.6 724.7h0M171.9 697.4h0M148.2 709.1h0M164.3 691.1h0M154.2 707.5h0M158.4 697.6h0M140.9 700.9h0M154.1 688.4h0M135.5 708.1h0M147.8 713.1h0M148.7 707.5h0M161.4 707h0M152.7 700.5h0M153.2 684.5h0M168.8 700.1h0M159 697.2h0M155.7 699.2h0M154.3 701.2h0M147.4 702.4h0M159.3 723.6h0M148.9 696.2h0M164.1 708.4h0M174.5 694h0M152 702h0M146.6 695h0M151.4 694h0M139.3 691.7h0M149.9 678.3h0M163.4 709h0M147.7 692.6h0M138.9 685.7h0M156.3 678.6h0M161.3 676h0M166.8 694h0M160.7 710.2h0M154.5 686.2h0M152.6 674.1h0M143.4 693.1h0M149.3 695.4h0M155.7 710.1h0M163.9 695.6h0M142.2 673.2h0M148.4 664h0M144.6 696.2h0M170.2 697.3h0M162.8 701.2h0M157 667.4h0M170.3 694.9h0M160.3 705.6h0M156.1 712.6h0M164.9 685.1h0M160.3 688.5h0M157.7 691.7h0M152.3 669.9h0M174.2 683.7h0M163.5 692.8h0M169.1 700.9h0M152.1 689.1h0M159.7 678.9h0M137.2 696.7h0M166.4 695.3h0M158.8 711.6h0M156.2 723.2h0M163.1 710.4h0M159.6 692.5h0M165 701.7h0M152.6 693.3h0M165.3 720.5h0M157.4 677.7h0M153.8 684.4h0M166.6 675.7h0M160.3 693.4h0M166.1 689.6h0M159.4 701.6h0M175.2 706.2h0M156.7 686.2h0M156.6 711.8h0M152.6 702.2h0M154.3 692.9h0M145.2 691.9h0M149.3 682.3h0M142.5 695.9h0M154.2 669.4h0M148.3 696.6h0M163.3 704.6h0M141.9 687.3h0M146 677h0M145.4 687.3h0M154.9 678.8h0M156.2 697.6h0M157.4 698.8h0M140.7 684.8h0M160 687h0M156.7 693.6h0M141.7 676.8h0M162.3 694.7h0M161.9 674.1h0M166 681.5h0M149.1 709h0M161.8 699.5h0M162.4 708.2h0M158.3 685.8h0M157.2 691h0M161.6 698.5h0M155.6 712h0M161.4 705.4h0M163 711.1h0M158.7 673.6h0M152.8 729.9h0M172.4 674.7h0M151.7 697.8h0M162.1 693.4h0M157.8 714.6h0M156.9 704.3h0M161 683h0M150.8 699.2h0M163.9 696.6h0M160.5 704.5h0M141 676.8h0M153.1 696.3h0M153.3 689.5h0M145.6 684.1h0M144.4 722.9h0M156.7 700h0M150.3 685.3h0M160.2 711.7h0M162.3 706.1h0M152.7 684.4h0M159.7 686.4h0M163.7 694.9h0M154 712.1h0M163.3 707.1h0M157 699.8h0M160.6 694.2h0M141.4 699.2h0M161.8 706.5h0M163.4 690.7h0M150.5 700.7h0M159.4 704.1h0M152.8 675.9h0M142.7 689.5h0M169.1 698.9h0M158.7 708.9h0M150.1 709.5h0M156.4 675.2h0M153.2 701.2h0M153.3 696.9h0M149.8 699.8h0M159.5 699.3h0M172.3 694.3h0M166.9 676.2h0M151.4 726.9h0M149.5 721.2h0M144.1 725.1h0M154.2 722.4h0M181.8 678.3h0M153.6 710.1h0M153.3 676.9h0M145.7 694h0M162.9 701.1h0M170.3 696.4h0M154.2 684.7h0M160.9 664.7h0M151.4 700.9h0M152.8 685.7h0M137.8 698.8h0M169.9 702.5h0M154.6 665.6h0M158.6 676h0M148.9 707.2h0M164.2 686.1h0M154.4 717.4h0M170 676.9h0M155.3 703.8h0M151.6 683.9h0M153.4 685.4h0M154.4 692.3h0M160.2 702.4h0M164.6 701.6h0M151.1 699.2h0M150 684.9h0M147.8 692.2h0M153.6 692.8h0M144.9 695.1h0M148.1 701.8h0M162.2 698h0M154.2 698.4h0M140.4 699.4h0M142.4 710.6h0M145.1 703.3h0M158.7 695h0M143.2 714.7h0M162.7 670.9h0M158 668.5h0M163.1 693.1h0M153.5 670.9h0M138.6 703.9h0M156.8 687.7h0M163 719.3h0M169.2 681.7h0M144.1 695.6h0M159.8 703.3h0M144.7 681.9h0M151.3 665.3h0M157.1 703.7h0M158.6 697.4h0M145.4 698.9h0M148.4 679.7h0M158.1 691.9h0M156.6 715.7h0M160 706.3h0M150.2 692.1h0M153.1 694.2h0M148.9 704h0M163.1 706.3h0M162.5 700.9h0M145.7 709.4h0M155.5 707.5h0M158.3 704.8h0M166.4 693.7h0M144.7 711.3h0M158.5 687.4h0M159.7 680.5h0M148.6 683.3h0M158.1 720.1h0M155.9 702.2h0M134.1 706.6h0M147.4 699.5h0M158.3 706.3h0M136.4 703.1h0M150.9 667h0M152.6 715.8h0M148.5 694.3h0M170.6 715.5h0M153 680.8h0M153 703.7h0M151.4 703.7h0M169.4 703.7h0M168 687.6h0M160 692.4h0M151.6 678.9h0M164 693.4h0M145.2 683.3h0M145.4 691.8h0M163.1 724.6h0M158.4 696.3h0M151.2 691.3h0M138.9 690h0M157.8 706.3h0M154.3 692.1h0M156.6 670h0M169.8 690.5h0M152.1 708.8h0M153.1 688.8h0M173.7 705.6h0M170.6 693.6h0M147.5 687.3h0M154.4 706h0M172.8 693.3h0M142.7 684.2h0M157.5 703.3h0M138.7 660.6h0M154.1 665.4h0M152.2 705.9h0M156.9 704.1h0M160.2 690.5h0M145.7 701.4h0M149.7 694.8h0M151.2 679.3h0M147.1 690.1h0M148.7 691.1h0M168.5 707.6h0M155.7 698.7h0M162 721.6h0M152.8 701.9h0M166.3 671.2h0M146.3 712.3h0M166.1 704.8h0M140.7 714.6h0M163.6 680.9h0M158.8 701.2h0M152.8 732.4h0M163.3 696.3h0M159.9 688.9h0M146.5 709.3h0M165.7 700h0M156 692.9h0M157.3 701.2h0M157.7 696h0M140.8 660.2h0M156.5 702.3h0M155.8 722.8h0M151.7 700h0M141.9 694.2h0M155.8 704.1h0M152.7 721.2h0M158.7 685.2h0M151.8 680.8h0M161.8 704.9h0M146.7 717.3h0M157.1 686h0M167.1 673.4h0M156.2 704.4h0M145.1 725.6h0M151.2 721.1h0M146.7 690.1h0M147.9 686h0M150.7 700.2h0M153.6 675.8h0M146.1 709.8h0M146.7 690h0M154 693.3h0M162.3 683.4h0M154.5 703.6h0M156.8 705.2h0M155.9 699.3h0M151.2 700.1h0M167.9 702.2h0M161.3 694h0M164.1 705.5h0M159.2 718.6h0M159.4 695.1h0M151.3 663.6h0M151.2 708.9h0M158.3 720.6h0M158.1 698.5h0M177 663.1h0M166.2 695.3h0M145.1 715.1h0M164.5 671.7h0M163.8 727.1h0M147.9 699.3h0M153.8 705.9h0M150.4 680.7h0M163.4 705.9h0M142.1 679.9h0M165 725.8h0M165.4 704h0M177.6 697.2h0M149.2 693.5h0M158.5 680h0M160.9 689.8h0M157.7 684.7h0M148.6 697.6h0M143.1 702h0M160.8 685.2h0M154.9 696h0M153.4 697.5h0M175.1 713.1h0M156.3 687.3h0M157.9 691.2h0M165.8 687.2h0M146.1 702h0M153 705.8h0M157.9 680.2h0M166.3 715.6h0M160.4 675.4h0M160.2 692.6h0M154.3 683.8h0M164.5 689.3h0M140.3 694h0M161.6 741.7h0M158.9 714.5h0M155.4 707.9h0M169 690.7h0M143.9 679.2h0M145.1 683.8h0M152.1 698.2h0M148.6 678h0M152 677.7h0M147.4 678.8h0M133.2 667.7h0M161.1 691.1h0M166.7 686.8h0M162.6 706.1h0M154 692.8h0M159.7 712.3h0M157.4 688.9h0M167.6 705.1h0M155.1 700.1h0M161.2 705.7h0M170.4 700.9h0M149.2 719.3h0M174.4 681.2h0M162.5 709.2h0M152.5 682.8h0M130 682.1h0M157.5 713.6h0M166.3 699.4h0M155.6 674.2h0M161.3 683.8h0M176.1 693.3h0M145.2 699.9h0M169.2 685.4h0M150.9 697.3h0M178 715.2h0M170.7 697.2h0M138.9 722.1h0M154 724.4h0M142.3 701.3h0M153.1 709.5h0M166.8 686.1h0M150.8 670.1h0M150.7 707.3h0M165.6 682.7h0M166.5 685.9h0M158.8 698.9h0M147.4 685.7h0M162.4 719.6h0M163.5 712h0M157 677.3h0M162 692.9h0M151.4 702.3h0M166.3 660.6h0M145 696h0M149.1 699.9h0M162.6 686h0M154.3 699.5h0M148.6 676.4h0M155.3 699.3h0M156.6 711.5h0M153.4 696.3h0M157 704.9h0M148.3 673.5h0M167.9 700.4h0M157.2 707.9h0M142.8 690.5h0M155.9 683.4h0M141.6 677.2h0M176.5 698.7h0M153.8 711.7h0M160.5 687.4h0M151.3 690.9h0M167.8 703.7h0M149.8 672.9h0M160.5 707.1h0M147.7 719.7h0M140.1 683.7h0M146.2 708.8h0M158.7 688.8h0M150.6 708h0M150.1 684.7h0M150.8 727.3h0M163.7 712.9h0M146.5 697.2h0M146.8 701.2h0M159.6 720.9h0M158 695.6h0M145.5 684.8h0M148.8 692.7h0M157.9 707.5h0M167.8 676.8h0M146.8 694.8h0M165 678.9h0M154.3 704.4h0M158.4 699h0M162.3 728.1h0M147.4 687.3h0M169.1 702.1h0M163.3 702.5h0M155 690.5h0M155 723.2h0M157.2 702.8h0M152.8 711.3h0M163.3 702.8h0M156 696h0M149.4 675.2h0M154.9 707h0M163.8 684.5h0M152.3 703.1h0M160.4 714.6h0M162 692.8h0M162.8 730h0M163 704.2h0M150 704.9h0M163 658.4h0M154.4 705.3h0M160 706.3h0M155.8 699h0M162.6 708.7h0M162 702h0M159.1 671.9h0M159.6 691.8h0M151.2 696.9h0M157.4 699.3h0M159.4 670.1h0M156.9 687.3h0M154.7 688.5h0M150.9 709.2h0M152 684.5h0M152.4 707.8h0M142.2 690.2h0M147.1 697.4h0M138 699h0M172.6 696.3h0M160.4 678.5h0M154.9 710.3h0M155.8 686.4h0M166 674.2h0M160.6 674.2h0M156.6 676.9h0M152.5 669.8h0M167.8 707.7h0M163 721.8h0M162.7 665.9h0M156.4 670.7h0M154.1 697.6h0M154.8 697.2h0M147.3 708.7h0M166.4 700.8h0M161.6 683.8h0M166.9 708h0M160.6 705.4h0M149.9 699h0M145 689.8h0M157.4 694.3h0M167.6 694.1h0M145.1 697.1h0M150.5 703.6h0M155.4 662.4h0M146.2 697.1h0M133.6 679.8h0M152.1 691.7h0M150 683.5h0M148.1 701.9h0M138.3 703h0M154.6 719.8h0M147.4 706.3h0M134.9 692.4h0M149.9 704.1h0M148 691.7h0M142 695.8h0M179.7 689h0M149.9 674.7h0M145.3 682.3h0M148.7 701.4h0M157.5 684.8h0M166.4 660.2h0M154.9 696h0M153.6 692.5h0M152.7 705.1h0M153 681.3h0M153.3 678.7h0M157.6 704.9h0M155 710.1h0M152 691.9h0M158.5 679.2h0M146.6 688h0M147.4 683.5h0M149.3 669.3h0M151.4 682.6h0M151.6 668.9h0M156.3 699.8h0M152 686.8h0M155.4 699.9h0M155.9 688.4h0M149.8 682h0M154.6 703.6h0M167.6 696.4h0M158.9 695.6h0M158.2 706.4h0M150.8 709.7h0M155.7 680.4h0M146.7 692.8h0M155.1 704h0M161.1 672.5h0M151.9 688.5h0M163.3 695.8h0M177 681.3h0M163.5 700.3h0M163.9 700.7h0M149.1 683.2h0M146.3 707.6h0M164.2 686.2h0M152.7 674.2h0M167.4 702.1h0M151.6 726.8h0M151 707.7h0M152.7 698.9h0M159.1 690.7h0M148.7 683.6h0M154.3 712.1h0M155.3 707h0M151.8 705.1h0M166.2 680.6h0M162.8 702.7h0M151.3 672h0M153.1 689.2h0M160.7 712.6h0M155.4 683h0M152.7 673.1h0M172.5 685.1h0M156.5 675.4h0M167.5 687.3h0M167 696.9h0M140.5 693.5h0M162.8 708h0M156.4 675.5h0M143.1 716.5h0M145.6 719.6h0M163.7 712.2h0M149.7 700.8h0M161.2 702.3h0M149 698.2h0M171.9 707.4h0M160.4 691.3h0M158.4 694.2h0M160.1 700.4h0M150.7 697.8h0M161.4 688.9h0M151.7 676.2h0M163 702h0M154.8 700.6h0M146.7 695h0M157.5 670.9h0M140.7 712.5h0M170.5 699.7h0M149 696.7h0M152.2 697.4h0M150.5 683.3h0M163.4 717.6h0M155.8 678.2h0M154.3 675h0M145.5 696.1h0M155 689.4h0M161 678.2h0M155 697.5h0M146.9 721.3h0M142.6 667.1h0M149 698.3h0M146.8 722.9h0M151 683.4h0M151.3 696.5h0M144.8 690.9h0M173.6 710.2h0M166.8 656.1h0M154.4 704.9h0M151.5 680.7h0M145.2 684.3h0M160 712.5h0M144.2 702.3h0M149.8 684.1h0M155.9 690.7h0M153 714.7h0M162.9 699.2h0M155.8 697.4h0M155.6 703.9h0M157.3 689h0M168 671.4h0M146.5 705.2h0M158.9 679.7h0M142.9 702.9h0M155.8 690.4h0M163 699.2h0M163.7 679.1h0M157.3 686.1h0M149 694.4h0M142.4 693.6h0M163.2 676.8h0M154.5 681.3h0M164.2 694.4h0M151.1 716.9h0M152.8 709.5h0M152.3 715.9h0M146.6 693.8h0M148.6 676.2h0M163.7 714.6h0M168.7 717.7h0M154.7 706.1h0M152.4 701.1h0M154.9 701.1h0M172.2 689.3h0M140.2 701.9h0M159 699.8h0M152 673.5h0M144.5 684h0M146 692.5h0M153.8 693.9h0M137.3 681.6h0M154.9 686.6h0M156.4 683.8h0M153.3 672.6h0M152.9 678h0M164 691.6h0M151.2 701.5h0M163.6 685.4h0M157.6 713.7h0M154.1 695.3h0M160.8 706.3h0M165.7 703.6h0M157 717.8h0M164.9 710.1h0M144.3 680.8h0M164.9 696.4h0M160.2 722.7h0M161.9 689h0M133.6 690.7h0M151.6 686.6h0M157.7 675.2h0M161 699.7h0M167.4 688.2h0M153.1 697.8h0M154.1 699.4h0M160.8 725.5h0M150.5 699.2h0M165 699.1h0M159.7 684.8h0M159.5 699.4h0M153.2 690.2h0M166.8 714.5h0M171.1 689.9h0M163.6 720.1h0M152.5 706.8h0M147.2 681.8h0M175.3 695.2h0M160.6 693.5h0M146.1 695.4h0M145.5 703.4h0M163.6 696.1h0M157.8 682.1h0M171.7 665.4h0M145.6 673.8h0M156.2 718h0M168.7 674.4h0M145.4 695.1h0M155.7 682.4h0M151.8 702.6h0M162.9 686.6h0M145.5 697.9h0M136.3 694.1h0M149.9 689.3h0M140 718.2h0M172.9 712h0M152.4 698.3h0M157.6 679h0M134.5 704.8h0M162.4 693.1h0M141.6 704.5h0M157.9 700.1h0M156.6 697.1h0M145.6 703.9h0M143.3 679.8h0M158.3 705.8h0M148.7 687.3h0M143.3 691h0M137.8 689.5h0M148.7 697.4h0M167.1 718.3h0M148.6 717.9h0M148.6 697.6h0M153.6 734.4h0M158.7 697.2h0M164.9 711.9h0M161.8 699.4h0M148.4 683.5h0M158.1 720.1h0M139.9 708.6h0M147.6 701.6h0M154.3 699.6h0M143.3 711.9h0M173.9 717.7h0M150.6 692.8h0M152.6 699.6h0M162.9 707.3h0M148 720.4h0M161.8 711.6h0M149.8 701.8h0M155.8 689.6h0M146.2 690.6h0M153.2 680.1h0M163.6 695.2h0M151.6 711.4h0M171.1 727.6h0M145.5 676.2h0M164.1 700.4h0M159.4 698.8h0M142.7 706.3h0M161.9 720.5h0M168.1 714.7h0M159.2 703.4h0M157 683.3h0M168.4 681.2h0M154.2 696.3h0M176.5 695.8h0M149.8 693.5h0M161.7 689h0M160.2 704.8h0M156.5 683.9h0M145.2 690.6h0M169.7 755.4h0M172.6 745.3h0M161.3 758.2h0M159 731.4h0M165.2 764h0M146.7 733.5h0M152.5 753.7h0M168.1 741.4h0M158.4 746.5h0M150.5 765.2h0M127.9 736.1h0M165.7 748.6h0M137.6 742.9h0M156.5 760.3h0M149.6 733h0M152.8 745.9h0M142.7 752.3h0M140 744.7h0M169 747.9h0M162.6 756.9h0M151.5 731.5h0M154.3 743.5h0M151.2 748.3h0M150 760.6h0M165.2 746.7h0M162 739h0M157.4 754.9h0M167.6 727.8h0M158.8 741.7h0M163.5 733.5h0M148.9 742.1h0M152.4 728.7h0M163.6 737.6h0M160 752.4h0M146.6 748.4h0M155.2 730.5h0M181.6 756.4h0M176 742h0M156 735.7h0M136 747.1h0M157.8 754.3h0M158.1 767.9h0M141.5 724.1h0M149.6 731h0M160.5 746.8h0M142 732h0M167.7 745h0M147 738h0M177.7 751.6h0M154.2 746.5h0M152 747.9h0M145.6 746.6h0M157.1 748.6h0M159 744.3h0M151.5 748.8h0M176.2 742h0M145.7 744.7h0M168.9 738.3h0M183 730.4h0M157.8 744.9h0M157.5 758.8h0M167.2 739.2h0M160.9 722.8h0M144.8 751.6h0M163.3 747.7h0M158.7 730.7h0M156.4 746.2h0M159.2 740.5h0M147.4 764.6h0M153.1 735.5h0M185.3 756.4h0M153.3 746.8h0M167.6 749h0M161.8 755.7h0M158.3 729.2h0M174.7 737.2h0M146.3 738.3h0M142.8 734.9h0M157.2 733h0M153.3 764.7h0M157 745.8h0M142.2 755.1h0M173.7 768.1h0M147.7 756.3h0M137.4 736.7h0M159.4 740.4h0M160.2 743.4h0M163 744.4h0M155.3 751.8h0M160.1 738.3h0M159.6 759.4h0M153.6 747.4h0M157.6 752.7h0M165 729.6h0M158.1 745.8h0M155.4 742.9h0M148.4 744.8h0M175.7 721.9h0M150.5 725.8h0M150.4 738.1h0M140.6 733.7h0M152.7 733.7h0M142 740h0M163.2 742.4h0M172.1 758.6h0M160.5 733.2h0M145.2 716.5h0M157.5 746.1h0M143.8 734.5h0M157.4 755.3h0M161.9 737.4h0M159.1 729h0M164.6 743h0M151.9 768.1h0M142 751.2h0M167.2 756.2h0M153.3 734.8h0M153.4 752.9h0M140.7 735.4h0M159.9 737.6h0M144.7 734.7h0M152.1 737.6h0M154.7 726.3h0M144.2 763.4h0M165.4 740.8h0M179.7 760.3h0M134.6 748.3h0M162.9 755.7h0M160.8 762.1h0M145 752.7h0M164 752.6h0M143.4 733.9h0M143.9 738h0M149.8 758.2h0M137.8 712h0M148.6 753h0M162.3 738.1h0M142.5 728.8h0M155.9 758.9h0M156.4 763.8h0M143.3 754.3h0M163 765.6h0M159.9 727h0M156.7 738.6h0M172.7 764.8h0M160.9 756.6h0M162.9 735.5h0M162.1 736.1h0M155.6 764.2h0M175.3 753.8h0M148.1 742.3h0M149 775h0M153.8 723.4h0M175.2 738.8h0M156 757.8h0M159.2 733.8h0M161.7 731.7h0M139.1 746.3h0M163.4 733.7h0M153.4 726.2h0M167.7 729.2h0M134.7 728.9h0M156.1 746.9h0M149 752.1h0M171.1 729.8h0M152.2 723.5h0M161.2 703.6h0M137.6 755.4h0M151.7 736.8h0M150.5 735.7h0M152.8 762.2h0M173.1 756.4h0M164.7 752.6h0M164.5 727.8h0M157.5 743.2h0M169.7 733h0M139.2 734.9h0M154.4 741.1h0M146.9 745.4h0M145 749.4h0M138 737.2h0M147.3 742h0M160.2 733.1h0M150 728.4h0M140.9 732.2h0M166.7 737.8h0M131.7 734.5h0M160.7 736.1h0M156.5 736.5h0M159.2 736.8h0M166.2 758h0M178.6 735.2h0M153 736.4h0M150.6 742.7h0M156.9 772.8h0M151.4 744.7h0M148.5 728h0M167 743.5h0M160.2 711h0M169.5 737.6h0M160.9 757.6h0M155.9 739.4h0M154.5 765.5h0M159.9 747h0M159.3 748.9h0M157 773.6h0M135.5 743.2h0M173.2 760.1h0M155.7 754.5h0M174.4 746.5h0M167.8 744.5h0M169.4 742.7h0M157.2 746.5h0M164.7 752.2h0M152.2 730.9h0M156.2 746.5h0M140.2 752.6h0M151.4 762.2h0M152 733.6h0M157.2 733.5h0M149.2 728.7h0M138.9 739.9h0M148.7 745.9h0M145.9 750.6h0M146.8 741.4h0M133.6 747h0M155.3 724.5h0M155.3 730h0M149 739.6h0M156.1 717.7h0M150.9 755.1h0M157.2 746.4h0M151.7 741.3h0M168.8 723.1h0M168 749.8h0M161.8 739.5h0M163.2 733.8h0M163.6 741.8h0M168.5 734.4h0M144 759h0M148.3 726.9h0M148.7 733.1h0M154.1 727.5h0M156.4 733.9h0M136.5 735.5h0M170 764.5h0M154.4 748.9h0M158.7 753.7h0M168.1 752.8h0M176.2 750.5h0M122.1 743.6h0M182.3 745.8h0M154.9 753.3h0M165.2 725.9h0M165.3 745.3h0M171.7 743.3h0M143 733.1h0M164.1 743.3h0M187 739.7h0M153 733.6h0M152.3 733.5h0M150.7 745.7h0M157.1 734.3h0M145.1 746.5h0M148.3 752h0M155.5 768.8h0M164.2 761.2h0M156.9 739.1h0M180.5 753.7h0M145.4 731.8h0M161.7 737h0M167.4 754.7h0M174.3 752.5h0M153 752.2h0M147.4 729h0M161.8 755.9h0M159.2 762.6h0M151.5 750.7h0M155.4 726.6h0M156.4 735h0M160.7 744.9h0M148.7 733.3h0M163.1 754.6h0M168.4 744.4h0M147.1 741.6h0M162.1 732h0M145.9 727.3h0M177.5 770.8h0M158.5 721.9h0M166.8 748.1h0M161.3 751.5h0M173.9 713.4h0M165.4 725.6h0M159.2 740.6h0M162.5 741.2h0M160.8 747.8h0M157.8 736.4h0M187.9 765.1h0M170.2 756.2h0M140.8 742.8h0M176.6 718.7h0M130.2 769h0M157.9 737.4h0M155.8 714.1h0M140.5 729.1h0M158.5 735.6h0M154.4 756.9h0M163.9 751.4h0M150 766.2h0M147.1 751.7h0M153.3 755.6h0M170.1 749.2h0M136.2 734.9h0M148.1 746.5h0M161.3 747.1h0M163.4 742.8h0M174.9 751.2h0M150.3 726.2h0M164.2 739.9h0M135.1 729.9h0M154.5 729.9h0M173.4 759.8h0M184.5 750h0M154.8 755.4h0M168.8 740h0M149.5 738.9h0M164.5 752.7h0M127.6 742.7h0M159.8 751.6h0M154.1 737.4h0M149.6 723.7h0M160.7 758.9h0M141.5 748.8h0M159.8 752.7h0M181.1 752.8h0M156.1 723.1h0M152.7 741.3h0M144.3 761.1h0M150.4 756.1h0M155.7 752.8h0M150.6 747.8h0M172.6 731.9h0M143.9 746.7h0M162.8 751.1h0M176.4 725.3h0M153 753.9h0M135.7 741.8h0M158.4 722.2h0M151.7 762.2h0M164.9 764.8h0M152.2 742.4h0M174.4 747.1h0M167.2 776.3h0M155.9 736.2h0M169.3 747.5h0M149.4 751.5h0M150.9 744.3h0M166.3 769.3h0M162.5 737.7h0M142.2 746.6h0M159.5 752h0M148.5 728.6h0M156.6 754.5h0M161.7 752.7h0M156.4 742.5h0M173.4 737.1h0M163.6 757h0M161.5 753.4h0M136.5 737.9h0M145.4 733.4h0M148.8 744.2h0M151.9 732.1h0M144.6 759.3h0M147.5 735.6h0M171.3 753.6h0M166.5 756.9h0M153.7 742.5h0M170.7 730.4h0M167.1 711.6h0M141.3 722.5h0M153.7 758.3h0M144.6 734.7h0M151.5 756.7h0M155.8 736.4h0M136.9 761.2h0M169.9 739.1h0M149.4 745.4h0M176.9 765.8h0M132.4 713.1h0M149.9 741.2h0M150.4 748.5h0M162.5 734.9h0M154.2 729.2h0M161.2 744.6h0M176.5 746.4h0M161.4 733.8h0M146 769.5h0M161.6 756.7h0M176 744.8h0M163.6 761.3h0M138.5 739.3h0M143.4 744.6h0M163 748.8h0M158.5 746h0M163.3 747.3h0M157.1 729.8h0M155.3 740.3h0M159.3 765.6h0M160.9 723.2h0M144.3 758.8h0M149 741.7h0M151.5 721.8h0M151 747.4h0M167 746.6h0M159.2 738.9h0M133.8 740.4h0M166.4 744.1h0M183.3 726h0M147.1 745.2h0M148.4 747.2h0M138.6 736.8h0M155.1 738.1h0M167.4 753.4h0M155.9 740.6h0M152.5 762.5h0M157.4 756.3h0M156.6 743.3h0M132.5 765.1h0M157.4 741.1h0M166.7 742.4h0M146.3 748.4h0M148.5 746h0M155.1 719.7h0M166.6 735.7h0M162.5 766.3h0M167.7 734h0M163.6 755.7h0M144.2 735.8h0M134.8 776h0M145.6 756.1h0M157.1 737.6h0M166.9 754.1h0M134.7 741h0M172.2 759h0M161 732.6h0M167.5 747.3h0M167.8 747.5h0M170.4 729.1h0M169.3 731.8h0M152.6 732.8h0M164.9 751.7h0M157.8 729h0M162.7 755.4h0M148.5 704.5h0M163.2 735.6h0M146.3 734.4h0M150.1 731.9h0M167.7 748.6h0M168 754.7h0M162.7 729.8h0M168.8 743.2h0M159.3 753.9h0M163.1 732.3h0M125.7 713.4h0M165 727.8h0M155.1 751.2h0M149.3 741.4h0M161.2 755.4h0M142.3 758.5h0M155.2 769.1h0M146.5 745.4h0M146.8 711.1h0M155.1 753.2h0M165.6 741.7h0M161.6 742.8h0M144.3 737.2h0M161.6 756.4h0M163.2 748.1h0M141.9 746.2h0M160.8 740.2h0M146.1 749.1h0M163.6 751.5h0M169.8 728.8h0M158.9 746.5h0M158.6 732.5h0M122 757.3h0M145.3 725.1h0M175.2 755h0M165.6 738.1h0M147.4 744.8h0M154.1 729.9h0M162.2 758.8h0M157.3 760h0M172.8 742.9h0M157 717.7h0M145.3 759.1h0M161.8 746.6h0M173.9 737.7h0M164.4 750h0M159.2 747.5h0M149.1 767.5h0M131.3 716.1h0M156.5 723.8h0M142.2 750.3h0M151.1 755.9h0M161.6 727.7h0M137.2 735.9h0M156.3 742h0M169 775.2h0M175.8 768.7h0M168.5 716.2h0M150.3 743.2h0M155.8 762.3h0M164.8 759.1h0M151.5 743.1h0M153.2 751.6h0M164.1 750.5h0M157 721.8h0M161.5 760.4h0M155.1 738h0M167.7 742.9h0M153.7 724.1h0M177.2 751.4h0M148 745.8h0M151.6 755.9h0M160.3 748.9h0M143.3 742.5h0M156 717h0M159.4 751.4h0M143 754.2h0M147 735.8h0M173 740.3h0M149.5 729.9h0M141.4 730.7h0M155.4 735.2h0M154.4 749.9h0M149.1 735h0M152 737.1h0M157.9 745.7h0M153 729.4h0M144.6 772.5h0M143.4 746.1h0M166.1 734.9h0M155.2 745.7h0M138.2 753.5h0M159.2 754.8h0M172.6 736.7h0M147.4 741.2h0M153.2 749.5h0M152.2 758.6h0M143.8 737.1h0M163.5 745h0M136.6 729h0M178 739.3h0M158.9 764.6h0M133.7 724.8h0M164.2 727.9h0M161.7 746.7h0M174.2 742.9h0M166.3 735.4h0M155.1 740.5h0M163.5 746.7h0M146.7 769h0M154.2 752.9h0M155.2 755.9h0M150 741.1h0M160.2 754.1h0M134 739.6h0M146.4 732.7h0M160.1 769.8h0M170.5 751.3h0M169 742.8h0M155.5 770.6h0M162.5 751.7h0M151.4 759.3h0M161.1 742h0M159.4 748.5h0M156.7 746h0M183.9 756.4h0M156.8 731.1h0M156.5 728.3h0M147.1 756.6h0M172.5 739.3h0M145.6 729h0M167.8 750.5h0M171 729.1h0M165.5 752.1h0M152.4 751.3h0M152.8 759.9h0M150.9 768.4h0M156.7 739.2h0M151 760.1h0M145.8 752.1h0M150.9 744.7h0M156.6 755.9h0M142.7 741.8h0M153.6 738.4h0M166 761h0M137.7 752.2h0M151.4 748.4h0M141 732h0M150.8 751.5h0M150.6 739.7h0M158.2 745.8h0M152.7 735.7h0M159.5 754.1h0M167.7 753.7h0M160.1 742.2h0M140.5 726.6h0M137.9 731.7h0M139.1 775.6h0M166.3 738.7h0M173.1 745.2h0M166.2 741.6h0M149.7 747.8h0M153.7 741.9h0M162.6 751.2h0M158.5 758.8h0M161.3 752.7h0M155.4 752.1h0M161.1 739h0M153.8 746.1h0M172.8 755.1h0M146.6 749.9h0M169.3 731.7h0M172.1 758.4h0M148 741h0M159.8 740.6h0M158.9 731.4h0M164 744.8h0M156.3 758.5h0M158.7 767.6h0M148.5 738.5h0M155.7 733.2h0M164.7 741.3h0M176 774.7h0M134.6 724.5h0M156.9 760.8h0M173.4 744.6h0M164.1 748.9h0M149.3 731.9h0M126.4 744.6h0M155.3 732.6h0M164.6 744.3h0M135.7 742.2h0M158.2 748.9h0M165.6 757h0M157.9 753.4h0M156.1 751.2h0M165 740h0M168.9 742.5h0M171.5 730.7h0M145.4 724.3h0M148.6 744.7h0M164.6 740.4h0M161.3 764h0M158.9 727.5h0M150.2 760.9h0M143.8 751.6h0M159.4 723.3h0M135.9 731.3h0M153.1 743h0M158.8 747.5h0M153.4 733.3h0M164.9 747.6h0M142.4 768.5h0M158 726.5h0M182.8 752.2h0M151.8 754h0M147.1 746.7h0M143.7 736.1h0M169.7 745.9h0M163.2 741.3h0M138.2 738.5h0M167.2 745.8h0M178 724.1h0M166.7 743.7h0M158.3 738.4h0M145.6 738.3h0M162.6 741.7h0M188.4 757.2h0M146.2 761.4h0M174.1 759.2h0M170 747.7h0M150.4 743h0M155.8 750h0M172.8 751.5h0M170.8 729.3h0M146.9 766.8h0M166.9 736.9h0M156.1 730.5h0M151.4 754.5h0M157.3 747.7h0M159.9 752.8h0M164.6 732.5h0M154.8 724.5h0M151.4 754.4h0M147.3 711.6h0M163.7 752.1h0M171.6 732.3h0M166 737.9h0M139.3 746.9h0M132.7 722.7h0M159.5 735.6h0M136.4 773.4h0M169.5 737.6h0M153 754.5h0M150.2 749.7h0M168.6 730.8h0M176.8 754.7h0M145 749.5h0M156.8 740.6h0M144.7 750.5h0M157.1 745.3h0M166 762.1h0M175.1 749.4h0M156.2 746.9h0M155.7 751.2h0M161.7 760.4h0M155.7 739.8h0M132.2 755.7h0M143 772.7h0M169 758.2h0M153.1 738.4h0M140.4 733.9h0M141.1 742.4h0M151.3 720.8h0M134.2 739.8h0M174.2 756.9h0M174.3 751.8h0M165.7 725.5h0M176.6 741.1h0M152.2 737.5h0M162.2 759.3h0M145.9 730.5h0M156.8 752.3h0M149.6 742.3h0M157.5 747.1h0M156.6 739.5h0M142.6 754.9h0M152.3 731.3h0M159.8 728.8h0M149.3 746.3h0M175.6 736h0M142.4 748.2h0M156.7 734h0M138.6 747.7h0M156.4 735.8h0M178 770.9h0M163.7 716.9h0M138.3 723.9h0M195.7 730.6h0M160.2 742.5h0M153.7 706.4h0M180 700.9h0M163.7 756h0M173.7 736.2h0M151.7 720.4h0M158.5 668.9h0M176.5 737.5h0M154.8 736.5h0M155 761.1h0M148.7 729.7h0M160.9 700.7h0M163.7 671.2h0M145.6 706.3h0M162.3 674.1h0M144.4 716.4h0M144.8 775.2h0M167.3 699.2h0M164.7 697.2h0M183.7 705.4h0M137.7 700.2h0M169.3 700h0M152.1 729.9h0M186.8 692h0M169.3 717.4h0M152.1 730.8h0M155.6 720.3h0M134.9 747.9h0M145.3 741.6h0M150.6 696h0M179.6 736.2h0M169.4 660h0M155.2 751.5h0M164.4 743.9h0M151.3 707.6h0M151.3 693.7h0M146.6 686.3h0M138.3 744.9h0M144.1 694.2h0M140.6 699.1h0M165.7 669.9h0M147.4 742.3h0M141.4 731.8h0M155 650.9h0M167.8 740.4h0M142.8 699.9h0M166.8 713.7h0M197 718.3h0M156.7 708.3h0M152 705.5h0M143.3 697.6h0M141.6 780.9h0M165.8 706.7h0M189.8 716.4h0M142.3 698.2h0M135.7 667.4h0M158.1 679.9h0M172.7 698h0M110.1 701.4h0M120.3 731.5h0M150.7 732.4h0M197.7 682.3h0M166 731.8h0M157.3 681.5h0M174.9 716.1h0M142.5 721.3h0M142.1 722.8h0M153.4 721.1h0M169.8 750.3h0M161.4 734.4h0M158.7 730.4h0M139.2 739.7h0M151 718.3h0M148.6 700.8h0M163.3 717.5h0M143 696.4h0M167.2 700.4h0M160.6 715.7h0M156.8 725.8h0M148.6 714.8h0M185.7 701.3h0M153.8 717.3h0M165.4 715.2h0M153.2 702.3h0M147.1 696.2h0M155.1 715.9h0M149 701.3h0M162 720.7h0M125.1 722.4h0M186.4 687.3h0M162.8 696.9h0M143.2 755.3h0M179.3 717.1h0M155.8 687.3h0M137.5 681.3h0M158.5 702.6h0M165.6 721.3h0M155.3 708.6h0M140.7 739.6h0M147.7 704.9h0M168 726.7h0M136.5 710.9h0M148.1 734.8h0M145.8 692.9h0M161.1 689.7h0M127.5 699.8h0M158.1 734.3h0M196.9 751.8h0M130.8 695h0M136 692.6h0M165.8 711.3h0M149 735h0M148 729.9h0M170.5 701.4h0M143.1 712.7h0M159.2 710.4h0M163.6 738.6h0M125.8 695.8h0M147.1 727.5h0M172.1 706.6h0M157.2 732.4h0M152.4 640.6h0M152.5 766.8h0M166.2 674.3h0M160.5 710.8h0M152.1 722.9h0M174.4 721.4h0M149.4 681.6h0M167.8 716.8h0M178.7 723.1h0M131.5 717.1h0M173.8 725.3h0M134.9 697h0M158.3 724.4h0M159.8 695.4h0M168.2 704.3h0M139.3 669.9h0M180.1 747.5h0M161.9 680.6h0M147.7 693.3h0M159.2 728.8h0M169.1 676.9h0M138.1 736.1h0M139.3 723.9h0M153.1 734.4h0M178 719.1h0M147.5 672.5h0M135.4 699.7h0" stroke="#f09ade" stroke-width="1.75" stroke-linecap="round" fill="none"/>
<ellipse cx="161.5" cy="700.5" rx="11" ry="10.5" fill="#9a4a8d"/>
<path d="M158.4 694.2h0M180.1 691.9h0M145.4 700.5h0M155.4 695.6h0M166 695h0M163.9 697.4h0M164 680.7h0M174.5 688h0M158.7 688.6h0M161.3 672.4h0M162.3 700.7h0M144.8 702.4h0M156.4 700.7h0M162.4 706.5h0M168.7 686.6h0M176.6 705h0M151.2 709.5h0M154.4 674.1h0M153 691.6h0M138.5 680.4h0M162.7 682.8h0M146.3 700h0M150.3 698.4h0M171.6 702.5h0M171.8 698.5h0M167.3 725.9h0M158.9 728.7h0M159 702.9h0M166.4 698.5h0M160.3 710.3h0M170 698.9h0M167.5 684.5h0M156.8 698.6h0M156.5 711.9h0M135.3 694.5h0M157.5 698h0M153.2 705.3h0M164.1 724.2h0M142.7 693.7h0M169.8 708.9h0M164.9 706.4h0M150.3 695.3h0M143.3 699.7h0M180.7 701.7h0M164.1 684.1h0M172.2 695.8h0M179.6 714.6h0M162.6 700.8h0M174.1 697.2h0M166.6 693.5h0M160 702.1h0M159.6 700h0M156.2 692.4h0M152.4 696.6h0M171.3 683.9h0M155.5 693.3h0M154.2 695.7h0M169 689.2h0M163.3 699h0M165.7 705.7h0M173.8 703.1h0M163.7 707.2h0M160.9 714.8h0M169.6 694.6h0M154.5 697.2h0M174.2 692.4h0M151.1 677.4h0M181.3 689.3h0M156.4 680h0M162.4 716.6h0M168.3 699.8h0M160.3 713h0M184.7 697h0M158.8 707.2h0M153.7 709.2h0M172.5 701.4h0M165 701.3h0M168.8 694.2h0M141.8 690.5h0M154.7 688.4h0M157.8 724.5h0M167.4 694.9h0M162.6 679.1h0M171 701.2h0M178.9 705.7h0M161.4 689.4h0M165.6 700.1h0M151.5 691.7h0M172.6 684.6h0M159.5 692.5h0M154 700.2h0M175.5 702.9h0M174.9 678h0M152.8 696.5h0M156 687.2h0M153.9 692.3h0M167.5 711.4h0M164.2 696.8h0M149.7 695.1h0M168 702.8h0M166.4 690.6h0M157.4 708.6h0M163.3 702h0M154.9 695.9h0M175.3 701.6h0M154.6 702.4h0M162.1 716.5h0M181.2 690.2h0M163.8 681.9h0M157.5 690.2h0M162.2 688.1h0M165.3 689.9h0M183 692.8h0M165.1 707.6h0M155.6 707.1h0M161.6 697.9h0M163.8 699.3h0M170.3 700.3h0M168.2 690.2h0M157 697.4h0M171.9 703.6h0M171.8 718.1h0M171.4 689.9h0M158.4 689.7h0M158.1 697.6h0M164.7 690.9h0M169.7 709h0M162.5 708.9h0M169.4 683.7h0M165.3 692.1h0M165.1 707h0M165.9 695.8h0M173.2 710.8h0M147.3 700.2h0M149 694h0M168.3 694.6h0M156 716.3h0M159.3 716.7h0M145.9 697.1h0M168.5 694.3h0M145.9 701.3h0M154.2 708.9h0M170.5 692.7h0M157.7 683.5h0M150.8 706.6h0M159.5 691.4h0M158.3 691.6h0M158.6 697.4h0M162.9 700.1h0M143.9 697h0M156.5 701.2h0M174.6 693.5h0M162 696.2h0M147 701.7h0M174.2 705.2h0M149.6 709.3h0M153.5 703.4h0M160.2 714.1h0M182.8 716.7h0M161.8 695.5h0M163.1 708.7h0M178.7 699.9h0M151.2 692.5h0M179.6 694h0M168.4 696.3h0M152.5 689.2h0M176.6 711.3h0M174.1 700.5h0M162.3 694.7h0M173.6 705h0M154.4 714.5h0M168 699.6h0M165.1 721.1h0M165.5 702.5h0M158.8 700.3h0M155.7 705.2h0M155.5 691.3h0M167.5 696.2h0M152.9 694.4h0M169.5 693.8h0M152.4 723.9h0M162.3 703.2h0M161.3 692.4h0M159 713.9h0M168.2 692.6h0M160 695.5h0M153 699.7h0M165.6 711.2h0M157.2 705.8h0M163.9 704.3h0M158.1 678.6h0M174.1 698.8h0M159.5 699.1h0M170.2 696.8h0M169.2 700.3h0M166.4 694.1h0M175.3 696.6h0M152.4 698.2h0M147.8 689h0M148.1 696.6h0M161.4 677.6h0M155.4 707.7h0M159.4 697.5h0M156.9 705.6h0M154.8 696.1h0M160.5 710.5h0M152.9 682h0M141.7 691h0M165 692.4h0M163.3 706h0M163.5 696.5h0M167 680.9h0M158.2 696.8h0M164.2 706.1h0M172.3 709.3h0M158.6 693h0M170.8 688h0M178.5 704.5h0M159.4 702.9h0M173 709.6h0M175.8 700.9h0M162.1 692.4h0M172.9 704.5h0M166 701.2h0M162.1 702.5h0M171.2 683.1h0M167.6 715.2h0M176.2 701.1h0M153.1 703.5h0M152.7 682.7h0M169.3 691.5h0M156.4 702.1h0M155.4 698.9h0M156.1 694.5h0M156.9 719h0M171.7 713.5h0M153.7 691.4h0M159.5 691.3h0M162.5 702.5h0M176.8 704.3h0M160.5 705.1h0M167.7 724.6h0M172.6 683.9h0M154.3 717h0M161.9 713.1h0M170.2 713.9h0M158.3 701.3h0M164.3 691.1h0M169.3 706.8h0M155.2 706.5h0M149.8 682.7h0M157.6 718.2h0M157.4 684.2h0M164 679.4h0M162.5 686.4h0M168.8 711.2h0M142.7 702.4h0M168.8 687.7h0M170.9 702h0M181.1 681.8h0M168.1 693.2h0M163 674.7h0M161.2 702.9h0M169.5 724.4h0M167.9 700.9h0M153.5 688.8h0M169.2 693.6h0M141.5 698.1h0M156.7 699.1h0M169.2 704.2h0M173.5 716.4h0M155.8 702.6h0M164.3 704.2h0M161.4 686.8h0M165 699.9h0M170.7 694.9h0M152.9 711.6h0M155.6 688.3h0M144.5 708.3h0M155.8 717.6h0M167.4 698.3h0M164.5 693.8h0M157.1 701.9h0M165.6 713.3h0M159.7 696.8h0M156.4 689.9h0M180 700.1h0M151 701.7h0M166.7 688.6h0M162.5 698.8h0M168.7 693h0M163.6 693.4h0M168 705.3h0M169.3 692.4h0M167.8 704.2h0M150.2 686.6h0M147.3 701.5h0M167.9 697.6h0M147.5 701.9h0M156.2 696.8h0M169.8 713.3h0M149.5 692.2h0M179.1 684.8h0M162.1 700.4h0M161.3 680.5h0M165.8 709.1h0M162.6 691.7h0M147.2 697.4h0M158.7 699.9h0M153.8 701.7h0M151.9 698.2h0M176.8 703.6h0M171.1 695.6h0M157.3 711.4h0M151.1 691.9h0M165.9 687.2h0M165.3 696.3h0M167.3 710.6h0M155.5 703.3h0M162.4 688.4h0M169 708h0M172.1 708.9h0M163.6 698h0M156.5 694.6h0M159.4 689.8h0M179.1 708.7h0M157.8 712.6h0M165.3 692.8h0M174.9 692.3h0M158.6 699.6h0M176.1 704.8h0M149.4 705.9h0M173.7 693.8h0M177.5 703.8h0M171.1 712.8h0M168.4 697.2h0M160.4 694.3h0M154.4 704.8h0M176.3 701.2h0M173.6 700.9h0M159.7 680.7h0M153.7 702.3h0M180.4 712.8h0M167.4 701.7h0M166.9 705.1h0M160.2 714.5h0M169.3 675.9h0M160.5 706.7h0M168 705.4h0M170.4 688.3h0M167.6 680.9h0M173.7 710h0M169.6 691h0M160.6 688.9h0M159.8 716.4h0M160.9 707.2h0M149.9 709h0M164.5 687.8h0M157.2 709.3h0M157.8 691.2h0M160.9 695.4h0M169.8 698.1h0M152.6 678.3h0M175.3 691.7h0M166.8 698.6h0M149.2 697.8h0M155.4 696.2h0M158.1 714.3h0M179 701.4h0M156.4 699.7h0M163.7 697.8h0M159.3 703.2h0M168.2 704.8h0M186.9 696.6h0M172.7 677.4h0M160.6 701.3h0M147.4 708h0M168.9 694.5h0M158.4 699.9h0M149.4 687h0M154.7 687.6h0M156.7 691.7h0M152.7 704.4h0M176.7 706.3h0M162.8 689.2h0M166 697.6h0M146.3 698h0M158.7 695h0M167.1 704h0M169.3 692.5h0M160.3 706.6h0M166.8 717.3h0M167 696.2h0M181.7 709.7h0M154.9 708.8h0M162.1 690.1h0M141.9 707h0M151 691.7h0M151.7 696.2h0M159.9 686h0M170.8 705h0M171 691.8h0M164.8 701.9h0M180.1 706.1h0M161.7 709h0M152.6 685.1h0M173.1 706.1h0M160.3 676.6h0M164.1 707.2h0M166.3 710.2h0M170.8 680.5h0M157.4 704h0M153.5 695h0M164.7 690.8h0M165.3 699.1h0M161.6 704.4h0M164.5 692.9h0M161.8 712.5h0M153.1 708h0M173.6 708.9h0M149.5 702.7h0M182 685.2h0M165.1 707h0M152.8 687.7h0M181.9 697.6h0M147.3 680.5h0M173.2 694.3h0M162.2 716h0M166.3 695.7h0M144.5 706.4h0M173.7 710.7h0M157.4 710.9h0M148.3 699.1h0M165.8 709h0M171.3 704h0M160.7 713.1h0M154.8 690.6h0M172.2 687.6h0M156.4 699.3h0M176.6 691.8h0M171 698.8h0M160.3 695.4h0M146.9 695.9h0M153.2 692.5h0M145.4 681.6h0M158.6 691.5h0M156.3 701.7h0M157.4 690.5h0M164.6 685.5h0M161.4 708.2h0M159.4 700.4h0M169.5 685.3h0M167.4 700.5h0M146.5 709.5h0M153.8 690.1h0M155.5 694.9h0M158.2 690.8h0M155.3 707.9h0M161.4 700.2h0M149.6 697.3h0M163.2 717.3h0M162.4 683.6h0M165.8 685.6h0M162.2 690.9h0M145 697.2h0M169.5 705.6h0M160.2 689.3h0M154.9 695.5h0M171.3 699.9h0M180.1 684.3h0M160.4 703.6h0M176.9 686.4h0M159.3 707.7h0M161.9 696.8h0M160.9 698.6h0M163.3 686.8h0M153.4 688.5h0M161.1 726.1h0M163.5 715.2h0M175.4 709.4h0M163.9 701.9h0M161.4 688.2h0M169.1 700.6h0M160.9 691h0M159.9 704h0M154.3 704.9h0M166.1 686.7h0M157.9 678.9h0M155.4 702.2h0M154 692.5h0M178.4 685.2h0M157.8 698.3h0M154.6 719.8h0M137.6 688.7h0M158.8 700.2h0M160.8 709.2h0M157.3 697.8h0M163.1 702.2h0M162 693.1h0M169.8 696.9h0M158 712.9h0M151.4 694.6h0M167 720.8h0M149.7 695.4h0M164.8 698.1h0M174.2 712.3h0M138.5 687.6h0M144.6 695.9h0M172 715.8h0M167.1 718.9h0M151.2 691.6h0M152.4 710.3h0M178.6 699.9h0M159.7 694.2h0M157.3 687.9h0M172.4 707h0M164.2 691.7h0M184.3 698.8h0M174.9 708.7h0M158.4 697.5h0M170.6 679h0M171.7 680h0M174.4 711.7h0M181.4 685.7h0M173.6 705.5h0M168 691.1h0M172.6 703h0M158.3 715.4h0M155.3 707.3h0M179.1 699.9h0M162.8 701.2h0M183.9 693.7h0M155.6 701.2h0M154.9 691h0M181.1 696.1h0M169.4 701.2h0M153.1 700.9h0M172 708.7h0M178.2 704.4h0M151.3 694.3h0M172.2 704h0M164.5 694.2h0M169.6 712.1h0M170.8 708.1h0M152.2 706.9h0M162.2 703.7h0M166.4 716.8h0M172.4 715.5h0M154.9 700.5h0M178.4 716.3h0M181.7 687.9h0M162.3 697h0M175.5 697.3h0M148.9 683.4h0M156.9 695h0M169.6 705.6h0M174.8 708.7h0M178 712.3h0M176.5 703.2h0M164.8 686.8h0M161.8 690.4h0M155.1 721h0M169.1 684.3h0M159.5 689.7h0M171.7 698.4h0M172.4 698.1h0M168.8 694.1h0M166.9 700.2h0M154.1 711h0M151 704.3h0M155.7 709.1h0M146.1 709.1h0M170.5 690.3h0M136.6 691.1h0M163.9 707.2h0M151.4 706.4h0M163.6 696.4h0M161.8 703.4h0M173 680.2h0M171.2 705.4h0M164.7 704.8h0M151.7 693.6h0M158.4 710.6h0M157.6 677h0M161.2 704.1h0M150.8 695.1h0M166.7 692.3h0M160.3 696.1h0M173.8 705.4h0M175.2 696.9h0M166.5 695.1h0M152.9 702.6h0M156.3 695.5h0M168 706h0M146.6 711h0M165.5 705.4h0M155.3 696.3h0M156.4 697.1h0M171.2 709.2h0M167.7 697.8h0M139.9 690.2h0M156.8 727.2h0M150.4 702.1h0M179.2 708.4h0M171.8 698.6h0M171.2 701.2h0M154.9 701.9h0M160.3 687.1h0M155.4 701.8h0M162.5 712.5h0M165.8 694.9h0M167.8 721.7h0M164.2 706.9h0M149.5 696.5h0M165.6 711.1h0M168.5 694.5h0M155.3 695.4h0M175.4 685.8h0M171.9 686.4h0M161 680.8h0M146.7 706.7h0M150.9 689.2h0M164.4 710h0M180.3 686.5h0M173.9 684.1h0M162.8 683.1h0M155.1 707.9h0M170.2 709.8h0M170.2 700.7h0M165.3 698.6h0M151.4 684h0M158.6 691.3h0M150.6 704.1h0M164.3 692.3h0M160.9 682.8h0M150.1 708.4h0M155.7 714.7h0M154.9 676h0M158.2 698.3h0M170.5 705.7h0M166.3 708.9h0M157.5 699.4h0M156.4 728.8h0M161.1 704.3h0M165.7 699.5h0M164.3 689.5h0M160.5 687.1h0M166.7 701.2h0M149.7 675.4h0M144.4 701.2h0M158.7 708h0M159.1 718.4h0M163.3 697.9h0M148.9 722.7h0M149.7 696.2h0M148.8 701.5h0M165.9 695.8h0M162.6 693.6h0M173.2 689.2h0M166.5 704.1h0M179.1 688.6h0M171.5 689.4h0M148.9 696.9h0M161.5 694.3h0M138.2 718.9h0M163.3 696.7h0M166.5 685.3h0M171.7 708.9h0M170.6 700h0M158.2 699.2h0M180.8 708.7h0M170.8 693.4h0M162.8 705.5h0M155.4 699.5h0M172 684.6h0M155.5 692.9h0M172.4 709h0M168.7 705.1h0M167.4 704.3h0M163.9 701.7h0M172.3 680.5h0M174.1 716h0M155.1 692h0M160.8 699.3h0M156.8 692.2h0M164.5 689.3h0M174.3 692.6h0M166.2 687.6h0M175.6 700.2h0M162.4 694.3h0M169.2 711.3h0M150.7 703.5h0M161.3 693.1h0M156.1 696.7h0M158.5 693.8h0M170.1 689.1h0M170.9 690h0M158.3 700.3h0M157.4 693.3h0M166.9 712.9h0M158.5 688.3h0M146.7 709.1h0M156.3 700h0M164.1 706.7h0M172.7 714.2h0M161.7 690.9h0M166.7 699h0M167.9 715.6h0M170.5 698.2h0M179.5 697.3h0M158.5 710.5h0M153.8 690.3h0M139.3 689.2h0M179.9 688.2h0M178.6 693.1h0M156 700.5h0M159.5 695.2h0M165.5 704h0M173.3 711.2h0M162.1 700.8h0M169.2 691.8h0M162.5 712.8h0M176 704.7h0M156.7 698.5h0M169.5 712.1h0M172.6 700.2h0M170.2 699.5h0M163.9 683.1h0M170.9 689.7h0M166.7 692h0M144.3 691.3h0M151.1 722h0M157.4 693.1h0M159.5 678.8h0M157.7 710.6h0M157.7 701h0M142.9 699.3h0M153.2 703.8h0M156.5 703.6h0M154.6 698.9h0M151.6 702.1h0M158 698.3h0M168.3 692.1h0M154.2 686.3h0M158 702.6h0M165.1 684.2h0M174 696.8h0M177 702.4h0M156.4 712.3h0M157.9 700.4h0M141.6 691.9h0M161.7 684h0M164.6 691h0M170.8 698.2h0M155.4 696.5h0M172.5 707h0M162.6 699.1h0M163.2 722.1h0M163.6 708.1h0M158.9 684.1h0M160.9 697h0M163 688.9h0M159.3 688.3h0M175.6 722.4h0M157.9 717.5h0M169.6 704h0M156.7 701.4h0M163.3 692.4h0M153.5 704.5h0M167.6 698.6h0M163.9 695.7h0M151.3 685.3h0M153.9 704.9h0M165.9 694.2h0M195 699.8h0M174 712h0M168 697h0M154 721.9h0M156 704.2h0M168 701.4h0M161.3 697.3h0M150 705.1h0M169.7 698.1h0M184.1 693.4h0M165.3 676.2h0M183.1 709.2h0M147.9 699.7h0M163.5 707h0M149.3 696h0M156.8 709.5h0M168.9 697h0M160.2 694.6h0M172.9 707.4h0M167.4 700.6h0M162.5 688h0M159 697h0M159.4 715.5h0M155 708.3h0M163.7 701.8h0M152.9 704.4h0M147.6 708h0M165.8 687.9h0M168.4 708.4h0M163.7 690h0M163.2 710.4h0M166.1 716.1h0M179.9 697.5h0M161.4 701.2h0M155.7 692.4h0M163.5 701.7h0M148.4 701.2h0M165.7 704.5h0M178.7 683.2h0M155.7 694.9h0M162.6 694.5h0M165.4 712.8h0M173.7 698.5h0M181.2 696.9h0M154.6 694.7h0M164.5 685.4h0M162.3 667.4h0M153.3 717.1h0M169.5 690.4h0M164.3 673.9h0M177 703.6h0M167.4 692.4h0M179.8 704.1h0M159.9 696h0M165.2 694.3h0M165.2 708.7h0M181 698.5h0M165.9 721.3h0M156 698h0M160.5 696.7h0M177.5 680h0M168.1 706.6h0M155.8 714.6h0M164 686.1h0M168.4 696h0M168.2 706.3h0M169.1 690.7h0M151.5 694.8h0M173.5 714.5h0M159.4 697.8h0M170.7 694h0M150.2 692.9h0M169.5 702.4h0M165.3 694.4h0M154.8 711.5h0M156.7 702.5h0M157.1 679.4h0M170.4 715.3h0M161.4 696.9h0M145 705h0M157.2 681.6h0M156.2 709.6h0M155.8 692.6h0M165.1 696.3h0M164.3 711.8h0M162.7 695.9h0M168.8 691.4h0M161.5 704.8h0M151.1 710.5h0M168.5 688h0M157.2 689.1h0M153.6 706.6h0M166.1 712h0M165.8 697.1h0M150.5 709h0M144 709.4h0M160.5 713.3h0M158.8 708.2h0M147.6 707.4h0M161 697.7h0M172.1 674.6h0M169.3 693.8h0M161.9 687.5h0M156.8 694.3h0M171.2 711.3h0M177 717.1h0M191 704.3h0M176.5 692.3h0M147.6 705.6h0M155.3 688.7h0M179.2 699h0M161.4 712.1h0M163.5 685.7h0M173.8 697.7h0M131.6 685.5h0M165.7 698.3h0M161.5 681.2h0M159.9 694.9h0M160.3 698.9h0M171.7 712.8h0M162.2 701.9h0M158.7 683.3h0M155.6 703.4h0M167.7 696.2h0M156.1 679.9h0M166.8 687.3h0M141.7 688.7h0M157.1 698.3h0M159.2 717.7h0M162.9 692.2h0M172.2 701.4h0M158.7 713.1h0M145.5 655.9h0M181.8 696.7h0M163.8 713h0M163.8 706.6h0M151.3 697.7h0M168.6 678.8h0M170 697.7h0M155 676.2h0M169.3 694.6h0M161.4 710.9h0M169.1 689.2h0M150.4 696.2h0M166.6 682h0M154.4 700.2h0M163.5 686.5h0M149.1 697h0M158.9 704.1h0M177.4 697.1h0M171.6 689.4h0M165 686.4h0M156.2 694.4h0M181.5 697.4h0M171.6 683.4h0M167.4 710h0M168.8 697.4h0M175.6 704.7h0M162.5 701.9h0M141.3 696.7h0M156.9 703.8h0M167.1 676.6h0M169.1 698.9h0M162.4 709.1h0M159.7 708.5h0M163.8 708.3h0M154.8 690.5h0M142.9 680.8h0M165.4 681.4h0M181.6 693.7h0M165 707.7h0M158.3 697.7h0M162.3 711.5h0M168.9 712.4h0M161.4 709.4h0M173.3 703.1h0M164.9 695.5h0M163.8 705.6h0M174 692.7h0M172.8 694.2h0M180.5 681.6h0M173.8 712.2h0M166.8 700.6h0M169.3 696.1h0M163.7 704.4h0M167.1 701.8h0M165.2 717.2h0M172.4 704.9h0M158.5 710.2h0M155 713.7h0M161.2 703.1h0M163.7 721.4h0M165.8 714.7h0M157 716.1h0M163.1 690.4h0M165.3 716.4h0M157.5 695.5h0M136.6 698.4h0M171.3 719.5h0M167.5 686.5h0M145.4 709.8h0M160.7 701.9h0M175.2 678.7h0M178.6 702.5h0M164.5 699.8h0M171 695.4h0M145.3 725.9h0M159.4 691.6h0M179.1 698.4h0M170.8 703.2h0M161 712h0M161.9 703.8h0M169.1 711.7h0M170.5 706.2h0M149.5 703.7h0M171.5 709.5h0M162.2 682.4h0M170.5 721.3h0M153.2 704.4h0M139 704.2h0M156 720.3h0M172 714.8h0M148.4 687.9h0M168.5 678.8h0M160.8 701.2h0M154.3 694.8h0M162.8 701h0M164.8 699.5h0M163.6 678.2h0M173.5 702.1h0M154.4 668.5h0M149.9 704.4h0M161.2 695.8h0M169 699.9h0M165.1 695.8h0M142.7 699.3h0M150 704.7h0M160.2 691.3h0M173.6 706.9h0M151.2 699h0M156.3 698.2h0M178.7 709.5h0M163 692.2h0M146.1 696.2h0M158.8 710.2h0M171.9 685.2h0M151.4 694.9h0M160.9 703.8h0M167.7 705.9h0M154.1 695.7h0M170.1 691.6h0M157.9 707.7h0M154 700.7h0M165.1 685.1h0M160.7 697h0M163 692.3h0M166.1 700.5h0M153.3 702.9h0M164.5 703.4h0M163.1 703h0M153.6 704.8h0M176.9 713.7h0M169.6 699h0M164.3 698.1h0M159 679.3h0M147 681.6h0M170.1 699.4h0M167.3 695.6h0M148.7 695.5h0M161.9 704.8h0M164 706h0M162 688h0M155.3 687h0M154.9 703.1h0M161 700h0M159.7 707.8h0M162.7 716.7h0M155.3 700h0M177.8 694.2h0M162.1 706.8h0M147.6 696h0M161 698.9h0M142.3 700.1h0M142.3 716.4h0M185.4 688.8h0M173.9 730.8h0M158 697.6h0M154.8 691.5h0M158.2 710.7h0M160.5 678.1h0M159.1 712h0M155.7 722.4h0M173.1 693.9h0M169.3 701.7h0M166.1 692.8h0M163 678.2h0M158.6 682.7h0M167.4 681h0M164.9 696.1h0M160.1 699.7h0M166.6 689.4h0M167.1 687.1h0M158.3 701.2h0M151.5 701.8h0M157.7 703.1h0M174.2 699.8h0M148.6 690h0M169.2 701h0M150.4 679.1h0M163.7 719.9h0M166.9 694.4h0M160.4 704.5h0M158.6 698.6h0M163.6 696.7h0M150.2 701.5h0M151.6 701.6h0M161.6 702.9h0M168.4 703.7h0M157.4 699.8h0M155.5 693.7h0M165.7 704.3h0M161.1 683.1h0M153.5 687.3h0M171.4 691.8h0M168 688.8h0M164.6 688.7h0M163.6 684.1h0M167.1 712.4h0M167.3 709.2h0M170.5 723.2h0M159.6 690.9h0M140.7 703.3h0M160.6 703.9h0M163.6 691.6h0M166.4 701.5h0M164.9 697.5h0M162.2 700h0M164.8 716.9h0M155.7 691h0M161 700.7h0M154.4 703.1h0M177.3 708.9h0M169.7 700h0M167.1 690.6h0M159.9 701.1h0M162.8 697.4h0M166.3 682h0M169.8 700.7h0M162.8 701h0M159.7 717.6h0M174.4 687h0M172.6 700.4h0M147 715.2h0M161 683.6h0M171.6 701.5h0M181 691.9h0M156.4 697.3h0M165.9 700.9h0M162 712.1h0M172.9 708.3h0M156.8 699.7h0M156.5 679.9h0M161.4 703.8h0M143.8 707.5h0M169.5 690.2h0M159.3 701h0M143.1 710.8h0M174.3 718h0M150.4 696.7h0M165.8 700h0M171.1 687.5h0M157.7 694.6h0M168.2 681.3h0M177.7 714h0M166 693.9h0M158.7 698.8h0M160.2 696.5h0M169.6 700.1h0M143.8 693.2h0M167.6 700.7h0M151.4 702.7h0M162.8 708.4h0M168.3 710.5h0M166.2 706.4h0M168.5 697.7h0M175.8 684.3h0M159.3 701h0M175.9 703.4h0M163.6 686.9h0M186 681.2h0M158.9 705.7h0M156.9 707h0M165.6 708.4h0M149.8 694.1h0M153.8 702.4h0M167 697.9h0M177.8 694.8h0M153.1 705.9h0M170.3 680.3h0M155.9 710.5h0M161.8 693.9h0M164.2 678.1h0M168.8 696.6h0M157.2 718.6h0M155.7 692.2h0M140.1 702.4h0M173.6 709.5h0M156.8 695.5h0M153.6 714.7h0M176.2 687.7h0M166.7 695.6h0M162.5 711.8h0M153.1 702.7h0M151 729.7h0M150.2 692.6h0M158.2 707.9h0M165 693.7h0M167.1 717.5h0M162.6 689.3h0M141 694.3h0M158.8 702.4h0M171.4 718.7h0M172.4 689.6h0M156.1 716.3h0M157.1 692.8h0M175.2 698.2h0M152.2 710.1h0M165.8 689.3h0M156 696.6h0M153.5 710.1h0M177.6 681.1h0M152.2 700h0M178.5 697.8h0M180.3 678.4h0M164.7 699h0M157 698.1h0M156.1 697.2h0M156.3 691.5h0M153.5 702.3h0M164.3 689.1h0M164 707.4h0M155.5 707.9h0M169.6 695.8h0M163.5 695h0M174.6 694h0M160.7 697.5h0M174 692.2h0M158.8 681.4h0M178 712.4h0M141.7 712.9h0M162.6 701.3h0M156.3 713h0M152.6 729.2h0M161.1 699.5h0M160.5 721.1h0M161.6 703.2h0M170.8 694.8h0M162.1 696.9h0M163 709.6h0M166.6 700.6h0M160.8 706.8h0M194.5 693.4h0M165.7 701.3h0M160.2 698.2h0M163.2 712.6h0M164.6 701.8h0M171.5 691.2h0M163.9 696.4h0M174.3 711.6h0M146.9 686.4h0M166.5 701.3h0M152.1 699.7h0M174.1 673.4h0M156.1 709.4h0M163.9 706.4h0M158.8 704.4h0M169.3 696.4h0M144.6 694.2h0M160.6 685.3h0M152.6 700.8h0M172.4 708.7h0M175.4 707.9h0M179.1 706.3h0M172.5 702.3h0M155.9 693.9h0M155.5 701.7h0M144.7 717.4h0M168.5 696.7h0M151.8 687.1h0M147.9 692.9h0M163.6 692.9h0M155 702.4h0M172.6 688.5h0M152.7 690.9h0M169.4 719.8h0M162.1 681.3h0M169 688.3h0M167.4 691.9h0M169.4 703.4h0M157.8 684.1h0M158 711h0M156.3 702.5h0M157.1 705.5h0M163.8 707.9h0M166.3 703h0M154.9 704.7h0M149.8 696.6h0M173.7 710.9h0M155.5 701.8h0M166.9 706.6h0M160.1 711.2h0M183.2 699.1h0M165.5 704.8h0M169.6 693.6h0M155 701.2h0M159.4 686.5h0M151.6 707.6h0M161.5 703.6h0M148.2 719.2h0M165.9 682.2h0M153.5 702.1h0M154.7 702.1h0M149 699.3h0M154.9 705.2h0M156.4 699.5h0M183.3 694.3h0M159.2 699.9h0M160 683.1h0M155.9 706.6h0M162 718.1h0M179.6 698h0M169.5 706.3h0M172.6 690.1h0M164.9 691.6h0M157.2 709h0M152.9 701.4h0M164.4 716.1h0M181.4 695.6h0M164.2 685.5h0M165.2 698.3h0M165.4 705.6h0M162.6 700.3h0M154.6 704.9h0M165.5 685.1h0M166.2 703h0M149.9 703.8h0M171.4 697.6h0M157.8 687.3h0M172.9 706.6h0M169.2 710.3h0M158.7 711h0M177.1 691.7h0M155 682.4h0M175.6 700.5h0M163.7 695.1h0M158.7 701.7h0M155.6 713.1h0M162.4 687.4h0M145.5 706.5h0M157.2 701.4h0M164.6 701.5h0M165.9 694.4h0M167.5 698.3h0M163.2 705h0M165.6 699.7h0M157.7 693.3h0M155.8 697.3h0M159.4 706.2h0M153.2 686.4h0M154.7 698h0M174.9 710.3h0M172.4 699h0M167 711.2h0M160 700.7h0M179.5 688.1h0M151.7 695h0M150.7 704.1h0M165.8 700.2h0M161.5 700.6h0M151.2 710.8h0M164.8 688.9h0M170.4 720h0M157.3 699.7h0M149.3 710.1h0M161.1 716.6h0M172.9 704.9h0M160 686.1h0M164.4 696.2h0M171.8 710.9h0M166.1 686.9h0M149.4 690.9h0M171 705.1h0M176.5 707.6h0M176.5 693.8h0M147.8 688.4h0M163.3 707.1h0M175.7 697.8h0M172.8 689.1h0M148.2 683.5h0M178.4 708.7h0M151.7 694.7h0M170.3 701.3h0M152.8 692.9h0M160 699.9h0M161.1 704.2h0M165.7 697h0M148.1 694.8h0M157.7 705.6h0M156.6 704.1h0M170.6 692.2h0M158.2 699.7h0M163.4 702.8h0M157.3 711.4h0M180.3 710.6h0M168.4 699.7h0M163.3 715.3h0M163.2 693.4h0M164.9 698h0M159.5 698.8h0M162.1 718.3h0M152.2 700.6h0M159.2 689.3h0M157.1 703.7h0M171.9 698.4h0M164.6 696h0M149.2 715.9h0M167 692h0M158.8 700.1h0M150.2 701.7h0M167 701.4h0M158.4 706.1h0M159.9 708.7h0M150.3 697.1h0M163 687.5h0M160.1 694h0M155 698h0M166.5 694.7h0M152.9 705.4h0M152.9 693.9h0M164 695.8h0M176.6 696.8h0M153.4 708.3h0M162.8 692.2h0M163.5 688.9h0M166.8 693.7h0M164.4 699.9h0M166.5 720.8h0M159.9 700.2h0M157.4 687.4h0M148.8 698.1h0M177 707.6h0M160.3 714.4h0M156.3 692.5h0M166.9 701.1h0M157.7 698.9h0M151.5 684h0M165.1 691.4h0M167.8 720.2h0M155.9 699.1h0M152.1 692.4h0M146.3 693.8h0M158.3 718.2h0M159.2 712.9h0M150.2 678.5h0M165.1 709.7h0M169.1 703.4h0M162.5 707.3h0M151.1 693.1h0M159.7 698h0M159.4 705.6h0M172.6 691.2h0M164.5 697h0M178.2 703.1h0M168.5 690.5h0M165.7 705.5h0M178.7 688.7h0M157.4 699.1h0M160.6 693.5h0M168.1 682.1h0M158.5 686.2h0M173.1 687.2h0M168.1 696.7h0M172.5 702.6h0M171.6 698h0M158.7 725.3h0M163.8 692.8h0M158.1 709.4h0M152.5 692.3h0M176.4 698.5h0M166.1 697.9h0M155.1 701.7h0M149.3 700.4h0M159.9 701.3h0M151.4 712.8h0M168.6 710.6h0M165.4 692.5h0M154.2 705.2h0M165.7 676.2h0M161.3 698.5h0M168.5 715.1h0M166.8 714.2h0M169.9 713.9h0M141.7 692.5h0M169.9 715.2h0M150.8 713.6h0M176.3 699.3h0M152.3 719.1h0M152.7 701h0M153.1 694.3h0M176 679.8h0M159.9 698.7h0M149.6 704.5h0M160 683h0M164.3 694.5h0M159.9 700.5h0M154 710.2h0M164.7 706.3h0M151.7 727.5h0M165.3 687.5h0M174 690.4h0M165.7 715h0M165.4 677.1h0M169.2 692.4h0M158.1 710.9h0M163.8 692.3h0M164.4 703.9h0M152.2 704.9h0M142.1 693.6h0M160.5 698h0M152.1 708.1h0M155 691.4h0M158.5 700.7h0M162.8 686.5h0M161.2 689.6h0M161.6 689.6h0M161.9 682.9h0M151.7 685.7h0M172.3 692.6h0M159.2 696.3h0M156.8 684.5h0M160.8 709.2h0M149 701.3h0M161.8 709.5h0M147.9 685.8h0M148 707.3h0M150.8 693.8h0M159.8 707.5h0M169.1 697.4h0M180.7 684.6h0M168.9 717.5h0M170.9 694.3h0M152.6 693h0M165.6 708.4h0M148.3 693.9h0M165.3 713.3h0M156 707.7h0M154.6 712h0M157.6 707.8h0M178.2 701.3h0M158.7 718.3h0M161.5 710h0M157.3 688.9h0M158.3 689.4h0M179.7 704.4h0M178.4 687.7h0M164.4 700h0M161.5 681.5h0M170.3 694.1h0M158.3 693.8h0M159.1 703.4h0M176.1 673.6h0M156.8 701.1h0M181.6 695.5h0M155.8 691.6h0M174.8 688.7h0M150.8 706.5h0M167.8 672.4h0M151.5 667.1h0M171.4 695.9h0M160 692h0M172 702.7h0M170.5 711.9h0M161.7 707.1h0M160.1 687.3h0M157.7 701.5h0M148.3 699.1h0M165.2 711.9h0M177.3 691.5h0M148 686.2h0M164.5 688.4h0M167.8 708.3h0M157.9 688.2h0M171.5 690.8h0M149.8 690.6h0M173.4 683.5h0M154.3 701.8h0M160.2 684.1h0M174.7 709.2h0M153.6 698h0M156.8 706.4h0M152.8 695.7h0M167.6 695.9h0M162.9 674.6h0M165.4 709.7h0M160.6 695.6h0M171.9 701.5h0M162.7 697.2h0M160.3 685.6h0M147.3 706.3h0M153.9 688.5h0M168.7 690.2h0M156.2 708.8h0M179 696.5h0M169.7 681.7h0M159.4 719.1h0M165.5 686.8h0M165 684.3h0M141.2 705.4h0M160.2 690h0M151.3 708.3h0M167.2 723.7h0M162.3 692.4h0M148.1 706.7h0M155.8 713.5h0M172.9 694.3h0M164.8 686.9h0M157.9 703.2h0M156.1 701.6h0M164.2 699.3h0M156.1 705.1h0M159.1 705.7h0M157.7 697.9h0M170.4 686.7h0M154.5 702.2h0M168.6 714.9h0M161.8 714.9h0M147.6 700.4h0M162.7 698.6h0M144.7 704.3h0M159.8 710.3h0M178.6 702.1h0M174.5 677.7h0M150.5 703.1h0M167.6 698.1h0M163 691.2h0M159.6 680.4h0M167.3 702.3h0M160.5 687.3h0M153.2 693.7h0M163.6 699.2h0M154.9 690.6h0M178.7 706h0M156.9 694.6h0M167.4 699.7h0M154.7 699.4h0M147.3 706.4h0M146.6 700.5h0M154.5 706.8h0M162.7 685.8h0M170.7 711.1h0M144.9 693.9h0M160.6 708.6h0M153.2 706.9h0M161.9 682.1h0M178.4 694.1h0M165.2 700.8h0M166.7 689.8h0M166.1 704h0M149.9 689.9h0M153.8 698.1h0M165.6 692.7h0M167.9 710.2h0M139.2 708.6h0M150.9 707h0M176 705.4h0M160.2 692.4h0M161.1 712.1h0M159.1 706.1h0M168.8 677h0M176.8 711.9h0M158.1 693.3h0M165.4 690.9h0M172.8 680.4h0M151.3 683.3h0M151.6 684.4h0M153.8 703.4h0M147.1 699.1h0M170.4 687.7h0M158.5 712.2h0M159.9 687h0M164.5 691.2h0M156.1 699.3h0M160.5 704.8h0M167 705h0M172.2 704.4h0M156.6 692.8h0M157.5 692.3h0M173.4 698.3h0M136.1 694.1h0M158.8 700h0M163 702.9h0M162.1 694.5h0M175.2 692.6h0M153.1 682.8h0M172.8 695h0M139.5 707.6h0M159.8 694.7h0M156.4 707.4h0M163.6 702.7h0M160.6 698.4h0M163.7 685.3h0M160.7 689.2h0M180.4 705.6h0M153.1 713.2h0M164.7 690.4h0M165.4 694.8h0M155 698.2h0M147.9 696.1h0M154.5 713.6h0M162.9 697.5h0M156.7 691.4h0M161.2 700.3h0M159.9 729.3h0M149.6 676.4h0M171.9 719.1h0M175.6 685.4h0M157.2 716.5h0M177.8 717.3h0M155.5 671.9h0M154.9 705.2h0M149.4 705.7h0M154.5 699.7h0M162.7 689.1h0M163.5 698.5h0M161.5 691h0M155.5 709.3h0M158.1 693h0M171.4 699.7h0M148.2 696h0M137.7 693.9h0M179.8 692.2h0M177.7 696.1h0M168.9 696.8h0M153.9 714h0M158.9 684.5h0M163.5 701.8h0M158.5 710.5h0M165.5 701.1h0M167.5 671.1h0M162.6 709.1h0M165.8 699.8h0M145.9 700.4h0M164.6 692.3h0M145.1 698.5h0M149.4 696.6h0M149.5 692.1h0M161.4 692.4h0M163.5 696.8h0M144.8 704.4h0M155.4 703.9h0M155.6 684.8h0M151.6 696.6h0M162.1 699h0M150.3 711.1h0M149.8 697.5h0M165.2 700h0M161.8 704.6h0M153.6 714.7h0M169.4 709.7h0M166.6 722h0M166.5 681.9h0M156.2 691.5h0M170.5 700.1h0M175.9 708.2h0M152.4 707.6h0M166.2 701.8h0M168.8 695.8h0M159.7 702.5h0M151.1 691.6h0M171.9 714.1h0M169.4 717.4h0M173.4 691h0M164.2 702.3h0M153 689.5h0M171.6 706.9h0M168.4 687.2h0M148 707.6h0M162.1 680.1h0M151.5 704.3h0M147.7 695.2h0M169.5 669.6h0M155.2 706.9h0M161.8 713.7h0M155 701.6h0M165.2 683.6h0M158.5 690.1h0M157 712.3h0M181 698.1h0M155 685.5h0M174.7 684h0M157.1 694h0M187 698.4h0M148.1 697.4h0M161.7 694.2h0M165.5 697.5h0M158.1 706h0M157.5 685.9h0M166.9 710.3h0M150.7 693h0M170.3 706.5h0M183 689.7h0M155.5 698.8h0M163.9 717.9h0M150.8 700.5h0M143.9 686.6h0M162.9 712.1h0M159.3 702.1h0M161.9 713.4h0M185 696h0M149.4 689.2h0M154.2 696.3h0M147.6 705.4h0M156.9 699.8h0M166.1 689.3h0M143.1 702.8h0M153.4 709.7h0M168.7 686.3h0M158 688.6h0M176.2 699.9h0M175.9 710.7h0M170.9 732h0M168.2 703.7h0M148.5 700.1h0M163.5 702.4h0M182.4 693.8h0M152.3 708.5h0M159.3 696.9h0M172.7 693.1h0M146.1 709.4h0M151.2 696.5h0M157.3 694.6h0M157.1 695.4h0M163.2 695.8h0M164.4 691.9h0M156.2 699.3h0M169.6 707.6h0M154.3 690.8h0M168.3 703.6h0M157.7 690.8h0M176.2 698.4h0M162.5 699.2h0M163.6 699h0M158.3 697.1h0M161.6 685.5h0M174.4 700h0M161.4 709.6h0M155.7 722h0M168.5 706.3h0M164.2 692.8h0M166.3 703.8h0M154 707.9h0M170.5 689.4h0M151.4 680.9h0M169.8 689h0M153.1 706.3h0M162.5 704.1h0M163.3 708.7h0M176.8 699.2h0M164.3 697.5h0M163.5 698.5h0M167.6 706.8h0M183.6 699.6h0M149.7 695.7h0M153.4 707.6h0M152.3 711.5h0M139.6 713.2h0M165.4 696h0M161.4 706.6h0M154 721.1h0M150.5 713.2h0M156.4 698.6h0M169.6 681.3h0M144.9 707.3h0M164.1 685.6h0M157.5 690.7h0M141.7 699.7h0M166.1 685.1h0M157.3 708.6h0M170.2 687.6h0M170.6 690.6h0M160.6 703.5h0M155.4 684.8h0M185.3 702.5h0M166.8 701.8h0M153.2 709.4h0M171.2 714.4h0M166.8 693.4h0M166.8 700.8h0M157.9 694h0M164.5 696.5h0M161.4 710.4h0M162.7 687.8h0M149.7 707.7h0M156.4 705.7h0M168.5 709h0M161.7 696.3h0M164.7 714.2h0M158 705.9h0M164.8 695.1h0M138.9 682.1h0M170 697.6h0M164.9 685.5h0M159.9 694.4h0M166.3 696.7h0M168.2 691.4h0M157.6 695.7h0M160.7 693.2h0M167.2 698.8h0M155.4 695.1h0M154.5 720.8h0M154.1 691h0M157.8 685.7h0M165.1 697.4h0M146.1 712.6h0M156.4 688h0M160 698.6h0M195.4 693h0M187.4 693.5h0M172.6 702.3h0M175.4 706.6h0M183.7 692.7h0M189.7 692.9h0M232 695.2h0M179.4 689.5h0M240.5 704.8h0M193.7 708.4h0M171.9 692.3h0M176.2 706.5h0M172.1 692.5h0M174.1 705.2h0M183.4 701h0M174.9 701.8h0M194.5 696.3h0M194 702.9h0M174.7 708.3h0M180.4 699.8h0M186.5 704.6h0M172.9 700.2h0M180 703.8h0M202.6 708.7h0M209.2 697.8h0M191.2 699.6h0M220.1 712.4h0M189.5 698.6h0M185.3 695.2h0M178.3 702.1h0M193.2 703.4h0M170.4 706.4h0M170 704.3h0M181 704.1h0M173.9 708.6h0M176.5 709.6h0M183.6 713.2h0M171.5 697.5h0M188.7 697.7h0M202.2 683.1h0M209.6 702h0M178 699.4h0M215.4 709.9h0M171.2 704.1h0M186.8 697.2h0M188.8 708.5h0M175 703h0M170.6 698.9h0M176.7 694.3h0M175.6 698.3h0M198.4 695.1h0M195.8 702.6h0M181.9 702.8h0M182.6 700.8h0M213.6 704h0M184.1 716.5h0M180.3 696.1h0M177.1 686.6h0M181.7 702h0M174.6 697.3h0M201.9 705.2h0M178.2 696.7h0M201.8 711.8h0M172.9 698h0M170.8 708h0M182.8 697.2h0M172.8 691.6h0M183.7 709.7h0M181.4 701.1h0M200.4 696.4h0M182.1 702.9h0M173 699.7h0M222.1 699.7h0M205.5 702.7h0M194.5 700.2h0M174.2 684.3h0M190.1 698.9h0M201.6 717.7h0M201.7 693.5h0M228.3 698.6h0M181.9 694.7h0M177.6 692.1h0M172.2 700.6h0M221.9 718.1h0M186.9 698.7h0M183.2 692.5h0M176.5 696.7h0M201.2 699h0M184.1 715.1h0M170.7 699.3h0M203.6 680.4h0M170.3 698.4h0M191.7 711.9h0M173.1 690.5h0M177 706h0M172.7 699.6h0M175.9 684.3h0M179.6 702.5h0M185.9 703h0M194.3 710.8h0M171.6 693.6h0M210.4 711.2h0M186.5 706h0M178.3 700h0M171.5 700.5h0M193.1 688.6h0M220.3 706.9h0M173.6 708.5h0M241.6 685.8h0M194.3 696.8h0M173.8 706.1h0M214.1 693.6h0M195.1 694.3h0M197.4 699h0M184.4 697.6h0M183.9 711.1h0M174.6 711.3h0M184.9 692.4h0M178 698h0M185.8 701.5h0M184.8 697.9h0M179.7 709h0M193.9 706.1h0M175.9 696.3h0M182.6 694.8h0M247.8 667.1h0M239.2 678.1h0M179.9 700.1h0M181.2 694.3h0M181.7 698.6h0M179.8 710.8h0M213 672.8h0M208.8 693.1h0M209 693.6h0M202.6 702.1h0M171 693.5h0M173 698.1h0M171.7 699.5h0M180.8 700.5h0M178.8 697.2h0M184.1 706.8h0M230.4 690.8h0M184.8 709h0M180.2 695h0M213.9 715.9h0M178.7 703.8h0M182.7 699.8h0M176.4 705.8h0M181.8 700.3h0M184.7 704.6h0M208.7 683h0M176.9 702.1h0M179.6 700.9h0M175.9 702.8h0M175.9 702.2h0M177.2 706.5h0M188.9 703.7h0M224 721.6h0M205.8 700.5h0M174.5 694.3h0M181.1 704.4h0M184.4 700.6h0M182.7 705.8h0M170.9 700.9h0M175.6 700.4h0M174.3 703.4h0M225.2 693.1h0M173.3 701.8h0M171.3 707.2h0M170.9 697.1h0M185.6 689.3h0M196.6 704h0M200 725.1h0M176.5 704.2h0M187.3 702.4h0M187.5 697.5h0M188.7 701.1h0M188.1 711.2h0M215.1 682h0M212 705.5h0M186.2 704.3h0M172.3 695.3h0M185 707.2h0M177.1 705.7h0M178.7 696.5h0M199.4 700.1h0M242.8 683.2h0M170.3 696.9h0M231.3 716.7h0M187 693.3h0M187.6 686.3h0M189.8 696h0M170 699.2h0M195.3 700h0M211.1 705.8h0M208.8 708.4h0M178.7 684.6h0M185.1 703.8h0M184.7 699.4h0M188.9 705.8h0M207.2 692h0M173.3 701h0M181.6 708.3h0M182.3 698.4h0M179 706.4h0M179.1 708.6h0M171.4 697.6h0M215.9 697.3h0M193.2 674.7h0M195.6 702.9h0M198.1 709.7h0M172.8 692.6h0M184.7 692.5h0M180.1 685.2h0M172.2 698.9h0M180.9 700.4h0M173.7 709.3h0M214.4 715.2h0M195.6 702.3h0M179.5 696.4h0M182.3 696.3h0M206.5 696.9h0M172.1 706.1h0M174.3 705.6h0M207.1 700.2h0M174.8 712.2h0M171.8 697.6h0M171.9 704.5h0M202 680.8h0M171.9 697.1h0M200.2 698.7h0M213.5 708.8h0M186.6 688.1h0M180.7 688.4h0M224.2 693.1h0M222.6 701.2h0M173.1 706h0M191.2 708h0M228.3 712h0M170.5 701.8h0M182.8 703.3h0M205.2 714.1h0M201.8 705h0M246.8 695.2h0M202.1 706.7h0M185.6 698.5h0M213.9 697.2h0M176.6 693.8h0M177.8 701.4h0M176 695.6h0M183.7 694.7h0M177.5 698h0M204.1 697.9h0M210 685h0M207 696.2h0M197.6 696.9h0M187.5 700.6h0M177.7 693.9h0M177.2 695.4h0M184.3 691.6h0M179.9 693.7h0M180.4 692.8h0M186 697.4h0M181.7 700.4h0M173.4 701.1h0M170.3 698h0M175.4 700.3h0M180.2 702.4h0M190 702.4h0M192 715.1h0M196.8 702.9h0M185.8 701.1h0M222.7 694.9h0M190.8 689.3h0M207.6 696.5h0M200.7 712.5h0M203.8 709.3h0M170.5 700.3h0M180.3 699.3h0M195.1 706.5h0M211.3 688.7h0M171 696.9h0M200.2 696.8h0M187.8 705.7h0M214.8 710.8h0M175.1 705.6h0M223.1 692h0M181.5 695.4h0M220.8 723.6h0M175.6 697.6h0M177.9 705.8h0M184.3 692.9h0M196.2 705.2h0M175.1 705.1h0M193.5 698.8h0M170.3 696.3h0M172.1 700.3h0M173.7 704h0M174.9 688.7h0M177.8 699h0M207.2 702.5h0M177.7 699.3h0M172.7 698.8h0M172 692.9h0M211.9 701.9h0M175 698.4h0M176.1 710.6h0M177.5 707.4h0M172.2 699.3h0M171.6 710h0M230.3 710.5h0M191.1 696.1h0M225 680.6h0M246.1 707.8h0M174.4 689.5h0M185.3 694.2h0M197.7 702.6h0M204.2 702.1h0M197.2 688.6h0M187.5 686.3h0M189.2 705.8h0M185.4 702.7h0M190.4 697h0M177.2 700.8h0M181.1 695h0M176.9 694.3h0M203.2 705.5h0M170.5 700.3h0M199.6 693.6h0M195.9 693.7h0M170.4 701.9h0M181.3 708.2h0M183.1 696.5h0M198.4 694.1h0M172.5 699.9h0M187.5 692h0M219.8 700.1h0M188.4 698.8h0M181.6 696.5h0M172.2 694.7h0M197.2 706.8h0M194.8 710.1h0M178.1 708.6h0M179.2 698.5h0M173.6 695.5h0M204.5 701.2h0M179.4 705.2h0M179.3 691.7h0M175.9 697.5h0M175.7 694.8h0M228.6 705.1h0M218.2 693.8h0M207.5 716.7h0M194.7 689.9h0M178.5 706.3h0M190 696.1h0M171.7 703.3h0M189.7 698.1h0M222.9 727.4h0M172.4 700.4h0M170.3 700.2h0M173.5 703.3h0M172 705.4h0M186.6 712.2h0M176.8 704.9h0M175.2 700.9h0M192 685.1h0M179.8 707.5h0M175.9 694.2h0M186.5 695.5h0M176.8 689.9h0M196.6 710.7h0M209.2 713.3h0M185.4 697.6h0M175.5 707.9h0M174.5 709.3h0M181.1 695.3h0M208.3 686.6h0M170.6 709.6h0M195.9 688.7h0M174.1 695.6h0M186.3 702.6h0M182.3 706h0M188.3 694.5h0M181.4 704.7h0M171.6 702.9h0M180 704.2h0M175.5 706.4h0M170.7 711.1h0M201.5 702.6h0M194 696.3h0M175 694.7h0M171.5 695.7h0M195.8 710.5h0M214.3 697.6h0M183.4 699.1h0M182.9 699.2h0M182 703.4h0M177.3 701.5h0M203.7 705.7h0M189.2 704.3h0M174.7 700.9h0M182.2 694h0M208.1 708.9h0M177.3 696.5h0M210.6 697.6h0M186 701.6h0M175.7 700.1h0M171.4 694.9h0M187.6 700h0M190.6 687.5h0M214.8 693.2h0M198.4 693.9h0M190.4 691.8h0M208.1 700.9h0M176.1 706.6h0M170.5 703.8h0M222.4 726h0M185.9 696.9h0M170 703.9h0M178.4 709.9h0M196.1 715.7h0M200.4 697.8h0M176.3 697.9h0M211.6 715.3h0M180.2 705h0M185.4 706.7h0M187 696.2h0M232.8 721h0M171.4 703.7h0M196.3 696.9h0M193.8 693.5h0M187.4 705.9h0M174.4 698.3h0M193.9 703.1h0M187.8 691.9h0M204.7 698.3h0M174.8 705.7h0M176.8 706.7h0M187.5 698.3h0M191 708.1h0M181.1 697.9h0M185 699.8h0M179.4 702.7h0M193.9 701.2h0M183.1 700.2h0M187.5 706.3h0M177.8 704.2h0M181.4 698.1h0M185.3 701.6h0M202.2 703.8h0M183.3 691.9h0M172 698h0M189.1 692.4h0M181 704.4h0M172.8 700.7h0M180.4 687.9h0M185.9 702.1h0M181.2 697h0M187.3 705.3h0M195.6 717.9h0M179.3 699.2h0M174.4 708.7h0M180.4 704h0M174.1 701.2h0M184 713.2h0M193.5 684.3h0M178.2 696.9h0M219.4 683.9h0M173 699.4h0M176.8 702.6h0M173.3 694.9h0M172.2 703.4h0M171.6 697.1h0M173.1 706.5h0M172 703.5h0M175.7 695.3h0M207.8 694.8h0M208.3 699.4h0M176.5 705h0M210.7 701.8h0M187.7 701.8h0M179.3 703.5h0M173 713.5h0M196.9 703.7h0M198.3 702.5h0M174.7 697.8h0M185.3 702.3h0M174.3 707h0M190.5 693.9h0M232.2 711.9h0M172.5 700.9h0M188.2 705.4h0M178.2 705.8h0M178.1 693h0M174.9 702.2h0M199.6 708.2h0M177.1 690.2h0M173.8 703.4h0M187.5 695.7h0M173.8 701.5h0M171.1 704.7h0M175.7 686.9h0M197.8 693.6h0M217.1 690.5h0M204.4 697.9h0M190.3 709.8h0M178.9 691.6h0M178.8 692h0M206 712.4h0M180.4 705.3h0M203.6 696.8h0M183.4 699h0M215.5 710.2h0M175.7 698.6h0M190.4 715.8h0M180.8 705.3h0M172.2 683.7h0M174.9 703h0M180.4 694.7h0M176.8 697.2h0M181.7 705.2h0M198.9 699.7h0M181.4 698h0M174.7 703.7h0M187.4 693.8h0M172.7 688.7h0M190.1 701h0M178.3 692.3h0M175.7 697.1h0M194.6 716.3h0M183.6 695.2h0M178.3 697.2h0M171.7 693.4h0M193.9 687.5h0M180.8 703h0M223.5 715.8h0M177.8 702.1h0M180.6 709.1h0M178 700h0M187.2 694.6h0M180.7 708.3h0M173.2 705.2h0M186.7 695.6h0M188.8 697.1h0M214 685h0M180.7 697.3h0M178.8 702.4h0M171.7 712.5h0M180 701.8h0M193.7 688.4h0M171.9 700.2h0M174.7 706.6h0M172.8 707.7h0M199.8 704.9h0M199.7 706.6h0M189 697.9h0M203.7 719.6h0M170.4 697.2h0M215.3 693.4h0M174.7 702.9h0M172.8 703.2h0M200.6 705.1h0M187.9 696.3h0M180.1 710.4h0M177.8 699.4h0M187.3 704h0M205.6 709.5h0M177 709.8h0M197.8 704.4h0M188.2 713h0M182.3 699.9h0M202.9 687.7h0M189.9 698.3h0M204.4 706.3h0M176.1 701.3h0M192 697.4h0M174 689.6h0M195.4 709.4h0M186.7 706.3h0M170.5 702.7h0M192.9 694.7h0M175 698.8h0M172.4 704.2h0M173.7 703.3h0M200.8 696h0M199.9 698.1h0M175.7 692.5h0M170.7 695.1h0M198.1 702.1h0M241.6 709.8h0M174.9 705.1h0M183.2 696.5h0M202.2 707.1h0M201.7 698.1h0M176.6 703.4h0M193.5 691h0M171.9 701.9h0M181.4 700.9h0M188.4 723h0M167.5 744.4h0M157.6 713.5h0M175.9 723.4h0M152.6 737.4h0M156.4 763h0M163 724.9h0M141.2 742.6h0M158.3 717.8h0M156.5 729.2h0M165.2 759.6h0M175.1 759.9h0M159.9 755h0M166.1 749.7h0M162 756.7h0M173.4 744.3h0M171.2 739.5h0M151.1 716.3h0M153.1 748.2h0M159.8 744.1h0M170 734.8h0M147.8 733.4h0M149.8 754.9h0M155 744.2h0M172 749.9h0M163.2 716.6h0M162.4 755.8h0M148.2 758.3h0M173.6 741.1h0M155.6 728.6h0M139.2 756.4h0M129.4 735.6h0M170.5 744.8h0M155.6 753.9h0M154.8 734.4h0M153.2 756.8h0M173 723.6h0M163.6 729.3h0M180 744.3h0M158.4 747.5h0M157 718.5h0M167.6 732h0M167.2 744.9h0M155 753.7h0M165.5 743.2h0M159.4 733.4h0M153.6 757.3h0M157.3 724.8h0M172 747.3h0M160 736.2h0M156.1 739.2h0M163.1 738.8h0M156 734.5h0M167.7 725h0M167.8 747.5h0M158.6 753.8h0M165.1 744.3h0M151.7 747.5h0M159.9 729h0M146.4 740.6h0M159.6 733.4h0M153.9 739.2h0M156.4 735.8h0M147.2 726.4h0M152.1 713.6h0M157.1 732.5h0M167.7 736.9h0M172.7 748.1h0M157.8 750.8h0M163.4 725.8h0M152.4 738.4h0M149.4 729.8h0M172.1 730.7h0M165.5 741.8h0M151.7 762.3h0M184.2 721.7h0M165.1 728.5h0M162.7 751.7h0M170.8 737.7h0M161.3 738.9h0M160.9 743.5h0M160.4 727.9h0M195.6 745.1h0M157.7 746.1h0M189 727.5h0M170 763.1h0M155.2 738.6h0M177.6 719.2h0M158.7 741h0M160.6 773h0M154.5 727.3h0M166.6 748.9h0M162.9 760h0M157 725.2h0M161.1 752.3h0M160.5 746.8h0M174.9 757.5h0M174 736.5h0M155.4 744.2h0M164.4 743.2h0M165.2 749.6h0M160.7 736.8h0M165.2 758.4h0M200.7 731.5h0M155.5 745.3h0M160 737.7h0M147.4 719.3h0M165.3 743.4h0M180.8 744.8h0M163 740.4h0M174.8 753.3h0" stroke="#9a4a8d" stroke-width="1.6" stroke-linecap="round" fill="none"/>
<path d="M135.4 699.2h0M148.6 705.2h0M140.2 714.4h0M151.1 697.3h0M144.5 711.9h0M137.9 697.9h0M145.9 698h0M138.7 716.5h0M143.5 721h0M146.9 700.4h0M144.8 704.8h0M144.6 724h0M149.2 710.3h0M147.2 720.6h0M137 703.2h0M146.8 693.8h0M151.6 706h0M139.8 724.1h0M139.2 702h0M150.1 692.8h0M147.7 701.3h0M138.7 696.5h0M144.1 692.6h0M139.8 710h0M143.6 689.1h0M150 678.7h0M145.1 684.9h0M135.8 699.4h0M142.1 685.3h0M142.2 700.5h0M143.2 709.9h0M139.4 712.9h0M142.3 724.6h0M140.9 707.9h0M140.9 694.4h0M143.2 698.2h0M148.5 695.8h0M149.3 693.1h0M149.2 702.3h0M144.1 703.4h0M142.1 703.3h0M144.9 678.1h0M150.7 699.8h0M144.4 696.1h0M154.1 683.4h0M144 693.3h0M146.9 701.5h0M140.6 695.8h0M146.6 694.6h0M146.1 699.9h0M145.5 698.1h0M146.5 681.4h0M150.3 690.7h0M147.8 695.9h0M154.2 712.7h0M146.5 694.3h0M141 709h0M151.8 698.1h0M143.2 694.6h0M142 701.5h0M150 714.4h0M137.4 711.4h0M152.3 708.1h0M139.9 699.3h0M142 708.3h0M147.6 706.1h0M150.2 703.9h0M141.4 697.5h0M145.7 710.6h0M147.6 703.5h0M154.1 695.1h0M142.6 696.6h0M149.2 711.3h0M140.1 709.7h0M145.5 683h0M145.1 711.8h0M145.3 700.3h0M146.2 710.6h0M144.9 694.6h0M139.8 695.2h0M150.2 686.9h0M153.1 708.6h0M141.8 683.5h0M143.1 695.2h0M144.5 698.5h0M154.7 710.5h0M148.7 712.2h0M153.5 699.4h0M143.7 709.9h0M149.3 717.2h0M143.2 704.2h0M144.1 713.5h0M147.6 709.2h0M143.8 715.2h0M149.7 683.1h0M139.8 697.4h0M147.1 716.1h0M138.4 677.4h0M153 710.8h0M138.2 708.5h0M144.6 703.8h0M147.6 716h0M146.6 712.6h0M143.4 704.3h0M146.3 715.1h0M148.4 709.4h0M147.1 703.4h0M149.3 705.3h0M151.1 706.4h0M145.8 705.2h0M145.3 698.9h0M138.7 693.3h0M146.9 707h0M148.8 699.4h0M138.4 701.8h0M143.4 702.4h0M140.8 702.4h0M144.8 666.8h0M149.9 705.3h0M142.7 722.6h0M145 691.9h0M151.7 706.7h0M152.3 712.4h0M147.2 694.4h0M141.4 706.7h0M137.5 700.7h0M149.3 694.5h0M146.3 703.1h0M145.7 702.1h0M138.8 712.7h0M143.6 695.5h0M138.7 706.6h0M146.1 690.7h0M146.6 720h0M143.6 697.6h0M148.5 694.4h0M139.5 703.2h0M143.3 717.2h0M146 683.7h0M142.2 695.5h0M140.9 718.2h0M147.2 707.5h0M139 707.6h0M147.8 698h0M141 691.3h0M140.2 692.8h0M146.6 710.1h0M139.3 705.3h0M148.2 712.7h0M150.6 710.4h0M147.9 715.4h0M152.5 691.7h0M149.4 700.1h0M138.6 697.8h0M147.3 698.4h0M145 711.5h0M139.9 704.1h0M146.2 710.6h0M143.7 712.1h0M138.2 703.5h0M152.5 687.4h0M142.3 715h0M140 708.5h0M146.1 689.3h0M147.3 687.9h0M138.7 697.5h0M147.1 721.1h0M143.6 694.7h0M144.2 689h0M145.3 707.1h0M140 700.7h0M146.4 726.3h0M144.1 708.3h0M143.8 718.9h0M149.4 701.6h0M144 695.2h0M147.7 699.6h0M140.7 707.8h0M149.5 705.1h0M141.9 706h0M143.9 707.3h0M147.3 698.1h0M155.6 706.7h0M153 703.2h0M156 695.7h0M148.4 712.8h0M143.1 691.9h0M145.9 690.1h0M144 697.5h0M143.6 699.5h0M153 700.5h0M149.2 709.9h0M147.6 696.3h0M142.2 717h0M143.5 714.3h0M144.1 684.2h0M151.9 706.9h0M143.1 692.6h0M137 704.8h0M137.5 715.3h0M140 714.4h0M154.8 701.9h0M138 692h0M141.1 706.6h0M151.7 702.3h0M147.4 706.6h0M146.6 685.3h0M148 702.3h0M145.3 707.4h0M147.4 712.6h0M141.9 719.7h0M144.3 713h0M139.7 700.2h0M141.5 695.8h0M149.3 683.2h0M141.4 706.6h0M146.7 686.1h0M144.1 705.3h0M145.3 704.9h0M151.1 709.1h0M156.3 667h0M147.4 687.4h0M146.1 676.5h0M147.5 669.7h0M140.6 672h0M137 674.7h0M146.7 686.4h0M158.2 667.5h0M152.9 671.3h0M154.4 673.1h0M154.7 682.3h0M162.8 682h0M150.9 676.7h0M155.3 686.3h0M150.9 676.5h0M150.5 677.5h0M151.3 681.7h0M145.2 673.1h0M167.1 682.5h0M161.2 677.5h0M138 680.5h0M173.1 678.3h0M165.2 673.8h0M145.9 681.6h0M149.3 683.1h0M148 671.4h0M146.9 675.9h0M149 676.2h0M152.9 672.1h0M161 672.8h0M148.4 665.8h0M158.2 680.3h0M158.7 672.4h0M157.3 667.4h0M146.5 678.4h0M155 675.7h0M158.7 683.3h0M140.7 680.4h0M149.1 682h0M135.5 677.4h0M150 679.3h0M148.6 679.5h0M156.1 682.4h0M145.5 681.7h0M145.8 674.5h0M151.4 683.8h0M148.6 668.6h0M146.5 675.6h0M146.3 674.9h0M150.1 679.4h0M154 673.1h0M157.6 674h0M151.8 677h0M158.1 668.8h0M150.6 674.9h0M162 670.5h0M153.1 675h0M153.8 682.9h0M154.6 680.1h0M156.3 680.5h0" stroke="#f09ade" stroke-width="1.75" stroke-linecap="round" fill="none"/>
<path d="M277.5 676.5h0M156 628h0M186 644h0M187 750h0M220 753h0M233 700h0M225 695h0" stroke="#9a4a8d" stroke-width="1.6" stroke-linecap="round" fill="none"/>
<line x1="107" y1="611.7" x2="283.9" y2="611.7" stroke="#555" stroke-width="0.9"/>
<line x1="283.9" y1="611.7" x2="283.9" y2="788.2" stroke="#555" stroke-width="0.9"/>
<line x1="107" y1="788.2" x2="283.9" y2="788.2" stroke="#555" stroke-width="0.9"/>
<line x1="107" y1="611.7" x2="107" y2="788.2" stroke="#555" stroke-width="1.2"/>
<line x1="102.7" y1="612.5" x2="107" y2="612.5" stroke="#555" stroke-width="0.9"/>
<text x="101.8" y="615.5" font-size="8.7" fill="#1a1a1a" text-anchor="end">20</text>
<line x1="102.7" y1="670.6" x2="107" y2="670.6" stroke="#555" stroke-width="0.9"/>
<text x="101.8" y="673.6" font-size="8.7" fill="#1a1a1a" text-anchor="end">10</text>
<line x1="102.7" y1="729.5" x2="107" y2="729.5" stroke="#555" stroke-width="0.9"/>
<text x="101.8" y="732.5" font-size="8.7" fill="#1a1a1a" text-anchor="end">0</text>
<line x1="102.7" y1="788.6" x2="107" y2="788.6" stroke="#555" stroke-width="0.9"/>
<text x="101.8" y="791.6" font-size="8.7" fill="#1a1a1a" text-anchor="end">-10</text>
<line x1="151.1" y1="788.2" x2="151.1" y2="791.7" stroke="#555" stroke-width="0.9"/>
<text x="151.1" y="801.3" font-size="8.7" fill="#1a1a1a" text-anchor="middle">1</text>
<line x1="195.5" y1="788.2" x2="195.5" y2="791.7" stroke="#555" stroke-width="0.9"/>
<text x="195.5" y="801.3" font-size="8.7" fill="#1a1a1a" text-anchor="middle">2</text>
<line x1="239.6" y1="788.2" x2="239.6" y2="791.7" stroke="#555" stroke-width="0.9"/>
<text x="239.6" y="801.3" font-size="8.7" fill="#1a1a1a" text-anchor="middle">3</text>
<line x1="283.6" y1="788.2" x2="283.6" y2="791.7" stroke="#555" stroke-width="0.9"/>
<text x="283.6" y="801.3" font-size="8.7" fill="#1a1a1a" text-anchor="middle">4</text>
<text x="200" y="810.7" font-size="9.9" text-anchor="middle" fill="#111"><tspan font-weight="bold" fill="#3aa783">H3K4me3</tspan> (IP/Input)</text>
<text x="87.8" y="686.7" font-size="9.9" text-anchor="middle" fill="#111" transform="rotate(-90 87.8 686.7)"><tspan font-weight="bold" fill="#f6b331">FPKM</tspan> (log2)</text>
<circle cx="221.2" cy="619" r="3.6" fill="#9a4a8d"/><circle cx="221.2" cy="631.2" r="3.6" fill="#f4ace4"/>
<text x="232" y="622" font-size="8.7" fill="#1a1a1a">with MAC</text>
<text x="232" y="634.2" font-size="8.7" fill="#1a1a1a">without MAC</text>
<rect x="3.3" y="719.2" width="79.7" height="68.3" fill="#fff"/>
<line x1="22.6" y1="719.2" x2="22.6" y2="787.5" stroke="#bbb" stroke-width="0.8"/>
<line x1="3.3" y1="764.6" x2="83" y2="764.6" stroke="#bbb" stroke-width="0.8"/>
<ellipse cx="28" cy="750" rx="7.5" ry="5.5" fill="#000"/><ellipse cx="20.5" cy="768" rx="3.8" ry="5.5" fill="#111"/>
<path d="M25.3 744h0M30.4 752.8h0M20.5 763.7h0M31.7 747.5h0M25.6 738.2h0M31.3 759.4h0M36.3 743.1h0M26.6 748.2h0M20.8 751.9h0M29.7 741.6h0M39.1 741.2h0M33.3 752.7h0M27.6 744.4h0M24.9 752.9h0M21.9 742.4h0M23.1 751.1h0M32.1 744.6h0M31.8 754.7h0M29.5 764.3h0M31 744.8h0M26.6 749.7h0M37.3 754.6h0M30.5 746h0M37 746h0M26.6 765.5h0M22.3 743.5h0M23.9 750.2h0M24.1 753h0M33.5 753.9h0M33.7 751.1h0M20.7 748.1h0M27.1 745.1h0M38.4 755.2h0M25 739h0M29.2 761.2h0M28.4 750.9h0M31.6 746.3h0M27.6 755h0M23.8 744.6h0M28.8 741.6h0M21.5 750.8h0M33.6 743.5h0M19 749.2h0M24.2 754.7h0M33.6 755.4h0M25.6 750.5h0M27.9 740.2h0M24.7 750.6h0M27.7 760.8h0M20.6 756.2h0M35.4 756.1h0M28.4 753.3h0M20.7 749.3h0M24.2 743.8h0M28.8 741.2h0M30.9 750.1h0M24.7 750.3h0M22.6 746.4h0M37.1 743.5h0M28.9 749.8h0M28.2 749.4h0M27.5 752.6h0M26 752.9h0M29.1 751.9h0M25.2 748.7h0M33.2 751.7h0M37.6 758.5h0M31.4 739.8h0M29.3 741.6h0M11.9 756.3h0M33 757.8h0M23.5 747.5h0M29.5 743.2h0M23.6 754.1h0M31.9 746.1h0M24.2 742.4h0M34.6 748.7h0M29 743.6h0M21.8 746h0M27.3 749h0M33 758.6h0M29.1 757.4h0M40.5 757.1h0M14.8 755.4h0M27.5 749.2h0M23.8 746.4h0M29.1 749h0M24.8 751.9h0M29.4 749.2h0M46.7 748.2h0M21.1 747.1h0M32.1 747.3h0M22 750.4h0M22.2 751.8h0M19.6 761.5h0M35.8 758.3h0M30.3 755.3h0M29.8 751.5h0M24.7 756.5h0M28.4 753.4h0M32.5 746.6h0M26.1 749.5h0M35.3 746.9h0M34.1 739.9h0M23.6 750.8h0M33.3 746.3h0M28 747.6h0M28.1 751.7h0M32.9 744.1h0M32.8 752.3h0M22.2 758.5h0M26.1 764.2h0M19.4 746.6h0M31.5 754.9h0M17.6 753.7h0M28.6 762.6h0M22.4 746.4h0M16.8 745.6h0M31.4 750.5h0M24.5 746.1h0M31.6 754.6h0M21.2 754.4h0M37 747.8h0M23.3 751.4h0M28.4 756h0M21.4 754.4h0M34.3 748.8h0M25.6 747.3h0M22.5 752.3h0M28.3 759.3h0M29.7 748.1h0M39.9 747.3h0M28.1 753.6h0M26.8 757.4h0M31.3 747.5h0M8.8 747.5h0M34.1 747.8h0M24.2 742.4h0M21.6 758h0M20.8 751.6h0M29.2 748.7h0M19.5 742.7h0M26.6 750.7h0M36.2 741.2h0M26.6 751.7h0M22.8 756.4h0M12.8 753.7h0M36.3 754.7h0M26.1 751.9h0M27.3 737.3h0M23.8 750.3h0M18.9 758.6h0M31.3 754.1h0M29.5 751.1h0M34.9 746.4h0M30.2 747.1h0M30 751.1h0M27.3 750.6h0M25.4 758.2h0M27.1 748.2h0M29 756.6h0M17.6 741.4h0M23.1 762.2h0M16.7 751.3h0M15.5 758.4h0M17.7 753.2h0M48.3 751.5h0M25.9 758.2h0M26.7 757.8h0M24.8 750h0M27.2 745.1h0M23 751.8h0M34.8 734.7h0M27.6 756h0M32.8 753.3h0M31.9 746.3h0M20.3 744.4h0M29.1 755.2h0M20.9 750.1h0M25 752.2h0M21.7 749.1h0M25.3 744.5h0M28.2 756.5h0M22.3 736.6h0M23.7 746.6h0M30.6 738.5h0M24.1 749.4h0M26.7 749.3h0M21.5 751.3h0M18.8 744.6h0M29.6 747.1h0M25.7 744.6h0M30.9 753.2h0M21.2 742.4h0M23.8 744.8h0M30.1 765.8h0M21.9 748.4h0M31.7 756.5h0M23.6 755.3h0M22.9 745.2h0M23.4 746.4h0M25.6 747.2h0M35.3 753.3h0M32.5 743.9h0M29.1 736.4h0M35.1 752.8h0M22.5 760.4h0M29.9 754.5h0M24.7 749.9h0M26.5 752.1h0M28.5 746.8h0M13.3 754.2h0M32.9 757.5h0M20.9 746.7h0M35.2 750.8h0M30.3 753.3h0M20.2 754.9h0M26.1 742.1h0M35.1 744.2h0M26.5 743.7h0M18 747.9h0M34.4 757.5h0M31.3 750.1h0M27.4 746.6h0M24.9 743.5h0M22.8 744.1h0M27 753.3h0M21.5 739h0M12.4 744.5h0M21.3 751.1h0M19.4 752.5h0M28.3 753.6h0M23.9 757.9h0M28.8 744h0M33.7 746.6h0M28.2 750h0M26.6 746.1h0M20.5 752.1h0M31.3 750.5h0M32.2 741.9h0M20.6 749.3h0M27.1 750.8h0M29.7 751.3h0M20.5 754.4h0M42.5 753.7h0M17.5 756.6h0M22.7 746.2h0M30.3 752h0M21.3 750.9h0M43.6 749.6h0M22.7 759.9h0M29.8 740.4h0M28.4 756.6h0M33.1 749.1h0M34.4 746.2h0M20.5 756.7h0M22.3 753.5h0M25.3 748.7h0M20 746.2h0M28.2 747.4h0M24.1 747.1h0M31.6 749.3h0M22.8 743.4h0M16.5 758h0M26.5 739h0M35.3 741.9h0M27.1 754.6h0M22.5 751.6h0M19.9 755h0M20.5 757.2h0M23.8 757.3h0M24.9 756.4h0M18.3 753.2h0M45.6 753.2h0M21.1 750.1h0M29.6 746.8h0M21.8 745.9h0M33.5 760.5h0M21.6 749.2h0M31.7 754.2h0M23.6 752.4h0M20.1 745.6h0M20.2 746.5h0M40.5 747.5h0M6.2 746h0M15.9 751.2h0M28.3 749.2h0M22.5 751.6h0M22.1 748.6h0M19.4 744.5h0M26.7 755.2h0M38.4 753.5h0M29.4 757.5h0M44.7 747.1h0M25.4 755.9h0M30.1 751.3h0M38.5 758.9h0M21.1 746.3h0M25.2 751.2h0M22.2 744.2h0M20.8 750.7h0M42.8 752.8h0M29.4 745.2h0M25.8 745h0M35.7 747.1h0M19.4 748.4h0M33.7 742.4h0M14.2 753.1h0M30.5 750.3h0M30.4 756.2h0M23.3 751.1h0M18.2 745.9h0M16.9 750h0M19 752.4h0M22.9 757.7h0M32.9 752.2h0M26.2 750.4h0M34 767.2h0M31.8 752.6h0M33.3 757.6h0M20.1 753.5h0M33.6 744.6h0M15.4 751.7h0M22.4 747.6h0M20.6 743.3h0M28.2 742.2h0M24.7 747.1h0M32.8 756.8h0M32.4 748.6h0M28.8 740.4h0M19.4 753.5h0M30.3 755.2h0M32.1 753.8h0M24.8 752.3h0M23 746.6h0M18.9 746h0M14 744.6h0M31.6 747.5h0M27.2 746h0M29.3 750h0M30.9 755.9h0M17.5 744.9h0M17.4 745.9h0M32.8 748.1h0M15.1 752.9h0M33.9 752.5h0M25.3 744.1h0M31.6 743.5h0M26.7 751.2h0M21.1 753.9h0M35.3 755.3h0M25.2 750.7h0M36.8 749h0M28.5 756.9h0M15.8 739h0M18.8 744.1h0M31 754.6h0M30.1 747.9h0M17.9 753h0M20.7 752.5h0M26.3 746.1h0M18.6 742.3h0M31.6 752.7h0M30.4 750.3h0M22.7 751.2h0M39.1 755.9h0M24.1 756.3h0M29.8 751.4h0M25.7 749.2h0M31.6 754.6h0M35 750.2h0M33.5 758h0M30.8 740.9h0M24.3 750.3h0M32.9 753.5h0M32.6 746.3h0M32.6 753h0M36.2 753.8h0M31.7 742.3h0M22.2 747.5h0M24.9 759.2h0M34.5 751.3h0M33.2 743h0M31.5 751.5h0M39.4 756.3h0M21.5 755h0M20.4 744.6h0M24.2 748.9h0M25.2 753.1h0M28.4 738.4h0M20 756.9h0M24.5 742.6h0M35.2 748.9h0M30 739.6h0M31.8 739.5h0M27.3 754.8h0M35 749.6h0M17.5 739.8h0M28.8 751.4h0M30.4 744.7h0M26 757.8h0M21.3 742.2h0M31.5 744.2h0M31 750.7h0M21.9 742.4h0M24.1 744.1h0M28.6 747.2h0M40.2 749.4h0M15.6 759.6h0M34.3 754.1h0M29.8 759.5h0M31.7 751.3h0M31.1 744.5h0M19.5 743h0M26.9 748.6h0M27.4 753h0M43 742.7h0M17.8 752.3h0M33 742.5h0M34.5 757.6h0M30.7 750.7h0M28.2 751.9h0M16.8 748.8h0M37.8 745.1h0M29.5 745.2h0M22.3 749.3h0M23.2 744.2h0M31.5 761.1h0M31.8 753.9h0M19.6 748h0M28.8 753.3h0M23.9 750.2h0M33.3 756.4h0M31 750.2h0M28.4 750.8h0M37.5 754.8h0M38.1 754.3h0M37.9 749.5h0M18.1 758.1h0M33 747.9h0M30.2 751.1h0M21.4 749.4h0M28.4 742h0M25.7 746.6h0M19.5 745h0M9.1 749.5h0M19.2 743.6h0M29.7 747.9h0M19 746.8h0M29.8 755h0M29.6 757.4h0M32.9 751.4h0M29.2 749.3h0M28.1 753.1h0M31.2 739.7h0M23.1 757.9h0M29.6 742.6h0M26.2 753h0M30.8 755.3h0M28.3 751.1h0M14.6 748.1h0M26.7 749.3h0M37.3 741.7h0M39.6 744.5h0M31.5 746.2h0M24 747.9h0M30.1 752.3h0M34.3 755.2h0M31.3 749h0M16.2 746.9h0M19 740.8h0M28 752.3h0M24 748.4h0M30.4 749.5h0M17 743h0M35.6 737.4h0M23.8 745.5h0M33.5 746.5h0M29.1 753.8h0M21.5 749.8h0M15.9 758.5h0M31 751.6h0M37.3 747.2h0M12.1 743h0M13.6 746.9h0M38.8 752.6h0M25.3 742.1h0M32.8 763.5h0M28.1 757.7h0M35.5 747.9h0M29.5 747.7h0M36.7 752.8h0M30.5 747.3h0M27.8 744.6h0M32.8 739.9h0M34.4 744.6h0M31.8 753h0M22.6 739.2h0M40.5 745h0M33 748.9h0M28.1 745h0M33.8 750.4h0M27.9 749.3h0M32.5 744.9h0M14.7 751.2h0M38.4 749.2h0M25.6 741.6h0M42.7 749.9h0M24.4 765.7h0M22.6 743.3h0M22.7 756.4h0M41.2 744.5h0M33.9 749.7h0M29.9 749.5h0M34.3 752.8h0M26.6 755.7h0M32.5 753.2h0M34.8 749.5h0M31.3 750.8h0M30.6 756.4h0M34.6 751.9h0M12.5 743.8h0M17.7 741.8h0M29.2 741.2h0M26.3 753.4h0M21.3 749.9h0M36.5 755.7h0M22.7 742.9h0M30.8 744.9h0M41.7 754.2h0M33.7 755.3h0M33.2 745.8h0M31.2 744.2h0M31.9 756.3h0M33.1 740.7h0M10 750.6h0M27.4 753.4h0M30.1 753.4h0M15.9 753.2h0M23.8 751.6h0M25.8 741.3h0M34.7 753h0M34.3 760h0M24.6 746.7h0M29.3 753.8h0M23 745.9h0M30.7 744.6h0M32 748h0M27.1 739.6h0M21.9 741.7h0M26.4 743.9h0M23.4 745.3h0M24.7 753.3h0M27.5 758.9h0M31.2 749.4h0M27.2 765h0M37.3 744.3h0M37.4 749.1h0M25 752.8h0M46.4 754.2h0M41.8 751.3h0M23.4 739.3h0M30.4 746.5h0M35.5 750h0M26 746.1h0M16.6 750.4h0M37.7 742.6h0M21.6 743.4h0M36.1 745h0M27.9 737.3h0M36.1 755.6h0M20.7 756h0M23.9 751.5h0M24.7 762.3h0M8.2 751.6h0M37 753h0M32.5 754.9h0M26.6 745.9h0M30 754.3h0M19.3 752.8h0M35.6 755.6h0M21.7 756.6h0M16.3 755.1h0M17.3 757.9h0M17.7 752.2h0M26.3 749h0M24.1 753.8h0M39 755h0M33.6 750.8h0M36.7 748.4h0M30.3 752.5h0M38.8 750h0M32.7 748.5h0M32.2 753.9h0M29.6 757.8h0M20.8 744.5h0M23.5 749.2h0M16.8 744.2h0M21.5 742.7h0M32.1 743.7h0M36.7 747.1h0M27.2 748.5h0M38.4 741.5h0M23.9 747.3h0M25.5 754.9h0M32.7 750.6h0M23.9 744.6h0M19.1 754.6h0M31.6 760.4h0M33.2 751.6h0M36.9 752.1h0M34.4 758.3h0M29.8 755.8h0M34.6 746h0M11 749.1h0M24.1 752.3h0M31 755.1h0M39.1 748.9h0M37.8 740.4h0M26.2 748.2h0M16.3 757.6h0M31.7 750.2h0M38.6 745.7h0M30.3 761.5h0M29.2 757.9h0M34.8 749.2h0M31.8 750.5h0M19.8 751.9h0M25 751.4h0M27.8 748.6h0M23.4 752.7h0M22.7 748.5h0M22.7 742.7h0M33.3 752.5h0M26.8 749.5h0M21.2 754.6h0M30.3 750.7h0M27.9 751.5h0M23 748.1h0M33.6 744.5h0M21.8 753.3h0M29.7 754.6h0M29.4 747h0M23.9 748.9h0M30.6 748.8h0M26.4 752.9h0M25.8 755.2h0M20.6 750.9h0M25.8 747h0M23.5 748.2h0M32.6 750h0M19.3 753.5h0M36.2 752.9h0M34.6 748.6h0M21.3 739.5h0M7.3 742.3h0M21.4 746.4h0M26 747.6h0M27.3 750h0M40.3 745.1h0M22.3 750.2h0M19.1 757.6h0M28.9 751.2h0M39.5 755.6h0M34.8 752.9h0M23.8 744.1h0M34.7 746.5h0M27.7 746.9h0M30.3 748h0M35.5 739.3h0M18.2 749.7h0M35.3 761h0M37.8 744.2h0M26.8 743.2h0M21.2 740.5h0M27.5 747.1h0M32.1 748.1h0M38.2 755.9h0M42 756.6h0M25.2 746.7h0M33.9 752.9h0M39.6 760.8h0M29.8 754.8h0M37.4 738.9h0M22.9 742.4h0M26.7 746.9h0M31.7 756.3h0M27.3 749.5h0M27.4 741h0M23 739h0M17.9 749.2h0M32.4 741.5h0M20.6 745.2h0M29.1 749.8h0M31.3 746.5h0M26.7 757.2h0M30 746.3h0M25.2 737.2h0M23 751h0M33.1 748.1h0M38.3 745h0M20.4 744.2h0M27.3 743.5h0M30.5 744.7h0M24.6 747.8h0M29.7 746.7h0M15.8 760.9h0M29.8 754.5h0M21.2 753.7h0M30.6 747.9h0M29 759.1h0M29.8 751.3h0M23.2 758.3h0M24.9 752.4h0M27 741.9h0M35.7 742.3h0M33.1 755h0M28 743.7h0M26 757.9h0M24.6 743.9h0M34.4 749.2h0M41.5 748.5h0M24 745h0M11.9 742.2h0M38 757.2h0M27.1 744.7h0M39.9 754.4h0M27.7 750.1h0M26.8 747.1h0M33.7 754.5h0M21.3 756h0M25.6 748.9h0M31.3 747.2h0M14.4 758h0M21.3 744.3h0M30.9 747.9h0M19.7 758h0M21.1 759.9h0M39.6 752.8h0M23.2 758.3h0M26.8 750.3h0M33.7 748.2h0M20.7 749.7h0M17.1 753.3h0M24.1 752.1h0M27.9 742.2h0M33.8 745.5h0M27.4 750.3h0M38.8 757h0M17.9 748.3h0M24.2 746.1h0M27.6 749.6h0M25.3 751.3h0M15.4 754.4h0M34.4 746.4h0M32.1 757.4h0M26.2 752.4h0M38.6 745.9h0M22 741.9h0M38.4 755.2h0M23.7 746.9h0M33.1 738.6h0M30.2 745.7h0M32.4 753.4h0M29.4 746.3h0M30.3 748.4h0M23.9 745.4h0M24.3 751h0M21.8 749.7h0M23.1 751.7h0M29.5 753.5h0M27 744.3h0M35.1 757.4h0M33.4 749.9h0M26 757.8h0M19.7 753.5h0M24.4 754.1h0M22.6 752.6h0M25.4 747.5h0M29.8 750.2h0M34.5 741.7h0M25.6 738.2h0M27.2 739.2h0M23.5 743.6h0M28.6 753h0M11.5 754.8h0M21 746.8h0M19.4 759.8h0M23.5 749.3h0M24.5 747.8h0M31.4 750h0M16.6 758h0M18.9 759.4h0M25.3 743.9h0M29.1 745.8h0M26.1 749.7h0M31.7 756.1h0M26.1 747.8h0M28.5 745.8h0M24.5 749.3h0M30.5 750.3h0M16.9 747.8h0M24.4 748.6h0M26.4 758.6h0M30.1 746h0M25.7 755.5h0M29.4 742.9h0M34.2 755.3h0M36.7 749.1h0M22.1 736.3h0M25.4 746h0M36.2 746.7h0M32.4 751.6h0M31.9 744.2h0M14.1 748.7h0M28.7 745h0M14.8 750.9h0M15.1 756h0M29.7 754.4h0M21.3 751.7h0M29.1 750.1h0M33.6 758.1h0M27.4 751h0M25.7 742.4h0M21.5 742.6h0M27.9 746.2h0M31.3 756.1h0M32 748h0M22.8 753.1h0M44.2 751h0M22.9 745.7h0M30.5 747.9h0M34.7 755.8h0M24.4 750.5h0M21.4 749.9h0M28 748.4h0M17.6 743h0M33.1 756.6h0M18.4 747h0M26.9 743.2h0M21 748.8h0M21.9 745.9h0M35.3 745.2h0M33.6 746.8h0M24.5 752.1h0M32.1 751h0M38.4 746.8h0M26.1 746h0M30.5 754.4h0M28.6 745.9h0M28.6 746.7h0M27.1 752.4h0M32.1 747.7h0M31.6 754.6h0M31.4 756.2h0M29.5 746.1h0M29.5 740.1h0M24 749.8h0M38.6 746.7h0M28 739.4h0M31.6 750.2h0M27.6 748h0M32.5 760.1h0M37 749.8h0M18.3 753.4h0M25.7 742.1h0M27.7 759h0M10.8 741.1h0M25.5 746.6h0M15.8 739.3h0M35.7 754.1h0M22.4 752h0M29.6 751.5h0M33.9 746.5h0M27.9 754.2h0M34.1 754h0M41.2 759.3h0M25.9 747.8h0M27.4 751.9h0M36.8 743.3h0M26.6 744.5h0M20.4 742.5h0M28.6 745.7h0M35.5 742.7h0M19.9 741.5h0M26.6 743.5h0M12.3 762.7h0M19.3 745h0M25.9 745.7h0M34 758.4h0M19.5 746.4h0M32.2 747.2h0M24.9 753h0M40.3 746h0M25.1 750.5h0M19.6 741.7h0M25 751.8h0M28.6 752.3h0M35.6 754.6h0M16.2 751.1h0M31.1 742.1h0M20.6 748.8h0M31.5 745.8h0M15.7 741.9h0M23.2 750.5h0M39 756.9h0M30.8 753h0M26.2 746.8h0M27.6 753.8h0M24.9 754.6h0M27.7 747h0M30.5 759.8h0M34.8 747.8h0M31.4 751.9h0M28.8 750.6h0M32.2 751.7h0M22.9 743.5h0M30.5 748.8h0M25.4 771.8h0M35.9 749.7h0M21.9 742.3h0M25.1 747.7h0M34.6 749.5h0M17.8 750.8h0M39.6 744.8h0M40.1 755.1h0M33.7 757.3h0M26.6 754.6h0M31.8 741h0M18.8 749.7h0M31.7 742.8h0M32.9 761.3h0M22.2 750.4h0M26.7 762.1h0M25.4 749.8h0M9.6 744.4h0M34.1 761.6h0M29.5 758.2h0M19.8 748.9h0M18.9 752.2h0M32.2 750.9h0M24.8 744.4h0M26.5 747.1h0M27.9 747h0M19.5 737.4h0M28.1 743.5h0M33.4 744.4h0M34.1 752.5h0M12.1 753.5h0M28.8 749.1h0M36.4 752.1h0M26.9 755.1h0M28.1 751h0M37.5 741.7h0M17 754.8h0M26 752h0M30.5 748.8h0M26.5 750.9h0M31.5 757.6h0M30.7 739.7h0M30.9 742.9h0M24.8 749.6h0M23 752.2h0M34.8 755.4h0M34.2 754.2h0M31.1 758.2h0M21.1 741.1h0M46.8 757.4h0M20.2 762.5h0M30.2 761.4h0M19.8 742h0M35 756.7h0M30.2 756h0M41.5 750.4h0M28.9 752.2h0M15.7 753.3h0M24.7 755.3h0M26.2 764.2h0M25.9 757h0M30.2 749.9h0M30.7 741.1h0M27.8 744.1h0M27.8 754.1h0M26.8 761.5h0M31.1 745h0M39 747.3h0M29.5 743.6h0M27.3 743.4h0M27.6 749.3h0M21.7 736h0M36.3 757.6h0M26.7 750.3h0M32.4 749h0M26.2 743.1h0M17.2 754.8h0M34.6 762.8h0M14.6 753.4h0M15.5 749.3h0M27.7 748.1h0M40 748.4h0M38.7 751.8h0M26.5 749.1h0M27.5 746.3h0M27.8 756.4h0M35.2 749.3h0M49.1 735.7h0M17.7 748.2h0M32.4 754.3h0M37 749.5h0M30.5 749.3h0M24.8 743.1h0M30.1 755h0M29.8 749h0M31.2 750.3h0M34.1 757.5h0M33.8 742.2h0M29.5 752.1h0M22.7 751.5h0M37.4 749.5h0M28.5 739.7h0M23.5 750.3h0M21.4 743.6h0M20.3 741.5h0M34 744.1h0M34.5 747.2h0M25.8 752h0M12.8 746.6h0M27.1 755.1h0M22.8 753.5h0M34.9 759.3h0M28.1 746.9h0M27.4 748.9h0M29.4 755.3h0M23.3 742h0M32.6 745.7h0M16.8 744.4h0M28.6 748.9h0M28 754.2h0M26.3 751.2h0M23.7 758.8h0M26.3 740.7h0M22.5 746.9h0M28.6 750.9h0M37.2 755.5h0M31.6 756.7h0M22.1 748.1h0M19.5 753.5h0M34.5 746.8h0M24.4 746.3h0M11.7 757.2h0M33.1 748.7h0M22.8 741.8h0M26.4 753.2h0M27.6 741.3h0M31.8 754.2h0M20 751.9h0M19.3 745.6h0M30.7 749.4h0M34.6 750.5h0M25.6 745h0M35.2 749h0M30.9 744.5h0M32.6 738.5h0M34.8 760h0M28.6 746.6h0M26.2 749.1h0M16 752.5h0M29.2 752.2h0M15.9 757.7h0M33.5 742.9h0M23.7 757h0M40.2 754.1h0M34.2 750.6h0M16.5 752.1h0M38.9 744.9h0M23.6 748.5h0M29.1 743.5h0M20 742.2h0M31.9 759.5h0M24.7 760.3h0M15.7 748.5h0M39.4 751.5h0M33.2 760.5h0M28.4 748.1h0M32 749.9h0M21.7 754.1h0M23.5 756.3h0M27.4 754.4h0M25.5 748.4h0M41.3 745.9h0M35.1 751.2h0M26.8 754.9h0M23.2 749h0M38.7 757.8h0M27.5 751.9h0M30.7 743.7h0M20.2 743.3h0M34.2 752.1h0M19.2 756.9h0M31.4 753.9h0M25 773.6h0M20.5 767.1h0M11.9 771.7h0M24.9 767.7h0M18.6 777.8h0M25.2 765h0M23.7 775.3h0M16.4 770h0M18.6 768h0M21.8 763h0M21.1 766.7h0M23 772.7h0M19 764.7h0M22.4 763.7h0M18.5 765.3h0M18.6 768h0M20.7 759.2h0M18.4 774.2h0M21.6 763.5h0M25.9 774.7h0M17.2 775h0M18.9 773.8h0M22.8 765.8h0M22.7 766.1h0M18.1 771.9h0M22.9 769h0M17.4 765.3h0M17.3 766.9h0M25.9 759.8h0M20.2 768.3h0M28 764.3h0M25.5 767.2h0M25.3 762.3h0M26.6 766.7h0M20.5 772.9h0M21.4 767.3h0M17.9 769h0M18.4 770h0M18.6 768.7h0M16.1 766.6h0M19.5 774.3h0M15.5 769.4h0M23 775.3h0M21.1 769.2h0M13.1 773.3h0M22.4 771.9h0M20.1 771.4h0M18.2 764.1h0M24.4 769.3h0M21.9 770.7h0M21.6 765.9h0M23.6 764.2h0M21.8 764.7h0M30.9 768.1h0M22.5 771.4h0M19.1 765.1h0M20.5 764.9h0M24.1 772.8h0M20.1 767.9h0M23.8 766.2h0M31.3 764.8h0M18.4 764.1h0M23.2 764.3h0M17.4 764.5h0M18.6 768.2h0M23.2 764.4h0M23.9 758.1h0M18.5 764.7h0M16.3 772.9h0M20.3 767.9h0M17.6 755.4h0M21.7 772.6h0M23.4 777.3h0M22.9 776h0M17.3 767.4h0M26.7 768.9h0M16.9 768.7h0M27.6 760.1h0M12.5 767.9h0M21.2 770.5h0M21.2 762h0M24.1 775.7h0M20.1 775.3h0M24.7 760.7h0M21.2 766.2h0M13.9 762.8h0M10.9 771.6h0M23.6 765.9h0M24.3 776.4h0M22.6 763.5h0M21 766.7h0M17 768.9h0M21.6 763.8h0M18.5 774.1h0M21.5 767h0M20.3 773.3h0M15.5 766.6h0M21.4 762.7h0M24.5 763.6h0M16.8 762.2h0M21.3 757.2h0M15.5 764.8h0M26.6 761.1h0M24.7 775.6h0M25.6 759.6h0M17.7 763.2h0M15.1 773.1h0M19.1 764.6h0M22.8 777.7h0M20.9 763.9h0M21.2 775.1h0M16.1 765.9h0M15.9 769.8h0M21.4 772.7h0M24.6 770.1h0M27.8 771.9h0M20.4 766.5h0M22.6 768.2h0M21.5 767.8h0M22.2 757.4h0M22.6 772h0M25.9 771.9h0M20.6 761.2h0M24.4 769h0M25.5 769h0M15.9 758.5h0M23.7 775.8h0M23.4 766.8h0M20.9 764.9h0M13.5 768.6h0M20.6 773.8h0M22.4 766.2h0M13.9 768.9h0M16.8 761.3h0M26.5 767h0M21.6 772.9h0M27.9 775.1h0M32.2 757.9h0M25.3 760.8h0M22 767.1h0M27.9 778.4h0M24.5 772.4h0M17.3 761.4h0M23.3 770.4h0M22.1 770.5h0M22.9 768.7h0M19.5 765.7h0M19.3 774.7h0M15.6 770.3h0M21.9 760.1h0M21.4 754.1h0M16.4 773.5h0M14.9 771.6h0M18 768.2h0M17.5 775.5h0M19.7 766.3h0M29.8 766.9h0M18.6 766.1h0M17.8 767.5h0M22.6 758.3h0M20.1 764.9h0M15.5 768.8h0M14.9 772.6h0M23 761.7h0M22.5 773h0M21.4 774.5h0M22.8 763.9h0M17 766.6h0M18.4 772.6h0M15.5 758.5h0M20.4 756.6h0M19 776.4h0M13.8 767.5h0M27 774.7h0M29.3 767.5h0M25.8 769.6h0M24.4 779.6h0M19.6 772.6h0M23.8 756.3h0M18.7 768.3h0M21 758.5h0M21.8 773.4h0M18.8 759.1h0M21.7 773.7h0M21.3 765h0M17.3 772h0M20.5 765h0M21.5 767.7h0M20.8 762.4h0M23.2 772.1h0M16.2 769h0M22.6 770.7h0M23.6 761.4h0M20.3 760.5h0M18.8 772.4h0M23.4 766.5h0M20.5 774.2h0M17.1 764.5h0M23.2 765.4h0M24.6 763.4h0M18 773.9h0M24.5 764h0M23.1 775.6h0M17.3 767.1h0M20.5 768.9h0M18 768.4h0M20 760.1h0M18.5 767h0M21.1 766.5h0M24.5 766.6h0M19.3 773.8h0M19.9 774.6h0M22.7 767.6h0M17.1 764.8h0M19.8 771h0M20.9 757.4h0M27.3 764.7h0M21.6 780.1h0M18.8 771.8h0M22.2 775.2h0M17.2 769h0M17.4 772.6h0M27.3 769.7h0M22.5 756.6h0M17 776.5h0M22 758.6h0M23 765h0M20.8 772.1h0M16.5 773.5h0M33.1 759.1h0M19.1 769.7h0M18.7 772.2h0M16.2 773.2h0M21.1 768.7h0M28.2 771.7h0M17.3 765.8h0M23.6 759.6h0M17.9 767.2h0M19 774.4h0M16.4 764h0M29.2 768.3h0M18.7 764.6h0M20.3 763.3h0M19.3 774.9h0M19.4 760.8h0M21.6 772.6h0M19.5 768.4h0M15.6 778.2h0M26.4 773.5h0M23.3 769.4h0M21.2 762.9h0M23.3 774.7h0M22.8 771.8h0M22.4 772.9h0M19.4 761.2h0M30 767.8h0M28.3 768.5h0M15.4 764.8h0M19.5 761.3h0M22.6 773.3h0M24.4 768.5h0M16.9 760h0M22.3 768.5h0M20.6 767.1h0M24.4 775.5h0M18.9 766.4h0M15.8 766.2h0M15.1 766h0M18.5 776.2h0M24.3 768.1h0M19.8 768.7h0M24.1 770.3h0M14.6 767h0M16.7 781.4h0M15 771.4h0M19.1 769.9h0M19.5 774.9h0M21 776.7h0M16.2 760.7h0M17.8 776.8h0M20.3 768.6h0M23 772.2h0M23 773h0M21.4 766.4h0M25.5 758.8h0M22.9 756.7h0M16.2 771.6h0M15.2 766.1h0M25.3 769.3h0M19.4 780.9h0M24.1 763.1h0M19.2 771.8h0M18.4 765.6h0M17.7 766.3h0M22.9 762.4h0M19.2 772.2h0M26.2 769.6h0M25.6 766.1h0M32.9 771.7h0M21.4 774.5h0M21.3 773.2h0M19.9 773.7h0M15.9 773.9h0M21.3 766.5h0M14.6 772.6h0M28.3 761.6h0M14.6 774.1h0M23 776.7h0M18.1 760.4h0M21.8 775.4h0M14.7 772.6h0M18.3 766.9h0M21.8 764h0M16.7 772.4h0M18.5 763.4h0M24.3 758.4h0M16.6 772.4h0M12.5 776.7h0M24 773.6h0M22.5 768.4h0M24.8 773.1h0M24.9 771.8h0M26.2 774.7h0M22 778h0M15.8 767.2h0M23.3 772.6h0M29.9 768.5h0M28 769.6h0M26.2 768.6h0M24.2 773.5h0M21.6 767.7h0M20.1 775.7h0M13.1 754.4h0M16.6 765.8h0M15.2 775.6h0M21.1 766h0M18.9 757.5h0M24.1 766.7h0M23 767h0M23 764.5h0M24.8 768.7h0M20.1 758.3h0M27.4 767.7h0M29.3 763.7h0M19.9 754.8h0M22.3 768.1h0M23 759.9h0M17.8 770.9h0M14.3 767.8h0M24.8 779.6h0M19 767.4h0M20.9 768.1h0M25.3 768.3h0M17.6 771.3h0M23.7 774.9h0M22 773.7h0M20.2 754.3h0M19.1 766.8h0M20.7 769.7h0M23.6 765.5h0M19.9 776.3h0M26.8 769.3h0M20.5 774.2h0M17.7 767h0M17.5 763.4h0M23.4 769.9h0M26.2 765.4h0M20 770.7h0M16.2 768.5h0M18.7 772.9h0M17.9 771.9h0M15.5 768h0M23.3 766.1h0M24.5 761.9h0M23.8 777.3h0M26.8 763.8h0M19.4 768.5h0M21.3 769.2h0M23.4 767.4h0M20.8 772.9h0M21.1 767h0M18.6 763h0M21.3 779.4h0M25.5 770h0M22.9 765.3h0M14.6 778h0M25.1 764.6h0M23.9 767.3h0M25 760.5h0M20 763.4h0M15.8 778.8h0M23.9 765.6h0M22.2 760.2h0M22.2 770.5h0M21.2 772h0M26.3 764.2h0M19.7 768.8h0M22.1 771.7h0M18 756.1h0M22 763.1h0M26.5 777.1h0M18 770.1h0M26 758.6h0M28.1 770.5h0M23.3 762.8h0M19.6 767.8h0M20.4 770.2h0M21.5 767.6h0M25.3 764.7h0M19.4 766.2h0M21.9 767.6h0M16.1 765.5h0M21 767.6h0M20.6 762.2h0M25.8 762.1h0M19.1 782.9h0M19.7 767.4h0M20.2 769.5h0M22.1 769.9h0M22.5 761.6h0M19.1 767.5h0M19 768.5h0M23.3 758.3h0M17.9 771.5h0M16.4 773.5h0M15.6 762.4h0M18.6 765.9h0M20 755.4h0M18.9 778.2h0M16.2 768.8h0M19.5 773.4h0M15 766.6h0M19.7 756.1h0M14.6 773.1h0M18.5 771h0M17.1 767.1h0M19.2 769.2h0M17.7 770.9h0M25.7 764h0M21.6 763.4h0M23.1 766.7h0M22.3 771.6h0M19.7 772.2h0M22.4 754.6h0M16 769.6h0M16.6 759.2h0M23.1 762.7h0M16 764.7h0M21.6 768h0M17.6 765.6h0M19 776.1h0M15.7 763.6h0M17.9 760.5h0M21.2 771.5h0M18.2 777.2h0M26.5 768.2h0M13.2 769.1h0M25.8 767.3h0M19.9 774.8h0M28.4 777.5h0M23.1 767.1h0M25.9 772.6h0M21.4 766.1h0M26.1 766.5h0M21.6 769.7h0M21.2 766.3h0M26.3 763.5h0M22.8 768.8h0M25.1 767.2h0M23.4 761h0M25.7 767h0M19 763.1h0M25 771.4h0M19.7 768.8h0M18.2 766.1h0M20.1 780h0M18.6 766.7h0M20 772h0M23.1 765.4h0M21.4 765.8h0M14.5 769.4h0M23.3 767.2h0M22.4 757h0M21.4 755.2h0M26 768.8h0M21 772h0M22.3 776.6h0M17.5 769h0M24.5 759.1h0M19.9 763.5h0M22.1 771.7h0M25.2 768.5h0M28.1 768.7h0M14.2 761.8h0M16.9 773.4h0M18.6 755.3h0M22.4 772.1h0M20.7 760h0M17 772.7h0M26.9 770.4h0M23.9 767.5h0M18.1 767.3h0M22.1 770.2h0M26.2 769.5h0M21.1 769.8h0M20.8 766.1h0M25.2 777.6h0M24.2 766.8h0M23.1 763.8h0M20.9 767.6h0M17.5 767.2h0M30.4 767h0M17.8 766.2h0M19.4 762.6h0M17.3 766.5h0M14.4 767.4h0M16.7 760.8h0M27 771.7h0M20.1 772.5h0M30.4 765.8h0M17.3 772.8h0M21.4 770.3h0M27.7 765h0M19.6 773.1h0M20.8 761h0M20.6 769h0M25.4 768.1h0M28.2 756.4h0M20.4 768.3h0M30.3 768.6h0M24.6 760.8h0M15.5 768.9h0M23.4 768.6h0M24.4 769.8h0M19.1 768.7h0M11.7 775.1h0M21.7 761.9h0M25.5 766.2h0M21.3 768.2h0M22.2 772.8h0M19 775.2h0M26.3 763.3h0M27.6 765.6h0M21.1 772.6h0M19.8 769.2h0M20 755.8h0M15.5 762.3h0M16.4 767.5h0M23.3 763h0M16.1 766.5h0M24.5 767.2h0M22.5 764.2h0M18.4 766.4h0M22.2 765.2h0M25.3 773h0M12.2 768.3h0M19.4 771.5h0M22.6 782.7h0M19.5 767.4h0M21.7 767.2h0M18.2 765.2h0M15.9 767.8h0M27.8 775.9h0M23.6 763.1h0M21.7 758.8h0M21.1 759.6h0M28.6 772.3h0M18.5 769h0M18.6 760.1h0M20.5 773.6h0M20.5 777.6h0M21.8 772.1h0M23.8 769.2h0M19.7 764.7h0M16.7 759.2h0M28.3 763.6h0M22.4 777.5h0M21.4 755.4h0M23.5 766.3h0M24.1 775.1h0M22.8 764.5h0M17 763h0M25.5 763h0M18.5 771.2h0M22.2 771h0M31.1 780.7h0M22.4 777h0M22.8 769.6h0M21.3 776.1h0M17.6 765.9h0M21.9 771.7h0M21.9 774.2h0M27.1 761.1h0M20.2 764.4h0M20.4 765.1h0M31.6 765.9h0M22.3 774.5h0M19.1 778.8h0M27.9 761.3h0M21.8 764h0M24.9 762.9h0M12.5 769.5h0M20.5 767.1h0M21.9 763.8h0M19 762.3h0M24 768.3h0M17.1 768.7h0M21.9 764.8h0M21.3 757.8h0M21.5 765.4h0M9.7 774.2h0M24.9 772h0M17.7 763.9h0M17.7 765.3h0M23.6 764.2h0M21.6 766.5h0M14.1 771.8h0M20.3 768.9h0M15.6 774.4h0M19.6 761.7h0M17.7 765.7h0M20.2 767.5h0M32 765.1h0M19.3 765.8h0M21.4 764.7h0M23 773.7h0M21.9 759.3h0M19.9 766h0M21.5 759.4h0M18.5 769.8h0M20 766h0M25 763.5h0M25.4 764.3h0M24 772.2h0M20.9 768h0M16.3 774.9h0M18.1 771.2h0M30 769.4h0M21.1 761.9h0M27.2 765.2h0M24 769h0M18.1 761.9h0M21.9 768.3h0M20.3 769.7h0M24.7 765.6h0M16.8 765.3h0M19.7 763.4h0M22.9 760.1h0M19.2 770.6h0M21.1 767.8h0M22.4 781.1h0M18.2 766.8h0M24.4 757.8h0M9.6 763.1h0M33 758.9h0M20.7 774.9h0M22.2 777.2h0M17.2 762.1h0M19.1 765.3h0M18.8 765h0M20.9 764.1h0M23.8 777.8h0M21.6 768.6h0M18 769.5h0M26.9 775.1h0M21.9 766.8h0M24.4 762.3h0M17.3 768.2h0M21.7 764.9h0M15.1 781.3h0M28.7 760.8h0M18.7 766.3h0M23.9 768.1h0M18.7 761.8h0M16.8 763.8h0M24.8 769h0M18.8 764.9h0M24.8 765.4h0M24.6 770.9h0M21.1 771.8h0M21.7 769.5h0M20.7 763.4h0M24 777h0M12.3 772.2h0M23.3 764.4h0M16.9 767.1h0M13.5 773.3h0M23.9 761.5h0M16 756h0M20.6 765.1h0M24.5 760.1h0M23.6 771.4h0M13.6 768.6h0M23 763.5h0M20.4 766.8h0M26.6 774.9h0M22.1 769.8h0M17 765.1h0M25 760.1h0M16.2 772h0M12.9 753.5h0M26.2 760.3h0M22.3 768.7h0M20.9 761.6h0M27 758h0M19.2 771.4h0M26.3 755.3h0M24 750.7h0M24.7 770.3h0M26.2 763.6h0M25.9 752h0M17.4 746.2h0M26.5 760.1h0M24.7 766h0M27.9 750.5h0M17.5 753.5h0M22.7 739.9h0M24.5 763.9h0M25.2 757.3h0M19.8 764.5h0M25.9 756.4h0M19.5 746.3h0M33.1 768h0M20 759.8h0M25.3 743.5h0M22.6 752h0M19 757.5h0M22.6 754.5h0M26 756.1h0M23.8 772.2h0M29.3 766.6h0M22 756h0M22.4 775.2h0M20.8 752.9h0M18.6 753.2h0M24.3 764.4h0M16.7 751.4h0M27.1 745.7h0M21.9 748.5h0M27.6 751.9h0M23.5 749.3h0M17 751.6h0M21.7 757.3h0M25.7 760.4h0M14.1 749h0M24.8 765.8h0M28 742.2h0M23.9 748h0M22.7 768.6h0M24.7 761.2h0M22.6 764.8h0M21.8 754.3h0M29 737h0M13.4 743.4h0M24.1 756.6h0M28.8 752.7h0M17.2 767.2h0M20.7 769h0M26.9 748.7h0M24.4 763.9h0M22.1 756.5h0M27.2 758h0M17.7 768h0M19.1 747.2h0M20.4 763.1h0M19.7 769.6h0M27 781.4h0M30.2 744.7h0M17.7 750.6h0M30.4 758.3h0M25.1 775.2h0M24.7 762.2h0M22.5 752.2h0M27.9 747.6h0M23 740.6h0M18.7 744.1h0M15.1 746h0M18.8 745h0M21.4 760.4h0M19.8 755.7h0M20.9 772.9h0M25.5 755.2h0M21.6 764.3h0M24.5 772.2h0M19.3 750.6h0M18.4 765.1h0M18.3 761h0M13.4 763.9h0M19.8 771.6h0M29 758.8h0M23.1 752.3h0M17 757.3h0M22.4 750.9h0M20 761.2h0M24.3 775.6h0M28.9 744.1h0M29.6 748.6h0M23.9 756.5h0M29.4 741.8h0M21.1 751.8h0M7.6 762.8h0M19.8 761.1h0M27.5 767.1h0M27.5 761.1h0M22.6 755.7h0M25.7 776.2h0M22.1 766.7h0M24.4 758.5h0M15.7 748.1h0M25.4 746.7h0M28.5 750.4h0M9.7 745.2h0M17.3 750.9h0M22.6 733h0M25.6 765.4h0M15.8 753.2h0M19.3 740.7h0M21.7 766.6h0M31.1 759.4h0M13.2 762.7h0M13.3 749.3h0M25.1 746h0M13.9 760.9h0M26.7 759.3h0M16.1 751.4h0M18.7 773.1h0M27.4 755.6h0M28.5 759.9h0M11.7 742.7h0M22.8 752.8h0M22.5 763.6h0M22.2 748.5h0M17.6 756h0M26.3 751.5h0M20.4 753.2h0M17.1 750.2h0M26.2 759.3h0M16.1 762h0M31.5 755h0M17 741.5h0M27.4 743.2h0M20.5 776.2h0M23.2 748.4h0M16 750.1h0M27.1 758.7h0M19 753.6h0M18.3 764.4h0M27.7 769.4h0M21.1 764h0M21.5 754.6h0M9.1 752h0M24 761.5h0M15.7 749h0M28.1 767h0M34.8 768.3h0M22.3 758.4h0M13.3 766.8h0M27.5 770.6h0M25.1 746.7h0M24.4 760.7h0M17.4 740.3h0M18.7 769.6h0M20.3 752.4h0M20.5 771.7h0M18.8 768.4h0M22.1 750.4h0M21.1 756h0M15.9 747.2h0M34.6 761.2h0M15.9 756.2h0M14.4 765.9h0M17 746.5h0M20.1 764.4h0M27.4 755.6h0M23.7 749.4h0M16.7 736.1h0M22.4 776.7h0M20.4 755.9h0M37.5 768.1h0M12.7 769.2h0M20.5 759.4h0M23.2 770.4h0M21.3 750.2h0M21.5 760.9h0M26 755h0M15.9 771.6h0M21.1 761.4h0M25.4 746.8h0M16.6 751.6h0M12.8 760.2h0M26.3 756.3h0M14.4 748.9h0M23.4 747.2h0M21.8 746.5h0M17.3 746.4h0M24.9 752.4h0M31.4 764.4h0M29 747.9h0M15.2 753.7h0M14.7 759.9h0M21.6 759.1h0M20.3 767.3h0M16.1 761.7h0M11.6 763.6h0M31.3 755.7h0M28.6 745h0M17.7 747.3h0M30.9 762.2h0M20.3 762.8h0M19.1 754.7h0M26.2 739.9h0M20.9 755.2h0M33.3 744.5h0M15.8 753.8h0M16.7 773.3h0M30.7 760.8h0M24.9 761.3h0M21.4 753.2h0M22.5 754.5h0M20.9 745.5h0M19.8 759.3h0M18.3 747.2h0M28.1 755.6h0M20.3 749.3h0M18.2 767h0M16.4 734.7h0M19.8 774.3h0M25.6 742.8h0M18.4 769.5h0M22.8 776.4h0M18.5 750.6h0M22.5 761.3h0M29.2 743.5h0M26.8 756.2h0M25.2 751.5h0M21.9 756.6h0M19 749.4h0M28.6 736.3h0M15.4 748.7h0M22.7 735.7h0M25.1 744h0M19.1 748.4h0M26.5 741.6h0M18 776h0M27.3 757.8h0M18.5 742h0M24.3 764.2h0M24.5 756.9h0M26.9 756.2h0M21.6 752.7h0M16.9 763.7h0M20.8 744.7h0M13.8 759.2h0M23.8 762.1h0M20.7 758.6h0M19.3 756.5h0M22.2 763.7h0M23.3 755.1h0M30.2 749.9h0M21.9 767.3h0M20.4 766.5h0M21.8 748.6h0M21.7 770.1h0M16.6 755.8h0M20.7 740.9h0M23.4 751.3h0M21.7 750.8h0M19.3 747.5h0M24.1 764.9h0M19 755.4h0M22.3 757.2h0M23.4 753.2h0M22.3 751.9h0M28 754.7h0M29.5 741.8h0M25.1 741.1h0M22.5 755.5h0M18.6 752.4h0M23.1 744.7h0M16.3 752.6h0M23.7 754.6h0M21.1 752.6h0M23.6 742.5h0M21.4 749.2h0M14.1 753.8h0M19.5 759.4h0M19.6 760.9h0M23 764.8h0M22.4 760.5h0M25.2 762.5h0M28 756.7h0M29.8 757.6h0M25.7 765.4h0M29.2 750.4h0M38.3 752h0M25 762.2h0M25.5 739.3h0M17.7 738.3h0M18.3 762.1h0M25.3 751.3h0M54.7 753.2h0M52.3 746.2h0M45.1 747.1h0M49 754.7h0M40 752.2h0M43.7 753.2h0M40.2 751.2h0M40.8 747.9h0M40 755.3h0M49.3 750.4h0M43.2 758.9h0M40.2 749.2h0M45.4 757.1h0M42.8 748.4h0M49.5 750h0M45.8 749.1h0M41 750.3h0M40 754.4h0M44.2 746.7h0M46.8 751.5h0M50.2 750.2h0M41.7 750.9h0M43.2 754.1h0M41.4 752.1h0M48.6 754.4h0M61.9 748.6h0M41.7 758.8h0M44.9 748.8h0M43.4 753.2h0M42.5 757.8h0M50 754.2h0M45.5 744.2h0M51 757.3h0M49 751h0M40.9 751.3h0M41 750.9h0M43.1 754.1h0M45.7 749.7h0M44.7 753h0M46.3 748.1h0M42 751h0M42.6 743h0M40.2 746.5h0M59.1 746.6h0M57.7 758.7h0M45.7 750.6h0M41 746.8h0M46.3 759.6h0M54.8 755.4h0M54 755.7h0M57.9 756h0M43.7 749h0M51.7 742.3h0M48.6 746.6h0M40.4 758.2h0M50.7 749.5h0M43.1 755.3h0M45.5 745.9h0M40.9 747.1h0M41.7 746.9h0M46.4 753.7h0M40.1 750.8h0M44.2 755.4h0M41.2 754.5h0M56.2 749.5h0M40.9 752.1h0M46.8 752h0M57.8 748.9h0M45 755.9h0M63.7 752.6h0M43.4 750.2h0M61.1 753h0M41.8 753.7h0M43.8 745.1h0M40.5 751.1h0M59.8 753.5h0M49.1 756.2h0M40.6 749.3h0M57.5 747h0M47.1 751.9h0M45.5 751.5h0M44 753.6h0M42.3 753.2h0M54.5 747.5h0M46.9 748.5h0M55.7 748.3h0M48 749.5h0M61.2 748.9h0M59.5 743.2h0M55.5 752.9h0M74.5 744.3h0M53.6 773.4h0M38.5 732.3h0" stroke="#000" stroke-width="0.9" stroke-linecap="round" fill="none"/>
<rect x="3.3" y="719.2" width="79.7" height="68.3" fill="none" stroke="#777" stroke-width="0.9"/>
<rect x="23.4" y="739.9" width="22.6" height="18.1" fill="none" stroke="#d62a2a" stroke-width="1.1"/>
<rect x="12.5" y="759.6" width="17.7" height="17.8" fill="none" stroke="#d62a2a" stroke-width="1.1"/>
<text x="8.2" y="834" font-size="15" fill="#000" font-weight="bold">g</text>
<line x1="46.6" y1="845.3" x2="216.2" y2="845.3" stroke="#444" stroke-width="0.9"/>
<line x1="216.2" y1="845.3" x2="216.2" y2="958.3" stroke="#444" stroke-width="0.9"/>
<line x1="46.6" y1="958.3" x2="216.2" y2="958.3" stroke="#444" stroke-width="0.9"/>
<line x1="46.6" y1="845.3" x2="46.6" y2="958.3" stroke="#333" stroke-width="1.2"/>
<line x1="41.8" y1="845.6" x2="46.6" y2="845.6" stroke="#333" stroke-width="0.9"/>
<text x="41" y="848.7" font-size="8.8" fill="#1a1a1a" text-anchor="end">2.0</text>
<line x1="41.8" y1="901.6" x2="46.6" y2="901.6" stroke="#333" stroke-width="0.9"/>
<text x="41" y="904.7" font-size="8.8" fill="#1a1a1a" text-anchor="end">1.5</text>
<line x1="41.8" y1="958.3" x2="46.6" y2="958.3" stroke="#333" stroke-width="0.9"/>
<text x="41" y="961.4" font-size="8.8" fill="#1a1a1a" text-anchor="end">1.0</text>
<line x1="46.6" y1="958.3" x2="46.6" y2="962.3" stroke="#333" stroke-width="0.9"/>
<text x="46.6" y="972.4" font-size="8.8" fill="#1a1a1a" text-anchor="middle">0</text>
<line x1="80.52" y1="958.3" x2="80.52" y2="962.3" stroke="#333" stroke-width="0.9"/>
<text x="80.52" y="972.4" font-size="8.8" fill="#1a1a1a" text-anchor="middle">0.5</text>
<line x1="114.44" y1="958.3" x2="114.44" y2="962.3" stroke="#333" stroke-width="0.9"/>
<text x="114.44" y="972.4" font-size="8.8" fill="#1a1a1a" text-anchor="middle">1.0</text>
<line x1="148.36" y1="958.3" x2="148.36" y2="962.3" stroke="#333" stroke-width="0.9"/>
<text x="148.36" y="972.4" font-size="8.8" fill="#1a1a1a" text-anchor="middle">1.5</text>
<line x1="182.28" y1="958.3" x2="182.28" y2="962.3" stroke="#333" stroke-width="0.9"/>
<text x="182.28" y="972.4" font-size="8.8" fill="#1a1a1a" text-anchor="middle">2.0</text>
<line x1="216.2" y1="958.3" x2="216.2" y2="962.3" stroke="#333" stroke-width="0.9"/>
<text x="216.2" y="972.4" font-size="8.8" fill="#1a1a1a" text-anchor="middle">2.5</text>
<text x="24.2" y="901.8" font-size="9.8" text-anchor="middle" fill="#111" transform="rotate(-90 24.2 901.8)"><tspan font-weight="bold" fill="#3aa783">H3K4me3</tspan> (IP/Input)</text>
<text x="131" y="986.6" font-size="10.2" text-anchor="middle" fill="#111"><tspan fill="#dc9ad3">6mA</tspan> (%)</text>
<text x="211.2" y="855.3" font-size="8.6" fill="#1a1a1a" text-anchor="end">R (pearson): 0.61</text>
<path d="M47.7 934.4h0M47 940.5h0M46.9 947.4h0M47 953.3h0M48 933.7h0M46.6 936.1h0M47.5 926.9h0M46.6 950.1h0M48 929.2h0M47.2 918.4h0M47.4 933.2h0M46.7 936.2h0M47.1 952.8h0M47.8 932.7h0M47 953.4h0M47.5 955h0M46.8 947.2h0M47.2 957.7h0M48.2 952h0M48.2 939.5h0M47.1 948.6h0M46.7 941.3h0M47.2 956h0M46.9 949.2h0M46.7 941.1h0M47.1 931.6h0M46.7 924.5h0M47.2 957.3h0M47.6 945h0M46.9 938h0M46.7 932.1h0M46.7 937.8h0M47.1 932.8h0M47.2 948.1h0M48 933.5h0M47.9 927.6h0M47.3 938.4h0M46.6 909.6h0M47.9 940.6h0M46.6 955h0M47.5 922.6h0M47.3 956h0M46.7 931.5h0M47.3 945.5h0M47.5 939.7h0M47.1 937h0M47 947.6h0M46.7 931.7h0M47.1 934.6h0M47 949.8h0M47.2 947.2h0M47.9 942.6h0M46.9 957.2h0M47.4 935.5h0M46.7 941.6h0M47.6 955.9h0M46.8 955.2h0M47.2 947.8h0M46.9 943.3h0M47.4 953.8h0M47.3 956.1h0M48 949.8h0M47.5 953.7h0M47.7 956h0M48 939.2h0M48.6 957.7h0M47.7 940.3h0M47.3 927.8h0M47.2 932.3h0M46.8 951.4h0M47.5 903.5h0M47.5 949h0M46.7 949.2h0M47 958.2h0M47.4 943.4h0M46.9 941.7h0M46.7 955h0M47.7 932.9h0M47.7 939h0M47.5 935.1h0M46.7 947.9h0M46.8 944h0M47.3 938.4h0M47 927.5h0M47.1 949.5h0M47.2 929.8h0M47.3 944.6h0M46.8 957.2h0M46.8 946.5h0M47.3 941.5h0M46.7 936.8h0M47.7 946.6h0M47.4 934.8h0M46.6 910.1h0M47.5 954.2h0M47.5 935.8h0M47 955.3h0M47.2 937.9h0M47.6 952.5h0M47.9 920.5h0M47 947.3h0M48 931.5h0M47.3 954.3h0M47 944.5h0M47.9 957.4h0M47.8 948.3h0M48.2 934.5h0M47.7 919h0M47.7 912h0M47.1 955.5h0M47.2 914.3h0M47.5 949.6h0M46.9 933h0M47.2 917h0M47.6 916.6h0M47.3 942.3h0M47.2 954.1h0M47.1 948.4h0M48.2 957.8h0M47.9 933.3h0M47.2 925h0M47.2 935.4h0M47.7 946.3h0M46.8 956h0M48 954.6h0M48 953.7h0M46.7 937.5h0M46.8 938.3h0M47.6 957.5h0M47 956.1h0M47.1 948.1h0M47.2 924.8h0M47.6 950.3h0M46.7 949.7h0M47.3 927.2h0M47.2 944.4h0M48 947.6h0M47.8 944.2h0M47.9 938h0M46.8 946.2h0M47.7 946.4h0M47.5 941.1h0M47.8 928.9h0M46.8 956h0M48 946.8h0M46.9 934.2h0M46.8 946.2h0M46.6 953h0M46.9 949.1h0M46.8 941.9h0M46.8 933.5h0M47 943.4h0M47.4 934.1h0M47.4 938.6h0M46.7 953.3h0M46.8 951.2h0M46.8 949.6h0M47.3 930.2h0M46.6 934.6h0M47.1 955.1h0M46.9 928.6h0M47 942.6h0M46.7 937.2h0M47 916.9h0M47.9 922.6h0M47.7 932.2h0M46.9 947.7h0M46.8 951.6h0M47.6 934.2h0M47.3 900.8h0M46.8 935.3h0M46.9 933.4h0M47.4 951.3h0M47.2 941h0M47 953.3h0M46.7 938.2h0M46.9 942.6h0M47.9 939.8h0M47.4 956.2h0M46.7 943.7h0M47.1 904.6h0M48.8 933.6h0M46.8 953.6h0M47.1 935.4h0M47.1 926.6h0M47.1 953.8h0M48.5 938.8h0M47.7 956.9h0M47.6 955.2h0M46.7 955.4h0M47 951.1h0M46.8 936.7h0M46.9 936.4h0M46.7 928.4h0M47 929.3h0M47.1 952.9h0M47.3 917.4h0M47.1 954.6h0M47.1 949.5h0M47 937.7h0M46.7 954.8h0M47.5 950.1h0M48.8 930.9h0M46.8 941h0M46.7 933.8h0M48.2 933.9h0M47.5 954.9h0M47.2 923.1h0M47.2 952.7h0M46.8 923.7h0M47.2 926.9h0M47 946.5h0M47 950.7h0M47.2 945.7h0M47 941.4h0M47.9 937.4h0M47 954.6h0M46.8 929.6h0M47 929.2h0M47.2 940.6h0M47.7 946.2h0M46.6 929.7h0M47.2 935h0M47.6 933.7h0M47.3 935.5h0M47.4 958.1h0M47 945.1h0M48.1 952.8h0M47.3 943.2h0M47.1 957h0M46.8 954.4h0M46.8 944.7h0M47.2 940.4h0M47.8 953.2h0M47 950.5h0M47.2 930.7h0M48 944.1h0M46.9 907.5h0M47 954.1h0M47.6 949.9h0M47.4 938.4h0M47.5 952.8h0M47.2 951.4h0M47.2 949.9h0M46.9 926.5h0M46.9 948.7h0M47.7 929.2h0M47.6 949.4h0M47.9 951.1h0M47 944h0M46.7 942.9h0M46.9 953.9h0M46.8 913.5h0M47.5 951.7h0M47 943.4h0M47.9 948.7h0M46.9 957.9h0M47.1 940.1h0M46.8 954.5h0M124.2 935h0M91.3 927.8h0M103.6 925.2h0M136.8 915.2h0M137.1 924.7h0M96 935.3h0M70.6 938.8h0M105.4 946.9h0M70 951.9h0M80.4 956.2h0M87.6 935h0M117.8 940.6h0M104.3 940.6h0M103.2 946.7h0M81.6 941h0M124.5 926h0M99.3 938.3h0M105 932.2h0M133.8 938.3h0M114.8 952.7h0M76 946.5h0M99.7 943.8h0M124.7 940.4h0M105.5 954.2h0M90.5 924.4h0M88.7 945.6h0M106.2 956h0M75 935h0M79.8 956.1h0M114.7 945.5h0M93 949.1h0M115.6 940.3h0M134.9 914.2h0M88.8 952.5h0M111.9 938h0M132.1 932.8h0M96.7 940.8h0M117.2 933.8h0M125.8 929h0M113.8 933.8h0M82.1 936h0M96.1 929.9h0M79.7 950.8h0M92.6 946.8h0M91 931.2h0M107.9 931.5h0M102.4 941.3h0M133 923.5h0M86.1 936.3h0M105.9 919.9h0M110.2 934h0M104.1 915.3h0M84.4 933.9h0M106.9 938.2h0M108 944h0M133.4 930.2h0M129.4 936.4h0M102.7 941.3h0M95.8 945.2h0M119.8 939.7h0M103.1 930.6h0M102.7 945.7h0M111.1 940.4h0M134.3 926.7h0M117.2 945h0M102.1 943.2h0M78.6 942.5h0M152.3 915.7h0M101.2 931h0M112.8 945.4h0M92.9 926.3h0M140.1 930h0M123.4 920.6h0M121.7 931h0M105.9 929.7h0M89.5 941.7h0M85.3 954.2h0M102.4 935.8h0M123.6 930.3h0M95.4 939.6h0M115.8 935.6h0M98.9 930.7h0M120.8 925.7h0M111.3 930.8h0M149.6 945.9h0M100.1 932.6h0M97.3 947.8h0M147.2 941.3h0M142.3 936.7h0M127 934.2h0M130.5 936.4h0M92.5 943.3h0M108.3 945.9h0M90.4 949.2h0M106.4 934.2h0M114.7 944.2h0M81.9 951.3h0M127.3 928.9h0M99.6 933.5h0M104.2 950.5h0M91.9 948.6h0M106.2 956.2h0M99.2 923.8h0M107.4 929.4h0M107.6 933.8h0M111.7 937.3h0M139.3 930.3h0M98.6 948.2h0M91.6 938.3h0M104 941h0M111 936.7h0M142 947.7h0M100.8 933.4h0M124.7 928.8h0M92.3 948.1h0M122.8 948h0M101.3 944.7h0M128.6 948.6h0M102.9 925.9h0M105.2 933.1h0M128.5 927h0M97.4 939.4h0M124.9 914.7h0M99.4 934.7h0M109.6 953.6h0M100.3 941.1h0M137.7 927.8h0M77.6 931.9h0M105.1 943.3h0M120.2 932.3h0M101 935.5h0M106 933.5h0M72.3 958.2h0M109.1 932h0M112.6 935.3h0M133.4 936.7h0M87 938.1h0M113 951.3h0M116.9 939.1h0M99.8 954.8h0M97.3 933.3h0M99.9 954.4h0M140.7 929.3h0M119.7 930.1h0M103.8 930.8h0M80.4 952.4h0M121.2 953.4h0M138.3 934.5h0M106.5 935h0M83.3 941.3h0M113.7 940.1h0M114.1 946.1h0M112.6 944.5h0M124.4 942.5h0M70.5 947.9h0M127.6 935.8h0M95.8 945.2h0M132.9 936.4h0M123.3 938.8h0M97.6 949.1h0M110.8 932.6h0M126.2 920.5h0M120.9 937.4h0M91.5 943.5h0M99.2 923.6h0M111.6 933h0M99.5 955.1h0M77.1 953.8h0M95.5 929h0M129.6 933h0M91.1 950.1h0M111.3 934.5h0M115 938.2h0M118.7 941.6h0M77.8 944.8h0M111.7 917.5h0M109.3 944.4h0M104.8 949.6h0M122.1 943.7h0M147.5 931.1h0M101 941.3h0M108.1 926.9h0M134.2 932.1h0M124.9 932.9h0M92.1 945.6h0M111.8 943.3h0M89.4 951.2h0M107.4 919.3h0M108.4 944.4h0M125.2 942.4h0M93.4 930.2h0M93.9 947.1h0M158.7 933.9h0M124.7 956.6h0M85.3 934.8h0M112 932.8h0M99.9 943.1h0M101.1 940.6h0M100.8 932.1h0M125.1 920.5h0M73 945.4h0M116.8 935.7h0M127.5 931.2h0M123.9 936.6h0M79.1 953.9h0M136.5 924.9h0M117.5 942h0M87.2 937.1h0M107.2 938.2h0M88.7 948.6h0M147.2 941.9h0M88.6 928.5h0M130.1 939.6h0M121.1 937.6h0M120.1 935.6h0M103.5 937.7h0M98.7 950h0M83.7 935.8h0M93.7 927.5h0M114.3 944.3h0M104 924.4h0M122.2 946.9h0M139.6 923.6h0M151.3 927.9h0M76.5 949.6h0M170.2 914.5h0M72.2 951.2h0M115.5 929.6h0M78.3 947h0M105 938h0M100.6 942.1h0M107.2 941.1h0M79.7 950.2h0M130.1 937.3h0M105.4 920h0M116.8 955.5h0M115.1 924.4h0M128.3 945.2h0M72.5 948.7h0M127.5 919.5h0M131.6 915.5h0M136.6 922h0M133 934.9h0M76.1 942.5h0M145.4 934.4h0M86.7 938.8h0M135.4 937.3h0M89.1 937.6h0M129.3 938.3h0M106.5 945.8h0M109.7 928.2h0M134.1 925.4h0M137.5 946.2h0M80.3 946h0M85.8 940h0M108.8 942.6h0M148.1 936.2h0M104.5 950.5h0M104.6 950.6h0M98.9 942.8h0M83 946.1h0M93.5 944.6h0M119.1 934.8h0M100.3 949.9h0M96.6 943.7h0M108.4 936.9h0M126.5 922h0M101.7 940.9h0M100.5 933.9h0M105.2 954.3h0M126 937.6h0M113 943.7h0M153.1 911.8h0M66.5 931.4h0M129.5 932.6h0M134.1 944.8h0M98.1 928.8h0M85.6 944.7h0M109.7 937.4h0M104.4 938.8h0M122.8 928.1h0M138.1 926.5h0M107.6 935.1h0M130.9 918.6h0M129 943.2h0M112.2 925.2h0M120.5 949.9h0M118.7 929.1h0M135.2 936.5h0M99.4 932.7h0M118 936.9h0M98.8 934.6h0M111.2 950.1h0M109.5 938.8h0M100.1 927.4h0M103.8 936.4h0M108 936.8h0M123.6 930.4h0M111.6 930.6h0M87.1 938.5h0M98.4 955.4h0M127.8 927.3h0M111.7 944.6h0M96.1 953.8h0M86.8 952.5h0M127.7 934.7h0M141.3 926.3h0M107.7 939.7h0M102.4 953.4h0M110.5 944.6h0M143.2 930.2h0M82.7 940.9h0M103.4 945.4h0M87.4 940.4h0M121.3 941.1h0M146.5 929.2h0M89.2 930.5h0M86.4 947h0M149.5 941.3h0M102.6 933.4h0M147.9 927h0M129.1 935.5h0M107.8 943.4h0M102.9 957h0M102.4 925.7h0M88.9 936.7h0M124.3 922.5h0M168.2 919h0M127.4 926.8h0M126.6 936.9h0M111.2 936.4h0M126.1 925.8h0M82.1 942.1h0M132.7 939.5h0M103.9 940.6h0M96 928.9h0M81.9 935.7h0M156.1 932.3h0M108 941.5h0M89.3 951.3h0M118.2 952.2h0M131.6 935.7h0M130.4 947.9h0M113.1 932.6h0M117.6 936.4h0M98.3 943.5h0M114.6 946.2h0M146.1 940.5h0M98.4 933.8h0M112.7 938.5h0M108.8 927.2h0M129.5 936.6h0M145.2 935.6h0M118.3 931.2h0M120.5 934.5h0M128.4 927h0M117.8 939.7h0M115.4 938.8h0M112.4 935.1h0M127.7 925.3h0M123.8 947.1h0M128.9 933.3h0M90.8 943.2h0M93.4 922.8h0M101 935.9h0M127.3 927h0M105.3 938.6h0M62.7 920.7h0M97.6 944h0M109 938.6h0M113.8 941.3h0M144.3 934h0M139.7 934.5h0M127.2 946.8h0M96.6 940h0M104.2 939.1h0M111.4 928.1h0M123.2 956.1h0M138.3 924.8h0M137.8 911.8h0M94.5 948.9h0M128 924.2h0M91.9 945.8h0M81.5 945.3h0M74.7 944.9h0M72.4 952.8h0M124.9 947.7h0M102.5 925.2h0M74.6 950.2h0M136.4 956.1h0M126.3 941h0M101 937.5h0M81.8 932h0M124.7 933.8h0M106.1 934.7h0M117.6 931.9h0M75 935.5h0M82.2 937.1h0M104.1 934.4h0M82.8 948h0M104 939.5h0M86 943.8h0M109.8 951.7h0M126.9 928.4h0M101 943.8h0M93.4 942.9h0M92.2 932.5h0M155 930.7h0M137 941.9h0M126.4 939.7h0M146.2 917.8h0M105 952h0M113.7 921.5h0M101.5 934.4h0M122.6 958.1h0M108.8 921.5h0M143.4 933.7h0M145.9 939h0M95.8 948.1h0M106 929.5h0M100.3 945.8h0M109.2 949.5h0M112 925.2h0M122 948.3h0M73 949.6h0M129.9 938.4h0M109.8 922.3h0M98 931.6h0M120.5 926.1h0M127.7 943.7h0M88.8 946.4h0M126.7 922.9h0M124.1 929.2h0M113.1 917.1h0M108.7 948.3h0M98.5 924.1h0M133.6 936.9h0M136.7 920.8h0M84 940.4h0M92.2 944.1h0M118.4 921.2h0M108.2 950.2h0M101.5 952.3h0M112.2 932.9h0M79.1 935.7h0M86 952h0M97.4 941.8h0M103.6 927.9h0M141.4 941.4h0M129.1 925.7h0M102 935.9h0M92.6 957.5h0M93.4 941.5h0M99.7 942.3h0M110.1 926.6h0M86.1 945.7h0M155.5 921.2h0M99.8 943.7h0M104.3 942.1h0M113.1 931.7h0M102.6 948.5h0M128.9 903h0M93.3 937.2h0M97.1 939.9h0M86.5 940.7h0M97.1 938.5h0M145.1 935.9h0M130.8 945.8h0M121.8 937.1h0M76.5 943.8h0M92.2 940.5h0M107 938.7h0M83.4 940.7h0M117.3 933.6h0M109.9 930.6h0M116.2 935.1h0M88.4 953.7h0M121.2 945.7h0M115.4 932.9h0M114.8 944.6h0M120.2 937h0M97.6 957.2h0M128 929.1h0M87.6 939.7h0M134.9 924.4h0M108.7 945.7h0M120.1 931.7h0M86.8 927.9h0M103.6 937.9h0M109 944.1h0M78.3 929.5h0M111.1 958.2h0M121.1 950.9h0M111.8 947.9h0M104.8 941.1h0M123.8 940.2h0M103.1 955.6h0M109.3 938.3h0M103.6 921.9h0M99.4 939.1h0M133 944.7h0M92.1 944.8h0M86.9 945.3h0M129.7 945.6h0M125.7 941.3h0M96.5 931.4h0M79.9 946.6h0M94.7 944.8h0M124 929.3h0M126.1 939.7h0M121.6 934.7h0M85 951.8h0M108.7 946.9h0M96.7 941.1h0M108.2 936.4h0M106.2 943.9h0M141.4 932.6h0M101.8 944.5h0M113.9 955.3h0M73 940.5h0M112.8 938.2h0M79 937.2h0M98.4 932.4h0M103.3 945.2h0M114.3 947.7h0M88.2 915.9h0M122.2 935.7h0M71.3 944.6h0M103.3 945h0M121.5 943.2h0M116.7 941.1h0M96.1 948.4h0M122.7 930.4h0M122 945.2h0M100.7 947.4h0M88.8 928.5h0M114 947.6h0M139.2 929.7h0M140.6 931.6h0M81.6 942h0M119.7 941.9h0M114.7 937.6h0M120.6 924h0M98.1 929.2h0M150.5 940.5h0M106.2 926.2h0M85.5 938.6h0M87 938.8h0M125.5 938.9h0M104.5 938.5h0M123.6 950h0M115.2 942.8h0M102.8 946.3h0M100.3 945.2h0M119.9 939.9h0M93.9 938.8h0M124.4 919.2h0M112.5 933.6h0M79.3 956.2h0M84 943.7h0M89.6 932.8h0M119.4 937.4h0M82.9 957.1h0M106.7 939.7h0M87.6 940.1h0M78.4 952h0M96.7 946.9h0M137.1 938.5h0M87.9 940.8h0M95.2 949.6h0M132.2 941.9h0M94.3 935.6h0M104.3 946.2h0M104.7 952h0M128.5 929.4h0M97.2 954.6h0M79.5 940.6h0M104.4 938.3h0M112.1 933.2h0M115.1 942.3h0M161.5 933.4h0M86.5 937.8h0M97.2 944.8h0M133.2 936.6h0M81.9 947.2h0M96.1 943.2h0M121 925.3h0M93.8 932.7h0M85.7 935.3h0M118.5 936.4h0M118.1 951h0M106.9 934.7h0M90 946.2h0M125 924.3h0M124 928.2h0M112.4 944.9h0M122.2 925.6h0M93.5 951.5h0M126.1 923.5h0M115.7 936h0M125.9 938.7h0M113.5 940.8h0M134.2 937.8h0M89.6 934.7h0M130 935.3h0M100.3 940.6h0M94.4 944.6h0M124.1 930.6h0M93.4 936.8h0M123.8 943.6h0M100.7 932.1h0M97 937h0M138.4 943h0M123 936.2h0M127.4 936h0M107.6 945.9h0M102.5 937.8h0M92.8 950.7h0M135.9 936.9h0M97.9 950.3h0M113.6 937h0M115.6 937.5h0M100.1 947.1h0M80.7 924.4h0M92.6 947.2h0M122.5 945.3h0M81 933.7h0M117.9 924.1h0M128.4 916.1h0M121.9 917.9h0M84 939.5h0M102.9 941.2h0M108 939.3h0M117.6 934.4h0M95.2 945.1h0M88.7 942.9h0M113.3 937.9h0M57 939.2h0M94.2 937.2h0M110.2 952.7h0M84.3 946.6h0M98.1 951.9h0M81 944.3h0M97.7 945.3h0M87.5 941.2h0M144 926.6h0M95.9 950.7h0M110.3 925.8h0M96.8 946.8h0M84.3 944h0M107.7 944.4h0M128.1 934.9h0M125.2 945.7h0M119.5 942.3h0M151.9 927.4h0M79 933.2h0M104 937.2h0M67.2 941h0M82.5 943.1h0M98.1 947.3h0M75.3 923.5h0M88.2 945h0M114.2 944.3h0M100.6 938.7h0M75.5 946.7h0M108.2 940.8h0M146 939h0M131 940.6h0M119.2 936h0M53.7 947.4h0M57.7 948h0M70.4 947.6h0M65.3 946.1h0M59.3 955.2h0M64.4 952.7h0M55.3 953.4h0M68.4 948.7h0M59.6 944.1h0M57.8 944.9h0M52.4 949.3h0M58.4 944.4h0M60.7 948.3h0M50.1 953.7h0M70.6 950.6h0M60 951.1h0M71.5 942.3h0M63.9 942.1h0" stroke="#961454" stroke-width="3.3" stroke-linecap="round" fill="none" stroke-opacity="0.78"/>
<line x1="46.6" y1="949.26" x2="189.06" y2="924.4" stroke="#d9892b" stroke-width="1.3"/>
<line x1="261.4" y1="844.4" x2="432.5" y2="844.4" stroke="#444" stroke-width="0.9"/>
<line x1="432.5" y1="844.4" x2="432.5" y2="957.8" stroke="#444" stroke-width="0.9"/>
<line x1="261.4" y1="957.8" x2="432.5" y2="957.8" stroke="#444" stroke-width="0.9"/>
<line x1="261.4" y1="844.4" x2="261.4" y2="957.8" stroke="#333" stroke-width="1.2"/>
<line x1="256.6" y1="844.6" x2="261.4" y2="844.6" stroke="#333" stroke-width="0.9"/>
<text x="255.8" y="847.7" font-size="8.8" fill="#1a1a1a" text-anchor="end">20</text>
<line x1="256.6" y1="873" x2="261.4" y2="873" stroke="#333" stroke-width="0.9"/>
<text x="255.8" y="876.1" font-size="8.8" fill="#1a1a1a" text-anchor="end">15</text>
<line x1="256.6" y1="901.2" x2="261.4" y2="901.2" stroke="#333" stroke-width="0.9"/>
<text x="255.8" y="904.3" font-size="8.8" fill="#1a1a1a" text-anchor="end">10</text>
<line x1="256.6" y1="929.6" x2="261.4" y2="929.6" stroke="#333" stroke-width="0.9"/>
<text x="255.8" y="932.7" font-size="8.8" fill="#1a1a1a" text-anchor="end">5</text>
<line x1="256.6" y1="957.8" x2="261.4" y2="957.8" stroke="#333" stroke-width="0.9"/>
<text x="255.8" y="960.9" font-size="8.8" fill="#1a1a1a" text-anchor="end">0</text>
<line x1="261.4" y1="957.8" x2="261.4" y2="961.8" stroke="#333" stroke-width="0.9"/>
<text x="261.4" y="972.4" font-size="8.8" fill="#1a1a1a" text-anchor="middle">0</text>
<line x1="295.62" y1="957.8" x2="295.62" y2="961.8" stroke="#333" stroke-width="0.9"/>
<text x="295.62" y="972.4" font-size="8.8" fill="#1a1a1a" text-anchor="middle">0.5</text>
<line x1="329.84" y1="957.8" x2="329.84" y2="961.8" stroke="#333" stroke-width="0.9"/>
<text x="329.84" y="972.4" font-size="8.8" fill="#1a1a1a" text-anchor="middle">1.0</text>
<line x1="364.06" y1="957.8" x2="364.06" y2="961.8" stroke="#333" stroke-width="0.9"/>
<text x="364.06" y="972.4" font-size="8.8" fill="#1a1a1a" text-anchor="middle">1.5</text>
<line x1="398.28" y1="957.8" x2="398.28" y2="961.8" stroke="#333" stroke-width="0.9"/>
<text x="398.28" y="972.4" font-size="8.8" fill="#1a1a1a" text-anchor="middle">2.0</text>
<line x1="432.5" y1="957.8" x2="432.5" y2="961.8" stroke="#333" stroke-width="0.9"/>
<text x="432.5" y="972.4" font-size="8.8" fill="#1a1a1a" text-anchor="middle">2.5</text>
<text x="239.5" y="901.1" font-size="9.8" text-anchor="middle" fill="#111" transform="rotate(-90 239.5 901.1)"><tspan font-weight="bold" fill="#3d63a8">H3K9me3</tspan> (IP/Input)</text>
<text x="354.2" y="986.6" font-size="10.2" text-anchor="middle" fill="#111"><tspan fill="#dc9ad3">6mA</tspan> (%)</text>
<text x="428.1" y="855.3" font-size="8.6" fill="#1a1a1a" text-anchor="end">R (pearson): -0.49</text>
<path d="M289.8 957.5h0M355.2 957h0M269.7 957h0M344.8 956.7h0M345.2 957.5h0M293.5 957.1h0M334.4 956.8h0M326.9 957.6h0M292.5 957.7h0M323.2 957.7h0M373.2 957.2h0M302.6 957.4h0M338.3 957.5h0M264.1 956.8h0M342.5 957.2h0M363.2 957.6h0M381.8 957.6h0M366.1 956.4h0M300.9 957.4h0M381.8 957h0M273.3 957.3h0M377.8 957.8h0M273.8 957.6h0M344.9 957.6h0M373.1 957.4h0M312.9 957.6h0M316.5 957h0M324.1 957h0M338.5 956.7h0M382.7 956.4h0M385.7 956.9h0M355.7 957.5h0M360.2 956.9h0M344.8 957.4h0M278.2 957.6h0M319.2 956.7h0M329.7 957.4h0M382.2 956.8h0M374.4 957.7h0M318.4 957h0M262.1 957.1h0M268.4 956.4h0M304 957h0M388.7 957.3h0M301.3 957.7h0M393.6 957.3h0M278.6 957.5h0M305.7 957.7h0M273.9 957.6h0M350 957.5h0M377.5 956.7h0M284.2 957.2h0M337.9 957.6h0M321 957.6h0M284.1 957.7h0M345.2 957.4h0M313.2 957.2h0M348.3 957.7h0M301.1 957.7h0M339.7 957.7h0M264.6 957.6h0M268.1 957.8h0M262 956.5h0M342.1 957.5h0M380.9 956.2h0M338.1 957.3h0M379.4 956.6h0M312.7 957.6h0M347.7 957.7h0M319.3 957.7h0M345.6 956.9h0M331.2 957.4h0M375 957.3h0M274.9 957.3h0M322.4 957.6h0M324.9 956.6h0M265.6 957.4h0M323.9 957.7h0M328.9 957.2h0M298.3 955.7h0M305.7 956.8h0M281 957.7h0M338.7 957h0M351.5 957.6h0M357.7 957.4h0M396.1 956.9h0M363 957.7h0M299.9 956.9h0M360.6 957.7h0M393.9 957.2h0M273.8 957.3h0M275.5 957.7h0M280.9 957.1h0M274.5 957.6h0M355.6 957.2h0M399.8 957.6h0M300.3 957.8h0M380.4 957.6h0M353.5 957.3h0M374.9 957.6h0M371.1 957.6h0M360.1 957.5h0M346.7 957.3h0M294.4 957.1h0M301.5 956.7h0M279.9 956.9h0M276.8 956.8h0M354.6 957.3h0M280.7 957.4h0M289.3 957.7h0M346.5 957.7h0M329.6 957.8h0M274.1 957.4h0M352.1 957h0M383.5 957.4h0M272.6 957.2h0M269.1 956.4h0M381.7 956.6h0M288.6 957.5h0M382.9 957.4h0M374.6 956.9h0M276.9 957.7h0M356.7 957.7h0M315.9 957.7h0M319.5 957.3h0M338 957.5h0M265.8 957.6h0M300.7 957.5h0M363.4 957.5h0M324.7 957.4h0M298.5 956.6h0M361.2 957.6h0M373.2 956.4h0M292.3 957h0M339.1 957.7h0M325.7 957.6h0M327 957.3h0M273.4 956.3h0M339.1 956.7h0M295.4 957.3h0M318.3 957.8h0M313.8 957.7h0M302.1 957.8h0M355.3 957.6h0M361 957h0M334 957.5h0M274.7 957.1h0M293.6 956.6h0M355 957.2h0M323.4 956.9h0M302.1 957.1h0M328.6 957.2h0M365.9 957.7h0M288.4 956.5h0M301.2 957.8h0M290.8 957h0M357 956.9h0M308.8 957.7h0M343.1 957.3h0M366.2 956.8h0M345.4 956.9h0M381.3 957.4h0M324.6 957.6h0M264 957.4h0M284.6 957.7h0M323 957.1h0M344.9 957h0M325.8 957.7h0M357.1 957h0M266.9 957.4h0M366.6 956.3h0M277.2 957.4h0M355.7 957.5h0M311.8 957.5h0M390.3 956.5h0M278.6 957.7h0M265.6 956.9h0M364.4 956.8h0M401 957.5h0M383.3 956.6h0M293.2 957.6h0M349.5 957.8h0M300.9 957h0M385.6 957.7h0M307.5 957.7h0M388.8 957.3h0M350.2 957.1h0M332 957.5h0M368.7 957.7h0M373.2 957.4h0M288.3 957.7h0M305.2 957.7h0M348.7 957.3h0M379.9 957.2h0M376.5 957.1h0M265.2 957h0M352.5 957.2h0M362.9 957.4h0M288.6 957.5h0M396.7 957.7h0M387.8 956.9h0M399.5 956.6h0M277.2 957.7h0M273.5 957h0M331.4 957h0M334 957.4h0M381.3 956.8h0M358.9 956.9h0M320.9 957.2h0M380.2 957.3h0M320.2 956.7h0M268.9 957.8h0M272.1 956.9h0M303.5 957.2h0M279.6 957.4h0M305.3 957h0M298.4 957.8h0M268.8 957.5h0M363.9 957.3h0M296.9 957.5h0M317.6 955.6h0M292 957.1h0M282 957.5h0M331.2 957.1h0M264.2 957.8h0M269.8 957.3h0M261.4 957.4h0M338.3 957.4h0M339.2 957.5h0M321.5 957.8h0M359 957.8h0M357.3 957.5h0M308.7 956.3h0M293.4 957h0M359.5 956.9h0M354.4 957.6h0M308 956.8h0M372.4 957.5h0M265.2 957.2h0M273.5 957.4h0M305.8 956.7h0M279.2 957h0M306.5 956.9h0M288.8 956.5h0M348.1 956.3h0M298.6 957.4h0M351.4 956.9h0M273.6 957.6h0M347 957.3h0M312.6 957.5h0M373.1 957.5h0M376.9 957.1h0M316.4 957.8h0M317.9 957.8h0M296.6 957.6h0M282 957.4h0M403.7 957.3h0M382.3 957.7h0M281.4 957.3h0M370.1 957.6h0M276.8 957.7h0M312 956.7h0M377.1 957.2h0M381.5 957.7h0M301.2 957h0M345.5 956.6h0M297.2 956.4h0M381.8 957.7h0M383 956.5h0M335 957.7h0M306.8 957.7h0M327.9 957.3h0M375.5 957.6h0M351.6 957.5h0M369.3 957.4h0M371.7 956.3h0M310.9 957.3h0M285 957.6h0M302.8 956.7h0M335.5 957.3h0M361.6 957.3h0M332.9 957.6h0M308.5 956.6h0M343.8 957.7h0M301.1 957.2h0M363 957.8h0M343.8 957.6h0M373 956.4h0M321.1 957.7h0M352.9 957.1h0M288.8 957.5h0M402.2 956.7h0M286.8 957h0M384.9 957.4h0M325 957.5h0M295.9 957.7h0M397.8 957.6h0M365.6 957.7h0M306.2 957.7h0M316.2 957.4h0M292.1 957h0M322.2 956.9h0M314.6 957.6h0M403.7 957.5h0M352.7 957.8h0M328.7 957.6h0M283 956.2h0M358.5 956.9h0M331.9 957.3h0M280.5 956.7h0M374.4 957.6h0M309.7 956.8h0M375.9 957.7h0M384.7 957.4h0M356.1 957.5h0M376.5 957.2h0M322.8 957.2h0M360.5 957.5h0M282.7 957.7h0M375 957.1h0M332.6 957.5h0M262.6 956.8h0M338.8 957.3h0M372 956.8h0M312.3 957h0M396.8 957.7h0M315.9 956.8h0M360.9 957.6h0M340.3 957.3h0M305.8 957.1h0M262.1 957.1h0M288.3 957.5h0M262.4 957.5h0M307.8 957.3h0M342.1 957.2h0M369.7 957.8h0M314.7 957.5h0M313 957.7h0M265.7 957.3h0M320.2 957.4h0M281.9 956.8h0M325.6 956.4h0M348.1 957.5h0M367.4 956.9h0M298.5 957h0M355 957.5h0M378.5 957.7h0M281.5 956.9h0M384 957.7h0M360.4 956.7h0M386.6 956.4h0M322.3 957.6h0M267.6 957.3h0M308.9 957.7h0M361.5 957.7h0M283.5 956.4h0M291.4 957.2h0M329.6 956.8h0M332.5 957.6h0M314.5 957.7h0M274.2 957.6h0M319.6 957.6h0M392.1 957.7h0M307.4 957.2h0M311.2 957.5h0M282.4 957.2h0M346.7 956.3h0M331.2 957.7h0M270.1 956.5h0M276.3 957.3h0M373.6 956.8h0M274.9 956.8h0M280.4 956.5h0M327.8 957.3h0M329.3 956.7h0M354.3 957.4h0M366.8 957.5h0M336 957.5h0M337.5 957.3h0M272 957.8h0M291.6 957.7h0M321.5 957h0M264.5 957.1h0M328.6 957.5h0M355.6 956.8h0M357.2 956.5h0M297.6 957h0M340.8 957.5h0M269.4 956.5h0M339.1 957.5h0M295.3 957.5h0M347.3 956.7h0M320.4 956.7h0M290.5 957.7h0M276.6 957.5h0M321.6 957.5h0M265.4 957.1h0M334.4 956.8h0M290.6 956.8h0M376.5 957.7h0M335.3 957h0M373.6 957.1h0M304.7 957h0M366.6 957.4h0M264.5 957h0M307.6 956.9h0M300 957.5h0M277.3 957.7h0M311 957.4h0M344.1 956.6h0M379.2 957.4h0M272 957h0M296.2 957.3h0M392.9 957.8h0M360.3 957.2h0M372 957.4h0M363.2 957.6h0M399.6 957.5h0M374.7 956.6h0M401.7 957.6h0M261.6 899.1h0M263.1 906.2h0M262.6 901.1h0M263.1 893.5h0M261.7 909h0M262.5 901.8h0M261.7 890.1h0M262.5 927.5h0M262.2 889.5h0M262.6 915.9h0M261.7 916.7h0M262.3 877.3h0M262.3 910.8h0M262.3 888.9h0M262.3 890.1h0M261.8 891.4h0M261.8 918.9h0M261.4 922.4h0M264.8 894.5h0M261.7 906.1h0M262.3 901.3h0M261.7 902.4h0M262.1 901.1h0M262.4 886.7h0M261.8 915.1h0M263.4 914.9h0M264.5 920.8h0M262.1 879.2h0M262.2 920.6h0M263.9 924.6h0M261.9 937.8h0M261.8 902.1h0M261.4 915.6h0M261.6 916.2h0M264.6 912.4h0M261.6 905.9h0M263.8 915.7h0M261.8 886.9h0M263.3 899.6h0M263.5 917.4h0M261.7 909.4h0M262.2 898.1h0M263.5 920.5h0M262 892.5h0M263.4 915.6h0M263.9 907.7h0M263.4 900h0M263.4 899.1h0M262.8 901.1h0M262.7 928.1h0M282.3 911.8h0M279.6 913.6h0M262.7 899.3h0M266.3 911.3h0M270.6 917h0M283.3 883.6h0M289.3 912h0M296.5 907.9h0M295.3 921.1h0M268.1 895.9h0M280.7 904h0M264 909.5h0M268.8 911.4h0M302.4 930.3h0M262.4 905.9h0M274.2 922.9h0M270 921.8h0M289.1 921.8h0M268.9 917.5h0M266.1 879.5h0M284.8 918.3h0M262.8 895.1h0M262.2 901.7h0M266.7 902.7h0M264 899.4h0M270.8 917.6h0M284.1 907.9h0M278.6 917.5h0M276.8 913.8h0M267 893.2h0M278.9 910.3h0M267.5 930.5h0M288.6 921.2h0M281.5 894.1h0M272 905.6h0M301.8 911.3h0M265 922.4h0M288.9 895.7h0M263.9 917.1h0M278.8 896h0M271.2 882.2h0M272.5 919.2h0M277.9 910h0M271.6 909.4h0M278.6 911h0M273.5 916.6h0M265 921.4h0M282.7 899.7h0M271.8 878.1h0M269.9 904.3h0M277.8 916.5h0M279.8 916.3h0M278.1 908.2h0M284 899.1h0M277.6 891.1h0M284.4 918.6h0M278.8 913.9h0M270.5 899.8h0M281.8 894.2h0M282.6 923.6h0M337 937.3h0M348 944.8h0M333.5 947.3h0M307.9 924.4h0M308.2 934.9h0M333.3 928.1h0M356.9 938.5h0M340.2 941.6h0M358.2 937.8h0M315.7 922.1h0M297.2 934.9h0M330.5 934.3h0M345.9 950.5h0M298.7 949.7h0M315 924.2h0M343 942h0M361.6 941.4h0M322.3 952.2h0M294.3 930.1h0M325.4 943.4h0M355.9 941.5h0M350.4 947.4h0M350.3 945.2h0M332.7 952.7h0M351.5 944.1h0M339.7 945h0M332.9 950.8h0M291.2 941.8h0M307.9 920h0M349.4 952.4h0M359.3 953.2h0M321.7 931.8h0M342.9 945.1h0M300.1 937.6h0M282.8 921.5h0M355.6 935.5h0M290.9 931.5h0M319.4 943h0M358.8 939.2h0M291 913.8h0M301.6 923.2h0M285.5 943.1h0M332 941.8h0M302.4 950.2h0M315.9 940.4h0M284 868.8h0M289.5 877.9h0M316.2 883h0M340.8 877.9h0M262.8 933.4h0" stroke="#961454" stroke-width="3.3" stroke-linecap="round" fill="none" stroke-opacity="0.78"/>
<line x1="261.4" y1="918.11" x2="341.47" y2="957.8" stroke="#d9892b" stroke-width="1.3"/>
<line x1="261.4" y1="957.5" x2="432.5" y2="957.5" stroke="#333" stroke-width="0.8" stroke-dasharray="0.8 0.8"/>
<line x1="484.4" y1="844.4" x2="655.5" y2="844.4" stroke="#444" stroke-width="0.9"/>
<line x1="655.5" y1="844.4" x2="655.5" y2="958.3" stroke="#444" stroke-width="0.9"/>
<line x1="484.4" y1="958.3" x2="655.5" y2="958.3" stroke="#444" stroke-width="0.9"/>
<line x1="484.4" y1="844.4" x2="484.4" y2="958.3" stroke="#333" stroke-width="1.2"/>
<line x1="479.6" y1="844.6" x2="484.4" y2="844.6" stroke="#333" stroke-width="0.9"/>
<text x="478.8" y="847.7" font-size="8.8" fill="#1a1a1a" text-anchor="end">2.0</text>
<line x1="479.6" y1="872.7" x2="484.4" y2="872.7" stroke="#333" stroke-width="0.9"/>
<text x="478.8" y="875.8" font-size="8.8" fill="#1a1a1a" text-anchor="end">1.5</text>
<line x1="479.6" y1="901.3" x2="484.4" y2="901.3" stroke="#333" stroke-width="0.9"/>
<text x="478.8" y="904.4" font-size="8.8" fill="#1a1a1a" text-anchor="end">1.0</text>
<line x1="479.6" y1="929.8" x2="484.4" y2="929.8" stroke="#333" stroke-width="0.9"/>
<text x="478.8" y="932.9" font-size="8.8" fill="#1a1a1a" text-anchor="end">0.5</text>
<line x1="479.6" y1="958.3" x2="484.4" y2="958.3" stroke="#333" stroke-width="0.9"/>
<text x="478.8" y="961.4" font-size="8.8" fill="#1a1a1a" text-anchor="end">0</text>
<line x1="484.4" y1="958.3" x2="484.4" y2="962.3" stroke="#333" stroke-width="0.9"/>
<text x="484.4" y="972.4" font-size="8.8" fill="#1a1a1a" text-anchor="middle">0</text>
<line x1="518.62" y1="958.3" x2="518.62" y2="962.3" stroke="#333" stroke-width="0.9"/>
<text x="518.62" y="972.4" font-size="8.8" fill="#1a1a1a" text-anchor="middle">0.5</text>
<line x1="552.84" y1="958.3" x2="552.84" y2="962.3" stroke="#333" stroke-width="0.9"/>
<text x="552.84" y="972.4" font-size="8.8" fill="#1a1a1a" text-anchor="middle">1.0</text>
<line x1="587.06" y1="958.3" x2="587.06" y2="962.3" stroke="#333" stroke-width="0.9"/>
<text x="587.06" y="972.4" font-size="8.8" fill="#1a1a1a" text-anchor="middle">1.5</text>
<line x1="621.28" y1="958.3" x2="621.28" y2="962.3" stroke="#333" stroke-width="0.9"/>
<text x="621.28" y="972.4" font-size="8.8" fill="#1a1a1a" text-anchor="middle">2.0</text>
<line x1="655.5" y1="958.3" x2="655.5" y2="962.3" stroke="#333" stroke-width="0.9"/>
<text x="655.5" y="972.4" font-size="8.8" fill="#1a1a1a" text-anchor="middle">2.5</text>
<text x="462" y="901.35" font-size="9.8" text-anchor="middle" fill="#111" transform="rotate(-90 462 901.35)"><tspan font-weight="bold" fill="#cc2b62">H2A.Z</tspan> (IP/Input)</text>
<text x="574.2" y="986.6" font-size="10.2" text-anchor="middle" fill="#111"><tspan fill="#dc9ad3">6mA</tspan> (%)</text>
<text x="651" y="855.3" font-size="8.6" fill="#1a1a1a" text-anchor="end">R (pearson): 0.44</text>
<path d="M530.9 891.2h0M546.5 886.9h0M564.4 873.3h0M510.1 893.3h0M546.5 887.6h0M526 892.8h0M560.3 898.1h0M567.3 878.6h0M522.3 900.9h0M568.5 885.2h0M530.4 890.4h0M532 875.3h0M545.3 879h0M518.4 880.2h0M518 893h0M540.6 893h0M533.4 880.1h0M532.5 887.3h0M540.9 899.6h0M536.6 897.5h0M552.2 886.1h0M555.8 886.2h0M581.8 879.6h0M579.1 883h0M493.6 885h0M547.2 888.5h0M560.2 890.5h0M533 879.6h0M564.4 890.8h0M577.9 878h0M525.1 886.3h0M582.8 884.5h0M527.4 888.2h0M553.5 889.4h0M521.9 896h0M539.1 884.2h0M534.1 888.5h0M545.7 888.9h0M524.2 885.6h0M517.6 883.3h0M556.2 888.1h0M541 889.3h0M549 886.8h0M560.2 884.8h0M507.9 892.2h0M565 885.5h0M540.1 898.4h0M546.8 889h0M528.9 890.7h0M535.7 895.5h0M529.8 891.1h0M564.5 881.5h0M541.7 887.2h0M540.1 890.2h0M534.7 899.8h0M552.2 887.3h0M519 888.6h0M551.6 890.6h0M499.9 889h0M583.6 881.2h0M529.1 887.1h0M589.4 878.6h0M509.8 885.9h0M559.8 883.1h0M525.2 896.7h0M538.2 893.3h0M529.5 891.6h0M550.3 883.4h0M537.8 891.7h0M516.4 883h0M549.1 879h0M538.6 891.1h0M497.1 903.8h0M522.4 896.5h0M525.4 890.4h0M574.3 888.4h0M543.7 884.7h0M531 896.7h0M542.6 889.4h0M526.1 892.2h0M563.1 888.7h0M504.8 898.9h0M608.5 882.2h0M552.4 887.6h0M514.1 887h0M533.8 882.9h0M546 882.8h0M534.7 894.4h0M563.7 894.7h0M570.3 896.5h0M551.3 888.7h0M553.7 883.6h0M537.6 882.6h0M563.2 885.1h0M546.8 878.7h0M579.3 887.6h0M526.7 891.3h0M487.2 893.3h0M558.8 885.6h0M539.2 876.1h0M587.3 875.2h0M517.3 892h0M543.3 892.8h0M519 891.1h0M541.1 896.4h0M531.6 878.7h0M556 880h0M541.7 891.4h0M550 874.5h0M550.2 884.7h0M511.8 898.5h0M538.9 895.5h0M544 883.8h0M548 890.3h0M536.4 891.4h0M550.2 884.9h0M539.9 892.9h0M569.7 883.9h0M513.2 897h0M556.2 880.6h0M537.2 898.6h0M500.4 900.5h0M568.3 887.7h0M538.5 891.8h0M535.3 878.2h0M552.7 884.8h0M536.2 887.6h0M563.9 880.1h0M514.7 900.3h0M527.5 894.8h0M547.1 896.2h0M536.3 888.4h0M548.5 890.3h0M542.8 892.7h0M546.1 885.4h0M517.8 893.9h0M531.7 896.7h0M535.5 890.1h0M517.3 898.3h0M543.1 884h0M536.4 893.2h0M547.5 882.6h0M519.7 897.4h0M519.6 894.9h0M566.6 884.5h0M558.3 892.1h0M561.4 888.9h0M544.7 893.9h0M573 880.3h0M517.4 886.4h0M550.7 887.6h0M573.9 880.5h0M557.6 894h0M544.2 901.4h0M519.2 894.8h0M535.7 889.1h0M548.6 890.6h0M530.8 896.7h0M533.1 881.7h0M550.3 894.2h0M537.6 889.8h0M504.4 896.8h0M554 885h0M531.1 890.5h0M535.8 893h0M532.4 896h0M534.9 892.3h0M544 886.9h0M554.4 894h0M525.1 887.5h0M576.8 881.1h0M553.6 876.9h0M536.1 886.6h0M554.3 892.8h0M551.5 898.5h0M562.4 881.7h0M543.4 893.3h0M515.5 889.5h0M520.7 886.9h0M515.6 887h0M549.2 895.9h0M546.1 889.5h0M504.9 899.6h0M533.3 885.9h0M589.1 884.5h0M529.4 892.5h0M531.1 889.6h0M592.4 874.4h0M558.1 887.9h0M542.8 898.8h0M518 893.2h0M544.3 888.4h0M548.3 886.4h0M521.7 892.6h0M522.4 901.9h0M489.3 894.2h0M570.3 882.5h0M569.7 889.6h0M554.3 884h0M521 884.2h0M543.4 888.7h0M546.2 892h0M534.9 888.2h0M514.1 888.1h0M533.9 881.6h0M566.4 881h0M550.2 881.2h0M512.9 895.8h0M533.2 888h0M559.1 888.8h0M537.1 886.5h0M539.8 890.9h0M541.3 896.4h0M533.7 899.9h0M566 887.5h0M535.1 880h0M533.2 884.6h0M520.5 901.5h0M585.2 886.1h0M566.8 881.9h0M498.7 893h0M547 888.2h0M536.6 886.8h0M565 892.1h0M561.7 878.5h0M512.3 895.2h0M592.2 884.4h0M522.7 895.2h0M591.9 878.3h0M532.9 889.1h0M542.5 887.1h0M552.7 886h0M576.7 882h0M513.1 893.1h0M531.1 889.8h0M560.5 897.4h0M545.2 888h0M526.1 891.7h0M559.5 887.8h0M547.8 880.1h0M533.4 896.5h0M584.7 884.9h0M543.8 891.4h0M523.2 889.6h0M526.7 900.5h0M524.1 885.3h0M553.6 881.7h0M542 892.5h0M555.1 879.6h0M556.6 887.3h0M506.7 889.9h0M542.6 889.1h0M552.6 888.3h0M549.5 899.8h0M538.2 891.2h0M556.8 883.2h0M519 886.4h0M537 886.2h0M553.2 885.2h0M563.2 885.9h0M539.1 904.7h0M535.7 899.8h0M514.3 894.8h0M563 885.6h0M523.4 884.7h0M563.7 881.3h0M554.9 890.3h0M544.8 883.4h0M549.7 887.9h0M524 889.7h0M550.9 889.8h0M537 892.3h0M513.4 888h0M567 890.6h0M526.4 891.6h0M559.9 886.2h0M527.3 895.7h0M540.9 892.2h0M497.5 902h0M528.5 890.9h0M555.6 887h0M544.7 885.7h0M551.5 887.9h0M532.4 890.2h0M548.7 876h0M557.6 891.9h0M515.4 906.4h0M566.6 892.3h0M540.3 895.2h0M560.1 894.6h0M533.5 887.3h0M553.8 886.1h0M531.8 893h0M522 897.8h0M496 883.8h0M528.1 891.9h0M558.7 888.3h0M533.9 885.3h0M532.3 887.1h0M509.1 894h0M540.8 885.6h0M550.6 899.1h0M537.6 887.9h0M562.8 882.5h0M518.8 884.3h0M592.3 883.9h0M569.1 871.1h0M518.9 891.8h0M530.3 891.3h0M507.3 893.3h0M556.1 895.1h0M568.4 899.8h0M581.5 868h0M522.7 878.5h0M586.8 885.3h0M557.3 880.6h0M536.8 888.5h0M522.1 889.2h0M538.2 886.1h0M555.3 888.7h0M593.5 882.6h0M523.1 898.9h0M508.3 892.6h0M570.4 890.2h0M558.3 889h0M576 885.8h0M563 889.9h0M548.2 889.4h0M523.7 889.1h0M553.9 897.5h0M558 885.1h0M543.7 886.7h0M553.6 897.8h0M575.1 883.3h0M552.4 894.4h0M579.8 895h0M566.7 877.3h0M546.6 890.8h0M538.7 882.9h0M540.6 886.6h0M541.5 897h0M510.6 894.2h0M521.6 894.7h0M563 893.8h0M575.6 886.9h0M545.4 880.9h0M537.7 892.8h0M520.8 899.7h0M567 873.9h0M500.2 900.6h0M507.9 905.2h0M516 898.8h0M511.8 890.1h0M517.7 892.1h0M591.4 883.6h0M537.8 880.8h0M547.8 875.5h0M512 890h0M569.1 881.3h0M531.8 886.6h0M557.7 894.8h0M530.4 896.9h0M528.1 897.6h0M534.6 884.9h0M535.2 888.9h0M567.2 885h0M562.1 892.5h0M521.3 890.9h0M537.9 896.1h0M545.4 892.8h0M536.7 881.8h0M505.7 901.7h0M549.1 882.6h0M526.2 886.3h0M553.5 887.8h0M567.5 882.2h0M562 885.6h0M535.1 890.4h0M545.9 892.3h0M538.8 883.6h0M542.4 891.8h0M529 886.4h0M575.1 878.1h0M558.1 894.4h0M541.2 896.4h0M536.7 887.1h0M515.1 887.5h0M512.5 882h0M528.7 902.3h0M564.8 884.7h0M538.8 886.3h0M547.9 876.5h0M556.9 888.3h0M544 897.5h0M585.4 882.4h0M540.9 892.9h0M517 891.2h0M553.3 888.6h0M543.5 885.2h0M559.4 891.2h0M502.7 894.4h0M579.9 894.3h0M557.1 886.7h0M574.3 886.8h0M551.1 876.9h0M562.7 881.4h0M499.9 890.6h0M570.7 892.4h0M526.4 896.5h0M549.2 874h0M534.2 883.7h0M527.5 898.9h0M581.6 893.4h0M577.1 875.7h0M524.7 888.8h0M528.3 892.3h0M571.2 894.2h0M544.5 885.8h0M499.9 903.7h0M547.2 870.9h0M601.2 892.5h0M529.6 890.1h0M544.9 877.6h0M540.3 893.8h0M587.7 884.9h0M540.2 889.9h0M547.3 874.8h0M575.1 878.6h0M543.5 882.4h0M522.4 892.5h0M547.6 886.9h0M550.5 886.8h0M547.5 885.9h0M542.1 881.3h0M531.4 888.8h0M540.9 882.7h0M517.9 888.2h0M511.9 893.9h0M533.2 892.2h0M568.7 882.2h0M503.6 899.1h0M551.7 890.4h0M545.7 887.2h0M549.8 882.9h0M527.4 890.2h0M547.8 883.1h0M560.4 882.6h0M548.6 886.9h0M584.4 881.7h0M546 888h0M538.7 885.2h0M544.6 882.7h0M566 887h0M540.3 887h0M552.9 881.9h0M569 888.4h0M515.9 897.7h0M571.3 878.5h0M541.9 892.1h0M521.4 890.4h0M534.2 899h0M537.3 883.4h0M524.9 896.4h0M529.9 900.4h0M528.5 895.9h0M549.1 888.7h0M493.8 893.6h0M531 898.1h0M546.5 885.2h0M553.5 893.9h0M536.3 896.2h0M529.1 896.4h0M511.8 885.7h0M549.3 886.8h0M559.9 883h0M553.8 890.7h0M564.2 876.3h0M525.5 882.5h0M560.7 894.9h0M552.1 888.6h0M569.3 883.9h0M539.3 881.5h0M535.7 893.3h0M553.4 888.9h0M527.7 892.1h0M534.8 882h0M514.8 899.8h0M540.7 886.4h0M536.9 881h0M539.5 888.4h0M564.3 882.2h0M558.6 887.3h0M561 884.6h0M557.5 885.6h0M550.8 891.4h0M536.1 885.4h0M537.1 891.4h0M563.6 888.8h0M545.9 882h0M550.8 893.8h0M514.5 889.5h0M569.1 885.4h0M549.8 883.2h0M529.9 895.4h0M514.5 891.6h0M509.8 894.1h0M593.8 878.4h0M523.1 884.5h0M532.7 894.5h0M530 904.6h0M554 882h0M523.3 886.6h0M495.2 891.4h0M572.4 886.6h0M553.8 896.2h0M548.6 887.3h0M548.7 896.1h0M560.2 885.9h0M546.2 895.8h0M544.6 878.2h0M539.5 889.5h0M552.5 895.1h0M553.9 888h0M541.7 886.1h0M539.2 878.1h0M507.5 886h0M540.1 890.7h0M547.5 900h0M569 881.5h0M561.4 885.5h0M524.2 884.4h0M534.2 891.9h0M516 893.7h0M547.2 882.4h0M518 891.5h0M558.8 886h0M525.1 881.8h0M531.3 897.6h0M548.5 878.2h0M531.1 889.1h0M559.8 893.3h0M546.6 895.2h0M523.6 895h0M565.7 890.3h0M545.4 889.9h0M551.1 877.7h0M538.8 874.4h0M532.5 889.9h0M512.7 890.3h0M561.2 890.7h0M532.3 891.4h0M519 887.1h0M541.6 887.3h0M549.4 889.8h0M572.4 888.4h0M567 882.9h0M544.6 892.8h0M548.6 885.8h0M540.7 883.3h0M527.3 886.5h0M531.3 890h0M513.9 890.2h0M562.4 889.8h0M559.8 885.6h0M562.6 889.5h0M556.1 876.3h0M529.5 885.6h0M535 893.7h0M580.9 885.3h0M546.5 892.9h0M528.7 886.7h0M565.7 891.5h0M544.9 886h0M537.1 886.7h0M569.4 882h0M547.1 888.5h0M556.5 882.4h0M526.1 890.1h0M518.9 887h0M547.9 887.2h0M552 889.8h0M561.2 886.7h0M565.1 875.8h0M547.6 893.7h0M558.9 886.7h0M543.6 898.7h0M512.3 895.3h0M533.3 884.1h0M558.6 882.3h0M561 887.2h0M545.2 895.4h0M529.3 893h0M567 877.5h0M557.7 884.2h0M551.4 891.7h0M500.8 902h0M493.5 909.7h0M491.5 900.1h0M487.1 912.4h0M488.9 904.4h0M492.5 910.8h0M489.7 908.9h0M502.4 903.5h0M490.7 901.8h0M489.5 902.6h0M486.4 903.9h0M488.5 898h0M492.8 907.2h0M491.9 910.2h0M486.8 905.1h0M487.5 909.5h0M495.8 911.2h0M498 905.7h0M495.1 910.2h0M491.2 904.3h0M485.5 896.3h0M485.9 902.7h0M491.1 898.1h0M496.1 904.3h0M484.7 896.4h0M485.9 900.3h0M486.5 909h0M487.3 901.4h0M494.8 903.6h0M494 901.2h0M489.9 905.5h0M487.6 900.1h0M499.2 907.2h0M490.8 901.7h0M487.4 899.8h0M487.4 894.8h0M494 905.4h0M489.3 908.8h0M485.1 906.3h0M488.6 903.8h0M490.3 907.9h0M504.3 903.3h0M485 891.2h0M486 912.3h0M501 903h0M502.5 901.7h0M507 915.2h0M487.8 895.6h0M484.9 911.1h0M489.7 904.3h0M493.7 906.8h0M501.3 908.8h0M486.7 909.5h0M491.7 901.7h0M489.5 904.4h0M502.3 901.9h0M484.5 919.5h0M485.9 909.6h0M490.8 911.5h0M491.7 906.9h0M485.1 902.4h0M493.4 907h0M487.4 908.9h0M501.3 899.9h0M491.2 907.5h0M491.3 903.3h0M492.3 907.3h0M491.3 915.7h0M486.7 910h0M496.2 903.7h0M492.8 901.6h0M486.1 903h0M486.5 909.4h0M486.5 912.8h0M494.7 898.8h0M489.8 905.8h0M493.9 899.2h0M489.4 907.1h0M490.1 907.4h0M499.2 914h0M484.4 928.7h0M485.1 927h0M484.4 877.4h0M548 855.8h0M525.5 864.3h0M566.5 860.3h0" stroke="#961454" stroke-width="3.3" stroke-linecap="round" fill="none" stroke-opacity="0.78"/>
<line x1="484.4" y1="898.5" x2="615.12" y2="878" stroke="#d9892b" stroke-width="1.3"/>
</svg>
</body></html>
